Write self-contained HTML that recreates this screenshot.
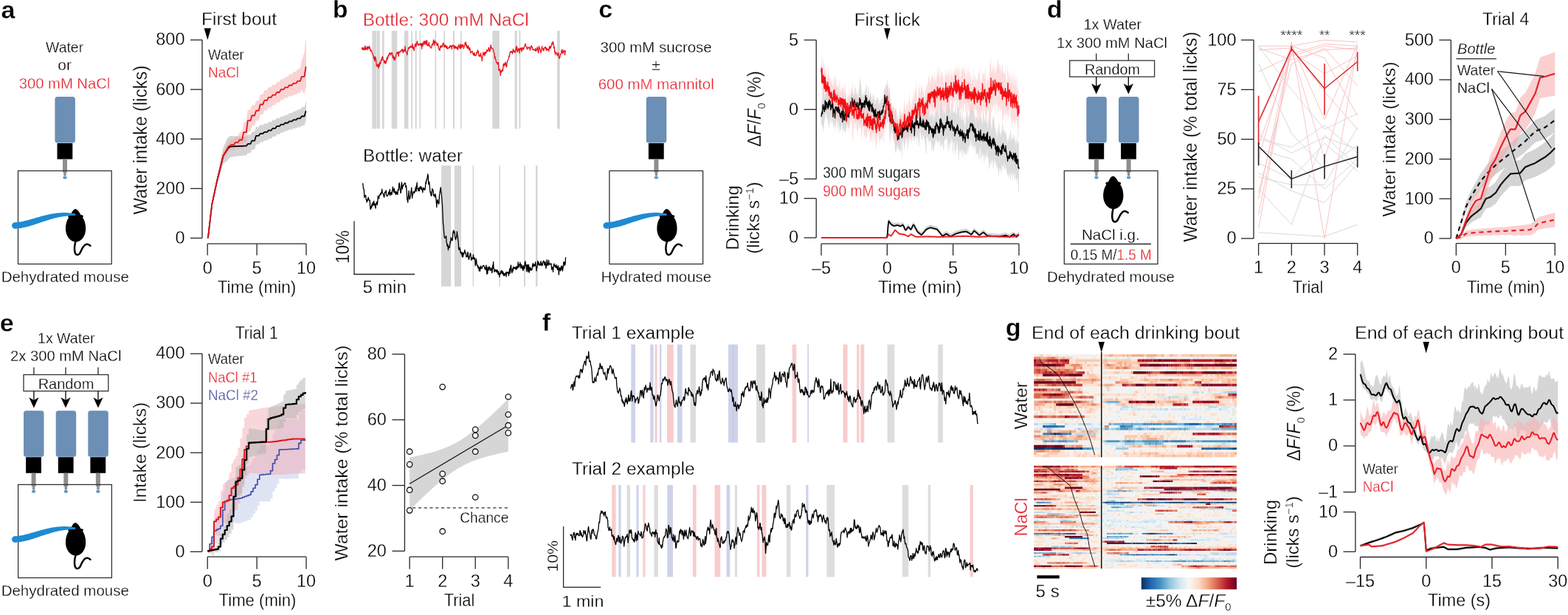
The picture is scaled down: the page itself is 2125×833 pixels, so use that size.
<!DOCTYPE html><html><head><meta charset="utf-8"><title>Figure</title><style>html,body{margin:0;padding:0;background:#fff;overflow:hidden}svg{display:block}text{stroke:#fff;stroke-width:.3px}</style></head><body><svg width="2125" height="833" viewBox="0 0 2125 833" font-family="'Liberation Sans', Arial, Helvetica, sans-serif" font-size="21" fill="#000"><rect width="2125" height="833" fill="#fff"/><text x="1.4" y="24.8" font-size="34" font-weight="bold">a</text>
<text x="87.6" y="71.3" text-anchor="middle" textLength="51" lengthAdjust="spacingAndGlyphs">Water</text>
<text x="87.6" y="95.2" text-anchor="middle">or</text>
<text x="87.5" y="119.7" text-anchor="middle" fill="#e4202a" textLength="123.7" lengthAdjust="spacingAndGlyphs">300 mM NaCl</text>
<rect x="74.4" y="131" width="27.5" height="62.6" rx="3.5" fill="#6c8fb6"/>
<rect x="77.5" y="194" width="20.8" height="21.6" fill="#000"/>
<path d="M85 215.6h6v18h-1.3v4.6h-3.4v-4.6h-1.3z" fill="#8e8e8e"/>
<ellipse cx="88" cy="240.6" rx="2.7" ry="2" fill="#5b97cf"/>
<rect x="24.5" y="231.4" width="126.7" height="126.2" fill="none" stroke="#333" stroke-width="1.3"/>
<g transform="translate(0 0)"><path d="M102.1 283C104.5 283.2 107.5 287 109.6 291.2C110.8 291 112.4 291.3 112.8 292.4C113 293.4 112.6 294.2 112 294.6C114.8 298.5 116.3 304 116.2 310.5C116 319.5 110.5 327.5 102.8 327.8C95 327.5 89.2 319.5 88.9 310.5C88.8 304 90.4 298.5 93.2 294.6C92.5 294.2 92 293.4 92.3 292.4C92.8 291.3 94.3 291 95.5 291.2C97.5 287 99.8 283.2 102.1 283Z" fill="#000"/><path d="M102.6 326.5C101.3 331 100.5 337 101.5 341.5C102.5 346 106.5 346.5 108.8 342C110.5 338.5 112 334 115.5 331.5C118 330 120.5 330.8 122.5 332.8" stroke="#000" stroke-width="2.5" fill="none" stroke-linecap="round"/></g>
<g transform="translate(0 0)"><path d="M20.4 309.7 22.4 309.6 24.4 309.4 26.4 309.2 28.5 308.9 30.4 308.5 32.4 308.1 34.4 307.7 36.3 307.2 38.3 306.7 40.3 306.2 42.2 305.6 44.1 305 46.1 304.4 48 303.7 50 303.1 51.9 302.5 53.9 301.8 55.8 301.1 57.8 300.5 59.8 299.8 61.8 299.2 63.8 298.5 65.8 297.9 67.8 297.3 69.9 296.7 72 296.1 74.1 295.5 76.2 295 78.4 294.5 80.5 294.1 82.8 293.7 85 293.3 87.3 293 89.7 292.7 92 292.4 94.5 292.3 96.9 292.1 99.5 292.1 102.1 292.1 102.3 289.5 99.7 289.1 97.1 288.7 94.5 288.4 92 288.2 89.5 288.1 87 288.1 84.6 288.1 82.1 288.2 79.8 288.4 77.4 288.6 75.1 288.9 72.8 289.2 70.5 289.6 68.3 290 66.1 290.4 63.9 290.9 61.8 291.4 59.7 292 57.6 292.5 55.5 293.1 53.5 293.7 51.5 294.2 49.5 294.8 47.5 295.4 45.6 296 43.7 296.6 41.8 297.1 39.9 297.6 38 298.2 36.2 298.6 34.3 299.1 32.5 299.5 30.7 299.9 28.9 300.3 27.1 300.6 25.3 300.8 23.6 301 21.8 301.2 20 301.3Z" fill="#1e8ad2"/><circle cx="20.3" cy="305.5" r="4.25" fill="#1e8ad2"/></g>
<text x="88.3" y="381.7" text-anchor="middle" font-size="20.3" textLength="173.3" lengthAdjust="spacingAndGlyphs">Dehydrated mouse</text>
<text x="273" y="34" font-size="23" textLength="102" lengthAdjust="spacingAndGlyphs">First bout</text>
<path d="M276.6 38.2L286 38.2L281.3 54Z" fill="#000"/>
<text x="282" y="81" font-size="20" textLength="48.6" lengthAdjust="spacingAndGlyphs">Water</text>
<text x="282" y="105" fill="#e4202a" font-size="20" textLength="42" lengthAdjust="spacingAndGlyphs">NaCl</text>
<path d="M281.2 322.5l.3-.2.4-.1.3-1.7.3-2.8.4-2.7.3-2.8.3-2.7.4-2.8.3-2.8.3-2.7.4-2.8.3-2.7.3-2.8.4-2.7.3-2.8.4-2.8.3-2.7.3-2.8.4-1.4.3-1.4.3-1.4.4-1.4.3-1.5.3-1.4.4-1.4.3-1.4.3-1.4.4-1.5.3-1.4.3-1.4.4-1.4.3-1.4.3-1.5.4-1.4.3-1.4.3-1.4.4-1.4.3-1.5.3-1.3.4-1.2.3-1.1.3-1.1.4-1.1.3-1.1.4-1.1.3-1.1.3-1.1.4-1.1.3-1.1.3-1.1.4-1.1.3-1.1.3-1.1.4-1.1.3-1.1.3-1.1.4-1.1.3-1.1.3-1.1.4-1.1.3-1.1.3-1.1.4-1.1.3-1.1.3-.2.4-.2.3-.3.3-.2.4-.3.3-.2.3-.3.4-.2.3-.3.4-.2.3-.2.3-.3.4-.2.3-.3.3-.2.4-.3.3-.5.3-.6.4-.5.3-.5.3-.6.4-.4.3-.2.3-.2.4-.2.3-.2.3-.2.4-.2.3-.2.3-.2.4-.2.3-.2.3-.1.4 0 .3 0 .3-.1.4 0 .3-.1.4 0 .3 0 .3-.1.4 0 .3-.1.3-.1.4 0 .3-.1.3-.1.4-.1.3 0 .3-.1.4 0 .3-.1.3 0 .4 0 .3-.1.3 0 .4-.1.3 0 .3 0 .4 0 .3-.1.3 0 .4-.1.3-.1.4 0 .3-.1.3 0 .4 0 .3 0 .3 0 .4-.1.3 0 .3 0 .4 0 .3 0 .3-.1.4 0 .3-.1.3 0 .4-.1.3 0 .3-.1.4 0 .3-.1.3 0 .4 0 .3 0 .3 0 .4-.1.3 0 .3 0 .4 0 .3 0 .4-.4.3-.5.3-.5.4-.5.3-.4.3-.5.4-.2.3 0 .3 0 .4 0 .3 0 .3-.1.4 0 .3 0 .3 0 .4 0 .3-.1.3-.6.4-.8.3-.8.3-.7.4-.8.3-.7.3-.1.4 0 .3 0 .3 0 .4 0 .3-.1.4 0 .3 0 .3 0 .4-.1.3-.1.3-1.1.4-1.2.3-1.2.3-1.1.4-1.2.3-.9.3 0 .4-.1.3 0 .3 0 .4 0 .3 0 .3 0 .4 0 .3 0 .3 0 .4-.2.3-.5.3-.5.4-.5.3-.5.3-.5.4-.3.3 0 .4 0 .3 0 .3-.1.4 0 .3 0 .3 0 .4 0 .3 0 .3 0 .4-.2.3-.3.3-.4.4-.3.3-.4.3-.4.4-.1.3 0 .3 0 .4 0 .3 0 .3 0 .4 0 .3-.1.3 0 .4 0 .3 0 .3-.3.4-.4.3-.4.4-.4.3-.4.3-.4.4 0 .3-.1.3 0 .4 0 .3 0 .3 0 .4 0 .3 0 .3 0 .4 0 .3 0 .3-.5.4-.5.3-.4.3-.5.4-.5.3-.5.3 0 .4 0 .3 0 .3-.1.4 0 .3 0 .3 0 .4 0 .3 0 .4 0 .3-.1.3-.4.4-.5.3-.5.3-.5.4-.5.3-.4.3 0 .4 0 .3 0 .3 0 .4-.1.3 0 .3 0 .4 0 .3 0 .3 0 .4-.1.3-.4.3-.4.4-.4.3-.4.3-.4.4-.2.3 0 .4 0 .3 0 .3-.1.4 0 .3 0 .3 0 .4 0 .3 0 .3 0 .4-.2.3-.4.3-.3.4-.4.3-.4.3-.4.4-.1.3 0 .3 0 .4-.1.3 0 .3 0 .4.1.3 0 .3 0 .4 0 .3.1.3-.3.4-.3.3-.3.4-.4.3-.3.3-.3.4-.1.3 0 .3.1.4 0 .3 0 .3 0 .4.1.3 0 .3 0 .4 0 .3.1.3-.3.4-.3.3-.3.3-.4.4-.3.3-.3.3 0 .4.1.3 0 .3 0 .4 0 .3.1.3 0 .4 0 .3 0 .4.1.3 0 .3-.4.4-.3.3-.3.3-.3.4-.3.3-.3.3.1.4 0 .3 0 .3 0 .4.1.3 0 .3 0 .4 0 .3.1.3 0 .4-.1.3-.5.3-.4.4-.5.3-.4.3-.5.4-.3.3.1.3 0 .4 0 .3 0 .4.1.3 0 .3 0 .4 0 .3.1.3 0 .4-.5.3-1.2.3-1.1.4-1.1.3-1.2.3-1.1.4-.5.3.1 0-25.5-.3 0-.4.5-.3 1.2-.3 1.2-.4 1.1-.3 1.2-.3 1.2-.4.6-.3 0-.3 0-.4.1-.3 0-.3 0-.4 0-.3.1-.4 0-.3 0-.3 0-.4.4-.3.5-.3.5-.4.5-.3.5-.3.5-.4.1-.3.1-.3 0-.4 0-.3 0-.3.1-.4 0-.3 0-.3 0-.4.1-.3 0-.3.3-.4.4-.3.3-.3.4-.4.4-.3.3-.3.1-.4 0-.3 0-.4.1-.3 0-.3 0-.4 0-.3.1-.3 0-.4 0-.3 0-.3.4-.4.4-.3.3-.3.4-.4.4-.3.3-.3 0-.4 0-.3.1-.3 0-.4 0-.3 0-.3.1-.4 0-.3 0-.3 0-.4.1-.3.4-.3.4-.4.4-.3.4-.4.4-.3.2-.3.1-.4 0-.3 0-.3 0-.4.1-.3-.1-.3 0-.4 0-.3 0-.3 0-.4.2-.3.3-.3.4-.4.3-.3.4-.3.4-.4.1-.3 0-.3 0-.4 0-.3 0-.3 0-.4 0-.3 0-.3 0-.4-.1-.3 0-.4.3-.3.3-.3.4-.4.4-.3.4-.3.3-.4.1-.3 0-.3 0-.4 0-.3 0-.3 0-.4 0-.3 0-.3 0-.4 0-.3 0-.3.3-.4.5-.3.5-.3.5-.4.4-.3.5-.3 0-.4 0-.3 0-.4 0-.3 0-.3 0-.4 0-.3 0-.3 0-.4 0-.3 0-.3.4-.4.5-.3.5-.3.5-.4.4-.3.5-.3 0-.4-.1-.3 0-.3 0-.4 0-.3 0-.3 0-.4 0-.3 0-.3 0-.4 0-.3.4-.3.4-.4.4-.3.4-.4.4-.3.2-.3 0-.4 0-.3 0-.3 0-.4 0-.3 0-.3 0-.4 0-.3-.1-.3 0-.4.2-.3.3-.3.3-.4.4-.3.3-.3.4-.4.1-.3 0-.3 0-.4 0-.3 0-.3 0-.4 0-.3 0-.3-.1-.4 0-.3 0-.4.3-.3.5-.3.5-.4.5-.3.5-.3.5-.4.1-.3 0-.3 0-.4 0-.3 0-.3 0-.4-.1-.3 0-.3 0-.4 0-.3 0-.3.9-.4 1.1-.3 1.1-.3 1.1-.4 1.2-.3 1.1-.3 0-.4 0-.3 0-.3 0-.4 0-.3-.1-.4 0-.3 0-.3 0-.4 0-.3-.1-.3.8-.4.7-.3.7-.3.7-.4.7-.3.7-.3-.1-.4 0-.3 0-.3 0-.4 0-.3-.1-.3 0-.4 0-.3 0-.3 0-.4 0-.3.5-.3.4-.4.5-.3.4-.3.5-.4.3-.3-.1-.4 0-.3 0-.3 0-.4 0-.3-.1-.3 0-.4 0-.3 0-.3 0-.4 0-.3 0-.3 0-.4 0-.3 0-.3 0-.4 0-.3 0-.3 0-.4 0-.3-.1-.3 0-.4 0-.3 0-.3 0-.4-.1-.3 0-.3 0-.4 0-.3.1-.4 0-.3 0-.3 0-.4 0-.3 0-.3-.1-.4 0-.3 0-.3-.1-.4 0-.3 0-.3-.1-.4 0-.3-.1-.3 0-.4 0-.3 0-.3 0-.4 0-.3 0-.3 0-.4-.1-.3 0-.3-.1-.4 0-.3-.1-.4 0-.3 0-.3-.1-.4 0-.3-.1-.3.2-.4.1-.3.1-.3.1-.4.1-.3.2-.3.1-.4.1-.3.1-.3.1-.4.4-.3.4-.3.5-.4.4-.3.5-.3.4-.4.8-.3.7-.3.8-.4.7-.3.8-.3.7-.4.8-.3.7-.4.8-.3.7-.3.8-.4.7-.3.8-.3.7-.4.8-.3.7-.3 1.6-.4 1.6-.3 1.6-.3 1.6-.4 1.6-.3 1.6-.3 1.6-.4 1.6-.3 1.6-.3 1.6-.4 1.6-.3 1.6-.3 1.6-.4 1.6-.3 1.6-.3 1.6-.4 1.6-.3 1.6-.3 1.6-.4 1.6-.3 1.6-.4 1.6-.3 1.6-.3 1.6-.4 1.5-.3 1.6-.3 1.6-.4 1.7-.3 1.7-.3 1.7-.4 1.6-.3 1.7-.3 1.7-.4 1.6-.3 1.7-.3 1.7-.4 1.7-.3 1.6-.3 1.7-.4 1.7-.3 1.6-.3 1.7-.4 1.7-.3 1.7-.3 1.6-.4 1.7-.3 3-.3 3-.4 3-.3 3-.4 3-.3 3.1-.3 3-.4 3-.3 3-.3 3-.4 3-.3 3-.3 3-.4 3-.3 3-.3 2-.4.4-.3.4Z" fill="#d4d4d4"/>
<path d="M281.2 322.5l.3-.2.4-.2.3-1.7.3-2.8.4-2.8.3-2.8.3-2.8.4-2.8.3-2.8.3-2.8.4-2.8.3-2.8.3-2.8.4-2.8.3-2.8.4-2.8.3-2.8.3-2.8.4-1.5.3-1.4.3-1.5.4-1.5.3-1.4.3-1.5.4-1.5.3-1.4.3-1.5.4-1.4.3-1.5.3-1.5.4-1.4.3-1.5.3-1.4.4-1.5.3-1.5.3-1.4.4-1.5.3-1.5.3-1.3.4-1.3.3-1.2.3-1.3.4-1.3.3-1.2.4-1.3.3-1.3.3-1.2.4-1.3.3-1.3.3-1.2.4-1.3.3-1.3.3-1.2.4-1.3.3-1.3.3-1.2.4-1.3.3-1.3.3-1.2.4-1.3.3-1.3.3-1.2.4-1.3.3-1.3.3-.4.4-.5.3-.5.3-.5.4-.5.3-.5.3-.5.4-.5.3-.5.4-.5.3-.5.3-.4.4-.5.3-.5.3-.5.4-.5.3-.5.3-.6.4-.5.3-.5.3-.6.4-.4.3-.1.3-.2.4-.1.3-.2.3-.2.4-.1.3-.2.3-.2.4-.1.3-.2.3 0 .4.1.3 0 .3.1.4 0 .3.1.4 0 .3 0 .3.1.4 0 .3 0 .3-.5.4-.6.3-.5.3-.6.4-.5.3-.4.3 0 .4 0 .3.1.3 0 .4.1.3 0 .3.1.4.1.3.2.3.2.4 0 .3-.4.3-.4.4-.4.3-.4.4-.4.3-.1.3.1.4.2.3.2.3.1.4.2.3.2.3.2.4.1.3.2.3.2.4-.7.3-1.6.3-1.6.4-1.7.3-1.6.3-1.6.4-.5.3.2.3.1.4.2.3.2.3.1.4.2.3.2.3.1.4.2.3.2.4-1.7.3-2.5.3-2.5.4-2.7.3-2.7.3-2.7.4-.6.3 0 .3-.1.4 0 .3-.1.3 0 .4 0 .3-.1.3 0 .4-.1.3 0 .3-1.1.4-1.2.3-1.2.3-1.2.4-1.3.3-1.2.3 0 .4-.1.3 0 .3-.1.4 0 .3 0 .4-.1.3 0 .3-.1.4 0 .3-.1.3-1.2.4-1.1.3-1.2.3-1.1.4-1.2.3-.9.3 0 .4-.1.3 0 .3 0 .4 0 .3 0 .3 0 .4 0 .3 0 .3 0 .4-.4.3-1.4.3-1.4.4-1.5.3-1.4.3-1.4.4-.9.3.1.4 0 .3 0 .3 0 .4 0 .3 0 .3 0 .4 0 .3 0 .3 0 .4-.4.3-1 .3-.9.4-1 .3-.9.3-1 .4-.4.3 0 .3.1.4 0 .3 0 .3 0 .4 0 .3 0 .3 0 .4 0 .3 0 .3-.5.4-.7.3-.6.4-.7.3-.7.3-.7.4-.2.3.1.3 0 .4 0 .3 0 .3 0 .4 0 .3 0 .3 0 .4 0 .3 0 .3-.5.4-.5.3-.6.3-.5.4-.6.3-.5.3 0 .4 0 .3 0 .3 0 .4 0 .3 0 .3 0 .4 0 .3 0 .4 0 .3 0 .3-.6.4-.6.3-.6.3-.7.4-.6.3-.5.3 0 .4.1.3 0 .3 0 .4 0 .3 0 .3 0 .4 0 .3 0 .3 0 .4-.2.3-.6.3-.7.4-.6.3-.6.3-.7.4-.3.3 0 .4 0 .3 0 .3 0 .4 0 .3 0 .3 0 .4 0 .3 0 .3 0 .4-.2.3-.5.3-.5.4-.5.3-.5.3-.5.4-.1.3 0 .3 0 .4 0 .3 0 .3 0 .4 0 .3.1.3 0 .4.1.3 0 .3-.3.4-.4.3-.4.4-.5.3-.4.3-.5.4 0 .3 0 .3.1.4 0 .3.1.3 0 .4.1.3 0 .3.1.4 0 .3 0 .3-.3.4-.4.3-.4.3-.5.4-.4.3-.4.3 0 .4.1.3 0 .3.1.4 0 .3.1.3 0 .4.1.3 0 .4.1.3 0 .3-.5.4-.4.3-.5.3-.4.4-.4.3-.4.3.1.4 0 .3 0 .3.1.4 0 .3.1.3 0 .4.1.3 0 .3.1.4-.3.3-1 .3-1 .4-1 .3-.9.3-.5.4 0 .3.6.3.6.4.5.3.6.4.6.3.6.3.6.4.6.3.6.3.6.4-.5.3-1.7.3-1.6.4-1.7.3-1.6.3-1.7.4-.3.3.6 0-67.1-.3.6-.4 1.5-.3 2.8-.3 2.8-.4 3.3-.3 3.2-.3 3.2-.4 2.1-.3 1-.3 1-.4 1-.3 1-.3 1.1-.4 1-.3 1-.4 1-.3 1-.3 1-.4 1.6-.3 2.1-.3 1.5-.4 1.5-.3 1.4-.3 1.5-.4.8-.3.5-.3.4-.4.5-.3 0-.3.1-.4 0-.3.1-.3 0-.4.1-.3 0-.3.4-.4.6-.3.5-.3.5-.4.6-.3.5-.3.1-.4 0-.3.1-.4 0-.3 0-.3.1-.4 0-.3.1-.3 0-.4.1-.3 0-.3.5-.4.5-.3.5-.3.5-.4.5-.3.5-.3 0-.4.1-.3 0-.3.1-.4 0-.3.1-.3 0-.4.1-.3 0-.3 0-.4.2-.3.5-.3.5-.4.6-.3.5-.4.5-.3.4-.3 0-.4.1-.3 0-.3.1-.4 0-.3 0-.3 0-.4 0-.3 0-.3 0-.4.2-.3.5-.3.5-.4.5-.3.5-.3.5-.4.3-.3 0-.3 0-.4 0-.3 0-.3 0-.4 0-.3 0-.3 0-.4 0-.3 0-.4.4-.3.7-.3.6-.4.7-.3.6-.3.7-.4.1-.3 0-.3.1-.4 0-.3 0-.3 0-.4 0-.3 0-.3 0-.4 0-.3 0-.3.5-.4.6-.3.6-.3.7-.4.6-.3.6-.3.1-.4 0-.3 0-.4 0-.3 0-.3 0-.4 0-.3 0-.3 0-.4 0-.3 0-.3.6-.4.5-.3.6-.3.6-.4.5-.3.5-.3 0-.4 0-.3 0-.3 0-.4 0-.3 0-.3.1-.4 0-.3 0-.3 0-.4.1-.3.7-.3.7-.4.7-.3.7-.4.7-.3.5-.3 0-.4 0-.3 0-.3 0-.4 0-.3 0-.3 0-.4 0-.3.1-.3 0-.4.3-.3 1-.3 1-.4.9-.3 1-.3.9-.4.5-.3 0-.3 0-.4 0-.3 0-.3 0-.4 0-.3 0-.3 0-.4 0-.3.1-.4.8-.3 1.4-.3 1.5-.4 1.4-.3 1.5-.3 1.4-.4.4-.3 0-.3 0-.4 0-.3 0-.3 0-.4 0-.3 0-.3 0-.4-.1-.3 0-.3.8-.4 1.1-.3 1.1-.3 1-.4 1.1-.3 1.1-.3 0-.4 0-.3-.1-.3 0-.4-.1-.3 0-.4 0-.3-.1-.3 0-.4-.1-.3 0-.3 1.1-.4 1.2-.3 1.1-.3 1.1-.4 1.2-.3 1-.3-.1-.4 0-.3-.1-.3 0-.4 0-.3-.1-.3 0-.4-.1-.3 0-.3-.1-.4.5-.3 2.7-.3 2.6-.4 2.6-.3 2.9-.3 2.8-.4 2-.3.1-.4.2-.3.2-.3.1-.4.2-.3.2-.3.1-.4.2-.3.2-.3.2-.4.8-.3 2-.3 1.9-.4 2-.3 1.9-.3 2-.4 1-.3.1-.3.2-.4.2-.3.1-.3.2-.4.2-.3.1-.3.2-.4.2-.3.1-.3.5-.4.8-.3.7-.4.7-.3.7-.3.8-.4.3-.3.1-.3.2-.4.2-.3 0-.3.1-.4 0-.3 0-.3.1-.4 0-.3.1-.3.5-.4.6-.3.6-.3.7-.4.6-.3.6-.3.1-.4.1-.3 0-.3 0-.4.1-.3 0-.4.1-.3 0-.3.1-.4 0-.3 0-.3.3-.4.2-.3.3-.3.2-.4.3-.3.2-.3.3-.4.2-.3.3-.3.2-.4.5-.3.6-.3.6-.4.6-.3.7-.3.6-.4.6-.3.7-.3.6-.4.7-.3.7-.3.6-.4.7-.3.6-.4.7-.3.7-.3.6-.4.7-.3.6-.3.7-.4.7-.3.6-.3 1.4-.4 1.5-.3 1.4-.3 1.4-.4 1.5-.3 1.4-.3 1.4-.4 1.5-.3 1.4-.3 1.4-.4 1.5-.3 1.4-.3 1.4-.4 1.5-.3 1.4-.3 1.5-.4 1.4-.3 1.4-.3 1.5-.4 1.4-.3 1.4-.4 1.5-.3 1.4-.3 1.4-.4 1.5-.3 1.5-.3 1.6-.4 1.6-.3 1.7-.3 1.6-.4 1.6-.3 1.6-.3 1.7-.4 1.6-.3 1.6-.3 1.7-.4 1.6-.3 1.6-.3 1.7-.4 1.6-.3 1.6-.3 1.6-.4 1.7-.3 1.6-.3 1.6-.4 1.7-.3 2.9-.3 3-.4 3-.3 2.9-.4 3-.3 3-.3 2.9-.4 3-.3 3-.3 2.9-.4 3-.3 3-.3 2.9-.4 3-.3 2.9-.3 2-.4.3-.3.4Z" fill="#f6a7aa" fill-opacity="0.5"/>
<path d="M281.2 322.5l.3-.3.4-.3.3-1.8.3-2.9.4-2.9.3-2.8.3-2.9.4-2.9.3-2.9.3-2.9.4-2.9.3-2.8.3-2.9.4-2.9.3-2.9.4-2.9.3-2.8.3-2.9.4-1.6.3-1.5.3-1.6.4-1.5.3-1.6.3-1.5.4-1.5.3-1.6.3-1.5.4-1.6.3-1.5.3-1.6.4-1.5.3-1.6.3-1.5.4-1.6.3-1.5.3-1.6.4-1.5.3-1.5.3-1.5.4-1.3.3-1.4.3-1.3.4-1.4.3-1.3.4-1.4.3-1.3.3-1.4.4-1.3.3-1.4.3-1.3.4-1.4.3-1.3.3-1.4.4-1.3.3-1.4.3-1.3.4-1.4.3-1.3.3-1.4.4-1.3.3-1.4.3-1.3.4-1.4.3-1.3.3-.5.4-.5.3-.5.3-.5.4-.5.3-.5.3-.5.4-.5.3-.5.4-.5.3-.5.3-.5.4-.5.3-.5.3-.5.4-.5.3-.5.3-.5.4-.5.3-.5.3-.5.4-.3.3-.2.3-.1.4-.2.3-.2.3-.1.4-.2.3-.2.3-.1.4-.2.3-.1.3 0 .4 0 .3 0 .3 0 .4 0 .3 0 .4 0 .3 0 .3 0 .4 0 .3 0 .3-.1.4 0 .3 0 .3-.1.4 0 .3-.1.3 0 .4 0 .3 0 .3 0 .4 0 .3 0 .3 0 .4 0 .3 0 .3 0 .4 0 .3 0 .3 0 .4-.1.3 0 .4 0 .3-.1.3 0 .4 0 .3 0 .3 0 .4 0 .3 0 .3 0 .4 0 .3 0 .3 0 .4 0 .3 0 .3-.1.4 0 .3 0 .3-.1.4 0 .3 0 .3 0 .4 0 .3 0 .3 0 .4 0 .3 0 .3 0 .4 0 .3 0 .4-.3.3-.5.3-.4.4-.5.3-.5.3-.5.4-.1.3 0 .3 0 .4 0 .3 0 .3 0 .4 0 .3 0 .3 0 .4 0 .3 0 .3-.6.4-.7.3-.8.3-.7.4-.8.3-.7.3 0 .4 0 .3 0 .3 0 .4 0 .3 0 .4 0 .3 0 .3 0 .4 0 .3-.1.3-1.1.4-1.2.3-1.1.3-1.2.4-1.1.3-.9.3 0 .4 0 .3 0 .3 0 .4 0 .3 0 .3 0 .4 0 .3 0 .3 0 .4-.2.3-.5.3-.5.4-.5.3-.5.3-.5.4-.2.3 0 .4 0 .3 0 .3 0 .4 0 .3 0 .3 0 .4 0 .3 0 .3 0 .4-.2.3-.4.3-.3.4-.4.3-.3.3-.3.4-.2.3 0 .3 0 .4 0 .3 0 .3 0 .4 0 .3 0 .3 0 .4 0 .3 0 .3-.2.4-.4.3-.4.4-.4.3-.4.3-.4.4-.1.3 0 .3 0 .4 0 .3 0 .3 0 .4 0 .3 0 .3 0 .4 0 .3 0 .3-.4.4-.5.3-.5.3-.5.4-.4.3-.5.3 0 .4 0 .3 0 .3 0 .4 0 .3 0 .3 0 .4 0 .3 0 .4 0 .3-.1.3-.5.4-.4.3-.5.3-.5.4-.5.3-.4.3 0 .4 0 .3 0 .3 0 .4 0 .3 0 .3 0 .4 0 .3 0 .3 0 .4-.1.3-.4.3-.4.4-.3.3-.4.3-.4.4-.2.3 0 .4 0 .3 0 .3 0 .4 0 .3 0 .3 0 .4 0 .3 0 .3 0 .4-.2.3-.4.3-.4.4-.3.3-.4.3-.4.4-.1.3 0 .3 0 .4 0 .3 0 .3 0 .4 0 .3 0 .3 0 .4 0 .3 0 .3-.3.4-.3.3-.4.4-.3.3-.4.3-.3.4-.1.3 0 .3 0 .4 0 .3 0 .3 0 .4 0 .3 0 .3 0 .4 0 .3 0 .3-.3.4-.4.3-.3.3-.3.4-.4.3-.3.3 0 .4 0 .3 0 .3 0 .4 0 .3 0 .3 0 .4 0 .3 0 .4 0 .3-.1.3-.3.4-.3.3-.4.3-.3.4-.4.3-.2.3 0 .4 0 .3 0 .3 0 .4 0 .3 0 .3 0 .4 0 .3 0 .3 0 .4-.2.3-.5.3-.4.4-.5.3-.5.3-.5.4-.3.3 0 .3 0 .4 0 .3 0 .4 0 .3 0 .3 0 .4 0 .3 0 .3 0 .4-.5.3-1.2.3-1.1.4-1.2.3-1.2.3-1.1.4-.5.3 0" stroke="#000" stroke-width="1.8" fill="none" stroke-linejoin="round"/>
<path d="M281.2 322.5l.3-.3.4-.3.3-1.8.3-2.9.4-2.9.3-2.8.3-2.9.4-2.9.3-2.9.3-2.9.4-2.9.3-2.8.3-2.9.4-2.9.3-2.9.4-2.9.3-2.8.3-2.9.4-1.6.3-1.5.3-1.6.4-1.5.3-1.6.3-1.5.4-1.5.3-1.6.3-1.5.4-1.6.3-1.5.3-1.6.4-1.5.3-1.6.3-1.5.4-1.6.3-1.5.3-1.6.4-1.5.3-1.5.3-1.5.4-1.3.3-1.4.3-1.3.4-1.4.3-1.3.4-1.4.3-1.3.3-1.4.4-1.3.3-1.4.3-1.3.4-1.4.3-1.3.3-1.4.4-1.3.3-1.4.3-1.3.4-1.4.3-1.3.3-1.4.4-1.3.3-1.4.3-1.3.4-1.4.3-1.3.3-.6.4-.6.3-.5.3-.6.4-.6.3-.6.3-.5.4-.6.3-.6.4-.6.3-.5.3-.6.4-.6.3-.6.3-.5.4-.6.3-.6.3-.6.4-.5.3-.6.3-.6.4-.4.3-.2.3-.2.4-.2.3-.2.3-.2.4-.3.3-.2.3-.2.4-.2.3-.2.3 0 .4 0 .3 0 .3 0 .4 0 .3 0 .4 0 .3 0 .3 0 .4 0 .3 0 .3-.6.4-.6.3-.6.3-.6.4-.6.3-.4.3 0 .4 0 .3 0 .3 0 .4 0 .3 0 .3 0 .4 0 .3 0 .3 0 .4-.2.3-.5.3-.6.4-.5.3-.6.4-.6.3-.3.3 0 .4 0 .3 0 .3 0 .4 0 .3 0 .3 0 .4 0 .3 0 .3 0 .4-.8.3-1.8.3-1.8.4-1.8.3-1.7.3-1.8.4-.7.3 0 .3 0 .4 0 .3 0 .3 0 .4 0 .3 0 .3 0 .4 0 .3 0 .4-1.8.3-2.7.3-2.7.4-2.7.3-2.6.3-2.7.4-.5.3 0 .3 0 .4 0 .3 0 .3 0 .4 0 .3 0 .3 0 .4 0 .3 0 .3-1.1.4-1.1.3-1.2.3-1.2.4-1.2.3-1.1.3 0 .4 0 .3 0 .3 0 .4 0 .3 0 .4 0 .3 0 .3 0 .4 0 .3-.1.3-1.1.4-1.1.3-1.2.3-1.1.4-1.1.3-.9.3 0 .4 0 .3 0 .3 0 .4 0 .3 0 .3 0 .4 0 .3 0 .3 0 .4-.4.3-1.4.3-1.4.4-1.4.3-1.5.3-1.4.4-.9.3 0 .4 0 .3 0 .3 0 .4 0 .3 0 .3 0 .4 0 .3 0 .3 0 .4-.4.3-1 .3-.9.4-1 .3-.9.3-1 .4-.4.3 0 .3 0 .4 0 .3 0 .3 0 .4 0 .3 0 .3 0 .4 0 .3 0 .3-.4.4-.7.3-.7.4-.7.3-.7.3-.7.4-.1.3 0 .3 0 .4 0 .3 0 .3 0 .4 0 .3 0 .3 0 .4 0 .3 0 .3-.5.4-.6.3-.5.3-.6.4-.5.3-.6.3 0 .4 0 .3 0 .3 0 .4 0 .3 0 .3 0 .4 0 .3 0 .4 0 .3 0 .3-.7.4-.6.3-.6.3-.6.4-.6.3-.5.3 0 .4 0 .3 0 .3 0 .4 0 .3 0 .3 0 .4 0 .3 0 .3 0 .4-.2.3-.7.3-.6.4-.6.3-.7.3-.6.4-.4.3 0 .4 0 .3 0 .3 0 .4 0 .3 0 .3 0 .4 0 .3 0 .3 0 .4-.3.3-.4.3-.5.4-.5.3-.5.3-.5.4-.2.3 0 .3 0 .4 0 .3 0 .3 0 .4 0 .3 0 .3 0 .4 0 .3 0 .3-.3.4-.5.3-.5.4-.5.3-.5.3-.4.4-.1.3 0 .3 0 .4 0 .3 0 .3 0 .4 0 .3 0 .3 0 .4 0 .3 0 .3-.4.4-.5.3-.5.3-.4.4-.5.3-.4.3 0 .4 0 .3 0 .3 0 .4 0 .3 0 .3 0 .4 0 .3 0 .4 0 .3-.1.3-.5.4-.4.3-.5.3-.5.4-.5.3-.4.3 0 .4 0 .3 0 .3 0 .4 0 .3 0 .3 0 .4 0 .3 0 .3 0 .4-.3.3-1 .3-1 .4-1.1.3-1 .3-1 .4-.7.3 0 .3 0 .4 0 .3 0 .4 0 .3 0 .3 0 .4 0 .3 0 .3 0 .4-1 .3-2.3.3-2.2.4-2.3.3-2.2.3-2.2.4-.9.3 0" stroke="#e3141c" stroke-width="1.8" fill="none" stroke-linejoin="round"/>
<path d="M274 54.1L274 322.5" stroke="#262626" stroke-width="1.3" fill="none"/>
<path d="M258 322.5L274 322.5" stroke="#262626" stroke-width="1.3" fill="none"/>
<text x="250.5" y="329.8" text-anchor="end" font-size="24.2" textLength="13.1" lengthAdjust="spacingAndGlyphs">0</text>
<path d="M258 255.4L274 255.4" stroke="#262626" stroke-width="1.3" fill="none"/>
<text x="250.5" y="262.7" text-anchor="end" font-size="24.2" textLength="39.2" lengthAdjust="spacingAndGlyphs">200</text>
<path d="M258 188.3L274 188.3" stroke="#262626" stroke-width="1.3" fill="none"/>
<text x="250.5" y="195.6" text-anchor="end" font-size="24.2" textLength="39.2" lengthAdjust="spacingAndGlyphs">400</text>
<path d="M258 121.2L274 121.2" stroke="#262626" stroke-width="1.3" fill="none"/>
<text x="250.5" y="128.5" text-anchor="end" font-size="24.2" textLength="39.2" lengthAdjust="spacingAndGlyphs">600</text>
<path d="M258 54.1L274 54.1" stroke="#262626" stroke-width="1.3" fill="none"/>
<text x="250.5" y="61.4" text-anchor="end" font-size="24.2" textLength="39.2" lengthAdjust="spacingAndGlyphs">800</text>
<path d="M281.2 330.2L415 330.2" stroke="#262626" stroke-width="1.3" fill="none"/>
<path d="M281.2 330.2L281.2 345.7" stroke="#262626" stroke-width="1.3" fill="none"/>
<text x="281.2" y="370.5" text-anchor="middle" font-size="24.2" textLength="13.1" lengthAdjust="spacingAndGlyphs">0</text>
<path d="M348.1 330.2L348.1 345.7" stroke="#262626" stroke-width="1.3" fill="none"/>
<text x="348.1" y="370.5" text-anchor="middle" font-size="24.2" textLength="13.1" lengthAdjust="spacingAndGlyphs">5</text>
<path d="M415 330.2L415 345.7" stroke="#262626" stroke-width="1.3" fill="none"/>
<text x="415" y="370.5" text-anchor="middle" font-size="24.2" textLength="26.1" lengthAdjust="spacingAndGlyphs">10</text>
<text x="348" y="397.3" text-anchor="middle" font-size="24.5" textLength="106.7" lengthAdjust="spacingAndGlyphs">Time (min)</text>
<text x="198.6" y="189.6" text-anchor="middle" font-size="25" textLength="202" lengthAdjust="spacingAndGlyphs" transform="rotate(-90 198.6 189.6)">Water intake (licks)</text>
<text x="450.8" y="24" font-size="34" font-weight="bold">b</text>
<text x="491.7" y="35" fill="#e4202a" font-size="23" textLength="225" lengthAdjust="spacingAndGlyphs">Bottle: 300 mM NaCl</text>
<rect x="504.3" y="41.6" width="6.2" height="132.8" fill="#d6d6d6"/>
<rect x="511" y="41.6" width="3.8" height="132.8" fill="#d6d6d6"/>
<rect x="518" y="41.6" width="2.6" height="132.8" fill="#d6d6d6"/>
<rect x="530.7" y="41.6" width="7.6" height="132.8" fill="#d6d6d6"/>
<rect x="547.9" y="41.6" width="5.5" height="132.8" fill="#d6d6d6"/>
<rect x="557.2" y="41.6" width="1.8" height="132.8" fill="#d6d6d6"/>
<rect x="562.7" y="41.6" width="2" height="132.8" fill="#d6d6d6"/>
<rect x="568.5" y="41.6" width="1.5" height="132.8" fill="#d6d6d6"/>
<rect x="589.4" y="41.6" width="1.8" height="132.8" fill="#d6d6d6"/>
<rect x="601.3" y="41.6" width="1.7" height="132.8" fill="#d6d6d6"/>
<rect x="613.9" y="41.6" width="2.1" height="132.8" fill="#d6d6d6"/>
<rect x="624" y="41.6" width="1.7" height="132.8" fill="#d6d6d6"/>
<rect x="667.3" y="41.6" width="9.6" height="132.8" fill="#d6d6d6"/>
<rect x="697.6" y="41.6" width="3.2" height="132.8" fill="#d6d6d6"/>
<rect x="703.4" y="41.6" width="2" height="132.8" fill="#d6d6d6"/>
<rect x="755" y="41.6" width="3.8" height="132.8" fill="#d6d6d6"/>
<path d="M490.4 66.9l.5-2.5.4.3.5 2.8.4-2.7.5 0 .5 2.7.4.2.5-1 .5-4.3.4-.2.5 5.2.4-2.6.5 1.7.5-1.9.4 1.2.5-2.7.4 4.3.5-3.9.5.9.4-.8.5 2.4.5-3.7.4 2.2.5.5.4 3.2.5 1.2.5-1.6.4 1.3.5.2.4 2.7.5.2.5.6.4 2.2.5.9.5 3.8.4-2.5.5 3.3.4 2.5.5-6.1.5.4.4 1.5.5 3.4.4 6.5.5-1.1.5 2.9.4-.7.5-2.6.5.2.4 4.8.5-2.4.4-3.6.5 3.2.5-5.5.4 2.6.5-.3.4-3.9.5-1.6.5 1.5.4-4.5.5 2.3.5-3.3.4 4.2.5.3.4.5.5.7.5 3.1.4-3.1.5 2.2.5.1.4 1.7.5-4.7.4 2.5.5-4.3.5-2.2.4 2.6.5-.6.4-3.5.5-1.6.5 1.3.4-2.2.5-1.7.5 1.4.4-1.8.5 1.3.4 1.7.5-1.8.5-1.2.4-.1.5.4.4 2.8.5 4 .5-3 .4.3.5 4.9.5-2.3.4-.8.5 3.7.4-2.6.5-1 .5-1.2.4-2.8.5-1.7.4-.1.5-1.6.5 2 .4-1.9.5 1.5.5 4 .4-6.2.5 1.1.4-.1.5-.2.5-1.5.4 1 .5-1.4.4-.1.5-1.9.5 1.7.4.9.5-2.7.5 4.9.4-1.8.5-1.6.4-.6.5 1.9.5-2.7.4-3.8.5 5.1.4 1.2.5 1.3.5.8.4-.6.5 3.5.5-4.2.4-1.3.5-2.5.4-1.6.5 1.5.5-1.2.4-1.6.5-.1.4.3.5.7.5-2.4.4 1 .5.7.5.8.4-.2.5-4.5.4 6.1.5-2 .5 1.7.4 3.2.5-3.2.4-2.5.5-2.2.5-1.5.4 2.8.5 1.1.5-4.3.4 2.1.5-5.2.4.7.5 2.7.5.1.4 2.2.5-1 .4.4.5-1.3.5.6.4-.4.5-1 .5 2.7.4-1.1.5-1.5.4 7.2.5-5.9.5-1.5.4 3.5.5-.9.5-4.5.4-.7.5.8.4 3.1.5-3.3.5-1.4.4 2 .5 3.1.4-4.6.5.5.5-1.6.4 6.7.5.6.5-.8.4-1.2.5 1.5.4-4.2.5 5.3.5-.9.4.8.5 1.2.4.6.5.9.5-.6.4-1.7.5-3 .5 1.4.4-2.3.5.7.4-4 .5-1.9.5 4.5.4 3.2.5-4.3.4-1.7.5 1.9.5.2.4.7.5-.5.5 2.7.4 1.2.5-1.5.4-1.4.5 2.3.5 3.2.4 2.1.5 1 .4-.6.5 1.7.5-5.9.4-.2.5 1.9.5-2.3.4.5.5 1 .4.2.5-3.9.5-.8.4.1.5-.9.4 5.3.5-.5.5-1.7.4 2 .5-2.5.5 1.7.4 1.8.5-1.9.4 3 .5-3.1.5 3.6.4-.4.5.4.4-.6.5-.6.5-.7.4-.7.5 1.6.5-3.4.4 1.5.5-1.1.4.9.5 0 .5 3.7.4-5.2.5 1 .4-1 .5-.2.5.7.4 1.9.5 2.2.5-3.9.4 2.4.5-1.8.4 2.7.5-1.8.5.3.4.9.5 1.4.4-2.2.5.1.5 3.1.4-3.7.5-2.8.5 2 .4-.1.5 2 .4 1 .5-5.9.5 6.1.4-1.2.5-2 .4-1.9.5 3.5.5-3.1.4-.7.5 1.9.5-.3.4 4 .5-2.6.4-1.2.5-.9.5-3.5.4 2.6.5-3.2.5 5.1.4-2.1.5 4.1.4-1.5.5 2.8.5-.1.4-3.6.5.7.4 2.8.5 2.6.5-2.2.4-.8.5 2.7.5 3.4.4 1.1.5-1.9.4-.4.5-.4.5 1.1.4-.9.5 3.4.4 1.1.5-1.7.5 2.8.4-2.4.5-1.2.5 3.7.4-.4.5-.1.4.3.5-.7.5-3.8.4.1.5 1 .4-3.7.5.6.5 1.2.4 4.2.5 1.9.5.3.4-1.2.5 1.4.4-2.3.5-2.2.5 4 .4 2 .5.7.4 3.9.5-4.6.5-2.2.4-4.9.5 3.4.5-.3.4-.1.5-2.8.4 4.6.5-5 .5.3.4 1.5.5-2 .4.6.5-3.7.5 1.9.4-1.1.5 1.3.5-1.3.4-3.4.5-.3.4 2.4.5 3.1.5-1 .4-1.3.5-5.3.4-1.5.5 3.9.5 1.1.4-.8.5.9.5 0 .4.5.5 1.7.4 1.9.5 1.2.5 1.9.4 5.7.5-2.1.4 3.2.5.5.5 2.2.4 1.9.5.5.5-.4.4 2.1.5.4.4-2.2.5-.5.5 11 .4-.6.5-.2.4-1 .5 3.1.5 5.7.4-6.8.5 2.4.5-.2.4-2.7.5.6.4-1.9.5 2.2.5-7.7.4-1.9.5 1.9.4 1.1.5-3.2.5 1.4.4-2.2.5-1.2.5 4.3.4 1.6.5.5.4-4.2.5-2.6.5-2 .4-.9.5-.6.5-1 .4-3.6.5 1 .4-3.1.5-2.4.5-1.3.4-.1.5 1.2.4-1.6.5.3.5.2.4 3 .5-1.3.5-5.1.4 2.9.5-1.4.4 2 .5-1 .5 1.5.4.8.5-1.7.4-2.4.5-3.8.5 4.5.4-5.2.5 4 .5 3.6.4-.6.5-1.8.4-2 .5.2.5.3.4 5.7.5-6.5.4 1.4.5-1.6.5-.6.4 2.4.5 2.7.5-4.1.4-1.1.5 1.2.4-1.1.5 2.6.5-1 .4-1.6.5-1.5.4-.6.5-1.9.5-1.7.4 3.1.5.4.5.5.4.3.5 3.5.4-1.7.5.4.5-1.6.4.2.5.8.4-.2.5-.8.5 1.7.4 2.4.5-1.9.5-3.3.4-.3.5-.7.4 2.3.5-.8.5 2.2.4 1.8.5-.1.4-.7.5.6.5.8.4 0 .5.3.5-1.3.4-1.6.5 4.1.4-1.9.5.2.5-.8.4-3 .5 1.6.4 2.8.5 3.1.5-1.7.4-7.1.5 2.2.5-.1.4 1.9.5.4.4 4.2.5-1.4.5-.6.4-1.7.5-5 .4 2.9.5.3.5-.2.4 3 .5 0 .5-2.5.4-1.1.5-1.1.4.7.5-1.1.5 2.9.4-1.8.5 3.8.5-2.6.4.8.5 1.1.4-.8.5-.3.5.5.4 2.2.5-5.6.4 2.2.5-3.7.5 2.3.4.9.5-2.6.5 0 .4-1 .5-3.7.4 1.9.5-.9.5-3 .4 3.4.5.5.4 5.1.5-1.5.5 6.8.4-1.3.5 5 .5-2 .4-.8.5-.2.4.3.5 2 .5 2.1.4-1.8.5-.1.4-2.2.5 3.7.5 3.5.4.7.5-1.1.5-2.3.4-2.1.5-.7.4.2.5-4.7.5 2 .4-3.6.5 4.4.4.9.5-.5.5-2.6.4-1.2.5 1.2.5-.6.4 5.9.5-5.1.4-.3.5.5" stroke="#e8141c" stroke-width="1.3" fill="none" stroke-linejoin="round"/>
<text x="492" y="219" font-size="23" textLength="135" lengthAdjust="spacingAndGlyphs">Bottle: water</text>
<rect x="598" y="224.3" width="13.2" height="163.7" fill="#d6d6d6"/>
<rect x="616" y="224.3" width="9" height="163.7" fill="#d6d6d6"/>
<rect x="640.6" y="224.3" width="1.6" height="163.7" fill="#d6d6d6"/>
<rect x="676.4" y="224.3" width="1.5" height="163.7" fill="#d6d6d6"/>
<rect x="710" y="224.3" width="2" height="163.7" fill="#d6d6d6"/>
<rect x="726" y="224.3" width="2.5" height="163.7" fill="#d6d6d6"/>
<path d="M491.5 248.2l.5 2.3.4 4.8.5.2.4 1.5.5 10.6.5-2.1.4-.8.5.4.4-.6.5 5.2.5 1.2.4 3.2.5-2.6.4-1.3.5 1.7.5-3.8.4-.7.5 3 .4.4.5 1.2.5-.7.4 7.9.5 4.5.4-4.1.5.2.5 2 .4-5.1.5 2.2.4-.8.5-3.9.5 3 .4.6.5-5.4.4 3.5.5 2 .5-2.1.4 3.8.5 2.6.4-4 .5-2.3.5-2 .4-.4.5 4 .4-3.5.5-8.3.5.6.4 2.3.5.4.4-4.7.5.1.5.3.4-2.7.5 1.3.4.2.5-2.8.5-.8.4-3.8.5 4.9.4 1.1.5 0 .5 1.4.4 1.5.5 2.1.4-1 .5-5.8.5-.1.4.9.5-1.9.4-1.4.5 7 .5.2.4.5.5.2.4-.9.5-1 .5-3.2.4 1.2.5-2.3.4 3.9.5-6.9.5 8.4.4-3.6.5.3.4-.9.5 2.8.5-.2.4-5.3.5-1.5.4-3.4.5 3.5.5 3.5.4-3.2.5-1.3.4 5.3.5-2 .5.9.4 2.8.5 1.1.4-3.6.5-.3.5 2.5.4-1.6.5 2.8.4-6.6.5 1.2.5-.6.4-7.5.5-2.4.4 3.7.5 4.4.5 1.9.4 4.1.5-1.9.4-7.8.5-5 .5 4.1.4 4.9.5-4.1.4.3.5-1.7.5.2.4-1.3.5-.9.4 0 .5-.9.5 1.5.4 4.6.5-2 .4 2.9.5 6.5.5 8.9.4 1.2.5 3 .4-5.3.5-4.1.5-6.5.4 7.3.5 4.3.4-.7.5-1.6.5-2.6.4-5.5.5-.1.4-5.2.5 8.2.5 5.9.4-4.3.5-.4.4-3.6.5.2.4-.8.5 1.9.5-1.2.4-.2.5-2.7.4-2.3.5-2 .5 6.2.4-7.4.5-4.5.4 8 .5 0 .5.9.4 2.6.5-.9.4-3.6.5 4.4.5-3.1.4-1.5.5-1.6.4 2.9.5.7.5-2.5.4.6.5 3.7.4-.9.5 3.7.5-6.2.4 2.5.5-.2.4-1.9.5 1.9.5.7.4-1.4.5-4.8.4-4.7.5 2 .5-5.3.4.7.5-2.5.4-2.4.5-3.1.5 2.6.4 11.2.5-2 .4-1.5.5 3.8.5 5.9.4 4.9.5-1.3.4 4.4.5 1.4.5-.4.4-3.8.5-5.5.4 1.8.5-.4.5 1.9.4 6 .5-1.4.4 2 .5.1.5 1.3.4-4.2.5 2.6.4 2.7.5 5.6.5 7 .4-8.4.5 2.8.4-4.7.5 2.9.5.9.4 2.2.5-1.2.4-9.5.5-2.4.5-4.6.4-2.5.5-2.1.4 5.3.5 2.9.5 5.3.4 5.7.5 7.1.4 8.8.5 13.6.5 2.8.4 5.3.5 7 .4 3.5.5 1.1.5-.7.4.7.5-2.1.4-.7.5 9.1.5.8.4 3.6.5.5.4-2.8.5 7.9.5-5.1.4 1.9.5-.5.4.4.5-3.8.5-4.7.4 1.8.5-7 .4.8.5 2.5.5-.8.4 1.6.5-2.2.4-7.8.5-2.3.5-1.7.4 3.8.5-1.1.4-.7.5 7.9.5-.5.4 3.4.5-2.6.4.1.5-3.4.5-5.1.4 4.8.5 1.1.4 5.7.5 3.6.5 9.3.4 0 .5-.9.4-1.7.5 2 .5 4.6.4-1.2.5 2.6.4.7.5-2 .5 5.3.4-5.5.5 6.2.4-1.3.5-4.3.5 2 .4-1.8.5-2.3.4-1.9.5 3 .5 1.5.4-.2.5 5.1.4-1.1.5.1.5.9.4-5.5.5-.8.4 4.6.5 3.7.5 1.7.4-2.2.5-2.6.4-1.1.5-2.9.5.9.4 3.8.5 4.9.4-3.2.5.2.5 1.6.4-1.5.5-.7.4-3.9.5 5.8.5-1.8.4 1.5.5 1.8.4-2.8.5 10.5.5-3.8.4-.5.5-4.6.4 6.3.5 2.4.5-.6.4.9.5 3 .4-2.1.5.5.5 5.5.4-3.2.5-1.2.4 4.7.5-5.9.5-1 .4 3 .5-.2.4.7.5-.7.5-2.6.4-.2.5.3.4-1.2.5.4.5.8.4 1.3.5 2.8.4-2.2.5 0 .5 3.2.4-6.6.5 4.3.4 7.6.5-6.9.5 6.7.4-9.2.5 2 .4 2.2.5-.5.5-4.2.4.8.5.9.4 3.7.5-.9.5-.2.4-2.4.5 2.4.4 4.2.5-2.2.5-8.2.4 4.1.5-8.7.4 9 .5.2.5 4.6.4-1.4.5-1.8.4.9.5 1.1.5-1.7.4 3.2.5-2.8.4 2.4.5-2.6.5 2.1.4 3.8.5-.5.4-3.3.5 3.1.5 4.2.4-4.6.5-.2.4 1.1.5-2.7.5-2.3.4 1.4.5 2.2.4-3.2.5 1 .5 3.8.4-3 .5 2.6.4 2.2.5-2.7.5 2.6.4-2.6.5.7.4.1.5-2.7.5 6 .4-6.5.5 1.6.4-.5.5-.5.5-.5.4 1.6.5 3.4.4-3.3.5-2.3.5-3.8.4 6.5.5-4.1.4-5.9.5-1.4.5 5.3.4 3.8.5 1.4.4-2.6.5-3.2.5 3.1.4-5.6.5 1.9.4.1.5-1.1.5 1.6.4-.3.5-1.4.4 2.1.5 1 .4-4.4.5 3.5.5-.9.4-2.4.5 1.9.4-7.9.5 3.8.5 2.6.4.6.5-3.8.4.1.5-2.7.5 3.9.4 3.7.5-4.9.4 0 .5 4.3.5-.3.4 2.7.5-4.9.4 6.3.5-4.1.5-2.5.4 2.9.5 1.2.4-8.5.5-1.5.5 2.8.4 3.4.5-1.1.4 8.5.5-5.1.5-4 .4 2.1.5 7.8.4-3 .5-6.8.5 5.4.4 5.1.5-5.7.4-1.3.5 3.4.5-2.2.4 3.2.5-1.2.4-1.1.5 1.2.5-4.8.4-2.9.5-.9.4 4.5.5-2.2.5-.9.4 2.1.5 0 .4-1.1.5-4.1.5 4.4.4 1.3.5 6.2.4-4 .5-.1.5-5.9.4-3.6.5 5.3.4-3.6.5 1.9.5.2.4 2.5.5-2.1.4 1 .5.4.5-5 .4 1.1.5 4.5.4-2.2.5 2.6.5-2 .4-3.1.5-.1.4-1.5.5 1.3.5 2.9.4 1.7.5-.5.4-4.3.5 3.4.5 5.8.4-2.4.5-2.7.4-6.6.5 3.8.5 3.7.4-2.2.5 1.9.4-6.5.5 2.9.5 2 .4.8.5-.3.4.1.5-.8.5-.3.4 1.7.5 6.6.4-3.4.5.4.5.4.4 5.5.5-5.2.4-3.6.5-2.2.5 3.5.4-.9.5-.5.4 2.2.5.9.5.1.4-3.8.5 4.4.4-1.6.5 4 .5-2.8.4-2.8.5 4.1.4 8.2.5-5.8.5-2.9.4-.9.5 3.5.4.9.5-3.3.5-3.1.4 4.6.5-2.5.4-1.9.5 6.3.5-3.2.4-2.6.5-6.4.4 2 .5-1.9.5 4.9.4-4.5.5 2.7.4-8.7.5-.8" stroke="#000" stroke-width="1.3" fill="none" stroke-linejoin="round"/>
<path d="M480 299.6L480 372" stroke="#262626" stroke-width="1.3" fill="none"/>
<path d="M479.4 371.5L562 371.5" stroke="#262626" stroke-width="1.3" fill="none"/>
<text x="473.2" y="334.5" text-anchor="middle" font-size="25.5" textLength="45" lengthAdjust="spacingAndGlyphs" transform="rotate(-90 473.2 334.5)">10%</text>
<text x="491.5" y="397" font-size="23.5" textLength="59.5" lengthAdjust="spacingAndGlyphs">5 min</text>
<text x="811.3" y="24" font-size="34" font-weight="bold">c</text>
<text x="889.1" y="71" text-anchor="middle" textLength="151.2" lengthAdjust="spacingAndGlyphs">300 mM sucrose</text>
<text x="889.1" y="95.2" text-anchor="middle">±</text>
<text x="889.2" y="120.5" text-anchor="middle" fill="#e4202a" textLength="157" lengthAdjust="spacingAndGlyphs">600 mM mannitol</text>
<rect x="875.8" y="131" width="27.5" height="62.6" rx="3.5" fill="#6c8fb6"/>
<rect x="878.9" y="194" width="20.8" height="21.6" fill="#000"/>
<path d="M886.4 215.6h6v18h-1.3v4.6h-3.4v-4.6h-1.3z" fill="#8e8e8e"/>
<ellipse cx="889.4" cy="240.6" rx="2.7" ry="2" fill="#5b97cf"/>
<rect x="825.9" y="231.4" width="126.7" height="126.2" fill="none" stroke="#333" stroke-width="1.3"/>
<g transform="translate(801.4 0)"><path d="M102.1 283C104.5 283.2 107.5 287 109.6 291.2C110.8 291 112.4 291.3 112.8 292.4C113 293.4 112.6 294.2 112 294.6C114.8 298.5 116.3 304 116.2 310.5C116 319.5 110.5 327.5 102.8 327.8C95 327.5 89.2 319.5 88.9 310.5C88.8 304 90.4 298.5 93.2 294.6C92.5 294.2 92 293.4 92.3 292.4C92.8 291.3 94.3 291 95.5 291.2C97.5 287 99.8 283.2 102.1 283Z" fill="#000"/><path d="M102.6 326.5C101.3 331 100.5 337 101.5 341.5C102.5 346 106.5 346.5 108.8 342C110.5 338.5 112 334 115.5 331.5C118 330 120.5 330.8 122.5 332.8" stroke="#000" stroke-width="2.5" fill="none" stroke-linecap="round"/></g>
<g transform="translate(801.4 0)"><path d="M20.4 309.7 22.4 309.6 24.4 309.4 26.4 309.2 28.5 308.9 30.4 308.5 32.4 308.1 34.4 307.7 36.3 307.2 38.3 306.7 40.3 306.2 42.2 305.6 44.1 305 46.1 304.4 48 303.7 50 303.1 51.9 302.5 53.9 301.8 55.8 301.1 57.8 300.5 59.8 299.8 61.8 299.2 63.8 298.5 65.8 297.9 67.8 297.3 69.9 296.7 72 296.1 74.1 295.5 76.2 295 78.4 294.5 80.5 294.1 82.8 293.7 85 293.3 87.3 293 89.7 292.7 92 292.4 94.5 292.3 96.9 292.1 99.5 292.1 102.1 292.1 102.3 289.5 99.7 289.1 97.1 288.7 94.5 288.4 92 288.2 89.5 288.1 87 288.1 84.6 288.1 82.1 288.2 79.8 288.4 77.4 288.6 75.1 288.9 72.8 289.2 70.5 289.6 68.3 290 66.1 290.4 63.9 290.9 61.8 291.4 59.7 292 57.6 292.5 55.5 293.1 53.5 293.7 51.5 294.2 49.5 294.8 47.5 295.4 45.6 296 43.7 296.6 41.8 297.1 39.9 297.6 38 298.2 36.2 298.6 34.3 299.1 32.5 299.5 30.7 299.9 28.9 300.3 27.1 300.6 25.3 300.8 23.6 301 21.8 301.2 20 301.3Z" fill="#1e8ad2"/><circle cx="20.3" cy="305.5" r="4.25" fill="#1e8ad2"/></g>
<text x="889.3" y="381.7" text-anchor="middle" font-size="20.3" textLength="149.5" lengthAdjust="spacingAndGlyphs">Hydrated mouse</text>
<text x="1157.7" y="35.3" font-size="23" textLength="89.3" lengthAdjust="spacingAndGlyphs">First lick</text>
<path d="M1198.1 38.2L1206.5 38.2L1202.3 54Z" fill="#000"/>
<path d="M1113 172.2l.3-1.3.4-2.3.3 1.1.3-.5.3 7.8.4-4.9.3-1.2.3 1.6.3 5.3.4 2.7.3-6.3.3-7 .4-3.1.3-3.1.3 4.6.3-12.9.4 4.4.3-7.7.3 13.5.3-4.6.4-7 .3 3.3.3 5.7.4-2.2.3-.4.3 4.1.3 1.4.4 4.6.3-9 .3 10 .3 4 .4.9.3-6 .3 3.2.3-6 .4-4.6.3-12 .3 10.8.4 12.3.3-1.5.3-9.9.3-5.8.4 9.7.3 2.3.3-1.3.3 5.2.4-11.7.3-3.2.3 19.1.4-3.1.3-1.9.3 2.7.3-1.9.4-3.7.3-.1.3 5.6.3 8.9.4-9.2.3-1.3.3.2.4-3 .3-6 .3-2.5.3 2.2.4 1.1.3 5.8.3 9.6.3-2 .4-5.2.3-5.8.3-2 .4 2.2.3 15.5.3-.5.3-10.8.4 4.1.3 3.5.3 5.2.3-5.3.4-2.2.3 1.5.3-.7.3-5.4.4 0 .3 3.4.3-5.6.4-.6.3 19.9.3-10.1.3-2.7.4 3.2.3 3.7.3-8 .3 2.9.4 3.5.3-7.2.3 6.9.4-4.4.3 4.4.3 1.7.3-1.8.4-.6.3-7.1.3 5.1.3-8.7.4 1.8.3-.3.3.8.4-4.2.3 7.9.3-.4.3 1.2.4-2 .3 3 .3-4.5.3-2.6.4-4.3.3-1.4.3-2.1.4-3.2.3-1.2.3-3.4.3 9.3.4-6.5.3.5.3 5.8.3 2.2.4-16.6.3 5.4.3 2.8.4-5.4.3 7 .3 0 .3-4.8.4 7.2.3-5.6.3-7.5.3 9.7.4.6.3 3.5.3 11.5.3-7.8.4-1 .3 5.7.3-7.1.4-8.2.3 2.9.3 7.7.3-6.6.4.2.3 1 .3 6.5.3-1.1.4-2.4.3 4.2.3-4.4.4 1 .3.5.3-4.6.3 14.9.4-2.1.3-5.7.3 2.3.3-2.2.4 1.2.3 9.2.3-15.6.4 1.4.3-2.2.3-4.4.3 4.6.4-4.2.3.7.3 5.6.3-7.8.4-1.5.3-.1.3 2.8.4-2.5.3 10.9.3-7.8.3-3.2.4-3.5.3-8 .3 11.1.3 2.6.4 10.7.3-12.6.3 3.4.4-4.7.3-.5.3 6.1.3-1.6.4 4.4.3-.2.3-.2.3 9.3.4-1.6.3-10 .3 10.5.3-5.9.4-11.8.3 6.9.3 1 .4.5.3-4.5.3 1.6.3-.4.4 9.2.3-6.8.3-5.7.3 10.1.4-.4.3 9.2.3 3.9.4-7.1.3 4.8.3 6.9.3 2.2.4-9.6.3-.5.3.3.3-8.4.4 3.3.3-3.9.3 14.7.4 8 .3 1.8.3-7.1.3-11.8.4 4.8.3 3.8.3 3.3.3-8.3.4-4.1.3 8 .3-7.4.4 2.6.3-1.6.3 6.4.3.6.4-12 .3 10.9.3-2.5.3 2 .4-2.5.3-1.9.3-1.9.3 2.2.4-2.6.3-.8.3.7.4 1 .3 1.2.3 1 .3-6.2.4-8.2.3 3 .3 3.4.3 1.7.4-5.9.3-4.7.3-12.8.4 8.2.3 3.9.3 2.6.3 8.1.4-4 .3-9.2.3-6.4.3 13.7.4 7.7.3-.9.3 2.7.4-.7.3-4.8.3-4.9.3 5.1.4-6.6.3 13.9.3 12.8.3-.1.4 7.7.3 2.3.3 5.2.4-18 .3-8.4.3 18.2.3.8.4-14.1.3-9.3.3 5.5.3 8.6.4-13.6.3 11.8.3 1.2.4 4 .3-4.2.3 2.1.3 7.3.4.3.3 4.9.3-7.2.3.4.4 12.8.3 7.7.3-6 .3 5.5.4-2.8.3-1 .3-1 .4-.4.3-5.6.3-1.3.3-1 .4 7.5.3-2.2.3 3.5.3-5.7.4-2.3.3 5.7.3.8.4-3.3.3 5.1.3 3.4.3-.9.4-3 .3.4.3 2.2.3-9.9.4-10 .3 9.8.3 7.3.4 12.9.3-6 .3-4.7.3-15.9.4-4.1.3 6.3.3-2.9.3 4.2.4 3.1.3 9.4.3-6.3.4 2.3.3-6.2.3-6.2.3-1.4.4-6.1.3 2.9.3.3.3 3.9.4 2.5.3-3.9.3-3.6.3 4 .4 7.3.3 6.8.3-.2.4-3 .3-5.1.3-2.4.3-4.8.4-.1.3-2.2.3-1.7.3 3.9.4-3.3.3 6.7.3 1 .4-9.5.3 8 .3-7 .3 15.9.4-8.3.3-.3.3-7.3.3 1.9.4 2.7.3-2.2.3 6.1.4.5.3-6.2.3 1.8.3-2.8.4 15.7.3-9.8.3-.7.3-3.7.4.5.3-3.5.3-3.7.4-8.8.3 13.6.3 12.3.3-.5.4-8.4.3 1.3.3-5.7.3 3.2.4-2.3.3 3.4.3 11.2.4.1.3-1 .3-2.2.3-4.4.4-5.5.3-12.4.3 11.7.3-9.5.4 3.4.3 5.4.3-1.4.3 5.5.4 1.3.3.3.3 0 .4-1.6.3-8.4.3 10.4.3-8.3.4 2.7.3 2.7.3-7.3.3 6.3.4 2.6.3-1.4.3 4.1.4 5.5.3-2.4.3 5.2.3 9.6.4-1.3.3 2.1.3-23.8.3-.3.4.2.3-4.1.3 1.8.4 5.5.3-.8.3 3.1.3 1.3.4-7.7.3 14.6.3-4.9.3-4.2.4-2.7.3 3 .3.5.4-.2.3-1.7.3 2.2.3.6.4 4.5.3 8.4.3-.4.3-2.4.4-4.6.3-4.6.3 8.1.4 6.9.3-10.2.3 8.5.3-8.8.4 7.8.3-2 .3-8.3.3 2 .4-6.6.3-2.6.3 10.4.3-7.6.4 5 .3-11.6.3 2.6.4 6.6.3-7.9.3 4.6.3 2.8.4.7.3-1.4.3-1.9.3 3.2.4 5.7.3-9.1.3 2.7.4-4.8.3 7.4.3-7.2.3-5.6.4 18.5.3-.2.3-5.3.3 4.5.4-4.7.3 1.3.3 1.4.4-3.9.3-7.1.3 6.6.3 2 .4 5.4.3 2.8.3 1.1.3-12.6.4 11.2.3-2.7.3-11.4.4.2.3-.5.3-.3.3-1 .4 1.2.3 1.4.3-5.7.3 4.9.4-1.9.3-2.3.3-2 .3 1.6.4 16.1.3 4.4.3-5.7.4-4.3.3-5.6.3 2.4.3 5.6.4-2.8.3 10.6.3-2.2.3-4.9.4-8.7.3 5.1.3-2.1.4-12.2.3 9 .3 5.8.3-1 .4-11 .3 8.8.3-1.7.3-.1.4 15.4.3 1.9.3-1.6.4-12.7.3-.5.3-1 .3.3.4 4.6.3 16.4.3-5.1.3-.3.4-8.2.3 3.2.3.7.4.9.3-3.8.3-7.1.3-3.8.4 6.2.3-4.5.3 5.3.3 1.6.4 10.4.3 5.2.3 3.6.4-3.2.3-7 .3-3.7.3-4.1.4 6.8.3-2.3.3-2.5.3 7.3.4-2.9.3 1.1.3-7.1.3 3.8.4-2.6.3 2.3.3-2.3.4 13.3.3-8.3.3 8.8.3-8.9.4-2.1.3 7 .3-5.2.3-5 .4 3.6.3.8.3 3.3.4 3 .3-1.8.3-.8.3-2.3.4.2.3.6.3.9.3 1.6.4-9 .3-5.1.3 15.1.4-6.3.3-5.3.3 7.2.3-9 .4 3.7.3-3.9.3 4.5.3-4.9.4-.4.3-1.9.3-6.5.4 2.5.3-1.2.3 5.9.3 1.4.4 2.3.3-.1.3-3.8.3-7.3.4 16.5.3-2.1.3-8.7.3-1.3.4 8 .3 4.7.3-8.4.4 3.6.3-1.3.3-2 .3 1.8.4 6.9.3-11.7.3 4.6.3-1.6.4 16.3.3-6.6.3 0 .4 3 .3-.4.3-1.7.3-.1.4 0 .3 6.1.3-4.3.3 2.8.4-10.2.3 10.5.3 4.2.4-3.6.3 2.2.3-11.1.3-3.6.4 1.9.3-6.1.3 14.4.3 8.4.4-3 .3-3.6.3-1.1.4-4.8.3 6.7.3-3.6.3-4.8.4 4.9.3-.5.3 3.3.3 7.6.4 1.6.3-16.3.3 5.2.4-.6.3 8.2.3-1.5.3-2 .4-8.6.3 6.7.3.3.3-1.5.4-6.5.3 5.9.3 3.2.3-1.5.4-11.8.3 13.4.3 1.1.4-3.3.3 5.2.3 3.2.3 11.2.4-4.1.3 1.2.3-8.2.3-.7.4 8.2.3-17.1.3 8.2.4 2.8.3-.2.3 1.7.3-8.3.4 2.5.3-4.4.3 3.9.3 0 .4 8.6.3 3.6.3-8.3.4 8.5.3-10 .3-.8.3-.6.4-5.3.3 4.3.3.4.3 10.2.4-9 .3 2.5.3 2.2.4 6.9.3-7.3.3-3.4.3 7 .4-.6.3-3.3.3 8.6.3.1.4.2.3-5 .3 13.1.4-1.3.3-3.9.3-3.6.3-4.4.4 1.3.3-.3.3 1.8.3.9.4 6.2.3-2.9.3-3 .3-7.8.4 4.3.3 7.9.3-10.7.4.6.3 5.4.3-8.4.3 3.3.4-3 .3-3.6.3 5.2.3 4.6.4 1.3.3.7.3-3.6.4.3.3 3.3.3-8.9.3 3.2.4 2.7.3 5 .3-.4.3.8.4 3.2.3-1.3.3 6.2.4-4.4.3-.8.3-1.6.3 7 .4 1.9.3-6 .3-.5.3 2.1.4-8.8.3 10.1.3 3.6.4.9.3-8 .3-3.1.3 1 .4.1.3 5.2.3-3.9.3 0 .4 3.8.3 4.2.3 1.1.3-11.3.4 5.1.3-4.6.3 2.5.4-.6.3-4.5.3 11.2.3 3.3.4-6.4.3 1.8.3-10.6.3 11.1.4.7.3 4.3.3-6.1.4 11.4.3-9.9.3-1.5.3 2.7.4-2.9.3 2.8.3 16.1.3.8.4.1.3 6.3 0-76.1-.3 1.6-.4 1.5-.3 1.1-.3-6.8-.3 5.7-.4-3.3-.3.7-.3.5-.3.4-.4-11.1-.3 14.6-.3 2.3-.4-.6-.3-13.6-.3 11.5-.3-4.1-.4-.4-.3-3.4-.3-2.5-.3.7-.4-2.6-.3-2.1-.3 7.6-.4-.6-.3.3-.3-7.2-.3 1.6-.4 9.3-.3-8.6-.3 6.2-.3 1-.4-.6-.3-5.5-.3-8.1-.3-.2-.4 1.6-.3 6.2-.3-3.8-.4 10.4-.3 2.5-.3-9.7-.3.9-.4 3.9-.3 2.5-.3-1.9-.3 1.7-.4 5.2-.3-7.3-.3 2.2-.4-2.7-.3-4.4-.3.6-.3-2.8-.4 0-.3-8.1-.3 7.8-.3-2.1-.4-1.3-.3 2.1-.3.5-.4.6-.3-3-.3-2.2-.3 1-.4-1.2-.3-7.8-.3 5.2-.3-4.7-.4 1.7-.3 11.5-.3-6.4-.4-.8-.3 9-.3-.1-.3-.2-.4-5.9-.3 1.7-.3 1.5-.3 4.8-.4-4.4-.3-5.2-.3-8.5-.3-2.5-.4 6.3-.3-.2-.3 20.1-.4-12.5-.3-4-.3-2.4-.3 12.6-.4-.4-.3-6.5-.3 2.3-.3 9.6-.4-9-.3-.2-.3-7.6-.4 3.9-.3-7.8-.3 6.2-.3-4.2-.4-3.5-.3-8.5-.3-3-.3 8.6-.4-10.9-.3 6.8-.3.5-.4-.5-.3 6.5-.3.5-.3 8.2-.4-1.7-.3 4.7-.3-7.7-.3-3.2-.4 2.9-.3-4.9-.3 2.6-.4-16.1-.3-3-.3 6.9-.3.3-.4 7.6-.3-5.2-.3 5.7-.3 3.7-.4 7.1-.3-2.4-.3-15.5-.4 11.7-.3 1.4-.3-4.9-.3-7.9-.4 5.9-.3 2.8-.3 3.4-.3-5.1-.4-1-.3-5.1-.3 3.2-.3.4-.4 5.7-.3-10.8-.3 3.9-.4-8.4-.3-2.5-.3 7.4-.3 8.2-.4-.2-.3 2.1-.3.7-.3-6.1-.4 3.2-.3-5.7-.3-3.1-.4 3.9-.3 1.9-.3-6.5-.3-.2-.4 1.8-.3 5.4-.3 3.8-.3-6.5-.4 2.2-.3-1.9-.3-7.1-.4 11.4-.3-2.6-.3 3.5-.3-7.6-.4.3-.3 1.7-.3 1.9-.3-1.4-.4-3.6-.3 2.2-.3 10.6-.4-11.3-.3.5-.3-4.4-.3 11.7-.4-11.3-.3-.9-.3 6.9-.3-2-.4-10.2-.3 2.7-.3-4.9-.4-.1-.3 6-.3-3.6-.3 1.2-.4-2.9-.3-2.2-.3-6.8-.3.9-.4 4-.3 3.6-.3-2.5-.3 6.4-.4-.8-.3 2.9-.3 4.2-.4 1.1-.3-1.6-.3-5.9-.3 6.5-.4.3-.3 11.9-.3-15.6-.3.2-.4 9.8-.3-3.7-.3-9.5-.4 1.7-.3 1.9-.3 5.6-.3.5-.4-2.6-.3 3.5-.3 7.5-.3 6.7-.4-5.6-.3-.7-.3.3-.4-9.2-.3-2-.3 5.1-.3-2-.4 2.5-.3 2.9-.3-14.8-.3 7.7-.4-7.3-.3 11.9-.3-.4-.4-.5-.3-4.8-.3 2.5-.3-7.5-.4.6-.3-5.1-.3 7.1-.3 7.4-.4-6.1-.3-2.7-.3-6.2-.3-.7-.4-2-.3-2.9-.3 3.3-.4-1.3-.3 3.1-.3-.6-.3 10.2-.4-3.5-.3 1.6-.3-1.4-.3-6.5-.4-2.1-.3 13.1-.3-3.2-.4-8.7-.3-3.8-.3 12.3-.3-4.9-.4 2.3-.3-.8-.3 1.9-.3 1.2-.4-6-.3-8.9-.3 5.6-.4 3.3-.3 3.6-.3 2-.3-12.2-.4-3.3-.3.2-.3 5.9-.3 3-.4 7.5-.3 2.4-.3-7.9-.4-1.8-.3-7.1-.3-1.4-.3-4.6-.4 12-.3-1.2-.3-6.2-.3-3.4-.4-6.3-.3.3-.3 2.1-.4-2.1-.3 9.3-.3 9.9-.3.8-.4-3.1-.3-.1-.3 10-.3-1.2-.4-4.6-.3-.2-.3 5.3-.3-2.6-.4-1.5-.3-1.8-.3.4-.4-4.4-.3 15.4-.3-6.1-.3-6.1-.4-.6-.3 4.5-.3-6.1-.3 1.9-.4-2.8-.3-8.5-.3-7.7-.4.7-.3-5.3-.3 9.9-.3 11.3-.4-5.6-.3 13.9-.3 8.9-.3-8.7-.4 3.2-.3 0-.3 2.9-.4-10.9-.3.4-.3 7.9-.3-10-.4-4.6-.3 4.5-.3 2.1-.3-2.5-.4-3.2-.3 6.7-.3 2.2-.4-3.4-.3 13.2-.3-10.6-.3-1.3-.4 9.4-.3-2.1-.3-2.2-.3-.1-.4-4.4-.3 10.6-.3-9.8-.3 11.4-.4-2.7-.3-7.5-.3 0-.4-.6-.3-.3-.3 1.1-.3-2.9-.4 4.6-.3 4-.3-5.5-.3 4.2-.4-.6-.3-4.3-.3-1.8-.4 4.2-.3 2.8-.3 3-.3-15.7-.4 5.9-.3-3.4-.3-4.4-.3 1.7-.4-1.7-.3 3.9-.3 8.2-.4-3.9-.3-14.4-.3 3.4-.3-15.9-.4 2.3-.3 3.9-.3 9.9-.3 11.9-.4.5-.3 2.5-.3-.8-.4-3-.3-4-.3 6.5-.3-7.5-.4-5.6-.3 12.2-.3-6.2-.3-1.2-.4-2.9-.3 2.5-.3 5.1-.4 3.2-.3-2-.3 2.2-.3-7.5-.4-4.4-.3 12-.3-14.9-.3 5.4-.4-2.8-.3-1.9-.3.5-.3 2.6-.4 4.8-.3-1-.3 6-.4-5.5-.3-3.5-.3 4.4-.3-9.2-.4 0-.3 1.7-.3-.4-.3-1.3-.4 10.2-.3 2.1-.3-1.6-.4-5-.3 3.7-.3 8.1-.3 10-.4-19.2-.3 7.5-.3-2.1-.3 1.1-.4-.3-.3-2.3-.3 3.2-.4-7.1-.3-6.2-.3 7.3-.3 2.4-.4 9.6-.3-14.3-.3 10.6-.3-3.4-.4 6.7-.3-.7-.3-6.7-.4 1.3-.3-4.9-.3.7-.3-1.4-.4-2.3-.3 3.7-.3-2.2-.3-1.1-.4 2.6-.3 5.1-.3-2.1-.4-1.5-.3 5-.3-.2-.3 4-.4.5-.3-1.9-.3-.5-.3-4.5-.4 5.2-.3 2.9-.3-6.6-.3-9-.4-9.6-.3 10.9-.3 2.8-.4 8.5-.3 2.6-.3 3.5-.3-6.5-.4 1.5-.3 3.5-.3-8.4-.3 1.2-.4-5.5-.3 8.6-.3-3.7-.4-2.7-.3 3.8-.3-1.5-.3 1.8-.4 1.9-.3-1.3-.3-1.1-.3 2.1-.4 11.6-.3 4.5-.3-14.6-.4-3.2-.3 6.5-.3 3.2-.3 9.9-.4-9.5-.3-2.4-.3-5.6-.3-4.3-.4-7.2-.3-1.7-.3.8-.4 2.5-.3-6.3-.3 8.2-.3.7-.4.9-.3 8-.3-2-.3-7.9-.4.7-.3-5.8-.3-2.5-.3 3.9-.4-.2-.3 6.5-.3-10.6-.4 9-.3-14-.3 1.5-.3.5-.4.2-.3.7-.3 1.5-.3-8-.4-3.7-.3-13.4-.3 1.5-.4 2.4-.3 11.5-.3-1.7-.3-3.1-.4 7.2-.3-13.3-.3-3-.3-2.5-.4-5-.3-5.6-.3 4.4-.4 4.2-.3 3.1-.3-1-.3-2.5-.4 2.3-.3-.7-.3 5.5-.3-.8-.4-4.8-.3 10.3-.3-6.7-.4 1.7-.3 3.7-.3 5.5-.3.3-.4 3.8-.3 0-.3-4.7-.3-.6-.4 6.1-.3 7.2-.3-10-.4 1.3-.3 2.6-.3 3.6-.3-3-.4-2-.3 1.9-.3 13-.3-14.3-.4 6.9-.3-1.5-.3-6.8-.3 1.2-.4.4-.3 11-.3-11.2-.4-4.5-.3 3-.3-2.1-.3 5.1-.4 5-.3-8.3-.3-3.1-.3 1.9-.4 4.1-.3-3.3-.3 9.4-.4-2.2-.3 3.2-.3-9.8-.3-7.1-.4 8-.3.8-.3-3.6-.3-5.8-.4 4.1-.3-1.5-.3.1-.4 9.4-.3-8.7-.3 2.4-.3 6.1-.4-5.5-.3-3-.3 1.7-.3-2.3-.4-4.9-.3 1.8-.3.8-.4 6.7-.3-.2-.3-18.1-.3 5.6-.4 9-.3 5.8-.3-17.1-.3-2.8-.4 5.7-.3 11.4-.3-4.5-.3 1-.4-2.8-.3-14.1-.3 6.4-.4-6.9-.3 8.6-.3-2.3-.3 5.2-.4 5.9-.3-4.6-.3 3.4-.3-7.9-.4 9-.3.9-.3-1.3-.4-4.2-.3 4.3-.3-2.1-.3 6.4-.4-2.1-.3-7.3-.3 8.3-.3 1.7-.4-14.5-.3 7-.3-11.6-.4-1.8-.3-.8-.3-8.1-.3 1.8-.4 5.5-.3-4.1-.3 14.5-.3.6-.4-4.2-.3 6.6-.3 2-.4 5-.3 1.1-.3-1.5-.3-1.9-.4-9.5-.3 5.1-.3-1.1-.3 5.2-.4-3.1-.3 3.2-.3-7.3-.4-4.4-.3 4.1-.3-6.3-.3 8.6-.4 9.4-.3-9.7-.3 4.4-.3 3.3-.4-3.2-.3 3.4-.3.4-.3-7.1-.4 1.3-.3 1.1-.3-8.8-.4 7.1-.3-1.9-.3 6.1-.3-4.4-.4 3.8-.3-5.9-.3 6.7-.3 2.7-.4 1.9-.3-2.4-.3-4.1-.4 1.8-.3 4.5-.3 8.2-.3-1.6-.4.7-.3-2.9-.3 1.2-.3-2.8-.4 9.3-.3-6.1-.3.8-.4 1.8-.3 9.3-.3-11.9-.3-3.8-.4-8.2-.3-2-.3-.4-.3 2.7-.4 18.1-.3-1.9-.3.9-.4 4.1-.3-12-.3-8.5-.3-11-.4-.4-.3 9.1-.3 17.1-.3-9-.4 5.6-.3-4.4-.3-3.9-.4 4.9-.3 7.8-.3-1.6-.3-7.4-.4-4.9-.3 2.7-.3-.5-.3 1.6-.4-8.1-.3.3-.3-1.8-.3-.8-.4 12.3-.3-12-.3-.3-.4.7-.3 1.3-.3-1.8-.3 6.7-.4 7.3-.3-6.7-.3-4-.3-2.4-.4-3-.3-3-.3 3.4-.4 16.1-.3-3.1-.3-4-.3.3-.4 2.8-.3-2.5-.3-6.9-.3 5.4-.4 11.7-.3-17.2-.3-5.1-.4 1.4-.3-9.2-.3 6-.3 8.9-.4 3.4-.3-5.2-.3.4-.3 0-.4-3.7-.3 3-.3-1.1-.4-8.6-.3-5-.3-8.4-.3 7.5-.4 6.9-.3 5-.3-5.3-.3 10.5-.4-2-.3 5.2-.3 3.5-.3-11.1-.4-1.6-.3 2.1-.3 2.9-.4 1.4-.3 7.1-.3-7.7-.3 1.9-.4-9.3-.3 10.3-.3-3.2-.3 12.2-.4-7.8-.3-11.4-.3-4.6-.4-3.3-.3-.3-.3 2.8-.3 5.2-.4 12.1-.3 1-.3 5.7-.3-1-.4 1.8-.3 5.4Z" fill="#d6d6d6" fill-opacity="0.85"/>
<path d="M1113 114.8l.3-2.4.4 22.8.3-19.6.3 5.4.3 7.1.4 3.7.3.2.3-9 .3.7.4 4.2.3-3.4.3 9.3.4 4.4.3-17.1.3 3.5.3-3.5.4 9.9.3 14.1.3-15.6.3.4.4 1 .3 6.4.3-3.4.4 1.2.3-4.4.3 6.4.3-5.5.4 17.4.3-4.1.3-.2.3 6.2.4-1 .3-16.2.3 4.5.3 4.4.4 4.1.3 11.8.3-4.8.4.5.3-9.2.3-4.7.3 11.6.4-1.1.3 15.4.3-2.9.3 3.2.4-12.9.3-7.2.3 4.9.4 1.2.3-8.9.3-1.5.3 10.5.4-12.4.3 21.8.3-3 .3-3.9.4-3.1.3 8 .3 3.1.4-.4.3 3.8.3-4.6.3-12.8.4-5.4.3 6.3.3-1.4.3-.9.4 3.3.3 7.2.3 10.9.4-6.8.3-1.3.3 0 .3 6.8.4.1.3-10.4.3.9.3-1.1.4-2.1.3 5.4.3-12.3.3 2.3.4 1.7.3 4.1.3-6.1.4-.5.3 2.9.3 2.2.3 11 .4-13.6.3 4.1.3 8.3.3-7.6.4-1.5.3 8.9.3-.8.4 3.9.3-9.9.3 9.9.3 0 .4 1 .3-12 .3 11.9.3 12.1.4-9.9.3-8.9.3-1.1.4-5.7.3 7.9.3 6.5.3-7.7.4 8 .3 6.2.3 2.5.3-9.6.4 5.5.3-5.5.3-7 .4-1.1.3 8.4.3 5.3.3-5.7.4-8.4.3-1 .3-2.7.3 2.3.4 26.9.3 5.4.3-1.3.4.4.3-7.1.3-12.9.3 2 .4-5.3.3 13.2.3-2 .3-13.2.4 4.5.3-8.8.3 4.2.3 10.6.4-7.3.3-5 .3 2.1.4 9.3.3 1.9.3-1.7.3 2.9.4-1.2.3 5 .3-1.8.3-5.8.4-6.5.3 9.8.3-12.8.4 13.2.3-6.7.3-10 .3 3.6.4 11.1.3-4.2.3 1.4.3.9.4 9 .3 10.3.3-6.8.4.1.3-8.2.3-7.2.3 6.8.4-5.2.3-3 .3 3.2.3-4.8.4 13.8.3 9.6.3-6.8.4-4.6.3 3.8.3 1 .3.5.4 3.2.3-6.2.3 7.8.3-7.7.4 5.2.3-1 .3.3.4-.7.3-9.3.3 3.4.3 9.9.4-11.5.3.1.3-3 .3-.7.4 5 .3-4.4.3 7 .3 7.9.4-5.3.3 10.2.3-3.8.4-4 .3 2.3.3-9.5.3 5.8.4 8.2.3-.5.3-16.5.3 2.9.4 7.3.3 12.2.3-18.4.4-3.5.3 11.2.3 3.4.3 3.9.4-15.5.3-3.2.3 7.8.3-.1.4 6.2.3 11.6.3-7.1.4.9.3 6.6.3-6.6.3-7 .4 5.2.3-13.2.3-6.6.3 9.2.4-1.7.3-7.9.3 12.1.4 2.9.3-2.3.3 5 .3 0 .4-2.9.3 7.2.3-5.4.3-5.8.4 4.5.3-3.2.3.9.3 1.7.4.2.3-5.7.3 4.8.4-2.2.3-6.7.3-3.2.3 13.5.4 3.8.3-.7.3-5.7.3-10.9.4 6.6.3-4.5.3-4.3.4-2.7.3 2.6.3 12.2.3-11.4.4-4 .3-14.3.3-2.2.3 3.2.4-1.4.3-7.8.3.9.4 14.2.3.2.3-3.1.3-1.5.4-2.1.3 9.4.3.2.3 10.3.4-12.1.3-7.2.3 17.3.4-3.1.3-1.8.3 8.2.3 8.4.4-18.4.3 14.4.3-17.6.3 14.3.4 3.3.3-5.2.3 3.7.4 3.7.3 3.9.3.6.3-6.7.4 9.5.3 2.8.3-1.6.3-.7.4-1 .3-4.8.3.9.3 3.1.4-4.4.3 9.2.3-1.2.4-1.1.3 8.4.3-8.3.3-7.8.4 14.8.3-14.5.3 12.9.3-6.8.4 8.4.3-.6.3 2 .4 1.8.3-11.7.3-3.5.3-5.2.4 2.5.3-4.4.3 4.1.3 1.6.4 7.3.3-7 .3 1.7.4 2.8.3-7.1.3-.6.3 5.3.4-8.4.3.5.3 3.4.3 3.9.4-3.4.3 0 .3-4.2.4-4 .3 15.6.3 4.7.3-4.1.4-1.5.3-6.8.3 2 .3 9.6.4-9 .3-2.4.3-7.6.3-2 .4 11.6.3-4.8.3 12.8.4-10.7.3-3.8.3 1.8.3-.3.4 10.1.3-10.8.3-.5.3-1.7.4-8.2.3 13.8.3 11.3.4-14.1.3-4.9.3-1.7.3 5.5.4-4.8.3-9.2.3 7.7.3.5.4 2.1.3-7.4.3 3.4.4 5.2.3.9.3-14.5.3 10.6.4 1.3.3-2.6.3 5.9.3-8.1.4-14.6.3 19.2.3.6.4 7.7.3 2.8.3-11.7.3-3.9.4 4.9.3-6.7.3-5.6.3-10.6.4 9.1.3-1.9.3-2.1.4 1.3.3 3.1.3-8.9.3 6.6.4 23.4.3-22.6.3-4.3.3-2.3.4 5.8.3 1.6.3-5.2.3-3 .4-3.2.3 7.9.3 7 .4 1.7.3 7.5.3-25.2.3 6.9.4 1.8.3 2.2.3-1.3.3 15.3.4-13.9.3 5.4.3 4.4.4 7.3.3-3 .3-15.7.3 5.5.4-.9.3 2.2.3 5.5.3-4.6.4.6.3-7.3.3 8.7.4-12.2.3-10.7.3-2.1.3 6.5.4 5.6.3 7 .3-11.4.3 2.5.4.9.3 6.4.3-10.9.4-6.9.3 1.6.3 4.4.3 1.2.4 4.6.3-6.1.3-9.5.3 8.3.4 2.8.3-1.8.3 8.2.4 2.2.3-10.3.3 2 .3-10.5.4 12 .3-15.9.3 13.5.3-2.1.4 28.3.3-5.2.3-21.8.3 2.8.4-4.6.3-4.2.3 3.5.4.6.3 10.2.3-3.8.3-6.9.4 7.2.3 2.5.3-8.2.3-7.4.4 9.9.3 5.5.3.4.4-1.9.3-8.7.3-.4.3-5.2.4-4.3.3 16.1.3-5.2.3 3.1.4 5.7.3 5 .3-8.7.4-5.1.3 6.4.3 2.4.3-2.3.4-14.1.3-3.7.3 11.8.3 8.1.4-2 .3-8.2.3-.9.4-3.9.3 11.3.3-4.6.3-3.9.4 13.1.3-22.4.3 5.2.3 6.7.4 17.3.3-1.7.3-16 .3-3.2.4 16.6.3-21.8.3 1.6.4 1.6.3 13.2.3-2.4.3 10 .4-6.2.3-14.2.3-2.4.3-1.3.4 5 .3 1.9.3-5.7.4-4.4.3-3.4.3 6.1.3-2.8.4 5.1.3 10.3.3-7.1.3.5.4 3.9.3-4.1.3 5.7.4-12.5.3-8.4.3 6.8.3-2.1.4 3 .3 7.7.3-5.3.3 5.3.4-23.5.3 16.9.3 9.9.4.8.3-19.3.3 6.6.3 5.3.4 12.9.3-4.6.3-.3.3-18.4.4 8.2.3-7.9.3 15.3.4 6.6.3-13.1.3 15.7.3-6.5.4 1.9.3-5.1.3-3.4.3-1.9.4 16.6.3-5.8.3 5.7.3-11 .4 7.4.3-12.2.3-9.8.4 16.4.3-1.8.3 7.8.3-.7.4-.8.3-5.3.3-8.6.3 5.1.4-9.3.3 14.2.3-8.2.4 0 .3 15.8.3-16.8.3 2.1.4 11.1.3 1.5.3 7.5.3-11.7.4-10 .3-.9.3 13.6.4 4.6.3-9 .3-4.1.3 8.1.4-9.6.3 9.5.3-1 .3 1.7.4 7.4.3-1.3.3-7.7.4 5.2.3 2.2.3-8.2.3 3.3.4 4.4.3-11.6.3 5.7.3-7.8.4 6.9.3 2 .3 0 .3 3.8.4 7.3.3-12 .3 3.5.4 3 .3-20.8.3 25.1.3-20.8.4 10.2.3-10.5.3 7.5.3-.5.4 1.3.3-.6.3-1.8.4 6.5.3 0 .3 15.7.3-1.4.4-9.2.3-5.2.3-2.7.3 14.2.4 2.7.3 3.4.3-3.4.4-7.3.3 2.2.3-9 .3.4.4.7.3 12.3.3-19.1.3-1.3.4 11.1.3-5.3.3 5.9.4-7.1.3 3.6.3-17.1.3 13.3.4 11.4.3 1.9.3 3.1.3-13.5.4-4.9.3-4.7.3 1.2.4 6.4.3-2.6.3 8.3.3 0 .4 11.4.3-3.7.3-6.2.3-3.6.4 14 .3-19.2.3 5.9.3-7.2.4.2.3-4.5.3 5.3.4 1.4.3 5 .3-8.3.3-5.8.4 25.4.3-.6.3-2.1.3-6.2.4 15.5.3-5.5.3-7.3.4-20.3.3 19.5.3-9.2.3-14 .4 13.7.3-9 .3 2 .3 9.4.4-6.3.3-13 .3 5.8.4 3.9.3 4.8.3-3.7.3-5.2.4 3 .3-2.2.3-10.8.3 23.9.4 4.2.3-10.1.3-2.5.4-8.2.3-4.2.3 6.2.3 3.7.4-3.2.3 3.7.3 8.1.3 4.7.4-8.6.3 2.7.3 3.5.4-12.6.3 3.9.3-4.7.3-2.4.4 13.7.3-2.8.3 2 .3.4.4-11 .3-5.1.3 17.4.3-7.5.4 4.5.3 1.9.3 19.6.4 1.7.3-13.2.3 4.5.3-6.2.4-6.2.3 2.2.3 6.9.3-5.6.4-10.8.3 6.3.3 12.1.4-8.7.3-1 .3.4.3.3.4-6.3.3 19.3.3-13.9.3 3.1.4-2.1.3-2.9.3 9.2.4-12.8.3 17.2.3-7.9.3 4.4.4-16.7.3 9.4.3-3.1.3-5.6.4 0 .3 5.4.3-1.1.4 10.1.3 1.7.3 5.8.3-6.6.4-1.8.3 15.5.3-4.3.3-2.3.4-6.7.3 12.9.3-15.3.3-2.8.4 7.4.3-2.5.3 6 .4-1 .3-1.7.3 11.1.3-4.2.4-11.2.3 2.4.3-1 .3 8.7.4-9.7.3-6.2.3 13.7.4-5 .3.6.3 2.4.3 3.7.4 18.5.3.6.3 2.7.3-11.4.4-14.6.3 10.4 0-44.1-.3-11.1-.4 1.3-.3-2.4-.3-5.6-.3 12.1-.4.4-.3-14.6-.3.1-.3 6.5-.4 6-.3-20.5-.3-2-.4 6.8-.3-6.3-.3 4.9-.3 5-.4 7.5-.3-11-.3-17.7-.3 6.9-.4 13.7-.3 6.5-.3-6.5-.4-11.8-.3 1.3-.3 16.8-.3-11.1-.4 3.2-.3-6-.3-1.3-.3-11.1-.4 13.3-.3 16.1-.3-1.8-.3-5.4-.4-12-.3 4.4-.3-5.5-.4-3.5-.3 5.7-.3 6.2-.3-7.9-.4 11.2-.3-14.8-.3-1-.3-19.7-.4 18.2-.3 2.5-.3 14.5-.4-3.2-.3-4.7-.3 14.4-.3-18.4-.4 9.6-.3-3.5-.3-14.3-.3-7.4-.4 13.2-.3.9-.3 2.8-.4-.3-.3-1.1-.3-5.5-.3 1.9-.4 3.1-.3-4.5-.3-14.1-.3 12.1-.4 4.5-.3-12.1-.3 3.7-.4.1-.3 12.2-.3-13.2-.3 6-.4 6.9-.3-7.5-.3-7.9-.3 3.7-.4-2.8-.3 10.4-.3-5.7-.3-9.9-.4 8.2-.3-6.6-.3-6.3-.4 5.8-.3-.7-.3 1.5-.3 3.3-.4 5.5-.3-1-.3-1.5-.3 6.1-.4 3.4-.3-5.7-.3 6.6-.4 1-.3-15.4-.3 13.8-.3-2.4-.4-9.3-.3 2-.3 6.1-.3.8-.4-1.9-.3-11.1-.3 4-.4 3.5-.3 2.2-.3 3.2-.3 3.5-.4-2.7-.3-3.7-.3-.4-.3-23.8-.4 15.2-.3 2.1-.3 4.4-.4-12.8-.3 10.7-.3 9.7-.3 11.3-.4-14.6-.3 13.2-.3 3.4-.3-4.8-.4 2-.3-3.5-.3 3.5-.4-2.1-.3 2.9-.3-11.1-.3 19.2-.4-5.6-.3-.2-.3-4.3-.3-1.5-.4-13.3-.3.6-.3-1.8-.3 15.1-.4-3.7-.3-4.8-.3 2.5-.4-3.4-.3 3.5-.3-5.1-.3 7.3-.4 5.2-.3-20.1-.3 10-.3.2-.4 14.3-.3-4-.3 3-.4-8.6-.3 2.9-.3 10.5-.3-11.7-.4 7.4-.3-4-.3-4.9-.3-13.3-.4 2.9-.3 4.5-.3.9-.4 3.7-.3-7.2-.3 14.1-.3 1.3-.4-5.5-.3 2.7-.3-3-.3 10.8-.4-8.8-.3 3.7-.3-3.3-.4-4.9-.3 7.5-.3-10.4-.3 15-.4-17.7-.3 21.9-.3-19.6-.3 19.6-.4-10.1-.3-17.7-.3 9.2-.4 2.4-.3 12-.3-7.9-.3-2.2-.4.4-.3 7.6-.3-3.5-.3 5.6-.4-9.8-.3-4-.3 9.4-.3-3.5-.4-10.2-.3 2.8-.3 1-.4-2.7-.3 6.4-.3 11.3-.3-20.1-.4.4-.3-10.7-.3 9.2-.3 16.7-.4-.1-.3-14.9-.3-4.7-.4 4.3-.3 9.8-.3-3-.3 7.9-.4-8.2-.3-8-.3 17.6-.3-8.4-.4-7.9-.3.8-.3-14.6-.4 16.6-.3 1.4-.3-5.9-.3-3.1-.4 1.1-.3 5.3-.3-4.4-.3 6-.4-6.6-.3 3.9-.3-.2-.4-10.3-.3 17.3-.3.8-.3 8.9-.4-7.8-.3-10.9-.3-4-.3 10.9-.4 6.5-.3 7.2-.3-24.5-.3 3.5-.4-5.1-.3-2.5-.3 18.3-.4-11-.3 7.1-.3-7.9-.3 4.3-.4-6.9-.3 3.2-.3-2.8-.3 15.3-.4-3.6-.3-4.3-.3-13.4-.4 18.3-.3-6.8-.3 5-.3-6.3-.4 1.5-.3 5.8-.3-7.2-.3 8.9-.4 10.6-.3-11.3-.3-1.1-.4-5.7-.3 1.5-.3 11.1-.3-6-.4-2.8-.3 1.5-.3-9.5-.3 3.6-.4 9.1-.3 7.8-.3-4-.4-7.9-.3 5.1-.3-14.4-.3.6-.4 6.2-.3-1.1-.3 11.6-.3-7.6-.4-.3-.3-3.4-.3 19.1-.4-20-.3-3.6-.3 8.3-.3 2.4-.4-3.2-.3 5-.3-16.4-.3 19.7-.4-13.8-.3 3.1-.3 8.2-.3-1.3-.4 6.2-.3 2-.3 3.8-.4-3.8-.3-5.4-.3-2.3-.3-7.4-.4 6.3-.3 1.8-.3-1.1-.3-8-.4 1.9-.3 5.9-.3-5.8-.4-2.7-.3 4.8-.3 16.8-.3-16.9-.4 4.6-.3 2.2-.3-15.9-.3.3-.4 2.9-.3 7.3-.3 4-.4-6.4-.3 1-.3-1.8-.3-7-.4-4.8-.3 11-.3 7.7-.3-5-.4 7-.3 5.7-.3-4.6-.4-1.8-.3-10.3-.3 13-.3 3.2-.4-19.6-.3 15.8-.3-3.1-.3 16.6-.4-16-.3 1.9-.3-10.4-.3 6.1-.4.2-.3-4.6-.3 2.8-.4 1.2-.3 4.1-.3-.7-.3-2.7-.4.1-.3 11.5-.3-4.9-.3-5.1-.4 4.6-.3 6.4-.3-10.9-.4-2.6-.3-1.9-.3 10.3-.3-9.1-.4-.6-.3 6.8-.3 2.1-.3 4.5-.4 8.6-.3-12.1-.3 4.6-.4-3.3-.3 3.5-.3-2.2-.3 4.2-.4 5.6-.3-5.2-.3 11.2-.3-.4-.4-1.8-.3 8.1-.3-11.4-.4 11.9-.3-14.5-.3 1.8-.3-.2-.4 3.8-.3-13.7-.3 15.4-.3-13.8-.4 2.2-.3 4.5-.3-2.2-.4-3.7-.3-6-.3 7.2-.3 10.3-.4-3.7-.3 2.8-.3-9.2-.3 14.4-.4-21-.3-.1-.3 12-.3-4.2-.4-.7-.3 8.6-.3 8-.4-10.9-.3 12.4-.3 3.9-.3 2.5-.4-13.7-.3-8.3-.3.7-.3-7.2-.4-4.4-.3 11.5-.3 2.1-.4 5.2-.3-4-.3-6.3-.3 7.9-.4 8.6-.3-.6-.3-3.7-.3-8.7-.4 2.9-.3 12.4-.3 6.2-.4-7.5-.3-.7-.3-3.9-.3 15.7-.4 3-.3-9-.3-2.4-.3-.4-.4 12.6-.3-5.8-.3-1.9-.4-5.8-.3-10.7-.3-3.8-.3 14-.4-3-.3 8.9-.3 7.9-.3-1.9-.4.6-.3-16.8-.3 9.6-.4.8-.3-.9-.3-1.7-.3-1.8-.4 7.9-.3-4.5-.3 12-.3-1.4-.4-6.7-.3 4-.3-3-.3-14.5-.4 6.3-.3 10.8-.3 6.1-.4-5.5-.3-3.7-.3 3.8-.3.2-.4 4.7-.3-3-.3 3.5-.3 1.8-.4-3.1-.3.3-.3 10.6-.4-10.4-.3-8.2-.3-4.1-.3 11.8-.4-4-.3-2.5-.3-2.6-.3 8.7-.4 2.2-.3 6.3-.3 5.2-.4-8.4-.3 9.1-.3-12.9-.3 8.7-.4-14.8-.3 14.9-.3 2.3-.3-13.9-.4 2.2-.3 3.9-.3-9-.4 3-.3-4.6-.3-2.5-.3 3.7-.4.3-.3-1.7-.3-1.9-.3-1.2-.4 2.1-.3 7.1-.3-10.7-.3-2-.4 5.9-.3-1.2-.3-.1-.4 0-.3-8.8-.3 13.6-.3-15.9-.4 14.2-.3-14.8-.3-7.8-.3 10.7-.4 8.6-.3-21.8-.3-.2-.4 8.6-.3-9.6-.3 2.6-.3-7.3-.4.1-.3-3.9-.3.5-.3 3.7-.4-7.2-.3 6.8-.3 8-.4 1.1-.3-.5-.3-1-.3 10.5-.4-4.7-.3 3.4-.3-10-.3 8-.4 11.5-.3 6.4-.3 2.1-.4-13.3-.3.6-.3.9-.3 8-.4 8.2-.3-9.7-.3-2.8-.3.5-.4 2.5-.3-1.3-.3 6.4-.4-2.4-.3-2.9-.3.8-.3 4.9-.4-8.3-.3-2-.3 3.2-.3.9-.4 14.6-.3-.6-.3-7.4-.3 1-.4-5.5-.3-15.2-.3 8.4-.4 9.5-.3-10.8-.3-.6-.3 12.2-.4-5.4-.3 4.9-.3 4-.3-10.2-.4-5.1-.3 6.4-.3-6.8-.4 1.1-.3 7.7-.3-.5-.3-11.2-.4 2.1-.3-6-.3 9.1-.3 7.2-.4-9.8-.3 12.2-.3-10.7-.4.7-.3 7.4-.3 7.2-.3-6.6-.4-8.9-.3 4.5-.3 3.5-.3-22-.4-3.5-.3 14-.3 9.4-.4 10.5-.3-12.6-.3-4.8-.3 7.5-.4-5-.3-2.2-.3 2.6-.3 5.5-.4 6.5-.3-17.9-.3-5.3-.3 13.5-.4 8-.3.7-.3-9.7-.4-8.9-.3 15.8-.3-.9-.3-4.7-.4-6.4-.3 2.8-.3 5.6-.3-.9-.4.2-.3 1.8-.3-6.1-.4-3.6-.3 1.2-.3 1.2-.3-3.8-.4 5.1-.3-1-.3-6.2-.3-5.2-.4-8.7-.3 5.3-.3-4.8-.4 3.5-.3 15.9-.3-8.1-.3 2.3-.4-4.9-.3.6-.3 8.3-.3 2.9-.4-15.2-.3 13.5-.3-6.5-.4 10.4-.3-1.6-.3-3.7-.3-4.9-.4 7.8-.3 4-.3-1.2-.3-10.8-.4-8.5-.3 5.3-.3-11-.4 3.4-.3-3.6-.3 8.5-.3 1.5-.4-15.8-.3 14.2-.3 11.1-.3-4.2-.4 4-.3-14.2-.3-2.5-.3-6.6-.4-6.5-.3 6.9-.3 10.6-.4-9.3-.3 9.3-.3-2-.3-7.4-.4 2.6-.3 8.1-.3 4.1-.3 0-.4-.2-.3 5.6-.3-4.5-.4-17-.3 6-.3 5.6-.3 4.2-.4-2.1-.3 11.2-.3-7.8-.3-8.5-.4 3-.3 3.5-.3 8.8-.4 7.3-.3-9-.3-16.9-.3 3.8-.4.8-.3 12.8-.3-27.1-.3 1.3-.4 1-.3 14.9-.3-9.6-.4-6.5-.3 12.3-.3 2.4-.3-11.4-.4 15.6-.3-5.1-.3-6.3-.3-2.7-.4 3.9-.3 4.3-.3-4.7-.4-1.3-.3-2.5-.3 10.3-.3-7.3-.4 4.7-.3-1.6-.3-16.6-.3 1.3-.4 4.8-.3 10.4-.3-2.5-.3-12.8-.4 8-.3.8-.3 3.4-.4-3.1-.3-.9-.3 1.3-.3-2.8-.4-1.1-.3 1.7-.3-6-.3-8-.4 5.2-.3 3.7-.3-7.3-.4-1.2-.3 2.1-.3 8.9-.3-9.2-.4 16.9-.3-16.8-.3 1.4-.3 10.3-.4.8-.3 2-.3-5.2-.4 1.2-.3-9.4-.3 4.5-.3-6.9-.4 11.3-.3-4.3-.3 3.3-.3-1.2-.4-10.2-.3 4-.3-1.8-.4 8.7-.3-5.4-.3-3.9-.3 5.5-.4-7.6-.3-11.2-.3-.6-.3 10.3-.4-8.4-.3 11.6-.3-2.4-.3 6.3-.4-2-.3 4.5-.3-6.2-.4-3.8-.3-6.6-.3 10.7-.3-12-.4-3.1-.3 6.9-.3-6.9-.3 14.3-.4 2.2-.3-20-.3-4.7-.4.6-.3 12.8-.3.8-.3-3.4-.4 2-.3-4-.3-17.1-.3 16.9-.4-16.5-.3 8.9Z" fill="#fbc4c6" fill-opacity="0.6"/>
<path d="M1113 158.1l.3-3.3.4-2.1.3 1.1.3-3.1.3 3.4.4-8.5.3-3.2.3-.6.3 2.8.4 3 .3-.8.3 2.2.4 2.3.3-7.7.3 3.9.3-11.5.4 6.8.3-4.8.3 10.6.3-5.8.4-4.3.3.2.3 1.8.4-.2.3 5.3.3.3.3-1.9.4 3.3.3-9.7.3 7.6.3-.5.4-3 .3-6.8.3 5.8.3-.4.4 1.9.3-5.4.3 3.9.4 8 .3-.8.3-5.1.3-.3.4 3.1.3-3.3.3-3.6.3 7.2.4-6.6.3 1 .3 18.1.4-7.3.3-3.7.3 4.8.3.3.4-3.3.3-.2.3 4.8.3 6.1.4-12.7.3-2.4.3 1.6.4 0 .3-1.8.3.8.3 4.4.4-3 .3-.5.3 5.7.3-1.7.4-2.9.3-2.7.3 5 .4-5.1.3 8.2.3.6.3-5.5.4 6 .3 1 .3 2.9.3-4.1.4 1.4.3 4.4.3.5.3-6.6.4-2.5.3 3.7.3-.6.4-3.1.3 14.5.3-13.7.3-5.9.4 1.9.3 7.3.3.3.3 7.4.4-.3.3-4 .3 4.3.4-11.2.3.8.3 1.1.3.1.4 3.8.3-1.6.3 8.4.3-9 .4.1.3-.6.3 3.4.4-6.7.3 5.3.3-.8.3 2.1.4-1.4.3 2.4.3-6.4.3-3.5.4-3.1.3 1.4.3.1.4-2.6.3-1.9.3-5 .3 7.5.4-5.1.3 2.5.3-.2.3 2.1.4-11.9.3 7.1.3.9.4-3.4.3 7.1.3-.2.3-4.1.4 5.1.3-4.4.3-5.9.3 9.7.4-4.4.3-2.6.3 8.9.3-5.9.4 1.6.3 6.5.3-5.1.4-2.6.3-1.1.3 4.4.3-5.9.4 4.9.3 1.5.3 3.9.3-1 .4-3.8.3 1.1.3-5.4.4 2.5.3 0 .3-9.6.3 9.5.4-3.8.3-3.7.3 5.2.3-.7.4 1.5.3 10.4.3-11.3.4 7.9.3-1.9.3-6.3.3 5.9.4-1.1.3-2.8.3 3.8.3-6 .4 1.4.3.6.3.9.4-5.7.3 9.4.3-5.7.3.8.4-4.7.3-6.7.3 6.7.3-2.9.4 8.8.3-9.5.3 8.7.4-1 .3-.7.3 5.3.3-6.5.4-.6.3 1.3.3 8.4.3 1.7.4-5.3.3-7.8.3 14.3.3-2.8.4-9.3.3 3.1.3-.4.4 2.7.3-1.1.3 0 .3 1.3.4 7.3.3-6.4.3-4.1.3 9.4.4-4.9.3 4.6.3 2.7.4-5.7.3 5.3.3 5.3.3.7.4-8.8.3 3.3.3 5 .3-5.7.4 2.7.3-6.6.3 9 .4 1.9.3 0 .3-2.1.3-1.7.4-.1.3-.7.3 2.7.3-5.6.4.2.3 9.6.3-9.2.4 1.1.3-1.4.3 6.6.3 1 .4-9.4.3 12.6.3-7.7.3 0 .4-.2.3.5.3-2.7.3-.2.4-2 .3 4.6.3-3.2.4-2.6.3.9.3 2.8.3-3.1.4-6 .3 1.4.3-1 .3-1 .4-3.8.3.9.3-11.5.4 6.5.3 2.3.3-1.4.3 4.4.4-3.1.3-3.4.3-2.7.3 5.3.4 1.8.3-2.7.3 4.2.4 2.1.3-1.1.3-1 .3 9.2.4-6.9.3 8.5.3 7.2.3-5.8.4 2.7.3.4.3 9.3.4-7.1.3-.2.3 8.3.3.1.4-7.2.3-4.9.3 2 .3 11.3.4-11.3.3 11.2.3-2.7.4 2.2.3-4.1.3 2.3.3 6.6.4-.3.3 6.5.3-2.7.3-3.7.4 5.9.3 3.5.3-7.1.3 5.9.4-2.6.3-.9.3.3.4 3.4.3-.7.3 2.2.3.7.4 8.5.3-6 .3.1.3-6.1.4.5.3 10.1.3-1.9.4-7.4.3 1.5.3 2.2.3.3.4-2.5.3-.7.3 1.8.3-6.8.4-3.6.3 6.7.3-.6.4 9.2.3-3.7.3 1.9.3-9.7.4-2.8.3 6.4.3-3.2.3.8.4-2.7.3 3.3.3-8.6.4 6 .3 1.4.3.2.3-2.2.4-5.6.3 3.6.3.5.3 2.8.4 1 .3-3.9.3-1.7.3-.5.4 4.4.3 4.4.3-2.6.4-2.8.3-2 .3-.1.3-4.2.4 1.1.3-.5.3-1.2.3 4.5.4-2.4.3 6.7.3.9.4-8.1.3 5.7.3-8.8.3 15.1.4-9 .3-1.3.3-7.3.3 4 .4 5 .3-2.7.3 4.2.4.3.3-3.6.3 1.9.3-5.1.4 17.4.3-9.9.3-4.4.3-3.6.4 2.7.3-.9.3-2.9.4-9.6.3 7.5.3 6.4.3-1.1.4-4.2.3 5.2.3-5 .3 3.3.4 1.6.3-1.3.3 6.1.4-2.4.3-1.7.3-1.4.3-1.2.4-1.4.3-8.9.3 13.3.3-10.8.4 4 .3 6.4.3-1.8.3 3.7.4-.9.3-2.4.3-1.2.4.6.3-3.6.3 8.3.3-10.3.4 4.2.3 5.1.3-6.9.3 5.1.4 2.8.3-.3.3.8.4 2.6.3-7.2.3-2.3.3 2.8.4-1.8.3 9 .3-13.6.3 7 .4 2.1.3-6.2.3-1 .4 3.6.3-1.3.3 3.8.3 2.4.4-6.8.3 15.1.3-3.9.3-3.5.4-3.5.3 2.4.3 2.4.4.2.3-3 .3 3.9.3-1.7.4-.1.3 5.7.3-.7.3-1.1.4-2 .3-2.3.3 7.8.4 4.8.3-10.8.3 9.1.3-9.7.4 6.2.3-1 .3-3 .3 2 .4-8 .3-.7.3 10.6.3-10.4.4 4.1.3-6.9.3-2 .4 4.9.3-2.7.3 1.3.3-.9.4 2.7.3 4.2.3-4.9.3 1.5.4 8.2.3-6 .3 1.4.4-4 .3 8 .3-8 .3-9.8.4 12.1.3-5.8.3-7.5.3 4.8.4-2.6.3 4.4.3 5 .4-.6.3-4.5.3 6.4.3-1.3.4 3 .3 4.5.3 3.6.3-14 .4 7.8.3-1.5.3-4.8.4.8.3 1 .3-2.7.3-.4.4 2.9.3 1.3.3-7.9.3 2.5.4.6.3-1.6.3-5.9.3-3.8.4 9 .3 1.2.3-3 .4 1 .3-1.1.3 4.3.3 3.4.4-7.4.3 7.6.3-.4.3 1.1.4-3.4.3 6.5.3-2.3.4-9.8.3 3 .3-.1.3-.6.4-3.8.3 10.4.3-1.8.3-1.8.4 6 .3-1.8.3 3.6.4-3.3.3-.9.3-1.4.3.5.4 1.2.3 10.6.3-8.7.3 1.8.4.2.3 3.2.3-6.2.4 1.5.3 1.3.3-2.8.3-2.7.4 4.9.3-7.4.3 3 .3-.8.4 5.8.3 1 .3 3.2.4-.6.3-3.1.3 1.3.3-.7.4 6.4.3-4.9.3-4.7.3 6.2.4-1.8.3 4.3.3-4.8.3 4.3.4-1 .3 1.3.3-7.1.4 10.3.3-8 .3 11.8.3-5.9.4-2.3.3 4.5.3-5.1.3-1.6.4 6.5.3.2.3 2 .4 4.3.3-4.3.3-4.1.3-2.9.4 1.4.3.1.3-2.4.3-.1.4-5.4.3 2.2.3 9.4.4-8 .3-2.8.3 11.4.3-10.5.4 1.8.3-5.2.3 5.2.3-1.7.4-.8.3-3 .3-4.7.4 1.7.3-3.9.3 4.2.3-1.1.4-.8.3-.5.3 1.5.3-2.6.4 9.7.3-1.6.3-2.6.3-3.6.4 4.1.3 4.8.3-5.6.4 6.9.3.4.3-4.5.3 1.4.4 9 .3-11.6.3 4.4.3-1 .4 13.8.3-8.6.3-1.1.4 3.3.3.5.3-1.8.3-.9.4-.2.3 6.9.3-3.9.3 2.7.4-10.8.3 8.8.3 3 .4-2.9.3 4.4.3-7.4.3-4.5.4 0 .3-3 .3 10.5.3 3.2.4-3.4.3-.2.3 2.3.4-4 .3 6.4.3-2.2.3-3.4.4 2.5.3-4.4.3-2 .3 5.1.4 4.9.3-10 .3 8 .4-3.2.3 3.9.3-2.3.3 1.5.4-3.8.3 5.9.3-1.6.3-2.1.4-6.2.3 6.9.3 4.1.3-1.5.4-11.8.3 14.5.3 1.8.4-5.2.3.7.3-1.2.3 8.1.4-5.8.3.5.3-7.6.3 1.1.4 12.2.3-9.9.3 6.6.4-.1.3 1.5.3 4.8.3-6.6.4 2.2.3-6.4.3 1.8.3-3.3.4 4.6.3 1.5.3-7.5.4 9.7.3-9.3.3 1 .3 4 .4-.9.3 4.3.3-2.9.3 8.9.4-6.4.3 5.1.3 1.1.4 8 .3-8.5.3-2.8.3 6.7.4 0 .3-8 .3 5.5.3 2.1.4 6.3.3-12.6.3 6.7.4-3.8.3-.7.3 2.4.3.5.4 2.8.3-2.6.3.2.3-.4.4 6 .3-1.3.3-1.4.3-8.4.4 2.5.3 7.2.3-11.1.4-.6.3 5 .3-6.8.3 5.6.4-.9.3-2.3.3 3.7.3 3.8.4.3.3.1.3-2.8.4.8.3 2.7.3-8.3.3 5.6.4 1.4.3 3.8.3-.4.3 2.6.4 2.9.3-1.8.3 6.8.4-4.8.3-1.2.3.1.3 2.3.4-1.1.3-3.4.3 4.6.3-.2.4-9.6.3 7 .3-1.3.4-.4.3-3.9.3 2.5.3 3.2.4.4.3 2.1.3-5.1.3 4.3.4-2.7.3 1.3.3 4.2.3-5.8.4 2.8.3-6.1.3 2.3.4 1 .3-2.6.3 6.8.3 3.4.4-3 .3 2.9.3-11 .3 12.3.4.7.3 1 .3-10.3.4 11.2.3-5.1.3-1 .3.9.4.2.3-1.4.3 11.4.3-.1.4-.7.3 2.4" stroke="#000" stroke-width="1.3" fill="none" stroke-linejoin="round"/>
<path d="M1113 97.7l.3-5.7.4 19.7.3-18.2.3 11.2.3 5.6.4.8.3 1.8.3-4.9.3-6 .4 1.7.3.7.3 14.6.4 1.2.3-15.7.3 5.2.3-5.3.4 6.6.3 13 .3-13.1.3 3.5.4 2.3.3 6.3.3-3.9.4 1.6.3-5.4.3 4.4.3-8.5.4 12.9.3-7.2.3.2.3 8.7.4 3.3.3-10.8.3 4.1.3 5 .4-2.4.3 6.8.3-4.4.4 5.4.3-4 .3-4 .3 7.9.4-6.2.3 11.2.3-3.7.3 6.3.4-7 .3-1.1.3 1.5.4.2.3-9.6.3-1.4.3 13.6.4-14.7.3 15.5.3-5.9.3-3 .4-1 .3 7.7.3-.3.4-2.8.3 5.9.3.7.3-7.3.4-2.1.3 4.5.3-1.3.3 0 .4 3.2.3 1.9.3 5 .4-7.4.3 5.8.3 1.2.3-1.7.4-2.4.3-5.8.3 8.7.3.2.4-3.3.3 6.3.3-11.3.3 2.4.4 1.5.3 4.4.3-5.2.4-2.2.3 2.8.3 4.3.3 8 .4-14.6.3 7.7.3 3 .3-10 .4 2.6.3 9.2.3-7.9.4 1.5.3-5.6.3 18.5.3-6.4.4.1.3-7.9.3 14.4.3 10.6.4-8.6.3-8.9.3-2.3.4-4.4.3 8.2.3 7.2.3-9.4.4 5 .3 1 .3-1.6.3-7.7.4 11.2.3-.5.3-6.3.4-.5.3 4.2.3.7.3-7 .4-5.5.3 3.2.3-.3.3-3.5.4 18.1.3-2.6.3-4.1.4 3.5.3-.3.3-5.2.3 8.1.4-4.7.3 8.7.3-6.5.3-13.7.4 10.2.3-5.2.3-2.2.3 7.2.4-5.4.3 3 .3-1.6.4 8.9.3 6.4.3-.3.3-.5.4-4.6.3 5 .3 1 .3-2.2.4-8.4.3 8.1.3-13.1.4 14.2.3-4.8.3-9.1.3 1.5.4 8 .3-3.3.3 4.7.3-7.4.4 2.7.3 7.6.3-6.1.4 4.4.3-1.5.3-.5.3 3.9.4-5.1.3.4.3.9.3-2.9.4 8.6.3 7.9.3-4.3.4-2.4.3 2.4.3-2.3.3-1.2.4 4.8.3-.8.3 4.4.3-11.8.4 7.1.3 4.4.3-.2.4-4.4.3-11.4.3 4.3.3 14 .4-9.1.3-2.6.3-2.9.3.8.4 5 .3-6 .3 6 .3 10.2.4-7.9.3.4.3-8.9.4-.3.3 12.2.3-6.5.3.7.4 8.5.3 3.1.3-11.9.3-2.2.4 3.3.3 11.4.3-15.3.4 3.2.3 1.9.3-2.8.3 5 .4-8.8.3 3.9.3 4.2.3-3.9.4 2.5.3 9.3.3-6.8.4 3 .3 8.4.3-5.3.3-6 .4 5.3.3-12.6.3-3.1.3 10.1.4-5.6.3-8.2.3 13.7.4 4.1.3-1.6.3 6.2.3.3.4-8.8.3 3.2.3-4.3.3-1.9.4 6.4.3-4 .3 0 .3 2.3.4 1.3.3-6 .3 3 .4-2.3.3-3.7.3-.2.3 11.6.4-2.1.3-4.4.3-3.3.3-5.8.4 10 .3-3.3.3-5.3.4-7.1.3-2.7.3 11.1.3-7.4.4.3.3-12.4.3-.6.3 1.9.4-1.3.3-7.9.3-3 .4 10.8.3-1.8.3-1.8.3 1.2.4-1.1.3 8.3.3-1.2.3 10 .4-10.4.3-3.5.3 19.6.4-5.8.3-6.3.3 8 .3 11.6.4-16.3.3 15.1.3-15.5.3 11.5.4 1.7.3-2.6.3 2.4.4-1.1.3 3 .3 5.6.3-6.9.4 3.7.3 2.1.3.1.3.5.4-.7.3-4.2.3 1.7.3 3.9.4-3.7.3 9 .3-2.5.4-1.7.3 11.2.3-5.3.3-11.4.4 14.8.3-11.5.3 12.8.3-7.9.4 8.4.3-2.9.3-2.1.4-.2.3-10.3.3-.4.3-1.4.4 3.3.3-8.1.3 4.1.3 4.9.4 8.9.3-8.8.3.7.4 2.9.3-4.5.3-2 .3 4.1.4-6.5.3.2.3-.3.3 3.9.4 1 .3-3.1.3-7.4.4-5.2.3 15.1.3 3.8.3-4.1.4 2.7.3-2.7.3-5.1.3 7.1.4-8.5.3-.3.3-2.9.3-.5.4 5.3.3-7.2.3 14.9.4-5.7.3-.9.3-3.1.3-4.6.4 6.6.3-12.4.3 1.6.3 4.5.4-1.2.3 7.9.3 8.5.4-13.4.3-2.2.3.4.3 7.2.4-3.9.3-12.5.3 5.9.3.6.4 4.8.3-6.8.3-4.6.4 1.2.3 4.8.3-5.4.3 5.6.4-3.7.3-5.2.3 6.1.3-2 .4-9.9.3 8.5.3-5.4.4 6 .3 5 .3-6.2.3 2.2.4 9.3.3-4.6.3-4.7.3-11.5.4 10 .3-5 .3-5.4.4 1 .3 3.7.3-10.4.3 3.3.4 22.2.3-18.5.3 2.4.3-2.5.4 4.7.3-4.3.3-6.2.3 1.5.4.3.3 5 .3 1.3.4-.3.3 10.7.3-20.3.3 10.3.4-1.1.3 1.3.3-1.6.3 14.9.4-12.9.3 8.4.3-1.8.4 4.5.3-1.3.3-13.4.3 5.3.4-3.2.3-1.1.3 3.9.3-4 .4 1.9.3-5.9.3 10.4.4-10.5.3-7.6.3-2 .3-.2.4 3.1.3 8.1.3-10.9.3 2.2.4 1.7.3 8.7.3-8.7.4-5.7.3 3.3.3 4.7.3-5.2.4 2.3.3-1.7.3-4.4.3 2.1.4.8.3-2.3.3 6.4.4 1 .3-8.2.3 6.2.3-6.2.4 14 .3-16.2.3 8.3.3-9 .4 23.9.3-4.1.3-17.5.3 6.6.4-1.4.3.2.3-1.1.4-3.2.3 7.6.3-5.7.3-9 .4 6 .3 4.8.3-3.3.3-4.2.4 8.2.3.8.3-3.5.4-2.4.3-4.5.3 7.8.3-3.7.4-4.5.3 16.5.3-11 .3-.9.4 4.3.3 5.3.3-7.3.4-3.5.3 7.3.3 1.7.3-2 .4-10.2.3 1.8.3 7.1.3 6.7.4.9.3-6 .3-1.4.4-5.1.3 6.3.3-6.4.3-3.5.4 13.5.3-21.1.3 10.8.3.9.4 10.2.3-2.1.3-12.1.3.2.4 18.3.3-20.4.3 2.4.4 1 .3 10.4.3-7 .3 5.6.4-6.3.3-7.4.3 6 .3-3.1.4 6.4.3 3 .3-6.8.4-6.8.3-3.4.3 7.8.3-2.2.4 3.9.3 8.2.3-9.1.3-.5.4 4.8.3-1.5.3 8.5.4-11.6.3-8.6.3 7 .3-4 .4.8.3 7 .3-5.1.3 6 .4-20.9.3 15.2.3 7 .4 2.3.3-17.4.3 4.7.3 1.1.4 9.9.3-4.4.3 3.8.3-12.8.4 9.6.3-13.1.3 8.9.4 5.9.3-8.4.3 20.1.3-6.8.4-2.3.3-8 .3.3.3 4.5.4 12.2.3-7.3.3 2.4.3-14.2.4 8.9.3-6 .3-6.8.4 11.4.3-3.9.3 6.1.3-2.9.4-1 .3-1.1.3-1.3.3 1.8.4-13 .3 14.4.3-4.4.4 3.9.3 12.1.3-17.2.3 5 .4 9.7.3-3.2.3 5.2.3-10.7.4-7.2.3 2 .3 14.2.4 2.3.3-12.8.3-6.6.3 9.4.4-5 .3 14.7.3-6.1.3-2.4.4 5.1.3-1.2.3-5.2.4 7.7.3 2.9.3-8.9.3 3.7.4 7.1.3-8.6.3 4.6.3-7.7.4 3.2.3 2.1.3 4 .3-4.1.4 2.4.3-10.5.3 10.5.4 6.6.3-20.2.3 22.3.3-21.3.4 13.9.3-12.7.3 9 .3-4.1.4 3.2.3 1.3.3-2.7.4 7.6.3-5.4.3 9.3.3-2 .4-1.8.3-3.3.3-8.4.3 10.7.4-.5.3 1.3.3-4 .4-5.1.3 7.7.3-2 .3 2.2.4-3.3.3 12 .3-14.9.3-2.1.4 9.9.3-4.2.3 5 .4-10.7.3 1.7.3-13.5.3 16.6.4 3.1.3-2.7.3 4.1.3-8.4.4-.8.3-3.6.3 3 .4 5 .3-8.8.3 5 .3-.2.4 12.3.3-1.1.3-.9.3-1.7.4 9.7.3-19.2.3 8.5.3-5 .4 1.2.3-4 .3 4.4.4-.4.3 4.9.3-5.8.3-9.5.4 20 .3-6 .3-5.9.3-8.4.4 14.2.3-5 .3-4.7.4-17.7.3 21.6.3-4.4.3-5.2.4 8.3.3-6.3.3-.6.3 3.6.4-4.9.3-8.5.3 8.4.4 2.9.3 2.1.3-5 .3-3.6.4 6.2.3.1.3-12.3.3 19.6.4 1.7.3-8.4.3 1.6.4-5.8.3-5.1.3 3.8.3 2.4.4-4.4.3.2.3 3.3.3 2.7.4-7.2.3 4.5.3 5.1.4-10.4.3 6.8.3.6.3-6.5.4 8.3.3-3.3.3 5 .3 4 .4-9 .3-5.6.3 15.4.3-9.9.4 2.2.3-.9.3 15.9.4-1.5.3-12.6.3 9.3.3-.8.4-4.7.3.1.3 6.2.3-2.2.4-5.2.3 1.7.3 5.6.4-10.9.3 3.1.3 7.4.3 1.9.4-7.9.3 18.8.3-14.2.3 4 .4.5.3-8.7.3 3.3.4-15.4.3 18.4.3-3.5.3 9.7.4-14 .3 8.7.3-4.7.3-5.6.4 1.7.3 5.5.3-2.8.4 11.1.3 3.5.3 3.8.3-11.4.4-7.5.3 13.3.3-1.5.3 1.9.4-5 .3 12 .3-16 .3-2.1.4 9.6.3 2 .3-.3.4-7.3.3-4.3.3 14.4.3 3.4.4-9.3.3-1.3.3-3 .3 7.5.4-8.3.3-2.1.3 17.2.4-5.5.3-3 .3 1.1.3 9.2.4 9.1.3-5.8.3 4.2.3-4.6.4-7.9.3 10.7" stroke="#f50f14" stroke-width="1.4" fill="none" stroke-linejoin="round"/>
<path d="M1106.2 54.2L1106.2 242.4" stroke="#262626" stroke-width="1.3" fill="none"/>
<path d="M1089.7 54.2L1106.2 54.2" stroke="#262626" stroke-width="1.3" fill="none"/>
<text x="1082.2" y="61.5" text-anchor="end" font-size="24.2" textLength="13.1" lengthAdjust="spacingAndGlyphs">5</text>
<path d="M1089.7 148.3L1106.2 148.3" stroke="#262626" stroke-width="1.3" fill="none"/>
<text x="1082.2" y="155.6" text-anchor="end" font-size="24.2" textLength="13.1" lengthAdjust="spacingAndGlyphs">0</text>
<path d="M1089.7 242.4L1106.2 242.4" stroke="#262626" stroke-width="1.3" fill="none"/>
<text x="1082.2" y="249.7" text-anchor="end" font-size="24.2" textLength="26.1" lengthAdjust="spacingAndGlyphs">–5</text>
<text x="1031.2" y="147.5" font-size="25" text-anchor="middle" transform="rotate(-90 1031.2 147.5)" textLength="102.5" lengthAdjust="spacingAndGlyphs">Δ<tspan font-style="italic">F</tspan>/<tspan font-style="italic">F</tspan><tspan font-size="15.5" dy="6">0</tspan><tspan dy="-6"> (%)</tspan></text>
<text x="1115.2" y="241" font-size="21.5" textLength="132" lengthAdjust="spacingAndGlyphs">300 mM sugars</text>
<text x="1115.2" y="265.6" fill="#e4202a" font-size="21.5" textLength="132" lengthAdjust="spacingAndGlyphs">900 mM sugars</text>
<path d="M1203.5 308.5l.9-7.1.9 1.2.9 1.2.9 1.2.9.9.9.6.9.5.9.5.9.3.9-.2.9-.1.8-.2.9-.2.9-.2.9.1.9.4.9.4.9.4.9 0 .9-.5.9-.6.9-.5.9.5.9 2 .9 2 .9 2 .9.6.9-1.3.9-1.4.9-1.3.9-.3.9 1.1.9 1.1.9 1 .9-.2.9-1.9.8-1.9.9-1.9.9-.2.9 1.7.9 1.7.9 1.7.9 1.7.9 1.7.9 1.2.9.7.9.7.9.8.9.7.9.7.9-.2.9-1 .9-1 .9-1 .9-1 .9-1 .9-1 .9-1 .9-.7.9-.3.8-.4.9-.3.9-.4.9-.3.9 0 .9.2.9.3.9.3.9.2.9.3.9.3.9.2.9.3.9.3.9.7.9 1.2.9 1.1.9 1.1.9 1.2.9 1.1.9 1.2.9 1.1.9.1.9-.5.9-.6.8-.5.9-.5.9-.6.9.2.9.7.9.6.9.6.9.6.9.7.9-.1.9-.5.9-.5.9-.4.9-.5.9-.5.9-.4.9-.5.9-.3.9-.3.9-.3.9-.2.9-.3.9-.3.9-.3.9-.2.8-.2.9-.1.9-.2.9-.1.9-.1.9-.2.9-.1.9-.1.9.3.9.6.9.5.9.5.9.6.9.5.9.5.9.6.9-.9.9-1.4.9-1.3.9-1.3.9.3.9.8.9.8.9.8.9.8.8.8.9.8.9.8.9-.4.9-.7.9-.7.9-.7.9-.8.9-.7.9.6.9.8.9.8.9.8.9.8.9.8.9.2.9 0 .9.1.9.1.9 0 .9.1.9.1.9 0 .9.1.9 0 .8.1.9 0 .9.1.9 0 .9.1.9.1.9 0 .9.1.9-.2.9-.1.9-.2.9-.2.9-.1.9-.2.9-.1.9-.2.9-.2.9-.1.9.3.9.4.9.3.9.4.9.3.9.4.9-.6.8-.6.9-.6.9-.7.9-.6.9-.6.9.9.9.9.9 1 .9.9.9-.8.9-.8.9-.8.9-.8 0-5.6-.9.8-.9.8-.9.8-.9.8-.9-.9-.9-1-.9-.9-.9-.9-.9.6-.9.6-.9.7-.9.6-.8.6-.9.6-.9-.4-.9-.3-.9-.4-.9-.3-.9-.4-.9-.3-.9.1-.9.2-.9.2-.9.1-.9.2-.9.1-.9.2-.9.2-.9.1-.9.2-.9-.1-.9 0-.9-.1-.9 0-.9-.1-.9-.1-.9 0-.8-.1-.9 0-.9-.1-.9 0-.9-.1-.9-.1-.9 0-.9-.1-.9-.1-.9 0-.9-.2-.9-.8-.9-.8-.9-.8-.9-.8-.9-.8-.9-.6-.9.7-.9.8-.9.7-.9.7-.9.7-.9.4-.9-.8-.9-.8-.8-.8-.9-.8-.9-.8-.9-.8-.9-.8-.9-.3-.9 1.3-.9 1.4-.9 1.3-.9.9-.9-.6-.9-.5-.9-.5-.9-.6-.9-.5-.9-.5-.9-.6-.9-.3-.9.1-.9.1-.9.2-.9.1-.9.1-.9.2-.9.1-.8.2-.9.3-.9.2-.9.3-.9.3-.9.2-.9.3-.9.3-.9.3-.9.5-.9.4-.9.5-.9.5-.9.4-.9.5-.9.5-.9.1-.9-.7-.9-.6-.9-.6-.9-.6-.9-.7-.9-.2-.9.6-.9.5-.8.5-.9.6-.9.5-.9-.1-.9-1.1-.9-1.2-.9-1.1-.9-1.1-.9-1.2-.9-1.1-.9-1.2-.9-.7-.9-.3-.9-.3-.9-.2-.9-.3-.9-.3-.9-.2-.9-.3-.9-.3-.9-.2-.9 0-.9.3-.9.4-.9.3-.8.4-.9.4-.9.6-.9 1-.9 1-.9 1-.9 1-.9 1-.9 1-.9 1-.9.2-.9-.7-.9-.7-.9-.8-.9-.7-.9-.7-.9-1.2-.9-1.7-.9-1.7-.9-1.7-.9-1.7-.9-1.7-.9.2-.9 1.9-.8 1.9-.9 1.9-.9.2-.9-1-.9-1.1-.9-1.1-.9.3-.9 1.3-.9 1.4-.9 1.3-.9-.6-.9-2-.9-2-.9-2-.9-.5-.9.5-.9.6-.9.5-.9 0-.9-.4-.9-.4-.9-.4-.9-.1-.9.2-.9.2-.8.2-.9.1-.9.2-.9-.3-.9-.5-.9-.5-.9-.6-.9-.9-.9-1.2-.9-1.2-.9-1.2-.9 7.1Z" fill="#d2d2d2"/>
<path d="M1203.5 319.9l.9-1.4.9.7.9.6.9.7.9-.1.9-1.4.9-1.4.9-1.4.9-1.5.9-1.4.9-.6.8.9.9.9.9.9.9.9.9.9.9.6.9.1.9.2.9.1.9.1.9.2.9.1.9.1.9.3.9.4.9.5.9.4.9.5.9.4.9-.1.9-.8.9-.8.9-.8.9-.2.9.4.8.5.9.5.9.5.9.4.9.5.9.5.9.2.9 0 .9-.1.9 0 .9 0 .9-.1.9 0 .9-.1.9 0 .9 0 .9-.1.9 0 .9 0 .9-.1.9 0 .9 0 .9 0 .9 0 .8 0 .9.1.9 0 .9 0 .9 0 .9.1.9 0 .9 0 .9 0 .9.1.9 0 .9 0 .9.1.9 0 .9 0 .9 0 .9.1.9 0 .9 0 .9 0 .9-.1.9 0 .9 0 .9 0 .9-.1.8 0 .9 0 .9-.1.9 0 .9 0 .9 0 .9-.1.9 0 .9 0 .9 0 .9-.1.9 0 .9 0 .9-.1.9 0 .9 0 .9 0 .9-.1.9 0 .9 0 .9 0 .9-.1.9 0 .9 0 .9 0 .8-.1.9 0 .9 0 .9-.1.9 0 .9 0 .9 0 .9-.1.9.1.9 0 .9.1.9 0 .9.1.9 0 .9.1.9 0 .9.1.9.1.9 0 .9.1.9 0 .9.1.9 0 .9.1.9 0 .8.1.9 0 .9.1.9 0 .9-.1.9 0 .9-.1.9-.1.9 0 .9-.1.9 0 .9-.1.9 0 .9-.1.9 0 .9-.1.9 0 .9-.1.9 0 .9-.1.9-.1.9 0 .9-.1.9.1.9 0 .8.1.9 0 .9.1.9 0 .9.1.9.1.9 0 .9.1.9 0 .9.1.9 0 .9.1.9 0 .9.1.9 0 .9.1.9 0 .9.1.9 0 .9-.1.9 0 .9-.1.9 0 .9 0 .9-.1.8 0 .9 0 .9-.1.9 0 .9-.1.9 0 .9 0 .9-.6.9-.5.9-.5.9-.6.9-.5.9-.5 0-2.7-.9.5-.9.6-.9.5-.9.5-.9.6-.9.5-.9 0-.9.1-.9 0-.9.1-.9 0-.9 0-.8.1-.9 0-.9 0-.9.1-.9 0-.9.1-.9 0-.9 0-.9 0-.9-.1-.9 0-.9-.1-.9 0-.9-.1-.9 0-.9-.1-.9 0-.9-.1-.9-.1-.9 0-.9-.1-.9 0-.9-.1-.9 0-.9-.1-.8 0-.9-.1-.9 0-.9 0-.9.1-.9 0-.9.1-.9 0-.9.1-.9.1-.9 0-.9.1-.9 0-.9.1-.9 0-.9.1-.9 0-.9.1-.9 0-.9.1-.9 0-.9.1-.9 0-.9 0-.9-.1-.8 0-.9-.1-.9 0-.9-.1-.9-.1-.9 0-.9-.1-.9 0-.9-.1-.9 0-.9-.1-.9 0-.9-.1-.9 0-.9-.1-.9 0-.9-.1-.9 0-.9 0-.9 0-.9.1-.9 0-.9 0-.9 0-.9.1-.8 0-.9 0-.9 0-.9.1-.9 0-.9 0-.9.1-.9 0-.9 0-.9 0-.9.1-.9 0-.9 0-.9 0-.9.1-.9 0-.9 0-.9 0-.9.1-.9 0-.9 0-.9.1-.9 0-.9 0-.9 0-.8.1-.9 0-.9 0-.9 0-.9.1-.9 0-.9 0-.9 0-.9 0-.9 0-.9-.1-.9 0-.9 0-.9 0-.9-.1-.9 0-.9 0-.9 0-.9-.1-.9 0-.9 0-.9-.1-.9 0-.9 0-.9 0-.8-.1-.9 0-.9 0-.9.1-.9 0-.9 0-.9.1-.9 0-.9 0-.9.1-.9 0-.9 0-.9.1-.9 0-.9 0-.9.1-.9 0-.9 0-.9-.2-.9-.5-.9-.4-.9-.5-.9-.5-.9-.4-.8-.5-.9-.5-.9.2-.9.8-.9.8-.9.8-.9.2-.9-.5-.9-.4-.9-.5-.9-.4-.9-.5-.9-.2-.9-.2-.9-.1-.9-.1-.9-.2-.9-.1-.9-.1-.9-.2-.9-.6-.9-.9-.9-.9-.9-.8-.9-.9-.8-.9-.9.5-.9 1.5-.9 1.4-.9 1.4-.9 1.4-.9 1.5-.9 0-.9-.6-.9-.7-.9-.7-.9 1.4Z" fill="#f6b3b5" fill-opacity="0.6"/>
<path d="M1113 322l.9 0 .9 0 .9 0 .9 0 .9 0 .9 0 .9 0 .9 0 .9 0 .9 0 .9 0 .9 0 .8 0 .9 0 .9 0 .9 0 .9 0 .9 0 .9 0 .9 0 .9 0 .9 0 .9 0 .9 0 .9 0 .9 0 .9 0 .9 0 .9 0 .9 0 .9 0 .9 0 .9 0 .9 0 .9 0 .9 0 .9 0 .8 0 .9 0 .9 0 .9 0 .9 0 .9 0 .9 0 .9 0 .9 0 .9 0 .9 0 .9 0 .9 0 .9 0 .9 0 .9 0 .9 0 .9 0 .9 0 .9 0 .9 0 .9 0 .9 0 .9 0 .9 0 .8 0 .9 0 .9 0 .9 0 .9 0 .9 0 .9 0 .9 0 .9 0 .9 0 .9 0 .9 0 .9 0 .9 0 .9 0 .9 0 .9 0 .9 0 .9 0 .9 0 .9 0 .9 0 .9 0 .9 0 .9 0 .8 0 .9 0 .9 0 .9 0 .9 0 .9 0 .9 0 .9 0 .9 0 .9 0 .9 0 .9 0 .9-3.8.9-11.5.9-7.2.9 1.2.9 1.2.9 1.2.9 1 .9.5.9.5.9.6.9.2.9-.1.9-.2.8-.2.9-.2.9-.1.9 0 .9.4.9.4.9.4.9 0 .9-.5.9-.5.9-.6.9.5.9 2 .9 2.1.9 2 .9.5.9-1.3.9-1.3.9-1.4.9-.3.9 1.1.9 1.1.9 1.1.9-.3.9-1.9.8-1.9.9-1.8.9-.2.9 1.7.9 1.7.9 1.6.9 1.7.9 1.7.9 1.3.9.7.9.7.9.7.9.7.9.7.9-.1.9-1 .9-1 .9-1 .9-1 .9-1.1.9-1 .9-1 .9-.6.9-.4.8-.3.9-.4.9-.3.9-.4.9 0 .9.3.9.2.9.3.9.3.9.2.9.3.9.3.9.2.9.3.9.8.9 1.1.9 1.1.9 1.2.9 1.1.9 1.2.9 1.1.9 1.1.9.1.9-.5.9-.5.8-.6.9-.5.9-.5.9.2.9.6.9.6.9.6.9.7.9.6.9-.1.9-.5.9-.4.9-.5.9-.5.9-.4.9-.5.9-.5.9-.3.9-.3.9-.2.9-.3.9-.3.9-.2.9-.3.9-.3.8-.2.9-.1.9-.1.9-.2.9-.1.9-.1.9-.2.9-.1.9.4.9.5.9.5.9.6.9.5.9.5.9.6.9.5.9-.9.9-1.3.9-1.4.9-1.3.9.3.9.8.9.8.9.8.9.8.8.8.9.8.9.8.9-.4.9-.7.9-.7.9-.7.9-.7.9-.7.9.5.9.8.9.8.9.8.9.8.9.8.9.2.9.1.9 0 .9.1.9.1.9 0 .9.1.9.1.9 0 .9.1.8 0 .9.1.9 0 .9.1.9 0 .9.1.9 0 .9.1.9-.1.9-.2.9-.2.9-.1.9-.2.9-.1.9-.2.9-.2.9-.1.9-.2.9.3.9.4.9.3.9.4.9.4.9.3.9-.6.8-.6.9-.6.9-.6.9-.7.9-.6.9.9.9.9.9 1 .9.9.9-.8.9-.8.9-.8.9-.8" stroke="#000" stroke-width="1.8" fill="none" stroke-linejoin="round"/>
<path d="M1113 322l.9 0 .9 0 .9 0 .9 0 .9 0 .9 0 .9 0 .9 0 .9 0 .9 0 .9 0 .9 0 .8 0 .9 0 .9 0 .9 0 .9 0 .9 0 .9 0 .9 0 .9 0 .9 0 .9 0 .9 0 .9 0 .9 0 .9 0 .9 0 .9 0 .9 0 .9 0 .9 0 .9 0 .9 0 .9 0 .9 0 .9 0 .8 0 .9 0 .9 0 .9 0 .9 0 .9 0 .9 0 .9 0 .9 0 .9 0 .9 0 .9 0 .9 0 .9 0 .9 0 .9 0 .9 0 .9 0 .9 0 .9 0 .9 0 .9 0 .9 0 .9 0 .9 0 .8 0 .9 0 .9 0 .9 0 .9 0 .9 0 .9 0 .9 0 .9 0 .9 0 .9 0 .9 0 .9 0 .9 0 .9 0 .9 0 .9 0 .9 0 .9 0 .9 0 .9 0 .9 0 .9 0 .9 0 .9 0 .8 0 .9 0 .9 0 .9 0 .9 0 .9 0 .9 0 .9 0 .9 0 .9 0 .9 0 .9 0 .9-.8.9-2.4.9-1.4.9.7.9.7.9.6.9 0 .9-1.5.9-1.4.9-1.4.9-1.4.9-1.5.9-.5.8.9.9.9.9.8.9.9.9.9.9.6.9.2.9.1.9.1.9.2.9.1.9.1.9.2.9.2.9.5.9.4.9.5.9.4.9.5.9-.2.9-.8.9-.8.9-.8.9-.2.9.5.8.5.9.4.9.5.9.5.9.4.9.5.9.2.9 0 .9 0 .9-.1.9 0 .9 0 .9-.1.9 0 .9 0 .9-.1.9 0 .9 0 .9-.1.9 0 .9 0 .9-.1.9 0 .9 0 .8.1.9 0 .9 0 .9 0 .9.1.9 0 .9 0 .9.1.9 0 .9 0 .9 0 .9.1.9 0 .9 0 .9 0 .9.1.9 0 .9 0 .9 0 .9 0 .9 0 .9-.1.9 0 .9 0 .9 0 .8-.1.9 0 .9 0 .9 0 .9-.1.9 0 .9 0 .9-.1.9 0 .9 0 .9 0 .9-.1.9 0 .9 0 .9 0 .9-.1.9 0 .9 0 .9-.1.9 0 .9 0 .9 0 .9-.1.9 0 .9 0 .8 0 .9-.1.9 0 .9 0 .9 0 .9-.1.9 0 .9 0 .9 0 .9.1.9 0 .9.1.9 0 .9.1.9 0 .9.1.9 0 .9.1.9 0 .9.1.9 0 .9.1.9.1.9 0 .9.1.8 0 .9.1.9 0 .9 0 .9-.1.9 0 .9-.1.9 0 .9-.1.9 0 .9-.1.9 0 .9-.1.9 0 .9-.1.9-.1.9 0 .9-.1.9 0 .9-.1.9 0 .9-.1.9 0 .9 0 .9.1.8 0 .9.1.9 0 .9.1.9 0 .9.1.9 0 .9.1.9 0 .9.1.9.1.9 0 .9.1.9 0 .9.1.9 0 .9.1.9 0 .9 0 .9 0 .9-.1.9 0 .9-.1.9 0 .9 0 .8-.1.9 0 .9 0 .9-.1.9 0 .9-.1.9 0 .9-.5.9-.6.9-.5.9-.5.9-.6.9-.5" stroke="#ee1c24" stroke-width="1.8" fill="none" stroke-linejoin="round"/>
<path d="M1106.2 268.7L1106.2 322" stroke="#262626" stroke-width="1.3" fill="none"/>
<path d="M1089.7 268.7L1106.2 268.7" stroke="#262626" stroke-width="1.3" fill="none"/>
<text x="1082.2" y="276" text-anchor="end" font-size="24.2" textLength="26.1" lengthAdjust="spacingAndGlyphs">10</text>
<path d="M1089.7 322L1106.2 322" stroke="#262626" stroke-width="1.3" fill="none"/>
<text x="1082.2" y="329.3" text-anchor="end" font-size="24.2" textLength="13.1" lengthAdjust="spacingAndGlyphs">0</text>
<path d="M1113 330.2L1380.9 330.2" stroke="#262626" stroke-width="1.3" fill="none"/>
<path d="M1113 330.2L1113 346" stroke="#262626" stroke-width="1.3" fill="none"/>
<text x="1113" y="371" text-anchor="middle" font-size="24.2" textLength="26.1" lengthAdjust="spacingAndGlyphs">–5</text>
<path d="M1202.3 330.2L1202.3 346" stroke="#262626" stroke-width="1.3" fill="none"/>
<text x="1202.3" y="371" text-anchor="middle" font-size="24.2" textLength="13.1" lengthAdjust="spacingAndGlyphs">0</text>
<path d="M1291.6 330.2L1291.6 346" stroke="#262626" stroke-width="1.3" fill="none"/>
<text x="1291.6" y="371" text-anchor="middle" font-size="24.2" textLength="13.1" lengthAdjust="spacingAndGlyphs">5</text>
<path d="M1380.9 330.2L1380.9 346" stroke="#262626" stroke-width="1.3" fill="none"/>
<text x="1380.9" y="371" text-anchor="middle" font-size="24.2" textLength="26.1" lengthAdjust="spacingAndGlyphs">10</text>
<text x="1246.6" y="396.9" text-anchor="middle" font-size="24.5" textLength="113.4" lengthAdjust="spacingAndGlyphs">Time (min)</text>
<text x="1000.8" y="295" text-anchor="middle" font-size="24.5" textLength="87.4" lengthAdjust="spacingAndGlyphs" transform="rotate(-90 1000.8 295)">Drinking</text>
<text x="1029.2" y="295" font-size="24.5" text-anchor="middle" transform="rotate(-90 1029.2 295)" textLength="97.5" lengthAdjust="spacingAndGlyphs">(licks s<tspan font-size="15.2" dy="-8">−1</tspan><tspan dy="8">)</tspan></text>
<text x="1418.8" y="24" font-size="34" font-weight="bold">d</text>
<text x="1507.8" y="40" text-anchor="middle" textLength="78.4" lengthAdjust="spacingAndGlyphs">1x Water</text>
<text x="1507" y="65" text-anchor="middle" textLength="150" lengthAdjust="spacingAndGlyphs">1x 300 mM NaCl</text>
<path d="M1485.7 72.6L1485.7 82" stroke="#262626" stroke-width="1.3" fill="none"/>
<path d="M1529.3 72.6L1529.3 82" stroke="#262626" stroke-width="1.3" fill="none"/>
<rect x="1449.7" y="82" width="114.9" height="22" fill="none" stroke="#333" stroke-width="1.3"/>
<text x="1507.5" y="101" text-anchor="middle" textLength="75" lengthAdjust="spacingAndGlyphs">Random</text>
<path d="M1485.7 104L1485.7 118" stroke="#000" stroke-width="1.3" fill="none"/>
<path d="M1479.1 113.2L1485.7 127.5L1492.3 113.2L1485.7 116.8Z" fill="#000"/>
<path d="M1529.3 104L1529.3 118" stroke="#000" stroke-width="1.3" fill="none"/>
<path d="M1522.7 113.2L1529.3 127.5L1535.9 113.2L1529.3 116.8Z" fill="#000"/>
<rect x="1472.3" y="131" width="27.5" height="62.6" rx="3.5" fill="#6c8fb6"/>
<rect x="1475.4" y="194" width="20.8" height="21.6" fill="#000"/>
<path d="M1482.9 215.6h6v18h-1.3v4.6h-3.4v-4.6h-1.3z" fill="#8e8e8e"/>
<ellipse cx="1485.9" cy="240.6" rx="2.7" ry="2" fill="#5b97cf"/>
<rect x="1516" y="131" width="27.5" height="62.6" rx="3.5" fill="#6c8fb6"/>
<rect x="1519.1" y="194" width="20.8" height="21.6" fill="#000"/>
<path d="M1526.6 215.6h6v18h-1.3v4.6h-3.4v-4.6h-1.3z" fill="#8e8e8e"/>
<ellipse cx="1529.6" cy="240.6" rx="2.7" ry="2" fill="#5b97cf"/>
<rect x="1442.3" y="231.4" width="126.7" height="126.2" fill="none" stroke="#333" stroke-width="1.3"/>
<g transform="translate(1406.2 -44.6)"><path d="M102.1 283C104.5 283.2 107.5 287 109.6 291.2C110.8 291 112.4 291.3 112.8 292.4C113 293.4 112.6 294.2 112 294.6C114.8 298.5 116.3 304 116.2 310.5C116 319.5 110.5 327.5 102.8 327.8C95 327.5 89.2 319.5 88.9 310.5C88.8 304 90.4 298.5 93.2 294.6C92.5 294.2 92 293.4 92.3 292.4C92.8 291.3 94.3 291 95.5 291.2C97.5 287 99.8 283.2 102.1 283Z" fill="#000"/><path d="M102.6 326.5C101.3 331 100.5 337 101.5 341.5C102.5 346 106.5 346.5 108.8 342C110.5 338.5 112 334 115.5 331.5C118 330 120.5 330.8 122.5 332.8" stroke="#000" stroke-width="2.5" fill="none" stroke-linecap="round"/></g>
<text x="1505.4" y="324.7" text-anchor="middle" textLength="78.7" lengthAdjust="spacingAndGlyphs">NaCl i.g.</text>
<path d="M1450.7 330.5L1560 330.5" stroke="#262626" stroke-width="1.3" fill="none"/>
<text x="1450.7" y="351.7" textLength="109.9" lengthAdjust="spacingAndGlyphs">0.15 M/<tspan fill="#e4202a">1.5 M</tspan></text>
<text x="1505.5" y="381.7" text-anchor="middle" font-size="20.3" textLength="173" lengthAdjust="spacingAndGlyphs">Dehydrated mouse</text>
<path d="M1705.6 86.5l44.7 94 44.7 48.4 44.7-32.2" stroke="#d9d9d9" stroke-width="1" fill="none" stroke-linejoin="round"/>
<path d="M1705.6 188.6l44.7 10.8 44.7-29.6 44.7 37.6" stroke="#d9d9d9" stroke-width="1" fill="none" stroke-linejoin="round"/>
<path d="M1705.6 220.9l44.7 21.5 44.7-48.4 44.7 37.6" stroke="#d9d9d9" stroke-width="1" fill="none" stroke-linejoin="round"/>
<path d="M1705.6 239.7l44.7 10.7 44.7 0 44.7-77.9" stroke="#d9d9d9" stroke-width="1" fill="none" stroke-linejoin="round"/>
<path d="M1705.6 314.9l44.7 2.7 44.7 2.7 44.7-16.1" stroke="#d9d9d9" stroke-width="1" fill="none" stroke-linejoin="round"/>
<path d="M1705.6 255.8l44.7 48.4 44.7-121 44.7 43" stroke="#d9d9d9" stroke-width="1" fill="none" stroke-linejoin="round"/>
<path d="M1705.6 202l44.7 13.5 44.7 40.3 44.7-40.3" stroke="#d9d9d9" stroke-width="1" fill="none" stroke-linejoin="round"/>
<path d="M1705.6 62.3l44.7 59.1 44.7 53.8 44.7-21.5" stroke="#d9d9d9" stroke-width="1" fill="none" stroke-linejoin="round"/>
<path d="M1705.6 234.3l44.7 24.2 44.7 16.1 44.7-53.7" stroke="#d9d9d9" stroke-width="1" fill="none" stroke-linejoin="round"/>
<path d="M1705.6 183.2l44.7 24.2 44.7-21.5 44.7 16.1" stroke="#d9d9d9" stroke-width="1" fill="none" stroke-linejoin="round"/>
<path d="M1705.6 62.3l44.7 0 44.7-8.1 44.7 2.7" stroke="#fac3c5" stroke-width="1" fill="none" stroke-linejoin="round"/>
<path d="M1705.6 65l44.7 16.1 44.7-13.5 44.7-2.6" stroke="#fac3c5" stroke-width="1" fill="none" stroke-linejoin="round"/>
<path d="M1705.6 97.2l44.7-21.5 44.7-13.4 44.7 5.3" stroke="#fac3c5" stroke-width="1" fill="none" stroke-linejoin="round"/>
<path d="M1705.6 309.6l44.7-250 44.7 102.1 44.7-102.1" stroke="#fac3c5" stroke-width="1" fill="none" stroke-linejoin="round"/>
<path d="M1705.6 269.2l44.7-206.9 44.7 16.1 44.7 77.9" stroke="#fac3c5" stroke-width="1" fill="none" stroke-linejoin="round"/>
<path d="M1705.6 261.2l44.7-174.7 44.7-21.5 44.7 51" stroke="#fac3c5" stroke-width="1" fill="none" stroke-linejoin="round"/>
<path d="M1705.6 215.5l44.7-158.6 44.7 266.1 44.7-260.7" stroke="#fac3c5" stroke-width="1" fill="none" stroke-linejoin="round"/>
<path d="M1705.6 161.7l44.7-91.4 44.7 29.6 44.7-24.2" stroke="#fac3c5" stroke-width="1" fill="none" stroke-linejoin="round"/>
<path d="M1705.6 67.6l44.7-2.6 44.7 59.1 44.7 51.1" stroke="#fac3c5" stroke-width="1" fill="none" stroke-linejoin="round"/>
<path d="M1705.6 196.7l44.7-123.7 44.7-13.4 44.7 2.7" stroke="#fac3c5" stroke-width="1" fill="none" stroke-linejoin="round"/>
<path d="M1705.6 290.7l44.7-223.1 44.7 147.9 44.7-145.2" stroke="#fac3c5" stroke-width="1" fill="none" stroke-linejoin="round"/>
<path d="M1705.6 165.2l44.7-99.1 44.7 53.9 44.7-36.5" stroke="#e0262c" stroke-width="1.5" fill="none" stroke-linejoin="round"/>
<path d="M1705.6 129.7L1705.6 196.5" stroke="#e0262c" stroke-width="1.6" fill="none"/>
<path d="M1750.3 62.6L1750.3 69.6" stroke="#e0262c" stroke-width="1.6" fill="none"/>
<path d="M1795 86.3L1795 155.8" stroke="#e0262c" stroke-width="1.6" fill="none"/>
<path d="M1839.7 70.6L1839.7 96.3" stroke="#e0262c" stroke-width="1.6" fill="none"/>
<path d="M1705.6 198.3l44.7 44.1 44.7-17 44.7-13.2" stroke="#222" stroke-width="1.5" fill="none" stroke-linejoin="round"/>
<path d="M1705.6 193L1705.6 224.3" stroke="#222" stroke-width="1.6" fill="none"/>
<path d="M1750.3 230.6L1750.3 255" stroke="#222" stroke-width="1.6" fill="none"/>
<path d="M1795 208.7L1795 242.4" stroke="#222" stroke-width="1.6" fill="none"/>
<path d="M1839.7 198.3L1839.7 226.8" stroke="#222" stroke-width="1.6" fill="none"/>
<text x="1750.3" y="53.5" text-anchor="middle" font-size="19" textLength="30.3" lengthAdjust="spacingAndGlyphs">****</text>
<text x="1795" y="53.5" text-anchor="middle" font-size="19" textLength="14.2" lengthAdjust="spacingAndGlyphs">**</text>
<text x="1839.6" y="53.5" text-anchor="middle" font-size="19" textLength="22.4" lengthAdjust="spacingAndGlyphs">***</text>
<path d="M1699 54.2L1699 323" stroke="#262626" stroke-width="1.3" fill="none"/>
<path d="M1682 323L1699 323" stroke="#262626" stroke-width="1.3" fill="none"/>
<text x="1675.5" y="330.3" text-anchor="end" font-size="24.2" textLength="13.1" lengthAdjust="spacingAndGlyphs">0</text>
<path d="M1682 255.8L1699 255.8" stroke="#262626" stroke-width="1.3" fill="none"/>
<text x="1675.5" y="263.1" text-anchor="end" font-size="24.2" textLength="26.1" lengthAdjust="spacingAndGlyphs">25</text>
<path d="M1682 188.6L1699 188.6" stroke="#262626" stroke-width="1.3" fill="none"/>
<text x="1675.5" y="195.9" text-anchor="end" font-size="24.2" textLength="26.1" lengthAdjust="spacingAndGlyphs">50</text>
<path d="M1682 121.4L1699 121.4" stroke="#262626" stroke-width="1.3" fill="none"/>
<text x="1675.5" y="128.7" text-anchor="end" font-size="24.2" textLength="26.1" lengthAdjust="spacingAndGlyphs">75</text>
<path d="M1682 54.2L1699 54.2" stroke="#262626" stroke-width="1.3" fill="none"/>
<text x="1675.5" y="61.5" text-anchor="end" font-size="24.2" textLength="39.2" lengthAdjust="spacingAndGlyphs">100</text>
<path d="M1705.6 329.6L1839.7 329.6" stroke="#262626" stroke-width="1.3" fill="none"/>
<path d="M1705.6 329.6L1705.6 346" stroke="#262626" stroke-width="1.3" fill="none"/>
<text x="1705.6" y="370" text-anchor="middle" font-size="24.2" textLength="13.1" lengthAdjust="spacingAndGlyphs">1</text>
<path d="M1750.3 329.6L1750.3 346" stroke="#262626" stroke-width="1.3" fill="none"/>
<text x="1750.3" y="370" text-anchor="middle" font-size="24.2" textLength="13.1" lengthAdjust="spacingAndGlyphs">2</text>
<path d="M1795 329.6L1795 346" stroke="#262626" stroke-width="1.3" fill="none"/>
<text x="1795" y="370" text-anchor="middle" font-size="24.2" textLength="13.1" lengthAdjust="spacingAndGlyphs">3</text>
<path d="M1839.7 329.6L1839.7 346" stroke="#262626" stroke-width="1.3" fill="none"/>
<text x="1839.7" y="370" text-anchor="middle" font-size="24.2" textLength="13.1" lengthAdjust="spacingAndGlyphs">4</text>
<text x="1772.5" y="397" text-anchor="middle" font-size="24.5" textLength="41.7" lengthAdjust="spacingAndGlyphs">Trial</text>
<text x="1622.5" y="185.4" text-anchor="middle" font-size="25" textLength="284.7" lengthAdjust="spacingAndGlyphs" transform="rotate(-90 1622.5 185.4)">Water intake (% total licks)</text>
<text x="2040.6" y="34" text-anchor="middle" font-size="23" textLength="63.3" lengthAdjust="spacingAndGlyphs">Trial 4</text>
<path d="M1973.4 323l3.3-9.1 3.4-9.2 3.3-9.1 3.4-9.2 3.3-6 3.4-6.1 3.3-4.7 3.4-4.7 3.3-4.7 3.4-4.7 3.3-3.3 3.4-3.4 3.3-3.1 3.4-3.2 3.3-3.2 3.4-3.1 3.3-2.5 3.4-2.5 3.3-2.5 3.4-2.5 3.3-2.5 3.3-2.6 3.4-2.5 3.3-2.6 3.4-2.5 3.3-2.6 3.4-2.5 3.3-2.6 3.4-3.2 3.3-3.2 3.4-3.3 3.3-3.2 3.4-1.2 3.3-1.2 3.4-1.2 3.3-1.2 3.4-2.3 3.3-2.3 3.4-2.3 3.3-2.3 0-32.2-3.3 2.5-3.4 2.6-3.3 2.5-3.4 2.6-3.3 1.5-3.4 1.4-3.3 1.5-3.4 1.5-3.3 3.5-3.4 3.5-3.3 3.5-3.4 3.5-3.3 2.8-3.4 2.8-3.3 2.8-3.4 2.9-3.3 2.8-3.4 2.8-3.3 2.8-3.3 2.9-3.4 2.8-3.3 2.9-3.4 2.9-3.3 2.9-3.4 3.6-3.3 3.5-3.4 3.6-3.3 3.6-3.4 4.7-3.3 4.7-3.4 6-3.3 6.1-3.4 6-3.3 6.1-3.4 7.3-3.3 7.4-3.4 12.4-3.3 12.4-3.4 12.3-3.3 12.4Z" fill="#d4d4d4"/>
<path d="M1973.4 323l3.3-1.1 3.4-1.1 3.3-6.4 3.4-6.5 3.3-3.1 3.4-3.2 3.3-1.8 3.4-1.8 3.3-1.8 3.4-1.8 3.3-5.9 3.4-5.8 3.3-1 3.4-1 3.3-2.4 3.4-2.3 3.3-5.1 3.4-5 3.3-3.7 3.4-3.7 3.3-3.3 3.3-3.3 3.4 0 3.3 0 3.4-.1 3.3 0 3.4-3.8 3.3-3.8 3.4-1.2 3.3-1.1 3.4-1.1 3.3-1.1 3.4-1.7 3.3-1.7 3.4-1.7 3.3-1.6 3.4-2.4 3.3-2.4 3.4-3.1 3.3-3.2 0-43-3.3 3.9-3.4 3.8-3.3 3-3.4 3-3.3 2.4-3.4 2.3-3.3 2.4-3.4 2.3-3.3 1.6-3.4 1.6-3.3 1.5-3.4 1.6-3.3 4.3-3.4 4.2-3.3.5-3.4.5-3.3.5-3.4.5-3.3 3.7-3.3 3.7-3.4 4.4-3.3 4.4-3.4 5.7-3.3 5.7-3.4 3-3.3 3-3.4 1.7-3.3 1.7-3.4 7.6-3.3 7.6-3.4 3.5-3.3 3.6-3.4 3.6-3.3 3.5-3.4 4.9-3.3 4.9-3.4 9.7-3.3 9.7-3.4 4.3-3.3 4.3Z" fill="#d4d4d4"/>
<path d="M1973.4 323l3.3-1.1 3.4-1.1 3.3-7.7 3.4-7.8 3.3-6.9 3.4-6.8 3.3-4.2 3.4-4.2 3.3-.1 3.4-.2 3.3-9.5 3.4-9.5 3.3-10.1 3.4-10.1 3.3-4.7 3.4-4.7 3.3-7.4 3.4-7.4 3.3-6 3.4-6.1 3.3-4.9 3.3-4.9 3.4.4 3.3.5 3.4-9 3.3-9 3.4-2.2 3.3-2.2 3.4-5.6 3.3-5.6 3.4-5.6 3.3-5.6 3.4-10.5 3.3-10.4 3.4-.4 3.3-.5 3.4-.6 3.3-.6 3.4-.6 3.3-.6 0-59.2-3.3 1.3-3.4 1.3-3.3 1.3-3.4 1.2-3.3 1.2-3.4 1.1-3.3 11.1-3.4 11.1-3.3 6.5-3.4 6.5-3.3 6.5-3.4 6.5-3.3 3.1-3.4 3.2-3.3 9.8-3.4 9.9-3.3.4-3.4.5-3.3 5.8-3.3 5.8-3.4 7.4-3.3 7.4-3.4 8.7-3.3 8.8-3.4 6-3.3 6.1-3.4 11.4-3.3 11.4-3.4 12-3.3 11.9-3.4 2.6-3.3 2.5-3.4 6.6-3.3 6.6-3.4 9.3-3.3 9.3-3.4 11-3.3 11-3.4 4.3-3.3 4.3Z" fill="#f6a7aa" fill-opacity="0.55"/>
<path d="M1973.4 323l3.3.3 3.4.2 3.3-1.3 3.4-1.4 3.3-.3 3.4-.3 3.3-.4 3.4-.3 3.3-.1 3.4-.2 3.3-.1 3.4-.1 3.3-.2 3.4-.1 3.3-.1 3.4-.2 3.3 0 3.4-.1 3.3-.1 3.4 0 3.3.1 3.3 0 3.4.1 3.3.1 3.4.1 3.3 0 3.4.1 3.3 0 3.4 0 3.3.1 3.4-1.9 3.3-2 3.4-3.3 3.3-1.2 3.4-.5 3.3-.6 3.4-.5 3.3-.4 3.4-.5 3.3-.5 0-19.3-3.3.8-3.4.9-3.3.9-3.4.9-3.3.9-3.4 1-3.3 1.5-3.4 3.8-3.3 2.4-3.4 2.4-3.3.4-3.4.4-3.3.4-3.4.4-3.3.4-3.4.4-3.3.3-3.4.4-3.3.4-3.3.3-3.4.2-3.3.2-3.4.2-3.3.2-3.4.3-3.3.3-3.4.2-3.3.3-3.4.3-3.3.2-3.4.3-3.3.3-3.4.4-3.3.5-3.4.5-3.3.4-3.4 3.5-3.3 3.5-3.4 1.9-3.3 1.9Z" fill="#f6a7aa" fill-opacity="0.55"/>
<path d="M1973.4 323l3.3-10.8 3.4-10.7 3.3-10.8 3.4-10.7 3.3-6.7 3.4-6.7 3.3-5.4 3.4-5.4 3.3-5.4 3.4-5.4 3.3-4 3.4-4 3.3-3.4 3.4-3.3 3.3-3.4 3.4-3.4 3.3-2.6 3.4-2.7 3.3-2.7 3.4-2.7 3.3-2.7 3.3-2.7 3.4-2.7 3.3-2.7 3.4-2.6 3.3-2.7 3.4-2.7 3.3-2.7 3.4-3.4 3.3-3.3 3.4-3.4 3.3-3.4 3.4-1.3 3.3-1.3 3.4-1.4 3.3-1.3 3.4-2.4 3.3-2.5 3.4-2.4 3.3-2.4" stroke="#111" stroke-width="2.2" fill="none" stroke-linejoin="round" stroke-dasharray="6 5"/>
<path d="M1973.4 323l3.3-2.7 3.4-2.7 3.3-8 3.4-8.1 3.3-4 3.4-4.1 3.3-2.7 3.4-2.6 3.3-2.7 3.4-2.7 3.3-6.7 3.4-6.8 3.3-1.3 3.4-1.3 3.3-2.7 3.4-2.7 3.3-5.4 3.4-5.4 3.3-4 3.4-4 3.3-3.5 3.3-3.5 3.4-.3 3.3-.3 3.4-.2 3.3-.3 3.4-4 3.3-4.1 3.4-1.3 3.3-1.4 3.4-1.3 3.3-1.3 3.4-2.1 3.3-2 3.4-2 3.3-2 3.4-2.7 3.3-2.7 3.4-3.5 3.3-3.5" stroke="#111" stroke-width="2.2" fill="none" stroke-linejoin="round"/>
<path d="M1973.4 323l3.3-2.7 3.4-2.7 3.3-9.4 3.4-9.4 3.3-8.1 3.4-8 3.3-5.4 3.4-5.4 3.3-1.3 3.4-1.4 3.3-10.7 3.4-10.8 3.3-10.7 3.4-10.8 3.3-5.3 3.4-5.4 3.3-8.1 3.4-8 3.3-6.8 3.4-6.7 3.3-5.4 3.3-5.3 3.4 0 3.3 0 3.4-9.4 3.3-9.5 3.4-2.6 3.3-2.7 3.4-6.1 3.3-6 3.4-6.1 3.3-6 3.4-10.8 3.3-10.7 3.4-.8 3.3-.8 3.4-1 3.3-.9 3.4-1 3.3-.9" stroke="#e3222a" stroke-width="2.2" fill="none" stroke-linejoin="round"/>
<path d="M1973.4 323l3.3-.8 3.4-.8 3.3-2.4 3.4-2.5 3.3-.4 3.4-.4 3.3-.4 3.4-.4 3.3-.2 3.4-.2 3.3-.2 3.4-.2 3.3-.2 3.4-.2 3.3-.2 3.4-.2 3.3-.1 3.4-.1 3.3-.2 3.4-.1 3.3-.1 3.3-.2 3.4-.1 3.3-.2 3.4-.1 3.3-.2 3.4-.2 3.3-.2 3.4-.1 3.3-.2 3.4-2.2 3.3-2.1 3.4-3.6 3.3-1.3 3.4-.8 3.3-.8 3.4-.7 3.3-.6 3.4-.7 3.3-.7" stroke="#e3222a" stroke-width="2.2" fill="none" stroke-linejoin="round" stroke-dasharray="6 5"/>
<text x="1975" y="73" textLength="51.4" lengthAdjust="spacingAndGlyphs" font-style="italic">Bottle</text>
<path d="M1973.5 79.7L2028 79.7" stroke="#262626" stroke-width="1.2" fill="none"/>
<text x="1974.7" y="102" textLength="51.7" lengthAdjust="spacingAndGlyphs">Water</text>
<text x="1974.7" y="126" textLength="44.3" lengthAdjust="spacingAndGlyphs">NaCl</text>
<path d="M2029.5 96.5L2092.5 103.4" stroke="#111" stroke-width="1.2" fill="none"/>
<path d="M2029.5 96.5L2102.5 200.5" stroke="#111" stroke-width="1.2" fill="none"/>
<path d="M2021.6 120.5L2073 188" stroke="#111" stroke-width="1.2" fill="none"/>
<path d="M2021.6 120.5L2080 299.6" stroke="#111" stroke-width="1.2" fill="none"/>
<path d="M1966.4 54.2L1966.4 323" stroke="#262626" stroke-width="1.3" fill="none"/>
<path d="M1950.4 323L1966.4 323" stroke="#262626" stroke-width="1.3" fill="none"/>
<text x="1942.9" y="330.3" text-anchor="end" font-size="24.2" textLength="13.1" lengthAdjust="spacingAndGlyphs">0</text>
<path d="M1950.4 269.2L1966.4 269.2" stroke="#262626" stroke-width="1.3" fill="none"/>
<text x="1942.9" y="276.5" text-anchor="end" font-size="24.2" textLength="39.2" lengthAdjust="spacingAndGlyphs">100</text>
<path d="M1950.4 215.5L1966.4 215.5" stroke="#262626" stroke-width="1.3" fill="none"/>
<text x="1942.9" y="222.8" text-anchor="end" font-size="24.2" textLength="39.2" lengthAdjust="spacingAndGlyphs">200</text>
<path d="M1950.4 161.7L1966.4 161.7" stroke="#262626" stroke-width="1.3" fill="none"/>
<text x="1942.9" y="169" text-anchor="end" font-size="24.2" textLength="39.2" lengthAdjust="spacingAndGlyphs">300</text>
<path d="M1950.4 108L1966.4 108" stroke="#262626" stroke-width="1.3" fill="none"/>
<text x="1942.9" y="115.3" text-anchor="end" font-size="24.2" textLength="39.2" lengthAdjust="spacingAndGlyphs">400</text>
<path d="M1950.4 54.2L1966.4 54.2" stroke="#262626" stroke-width="1.3" fill="none"/>
<text x="1942.9" y="61.5" text-anchor="end" font-size="24.2" textLength="39.2" lengthAdjust="spacingAndGlyphs">500</text>
<path d="M1973.4 329.6L2107.3 329.6" stroke="#262626" stroke-width="1.3" fill="none"/>
<path d="M1973.4 329.6L1973.4 346" stroke="#262626" stroke-width="1.3" fill="none"/>
<text x="1973.4" y="370" text-anchor="middle" font-size="24.2" textLength="13.1" lengthAdjust="spacingAndGlyphs">0</text>
<path d="M2040.4 329.6L2040.4 346" stroke="#262626" stroke-width="1.3" fill="none"/>
<text x="2040.4" y="370" text-anchor="middle" font-size="24.2" textLength="13.1" lengthAdjust="spacingAndGlyphs">5</text>
<path d="M2107.3 329.6L2107.3 346" stroke="#262626" stroke-width="1.3" fill="none"/>
<text x="2107.3" y="370" text-anchor="middle" font-size="24.2" textLength="26.1" lengthAdjust="spacingAndGlyphs">10</text>
<text x="2041" y="397" text-anchor="middle" font-size="24.5" textLength="106" lengthAdjust="spacingAndGlyphs">Time (min)</text>
<text x="1890.5" y="188.5" text-anchor="middle" font-size="24.5" textLength="210" lengthAdjust="spacingAndGlyphs" transform="rotate(-90 1890.5 188.5)">Water intake (licks)</text>
<text x="-.2" y="449" font-size="34" font-weight="bold">e</text>
<text x="89.8" y="464.6" text-anchor="middle" textLength="77.6" lengthAdjust="spacingAndGlyphs">1x Water</text>
<text x="89.2" y="489.4" text-anchor="middle" textLength="150.5" lengthAdjust="spacingAndGlyphs">2x 300 mM NaCl</text>
<path d="M45.9 497.4L45.9 507.5" stroke="#262626" stroke-width="1.3" fill="none"/>
<path d="M89 497.4L89 507.5" stroke="#262626" stroke-width="1.3" fill="none"/>
<path d="M133 497.4L133 507.5" stroke="#262626" stroke-width="1.3" fill="none"/>
<rect x="32" y="507.5" width="114.8" height="22.2" fill="none" stroke="#333" stroke-width="1.3"/>
<text x="89.5" y="526.5" text-anchor="middle" textLength="75.7" lengthAdjust="spacingAndGlyphs">Random</text>
<path d="M45.9 529.7L45.9 543.6" stroke="#000" stroke-width="1.3" fill="none"/>
<path d="M39.3 538.3L45.9 552.6L52.5 538.3L45.9 541.9Z" fill="#000"/>
<path d="M89 529.7L89 543.6" stroke="#000" stroke-width="1.3" fill="none"/>
<path d="M82.4 538.3L89 552.6L95.6 538.3L89 541.9Z" fill="#000"/>
<path d="M133 529.7L133 543.6" stroke="#000" stroke-width="1.3" fill="none"/>
<path d="M126.4 538.3L133 552.6L139.6 538.3L133 541.9Z" fill="#000"/>
<rect x="32" y="556.2" width="27.5" height="62.6" rx="3.5" fill="#6c8fb6"/>
<rect x="35.1" y="619.2" width="20.8" height="21.6" fill="#000"/>
<path d="M42.6 640.8h6v18h-1.3v4.6h-3.4v-4.6h-1.3z" fill="#8e8e8e"/>
<ellipse cx="45.6" cy="665.8" rx="2.7" ry="2" fill="#5b97cf"/>
<rect x="75.7" y="556.2" width="27.5" height="62.6" rx="3.5" fill="#6c8fb6"/>
<rect x="78.8" y="619.2" width="20.8" height="21.6" fill="#000"/>
<path d="M86.3 640.8h6v18h-1.3v4.6h-3.4v-4.6h-1.3z" fill="#8e8e8e"/>
<ellipse cx="89.3" cy="665.8" rx="2.7" ry="2" fill="#5b97cf"/>
<rect x="119.3" y="556.2" width="27.5" height="62.6" rx="3.5" fill="#6c8fb6"/>
<rect x="122.4" y="619.2" width="20.8" height="21.6" fill="#000"/>
<path d="M129.9 640.8h6v18h-1.3v4.6h-3.4v-4.6h-1.3z" fill="#8e8e8e"/>
<ellipse cx="132.9" cy="665.8" rx="2.7" ry="2" fill="#5b97cf"/>
<rect x="24.6" y="656.4" width="126.8" height="126.2" fill="none" stroke="#333" stroke-width="1.3"/>
<g transform="translate(0 425)"><path d="M102.1 283C104.5 283.2 107.5 287 109.6 291.2C110.8 291 112.4 291.3 112.8 292.4C113 293.4 112.6 294.2 112 294.6C114.8 298.5 116.3 304 116.2 310.5C116 319.5 110.5 327.5 102.8 327.8C95 327.5 89.2 319.5 88.9 310.5C88.8 304 90.4 298.5 93.2 294.6C92.5 294.2 92 293.4 92.3 292.4C92.8 291.3 94.3 291 95.5 291.2C97.5 287 99.8 283.2 102.1 283Z" fill="#000"/><path d="M102.6 326.5C101.3 331 100.5 337 101.5 341.5C102.5 346 106.5 346.5 108.8 342C110.5 338.5 112 334 115.5 331.5C118 330 120.5 330.8 122.5 332.8" stroke="#000" stroke-width="2.5" fill="none" stroke-linecap="round"/></g>
<g transform="translate(0 425)"><path d="M20.4 309.7 22.4 309.6 24.4 309.4 26.4 309.2 28.5 308.9 30.4 308.5 32.4 308.1 34.4 307.7 36.3 307.2 38.3 306.7 40.3 306.2 42.2 305.6 44.1 305 46.1 304.4 48 303.7 50 303.1 51.9 302.5 53.9 301.8 55.8 301.1 57.8 300.5 59.8 299.8 61.8 299.2 63.8 298.5 65.8 297.9 67.8 297.3 69.9 296.7 72 296.1 74.1 295.5 76.2 295 78.4 294.5 80.5 294.1 82.8 293.7 85 293.3 87.3 293 89.7 292.7 92 292.4 94.5 292.3 96.9 292.1 99.5 292.1 102.1 292.1 102.3 289.5 99.7 289.1 97.1 288.7 94.5 288.4 92 288.2 89.5 288.1 87 288.1 84.6 288.1 82.1 288.2 79.8 288.4 77.4 288.6 75.1 288.9 72.8 289.2 70.5 289.6 68.3 290 66.1 290.4 63.9 290.9 61.8 291.4 59.7 292 57.6 292.5 55.5 293.1 53.5 293.7 51.5 294.2 49.5 294.8 47.5 295.4 45.6 296 43.7 296.6 41.8 297.1 39.9 297.6 38 298.2 36.2 298.6 34.3 299.1 32.5 299.5 30.7 299.9 28.9 300.3 27.1 300.6 25.3 300.8 23.6 301 21.8 301.2 20 301.3Z" fill="#1e8ad2"/><circle cx="20.3" cy="305.5" r="4.25" fill="#1e8ad2"/></g>
<text x="88.3" y="806.7" text-anchor="middle" font-size="20.3" textLength="173.3" lengthAdjust="spacingAndGlyphs">Dehydrated mouse</text>
<text x="347.7" y="459" text-anchor="middle" font-size="23" textLength="58" lengthAdjust="spacingAndGlyphs">Trial 1</text>
<path d="M281.2 746.3l2.9 4.4 0-9.4 3 4.4 0-9.5 2.9 4.4 0-8.1 3 4.5 0-1.9 2.9 3.1 0-1.2 3 1.5 0-4.1 2.9 1.5 0-21.5 2.9 1.5 0-11.5 3 1.5 0-1.9 2.9 1.5 0-.4 3 1.5 0-.4 2.9 1.4 0-.4 3 1.5 0-.4 2.9.9 0-.4 3 0 0-.5 2.9 0 0-1.2 2.9 0 0-1.1 3 0 0-1.1 2.9.3 0-1.1 3 .4 0-4.4 2.9.4 0-4.7 3 .4 0-4.7 2.9.4 0-7.3 2.9.4 0-6.1 3 .3 0-.2 2.9.4 0-.3 3 .4 0-.3 2.9.4 0-.3 3 .4 0-4.6 2.9.4 0-10 3 .4 0-5.1 2.9.3 0-6 2.9.4 0-7.4 3 .4 0-.2 2.9.4 0-.1 3 .3 0-.1 2.9.1 0-.2 3 0 0-.1 2.9 0 0-.2 2.9 0 0-.1 3 0 0-.2 2.9 0 0-7.5 3 0 0-4.1 2.9 0 0-.2 3 0 0-.2 0-80.5 0 .3-3 0 0 .2-2.9 0 0 4.1-3 0 0 7.5-2.9 0 0 .1-3 0 0 .2-2.9 0 0 .1-2.9 0 0 .2-3 0 0 .1-2.9 0 0 .2-3 0 0 .2-2.9 0 0 .1-3 0 0 7.4-2.9 0 0 6-2.9 0 0 5.1-3 0 0 10-2.9 0 0 4.6-3 0 0 .2-2.9 0 0 .3-3 0 0 .2-2.9 0 0 .3-3 0 0 6.1-2.9 0 0 7.3-2.9 0 0 4.6-3 0 0 4.7-2.9 0 0 4.4-3 0 0 1.1-2.9.4 0 1.1-3 2.2 0 1.1-2.9 2.2 0 1.1-2.9 2.2 0 .6-3 2.2 0 .4-2.9 1.3 0 .4-3 .7 0 .4-2.9.8 0 .4-3 .7 0 .5-2.9.8 0 1.8-3 1.5 0 11.5-2.9 1.5 0 21.4-2.9 1.5 0 4-3 1.5 0 1.3-2.9 3.8 0 1.9-3 5.9 0 8.1-2.9 5.1 0 9.4-3 3 0 9.4-2.9 3Z" fill="#b9c3e6" fill-opacity="0.45"/>
<path d="M281.2 746.3l2.9 4.4 0-3 3 4.5 0-3 2.9 5.5 0-34.1 3 5.9 0-2.8 2.9 3.9 0-2.9 3 1.5 0-13.1 2.9 1.4 0-7.2 2.9 1.5 0-1 3 1.4 0-1 2.9.8 0-7.3 3 .7 0-9.6 2.9.7 0-2.3 3 .8 0-2.3 2.9 1 0-9.4 3 1.5 0-11.8 2.9 1.5 0-13.5 2.9 1.5 0-13 3 1.4 0-4.4 2.9.6 0-4.4 3 .4 0-.5 2.9.3 0-.1 3 .4 0-.1 2.9.3 0-.1 2.9.4 0-.2 3 .4 0-.1 2.9.4 0-.2 3 .4 0-.1 2.9.3 0-.1 3 .4 0-.1 2.9.3 0-.2 3 .4 0-.5 2.9.4 0-.4 2.9.4 0-.5 3 .4 0-.4 2.9.4 0-.5 3 .4 0-.4 2.9.1 0-.4 3 0 0-.4 2.9 0 0-.5 2.9 0 0 0 3 0 0 0 2.9 0 0 0 3 0 0 0 2.9 0 0 0 3 0 0 0 0-93.9 0 0-3 0 0 0-2.9 0 0 0-3 0 0 0-2.9 0 0 0-3 0 0 .1-2.9 0 0 .4-2.9 0 0 .4-3 0 0 .4-2.9 0 0 .5-3 0 0 .4-2.9 0 0 .4-3 0 0 .4-2.9 0 0 .5-2.9 0 0 .4-3 0 0 .2-2.9 0 0 .1-3 0 0 .2-2.9.1 0 .1-3 .3 0 .2-2.9.3 0 .2-3 .3 0 .2-2.9.3 0 .2-2.9.3 0 .2-3 .3 0 .2-2.9.3 0 .5-3 .4 0 4.4-2.9.4 0 4.4-3 .8 0 13-2.9.8 0 13.4-2.9.8 0 11.7-3 .7 0 9.4-2.9 2.2 0 2.3-3 2.9 0 2.3-2.9 3 0 9.6-3 3 0 7.2-2.9 2.9 0 1-3 1.5 0 1-2.9 1.5 0 7.2-2.9 1.5 0 13.1-3 1.5 0 2.8-2.9 3.1 0 2.9-3 4.4 0 34.1-2.9 4.4 0 3-3 4.4 0 3-2.9 4.4Z" fill="#efa3ab" fill-opacity="0.45"/>
<path d="M281.2 746.3l2.9 1 0-.7 3 1 0-.6 2.9 1 0-.7 3 1 0-.6 2.9 1 0-3.2 3 1.9 0-10.9 2.9 2.6 0-5.9 2.9 2.6 0-5.8 3 2.6 0-5.9 2.9 1.4 0-5.8 3 1.2 0-7.1 2.9 1.2 0-26.8 3 1.2 0-20.3 2.9.7 0-1.5 3 0 0-2.9 2.9 0 0-11.4 2.9 0 0-13.4 3 0 0-15.1 2.9-.5 0-8.3 3-.5 0-.2 2.9-.6 0-.2 3-.6 0-.1 2.9-.6 0-.2 2.9-.6 0-.1 3-.6 0-.2 2.9-.6 0-.2 3-.6 0-17.4 2.9.2 0-13.7 3 .5 0-1.3 2.9.5 0-.8 3 .4 0-.8 2.9.4 0-.8 2.9.5 0-.8 3 .4 0-1.5 2.9.4 0-8.8 3 .4 0-4.6 2.9.4 0-.3 3 .3 0-.3 2.9.3 0-.3 2.9.3 0-.3 3 .3 0-5.6 2.9.3 0-4.1 3 .3 0-2.3 2.9.3 0-2.3 3 .3 0-1.5 0-42.7 0 1.5-3 .3 0 2.3-2.9.3 0 2.4-3 .3 0 4-2.9.3 0 5.7-3 .3 0 .2-2.9.3 0 .3-2.9.3 0 .3-3 .3 0 .3-2.9.3 0 4.6-3 .4 0 8.9-2.9.4 0 1.5-3 .5 0 .8-2.9.4 0 .8-2.9.5 0 .8-3 .4 0 .8-2.9.5 0 1.2-3 .5 0 13.6-2.9.2 0 17.4-3-.6 0 .2-2.9-.6 0 .2-3-.6 0 .2-2.9-.6 0 .1-2.9-.6 0 .2-3-.6 0 .2-2.9-.6 0 .2-3-.6 0 8.3-2.9-.5 0 15.1-3 0 0 13.4-2.9 0 0 11.3-2.9 0 0 2.9-3 0 0 1.6-2.9.8 0 20.2-3 1.2 0 26.8-2.9 1.2 0 7.1-3 1.1 0 5.8-2.9 1.3 0 5.8-3 2.6 0 5.9-2.9 2.5 0 5.9-2.9 2.6 0 10.9-3 1.8 0 3.1-2.9 1 0 .7-3 .9 0 .7-2.9 1 0 .6-3 1 0 .6-2.9 1Z" fill="#b0b0b0" fill-opacity="0.5"/>
<path d="M281.2 746.3l2.9 0 0-9.5 3 0 0-9.4 2.9 0 0-8.1 3 0 0-1.9 2.9 0 0-1.2 3 0 0-4 2.9 0 0-21.5 2.9 0 0-11.5 3 0 0-1.8 2.9 0 0-.5 3 0 0-.4 2.9 0 0-.4 3 0 0-.4 2.9 0 0-.5 3 0 0-.5 2.9 0 0-1.1 2.9 0 0-1.1 3 0 0-1.1 2.9 0 0-1.1 3 0 0-4.4 2.9 0 0-4.6 3 0 0-4.7 2.9 0 0-7.3 2.9 0 0-6.1 3 0 0-.3 2.9 0 0-.2 3 0 0-.3 2.9 0 0-.2 3 0 0-4.6 2.9 0 0-9.9 3 0 0-5.2 2.9 0 0-6 2.9 0 0-7.4 3 0 0-.1 2.9 0 0-.2 3 0 0-.1 2.9 0 0-.2 3 0 0-.1 2.9 0 0-.2 2.9 0 0-.2 3 0 0-.1 2.9 0 0-7.5 3 0 0-4.1 2.9 0 0-.2 3 0 0-.2" stroke="#3b4aa4" stroke-width="1.6" fill="none" stroke-linejoin="round"/>
<path d="M281.2 746.3l2.9 0 0-3 3 0 0-3 2.9 0 0-34 3 0 0-2.9 2.9 0 0-2.8 3 0 0-13.1 2.9 0 0-7.3 2.9 0 0-1 3 0 0-1.1 2.9 0 0-7.2 3 0 0-9.7 2.9 0 0-2.3 3 0 0-2.3 2.9 0 0-9.4 3 0 0-11.7 2.9 0 0-13.5 2.9 0 0-13 3 0 0-4.4 2.9 0 0-4.4 3 0 0-.5 2.9 0 0-.2 3 0 0-.1 2.9 0 0-.1 2.9 0 0-.1 3 0 0-.2 2.9 0 0-.1 3 0 0-.1 2.9 0 0-.1 3 0 0-.2 2.9 0 0-.2 3 0 0-.4 2.9 0 0-.4 2.9 0 0-.5 3 0 0-.4 2.9 0 0-.4 3 0 0-.4 2.9 0 0-.5 3 0 0-.4 2.9 0 0-.4 2.9 0 0-.1 3 0 0 0 2.9 0 0 0 3 0 0 0 2.9 0 0 0 3 0 0 0" stroke="#e3141c" stroke-width="2" fill="none" stroke-linejoin="round"/>
<path d="M281.2 746.3l2.9 0 0-.6 3 0 0-.7 2.9 0 0-.6 3 0 0-.6 2.9 0 0-3.2 3 0 0-10.9 2.9 0 0-5.8 2.9 0 0-5.9 3 0 0-5.8 2.9 0 0-5.7 3 0 0-7.1 2.9 0 0-26.8 3 0 0-20.3 2.9 0 0-1.5 3 0 0-2.9 2.9 0 0-11.4 2.9 0 0-13.4 3 0 0-15.1 2.9 0 0-8.3 3 0 0-.2 2.9 0 0-.1 3 0 0-.2 2.9 0 0-.2 2.9 0 0-.1 3 0 0-.2 2.9 0 0-.2 3 0 0-17.4 2.9 0 0-13.6 3 0 0-1.3 2.9 0 0-.8 3 0 0-.8 2.9 0 0-.8 2.9 0 0-.8 3 0 0-1.6 2.9 0 0-8.8 3 0 0-4.6 2.9 0 0-.3 3 0 0-.2 2.9 0 0-.3 2.9 0 0-.3 3 0 0-5.7 2.9 0 0-4 3 0 0-2.3 2.9 0 0-2.3 3 0 0-1.6" stroke="#000" stroke-width="2.2" fill="none" stroke-linejoin="round"/>
<text x="282" y="493" font-size="20" textLength="48.6" lengthAdjust="spacingAndGlyphs">Water</text>
<text x="282" y="517.7" fill="#e4202a" font-size="20" textLength="66.5" lengthAdjust="spacingAndGlyphs">NaCl #1</text>
<text x="282" y="542" fill="#4a4fa0" font-size="20" textLength="68" lengthAdjust="spacingAndGlyphs">NaCl #2</text>
<path d="M274 479.1L274 747.3" stroke="#262626" stroke-width="1.3" fill="none"/>
<path d="M258 747.3L274 747.3" stroke="#262626" stroke-width="1.3" fill="none"/>
<text x="250.5" y="754.6" text-anchor="end" font-size="24.2" textLength="13.1" lengthAdjust="spacingAndGlyphs">0</text>
<path d="M258 680.2L274 680.2" stroke="#262626" stroke-width="1.3" fill="none"/>
<text x="250.5" y="687.5" text-anchor="end" font-size="24.2" textLength="39.2" lengthAdjust="spacingAndGlyphs">100</text>
<path d="M258 613.2L274 613.2" stroke="#262626" stroke-width="1.3" fill="none"/>
<text x="250.5" y="620.5" text-anchor="end" font-size="24.2" textLength="39.2" lengthAdjust="spacingAndGlyphs">200</text>
<path d="M258 546.1L274 546.1" stroke="#262626" stroke-width="1.3" fill="none"/>
<text x="250.5" y="553.4" text-anchor="end" font-size="24.2" textLength="39.2" lengthAdjust="spacingAndGlyphs">300</text>
<path d="M258 479.1L274 479.1" stroke="#262626" stroke-width="1.3" fill="none"/>
<text x="250.5" y="486.4" text-anchor="end" font-size="24.2" textLength="39.2" lengthAdjust="spacingAndGlyphs">400</text>
<path d="M281.2 754.2L415 754.2" stroke="#262626" stroke-width="1.3" fill="none"/>
<path d="M281.2 754.2L281.2 770.7" stroke="#262626" stroke-width="1.3" fill="none"/>
<text x="281.2" y="795" text-anchor="middle" font-size="24.2" textLength="13.1" lengthAdjust="spacingAndGlyphs">0</text>
<path d="M348.1 754.2L348.1 770.7" stroke="#262626" stroke-width="1.3" fill="none"/>
<text x="348.1" y="795" text-anchor="middle" font-size="24.2" textLength="13.1" lengthAdjust="spacingAndGlyphs">5</text>
<path d="M415 754.2L415 770.7" stroke="#262626" stroke-width="1.3" fill="none"/>
<text x="415" y="795" text-anchor="middle" font-size="24.2" textLength="26.1" lengthAdjust="spacingAndGlyphs">10</text>
<text x="349" y="821" text-anchor="middle" font-size="24.5" textLength="104.8" lengthAdjust="spacingAndGlyphs">Time (min)</text>
<text x="197.8" y="612.9" text-anchor="middle" font-size="23.5" textLength="136" lengthAdjust="spacingAndGlyphs" transform="rotate(-90 197.8 612.9)">Intake (licks)</text>
<path d="M555.1 619.6l3.4-.7 3.5-.7 3.4-.7 3.4-.8 3.4-.8 3.5-.8 3.4-.8 3.4-.9 3.5-1 3.4-1 3.4-1 3.4-1.2 3.5-1.2 3.4-1.3 3.4-1.4 3.5-1.5 3.4-1.7 3.4-1.7 3.4-1.9 3.5-2 3.4-2.2 3.4-2.3 3.5-2.5 3.4-2.5 3.4-2.7 3.4-2.7 3.5-2.9 3.4-2.9 3.4-3 3.5-3.1 3.4-3.1 3.4-3.2 3.4-3.2 3.5-3.2 3.4-3.3 3.4-3.3 3.5-3.4 3.4-3.3 3.4-3.4 0 71.4-3.4.7-3.4.7-3.5.7-3.4.8-3.4.8-3.5.8-3.4.8-3.4.9-3.4 1-3.5 1-3.4 1-3.4 1.2-3.5 1.2-3.4 1.3-3.4 1.4-3.4 1.5-3.5 1.7-3.4 1.7-3.4 1.9-3.5 2-3.4 2.2-3.4 2.3-3.4 2.5-3.5 2.5-3.4 2.7-3.4 2.7-3.5 2.9-3.4 2.9-3.4 3-3.4 3.1-3.5 3.1-3.4 3.2-3.4 3.2-3.5 3.2-3.4 3.3-3.4 3.3-3.4 3.4-3.5 3.3-3.4 3.4Z" fill="#d6d6d6"/>
<path d="M555.1 655.3L688.8 576" stroke="#111" stroke-width="1.3" fill="none"/>
<path d="M559 687.8L689.5 687.8" stroke="#333" stroke-width="1.3" fill="none" stroke-dasharray="4.2 3.6"/>
<text x="623.3" y="708.2" font-size="19.5" textLength="66" lengthAdjust="spacingAndGlyphs">Chance</text>
<circle cx="555.1" cy="611.7" r="3.7" fill="#fff" stroke="#111" stroke-width="1.3"/>
<circle cx="555.1" cy="629.1" r="3.7" fill="#fff" stroke="#111" stroke-width="1.3"/>
<circle cx="555.1" cy="663.7" r="3.7" fill="#fff" stroke="#111" stroke-width="1.3"/>
<circle cx="555.1" cy="691.3" r="3.7" fill="#fff" stroke="#111" stroke-width="1.3"/>
<circle cx="599.7" cy="524.1" r="3.7" fill="#fff" stroke="#111" stroke-width="1.3"/>
<circle cx="599.7" cy="641.9" r="3.7" fill="#fff" stroke="#111" stroke-width="1.3"/>
<circle cx="599.7" cy="651.7" r="3.7" fill="#fff" stroke="#111" stroke-width="1.3"/>
<circle cx="599.7" cy="719.7" r="3.7" fill="#fff" stroke="#111" stroke-width="1.3"/>
<circle cx="644.2" cy="581.9" r="3.7" fill="#fff" stroke="#111" stroke-width="1.3"/>
<circle cx="644.2" cy="589.9" r="3.7" fill="#fff" stroke="#111" stroke-width="1.3"/>
<circle cx="644.2" cy="611.7" r="3.7" fill="#fff" stroke="#111" stroke-width="1.3"/>
<circle cx="644.2" cy="673.5" r="3.7" fill="#fff" stroke="#111" stroke-width="1.3"/>
<circle cx="688.8" cy="537.5" r="3.7" fill="#fff" stroke="#111" stroke-width="1.3"/>
<circle cx="688.8" cy="561.5" r="3.7" fill="#fff" stroke="#111" stroke-width="1.3"/>
<circle cx="688.8" cy="576.2" r="3.7" fill="#fff" stroke="#111" stroke-width="1.3"/>
<circle cx="688.8" cy="586.4" r="3.7" fill="#fff" stroke="#111" stroke-width="1.3"/>
<path d="M548.4 479.7L548.4 746.4" stroke="#262626" stroke-width="1.3" fill="none"/>
<path d="M531.4 746.4L548.4 746.4" stroke="#262626" stroke-width="1.3" fill="none"/>
<text x="523.9" y="753.7" text-anchor="end" font-size="24.2" textLength="26.1" lengthAdjust="spacingAndGlyphs">20</text>
<path d="M531.4 657.5L548.4 657.5" stroke="#262626" stroke-width="1.3" fill="none"/>
<text x="523.9" y="664.8" text-anchor="end" font-size="24.2" textLength="26.1" lengthAdjust="spacingAndGlyphs">40</text>
<path d="M531.4 568.6L548.4 568.6" stroke="#262626" stroke-width="1.3" fill="none"/>
<text x="523.9" y="575.9" text-anchor="end" font-size="24.2" textLength="26.1" lengthAdjust="spacingAndGlyphs">60</text>
<path d="M531.4 479.7L548.4 479.7" stroke="#262626" stroke-width="1.3" fill="none"/>
<text x="523.9" y="487" text-anchor="end" font-size="24.2" textLength="26.1" lengthAdjust="spacingAndGlyphs">80</text>
<path d="M555.1 754.2L688.8 754.2" stroke="#262626" stroke-width="1.3" fill="none"/>
<path d="M555.1 754.2L555.1 770.7" stroke="#262626" stroke-width="1.3" fill="none"/>
<text x="555.1" y="795" text-anchor="middle" font-size="24.2" textLength="13.1" lengthAdjust="spacingAndGlyphs">1</text>
<path d="M599.7 754.2L599.7 770.7" stroke="#262626" stroke-width="1.3" fill="none"/>
<text x="599.7" y="795" text-anchor="middle" font-size="24.2" textLength="13.1" lengthAdjust="spacingAndGlyphs">2</text>
<path d="M644.2 754.2L644.2 770.7" stroke="#262626" stroke-width="1.3" fill="none"/>
<text x="644.2" y="795" text-anchor="middle" font-size="24.2" textLength="13.1" lengthAdjust="spacingAndGlyphs">3</text>
<path d="M688.8 754.2L688.8 770.7" stroke="#262626" stroke-width="1.3" fill="none"/>
<text x="688.8" y="795" text-anchor="middle" font-size="24.2" textLength="13.1" lengthAdjust="spacingAndGlyphs">4</text>
<text x="622.5" y="821" text-anchor="middle" font-size="24.5" textLength="41.7" lengthAdjust="spacingAndGlyphs">Trial</text>
<text x="471" y="613.6" text-anchor="middle" font-size="24.5" textLength="291.6" lengthAdjust="spacingAndGlyphs" transform="rotate(-90 471 613.6)">Water intake (% total licks)</text>
<text x="734.8" y="448" font-size="34" font-weight="bold">f</text>
<text x="774.7" y="458.5" font-size="23" textLength="166.6" lengthAdjust="spacingAndGlyphs">Trial 1 example</text>
<rect x="855.3" y="466.6" width="5.8" height="132.8" fill="#c5cbe6" fill-opacity="0.85"/>
<rect x="881.3" y="466.6" width="4.3" height="132.8" fill="#c5cbe6" fill-opacity="0.85"/>
<rect x="887.6" y="466.6" width="3" height="132.8" fill="#f7c3c4" fill-opacity="0.85"/>
<rect x="893.9" y="466.6" width="2.5" height="132.8" fill="#c5cbe6" fill-opacity="0.85"/>
<rect x="904" y="466.6" width="8.8" height="132.8" fill="#f7c3c4" fill-opacity="0.85"/>
<rect x="917.8" y="466.6" width="6.8" height="132.8" fill="#c5cbe6" fill-opacity="0.85"/>
<rect x="935.5" y="466.6" width="7.5" height="132.8" fill="#d7d7d7" fill-opacity="0.85"/>
<rect x="987" y="466.6" width="8" height="132.8" fill="#c5cbe6" fill-opacity="0.85"/>
<rect x="993" y="466.6" width="7" height="132.8" fill="#c5cbe6" fill-opacity="0.85"/>
<rect x="1025" y="466.6" width="11.9" height="132.8" fill="#d7d7d7" fill-opacity="0.85"/>
<rect x="1073.7" y="466.6" width="5.5" height="132.8" fill="#f7c3c4" fill-opacity="0.85"/>
<rect x="1094.3" y="466.6" width="1.8" height="132.8" fill="#c5cbe6" fill-opacity="0.85"/>
<rect x="1142.7" y="466.6" width="5.8" height="132.8" fill="#f7c3c4" fill-opacity="0.85"/>
<rect x="1161.1" y="466.6" width="3.3" height="132.8" fill="#f7c3c4" fill-opacity="0.85"/>
<rect x="1166.2" y="466.6" width="5" height="132.8" fill="#f7c3c4" fill-opacity="0.85"/>
<rect x="1202.5" y="466.6" width="9.8" height="132.8" fill="#d7d7d7" fill-opacity="0.85"/>
<rect x="1271.3" y="466.6" width="6.5" height="132.8" fill="#d7d7d7" fill-opacity="0.85"/>
<path d="M773.4 526.4l.6-2.7.5-2.3.6.5.5-1.6.6 8.3.5-1.6.6-5.6.5-3.6.6-.8.5 6.4.6-9.2.5-2.7.6-1.2.5-1.2.6.9.5 0 .6-1 .5.2.6 2.6.6-2.8.5 3.2.6-.8.5-7.1.6-4.1.5 1.4.6 1.8.5-2.7.6 4.3.5-2.4.6-2.6.5-5 .6-1.2.5-.3.6-4.3.5.8.6-.1.5 5 .6-8.5.5-4.1.6 2.1.6 1.4.5-2.8.6 1.4.5-8.3.6 9.2.5 4.4.6-.4.5-.5.6 4.4.5 2.4.6 2.4.5 5 .6 9.2.5 6.1.6-1.1.5 1.4.6-2 .5 1.1.6-6.3.6 3.9.5-.9.6 2.4.5-7.5.6-.7.5-1.6.6-2.2.5 3.4.6-6.9.5-2.6.6 0 .5 1 .6-7.6.5 1.6.6 3.1.5 2.7.6-.4.5-3.3.6 2.6.6 1.6.5 4.5.6 2.2.5-1 .6 1.1.5-2.7.6 4.9.5 3 .6 2.2.5.3.6-3.8.5-8.4.6-3.2.5 6.7.6-6 .5 1.2.6-1.7.5-2.8.6-1.6.6 1.6.5.1.6 2.5.5 5 .6 2.1.5-2.4.6-4.1.5 3.7.6 2.8.5 2.2.6 1.7.5 2.5.6-1.1.5.7.6-1 .5 10.7.6 3.9.5 4.9.6.5.5 1.5.6-3.3.6.2.5-4 .6 2 .5 2.3.6 6.7.5-.8.6 2.2.5 5.7.6-2.3.5 4.5.6-2.1.5 1.4.6 3 .5 2.5.6-5 .5-4.1.6 2.9.5-5.8.6 2.1.6 3.9.5 2.3.6-3 .5-4.6.6-4.5.5 8.3.6-1.7.5-2.2.6 4 .5-6.1.6-6.1.5-1.9.6 9.3.5 4.8.6-7.2.5 1.2.6-1.7.5.7.6.9.6 1.9.5 6.2.6-4.2.5 1.7.6-2.2.5-.7.6-.1.5-2.1.6 2.8.5 6 .6-1.5.5-3.7.6-2.5.5-2.8.6-7.1.5-.1.6 1.4.5 6.3.6-6.3.5-1.8.6 4.3.6 5.9.5.4.6-9.1.5-4.9.6 3.1.5-1.6.6-4.8.5 3.3.6 1.4.5 4.9.6-2.8.5-2.7.6.1.5.3.6 2.2.5-.9.6-4 .5-5.3.6 9.5.6.8.5-3.9.6.5.5 8.9.6 1.6.5-.7.6 5 .5 1.1.6-4.8.5 2.3.6 5.9.5 2.1.6 3.5.5-1 .6-4.9.5-1.4.6-7.3.5-.5.6 3.3.6 2.9.5 2.1.6-6 .5-1.5.6 0 .5-4.9.6-4.6.5-7 .6.7.5-1.2.6-5.2.5-.5.6 2.6.5-1.2.6-1.2.5-2.7.6.5.5 2.6.6 2.4.5-2.2.6.5.6 0 .5 7.6.6-3.1.5-1.2.6-3.9.5.3.6 4.3.5 2.8.6-.2.5-4.4.6 4.6.5 3.9.6 4.1.5 1.4.6 2.7.5 5.1.6 6 .5 5 .6.9.6 1.6.5-3.4.6-3.1.5-3.3.6 5.5.5-.3.6 3.3.5-5.4.6-3.9.5-3.8.6 7.1.5 1.2.6.3.5-1.7.6 5.6.5-2.2.6-1.3.5-3.9.6-.4.6.1.5-1.3.6-3.5.5 2.2.6 2.8.5-3.7.6-9.2.5-3.1.6 3.7.5 3.1.6-1.2.5.5.6 0 .5 3 .6-10.5.5.6.6 3.8.5-.9.6 1.1.6.7.5 1.7.6 3.8.5-3.9.6 3.6.5 1.8.6-2.8.5 3.5.6 4.1.5 6.1.6-2.9.5 3.7.6.5.5-4.3.6-11.9.5-.2.6-3.3.5-1.1.6 4.8.5-2.3.6-.4.6-6.9.5 3.8.6 6.7.5 1.9.6-5.6.5 3.3.6-6 .5 1.2.6-10.8.5-2.4.6-2.9.5-.5.6 1.3.5-2.1.6-.4.5 4.5.6 1.1.5-8 .6 10.9.6 5.4.5-5.1.6 4.7.5 3.3.6-5.6.5-4.1.6-6.3.5-.5.6-.9.5-5.4.6-1.5.5-.2.6-.8.5 1.8.6 3.7.5-8.4.6 2 .5-.3.6 1.3.6 3 .5 1.1.6 7.2.5-.9.6 1.3.5 1.8.6-3.5.5-5.6.6 6.6.5 1.1.6-7.5.5-4.5.6-.9.5 10.4.6 3.1.5 2.4.6 1.9.5-1.7.6-1.4.5-4.8.6 1 .6 4.8.5-.7.6 5 .5-3.1.6-4.3.5-.1.6-2.4.5-.4.6 5.8.5 4.9.6 2.3.5 1.6.6 4 .5.1.6-2.2.5-1.3.6-.9.5 3.4.6-.3.6 1.2.5-2.6.6 4.3.5 4.4.6 7.2.5-4.8.6-.7.5 10.6.6 1.7.5-1.8.6 1.5.5-5.8.6 3.9.5 3.6.6 4.5.5-4.9.6-3.5.5-.5.6 1.9.6 4.4.5-1.4.6-3.1.5-1.1.6 1.1.5-3.6.6-.5.5-12.2.6.3.5 1.9.6-5 .5 3.2.6 4 .5-.7.6-6.7.5-2.5.6-2.4.5 2 .6-3.2.6-.5.5.9.6-2 .5-3.7.6 5.9.5 1.2.6 3.8.5-2.1.6.9.5 1 .6-5.2.5-7.2.6-.9.5 2.2.6 5.3.5 2.1.6-9.5.5-.3.6 3 .5-.9.6 2 .6-4.6.5 3.9.6 6.9.5 2.5.6-3.6.5-2.4.6 7 .5-.7.6 3.5.5-.7.6 5.6.5-.6.6 5 .5-4.7.6 5.4.5-4.6.6-7.3.5 4.1.6 14.9.6-2.6.5 5.5.6-6.7.5-6.3.6 6.8.5-2 .6.3.5-3.3.6.9.5 3.2.6-4.2.5-2.3.6 6 .5-4.5.6-.1.5-11.9.6-2.6.5 5.1.6.1.6 8.4.5-8.1.6-5.1.5-.9.6-3.6.5-.8.6-6.9.5-1.5.6-.5.5-1 .6-6.9.5 4.8.6 1.5.5 5.2.6-6.8.5 4.5.6-1 .5.6.6-1.2.5 3.2.6 5.4.6-5.4.5-9.2.6-2.1.5 5.1.6 8.5.5.1.6-1.4.5-7.1.6-2.6.5-.1.6 1.3.5.9.6 2.2.5-7 .6 1 .5 1.1.6 11.1.5.8.6 1.1.6 5.9.5-6.7.6-13.1.5 2.4.6 5.6.5-2.3.6-11.1.5-1.1.6-.4.5-1.7.6-.7.5-3 .6 0 .5-.3.6 3.1.5 4.3.6 2.4.5-2 .6-6.8.6 1.3.5 11.1.6 6.9.5-3.5.6.8.5-1 .6 1.4.5-6 .6 9.9.5 3.8.6-.5.5-4.2.6 6.1.5 7.6.6 4 .5 1.3.6-3.2.5-1.7.6.5.5 3.6.6-3.2.6 3.3.5 2.5.6 1.4.5-4.6.6 3.8.5-10.3.6 1.8.5-1 .6 6.9.5-4.6.6 7.3.5-4.2.6 4.3.5.9.6 1.7.5.7.6-1.2.5-.7.6-2.4.6-3.7.5-1.5.6 4.7.5-1.6.6-3.2.5.3.6 2.6.5.1.6-1.6.5-6.8.6-3.6.5-3.8.6-.2.5-4.1.6 2.6.5 4.4.6-2 .5 6.8.6 1.3.6-10.9.5 2 .6 6.8.5 1.6.6 7.7.5-.2.6-6.9.5-1.8.6.2.5 1.7.6-1.2.5 4.2.6 3.1.5 10 .6-.1.5-1.6.6-1.3.5-2.1.6-2.9.6-.3.5-1.3.6 2.6.5-2.8.6-2.2.5 4.5.6 2.8.5-8.7.6 4.6.5 1.9.6-6.6.5-13.6.6 13.6.5 4.8.6.7.5-3.5.6.5.5 1.1.6-13.7.5 0 .6.6.6.1.5 4.7.6 1.8.5 3.1.6-6.6.5 7.5.6-.2.5-4.5.6-4.7.5 9 .6 6.2.5-4.7.6.6.5-7.2.6-2.3.5 3.7.6 9.1.5-1.5.6-1.9.6.5.5-.9.6 1.3.5 1.3.6-.4.5 2.7.6 3.7.5-5.4.6 1.7.5.2.6-4.5.5 4.2.6 2.6.5 4.3.6-3.9.5 6 .6.7.5-5.9.6-2.1.6 2.7.5 4.4.6 3.6.5.2.6 2.4.5 1.1.6.8.5-8 .6-3 .5-2.4.6 2.1.5 4.5.6-3 .5 3.6.6-1.9.5-2.7.6-.4.5.5.6-6.6.5-5.8.6 8.7.6-3.9.5 2.7.6 4.5.5-2.8.6 2.4.5 7.1.6 3.1.5-5.6.6-1.9.5 2.7.6 4.2.5 3.7.6 7.4.5-4.4.6-4.4.5-1.6.6 8.6.5-4 .6 3.1.6-3.1.5-4.7.6 2.2.5 5.6.6-7.2.5-6.6.6-.3.5-2 .6 4.5.5 8.1.6-5.9.5-3 .6-10.1.5.2.6-2.5.5-1.8.6.6.5.8.6-7 .6 3.2.5-3.9.6-.7.5-1.3.6 1.8.5 3.7.6-3 .5-2.7.6-5.1.5 3.5.6 2.5.5 3.5.6-1.8.5-4.1.6 2 .5 7.6.6 1.7.5-1.8.6-1.9.6-5.3.5 3.3.6 8.7.5-1 .6.3.5-2.4.6-.6.5-2.6.6-13.7.5-1.2.6 2.2.5 1.5.6 4.5.5-2.5.6 5.8.5 6.3.6-1.7.5 3.4.6 1.5.5.8.6-6 .6 2.8.5 0 .6 3.8.5 6.5.6 1.2.5 7 .6-1.8.5-2.1.6 0 .5-.4.6-3.4.5-1.1.6 3.5.5 2.4.6 6.2.5-3.1.6-2.5.5-4.8.6 3.4.6-5.9.5-1.6.6-2.4.5-.5.6-5.7.5-3.2.6 8.1.5 2.1.6.2.5-3 .6-1.2.5-7.8.6.1.5 1.3.6-4.6.5-2.2.6-6.6.5 1.9.6 6 .6.7.5-3 .6-1.7.5-6.5.6 8 .5-.6.6 3.5.5.1.6-2.9.5-2.8.6-7.2.5.4.6 4.2.5-.7.6 5.4.5-2.3.6-1 .5 3 .6 1.9.5 5 .6-12.1.6 2.8.5 6.8.6-1.7.5-.2.6 2.3.5-.1.6-3.7.5-3.6.6 0 .5-1.8.6-.3.5-.9.6-2.4.5 11.9.6 3.9.5-9.5.6-.3.5-8.2.6-1.4.6-.2.5 1.4.6 5.4.5 3.5.6 5 .5 5.1.6-4.5.5-.2.6-7.2.5-3.9.6-1.2.5 5.1.6 1.9.5-2.8.6-5.4.5-.5.6 5.7.5 7 .6 2.7.6 2.3.5-1.1.6-.2.5 3.5.6-.3.5-2.2.6-4.6.5 2.2.6-6.5.5 1.8.6 4.8.5 5.8.6-1.6.5-4.7.6-2.1.5-1.1.6 5.1.5 3.3.6.8.5-5 .6-2.1.6-2.9.5-1.2.6 3 .5-1.9.6 6.3.5 3.7.6-.6.5-10.7.6 5.5.5 10.5.6-6 .5 1.8.6-1.1.5 5 .6 8.4.5-3.7.6 3.3.5 5.2.6-7.8.6-7.9.5-.2.6 1.6.5-.8.6 2.7.5-5.6.6 7 .5 1.9.6-4.6.5-1.7.6-7.3.5 1.6.6-3.7.5 6.2.6.2.5-3.9.6 1 .5 5.6.6 1.5.6 0 .5-3.9.6-6.1.5 5.6.6-2.2.5-.1.6-1.5.5 3.6.6 7.5.5.3.6 2.6.5 1.2.6-4.1.5-7.3.6 2.4.5 2.5.6-4.2.5 4.9.6-.2.6 5.5.5 2.3.6 5 .5 2.9.6-13 .5 1.6.6 6.1.5-6.6.6 2.8.5 3.1.6 3 .5-3.5.6 3.4.5-1.7.6 2.9.5-6.4.6-.3.5.9.6-9.7.5 7 .6 10.4.6 1.2.5-.4.6-1.4.5 2.9.6.5.5 9.2.6-2.7.5-1.5.6 3.3.5-2.5.6-.8.5 3.2.6-4.3.5 5.1.6.7.5-1.5.6 6.6.5 6.4.6-.8" stroke="#000" stroke-width="1.3" fill="none" stroke-linejoin="round"/>
<text x="774.9" y="643" font-size="23" textLength="166.8" lengthAdjust="spacingAndGlyphs">Trial 2 example</text>
<rect x="829.2" y="656.9" width="5.4" height="124.5" fill="#f7c3c4" fill-opacity="0.85"/>
<rect x="838.3" y="656.9" width="3.3" height="124.5" fill="#c5cbe6" fill-opacity="0.85"/>
<rect x="849.6" y="656.9" width="4.3" height="124.5" fill="#d7d7d7" fill-opacity="0.85"/>
<rect x="862.4" y="656.9" width="3.2" height="124.5" fill="#c5cbe6" fill-opacity="0.85"/>
<rect x="871.5" y="656.9" width="3" height="124.5" fill="#f7c3c4" fill-opacity="0.85"/>
<rect x="886.5" y="656.9" width="5.4" height="124.5" fill="#d7d7d7" fill-opacity="0.85"/>
<rect x="904.2" y="656.9" width="7.8" height="124.5" fill="#c5cbe6" fill-opacity="0.85"/>
<rect x="939" y="656.9" width="4.6" height="124.5" fill="#f7c3c4" fill-opacity="0.85"/>
<rect x="968.5" y="656.9" width="7.7" height="124.5" fill="#f7c3c4" fill-opacity="0.85"/>
<rect x="984.5" y="656.9" width="4.8" height="124.5" fill="#c5cbe6" fill-opacity="0.85"/>
<rect x="995.8" y="656.9" width="3.2" height="124.5" fill="#d7d7d7" fill-opacity="0.85"/>
<rect x="1026" y="656.9" width="3.4" height="124.5" fill="#f7c3c4" fill-opacity="0.85"/>
<rect x="1032.6" y="656.9" width="5.8" height="124.5" fill="#f7c3c4" fill-opacity="0.85"/>
<rect x="1066" y="656.9" width="5.4" height="124.5" fill="#d7d7d7" fill-opacity="0.85"/>
<rect x="1092.3" y="656.9" width="3.2" height="124.5" fill="#c5cbe6" fill-opacity="0.85"/>
<rect x="1120.4" y="656.9" width="10.7" height="124.5" fill="#d7d7d7" fill-opacity="0.85"/>
<rect x="1222.7" y="656.9" width="8.5" height="124.5" fill="#d7d7d7" fill-opacity="0.85"/>
<rect x="1257.7" y="656.9" width="3.3" height="124.5" fill="#d7d7d7" fill-opacity="0.85"/>
<rect x="1314.5" y="656.9" width="4.3" height="124.5" fill="#f7c3c4" fill-opacity="0.85"/>
<path d="M772.7 724.8l.6-.6.5 1.5.6-1.7.5 4 .6 1.5.5 2.2.6-6.6.5-1.5.6-2.5.5.4.6 6.9.5-1.5.6 4.8.5-8.7.6 2.2.5-2.9.6 1.9.6-2.1.5 0 .6 2.8.5.5.6.3.5-1.4.6-5.7.5.4.6 6.3.5-3.8.6 2.8.5 1.3.6 1.9.5-.8.6-1.8.6-6.4.5 1.4.6.5.5 2.8.6-4.4.5 3.9.6 1.8.5 6 .6 2.3.5-5.7.6-3.9.5-7 .6-2.9.5 5.5.6 2 .5.7.6 4.7.6 3.4.5.7.6-6 .5-5.8.6 3.9.5-5 .6-.6.5.7.6 2.7.5 3.4.6 1.5.5 0 .6 0 .5 4.6.6.1.5-.2.6-5.5.6-2.6.5-2.1.6-2.3.5-6.4.6-3.8.5 1.1.6-6.8.5-5.3.6-.6.5-3.5.6 3.2.5-2.1.6-.3.5.9.6 2.8.6-1.8.5 4.5.6-3.3.5-2 .6-.4.5 4.7.6 3.3.5.5.6-1.6.5 1.8.6 3 .5 9.6.6 1.1.5 2.9.6-2.8.5-1.9.6 4.2.6 0 .5.2.6-1.6.5 9.3.6.4.5-1.3.6-.5.5 4.2.6 2 .5-4.2.6 6.5.5.8.6 2.9.5.7.6-3.5.5-4.9.6 1 .6 3.5.5-6.6.6-1.7.5.2.6 8.7.5-1.1.6-5.5.5 6.2.6 1.8.5.2.6-4.9.5 1.7.6-6.5.5.5.6 1.3.5 3.2.6 8.9.6-5.3.5-2.3.6-4.4.5.7.6-2.3.5.9.6-1.7.5-2.1.6 6.6.5 5.1.6-7.2.5-2 .6-7.8.5.1.6 3.1.6.7.5-4.8.6 2.2.5 6.9.6 3.5.5-.2.6.8.5 1.9.6-1.7.5 3.5.6-1.8.5-6 .6-5 .5 4.7.6 6.6.5-8.5.6.4.6 6.8.5-9.4.6-2.5.5 2.9.6.6.5.6.6 1 .5 1.6.6-2.1.5-4 .6 2.6.5 6.2.6-1.2.5.6.6-1.5.5-6.2.6.1.6-3.2.5-4.8.6-3.6.5 1.5.6 1.5.5 4.2.6 2 .5.9.6-7.2.5 1.5.6-5.1.5 2.7.6 3.1.5 1.1.6 6.9.6-.5.5 1.5.6 2.5.5.6.6-5.3.5-.3.6 1.4.5-1.1.6 2.6.5-1.8.6-1.3.5 7 .6-4.3.5-5.7.6 5.1.5-1 .6.4.6 11.6.5 1.1.6.6.5 1.7.6-8.3.5 7.7.6 1.7.5-.1.6 1.6.5 1.4.6 1.4.5-4.5.6 3 .5-6.6.6-3.2.5-2.6.6-1.2.6.5.5-2.2.6.2.5-4.9.6-4.8.5 1.6.6 1.1.5 9.6.6-.2.5-1.8.6-15.1.5.8.6 4 .5 7.6.6-2.4.6-6.9.5.9.6 7.3.5 5.9.6-.4.5 3.8.6-1.2.5-6.8.6 8.7.5 1.4.6-4.6.5-3.9.6 9 .5 7.9.6-1.2.5-6.5.6-2.1.6-.3.5 2.2.6-.9.5 0 .6-8 .5-5.4.6-1.8.5 4.1.6-5.7.5 1.8.6.2.5 5.7.6-5.8.5 1.2.6 4.9.5 5.7.6-7.1.6-5.2.5 7.2.6.6.5-4.8.6-3.2.5 5 .6 3.3.5 1.9.6.8.5.8.6-3.7.5-4.1.6-4.1.5-3.4.6 7.3.6 4 .5-1.6.6-4.7.5-.9.6 1.6.5.5.6-1.5.5 5.8.6 1.5.5-5.8.6 2 .5 4.1.6-.7.5 0 .6 3.2.5 1.3.6-2 .6-2.1.5.7.6 4.7.5-1.4.6-1.2.5.4.6-.2.5 3.2.6 6.8.5-3 .6 2.9.5 1.4.6-1.9.5-8.4.6 1.4.5 3.3.6 3.1.6-.2.5-6.7.6-4.7.5 9.4.6-4.9.5-4.3.6-7.1.5-2 .6-2.5.5-1.4.6 4.2.5-2.5.6 3.1.5 4.6.6-12.4.6-6.7.5 2.6.6 6.4.5 2.5.6-1.7.5-3.5.6 2.5.5 1 .6 3.9.5-.6.6 2.6.5 3.8.6.9.5-7.2.6-1.8.5 11.7.6.8.6 5.6.5-4.6.6 2.4.5 1.1.6 4.9.5.8.6 3.2.5-.2.6-12.3.5.5.6-2.8.5 4.3.6 4.1.5.7.6.3.5-2 .6-2 .6 3 .5-2.7.6-.3.5.1.6-4.8.5.3.6-6 .5-1.9.6 2.6.5-2.8.6.4.5 3 .6 3.7.5 9.2.6 2.5.5 6 .6-4.3.6-.1.5-6.8.6-2.4.5 3.2.6-2.6.5 2.2.6.9.5 8.1.6-4.7.5.3.6-8.1.5-2.4.6-.2.5 9.7.6-14.3.6-2.6.5-6.1.6 2.4.5.7.6 7.9.5-1.3.6-2.1.5 2.1.6 6 .5 1.5.6 2.2.5-1.7.6-2.4.5-3 .6-7.2.5 0 .6-.4.6 2.6.5-5.1.6-1.2.5-1.6.6-1.9.5 2.8.6-3.1.5-1.1.6 2.6.5-6.2.6-8 .5 6.2.6-1.2.5-1.3.6-2.9.5-5 .6-1.8.6-5.6.5 4.3.6 2.7.5-2.2.6-3.6.5 6.4.6-2 .5-.9.6 1.8.5 3.3.6 8.8.5-2.9.6-3.7.5-4.7.6 2.5.6 8.3.5 9.8.6-1.3.5 3.5.6-1.6.5-.6.6-6.7.5.6.6 8.9.5-1.1.6-2.3.5 7.8.6 2.8.5 4.7.6 5 .5-4.8.6 1.2.6-3.9.5 1.8.6 7.7.5 12.8.6-7.9.5-7 .6 1.7.5 2.1.6.2.5-2.5.6-8 .5-3.4.6 8.3.5 1.3.6-10.5.5-1.5.6-5.8.6 3.9.5-5.1.6 1.3.5.1.6-7.3.5-1.2.6-5.3.5-6.6.6-1.5.5 6.3.6-3.9.5-1.8.6-9.9.5 3.8.6-1.4.6-4.7.5-2 .6-3.9.5 4.1.6 9.7.5 9.3.6.2.5 2.1.6-2.4.5-4.5.6 3.9.5-2.5.6.4.5 2.7.6 5.3.5-3.8.6 3.7.6 4 .5-7.6.6 1.9.5 7.5.6 3 .5.3.6-2.8.5-1.8.6 4.1.5-3.7.6 1.7.5-2.2.6-2.5.5 3.6.6 4.9.5-3.5.6 2.2.6 3.6.5-1.7.6-7.4.5-2.6.6-1.1.5-1.8.6 5.3.5-1 .6-8.7.5-2.8.6 2.2.5 1.6.6-1.6.5-6 .6-.4.6-.8.5-.8.6 2.6.5 5.3.6.6.5 1.6.6 1.9.5-3.4.6 1 .5-1.9.6-3.9.5-3.6.6-9.4.5 4.5.6.7.5-.1.6-3.9.6 1 .5 3.3.6 4.7.5 2.8.6-3.2.5 1.4.6-.4.5 6.4.6 5.3.5 4.6.6-3.7.5.6.6 4.9.5-5.1.6 5.3.5-4 .6-.4.6 2.7.5-8 .6-3 .5-1.6.6 3.8.5 1.7.6-5.5.5-4.3.6.6.5.1.6 0 .5-2.6.6 1.3.5 2.1.6 6.2.6-1.8.5 8.8.6-3.1.5-4.5.6-1.1.5 1.9.6-1.1.5-2.1.6 2.2.5-.8.6 2.9.5 2.3.6 3.9.5-3.9.6-4.1.5-1.3.6 4.1.6.5.5 4.5.6-1.9.5 2.5.6 1.8.5-2.9.6-5.2.5 3.2.6-3.4.5 1.5.6 10.2.5 6.2.6-1.9.5 1.4.6 8.3.5-3.6.6 2 .6-3.2.5-1.2.6 6.8.5 4.2.6 2 .5.1.6 4.4.5-6.5.6 5.2.5-1.2.6 2.3.5-2.8.6-5.8.5 3.1.6 4.5.5 4.2.6-1.7.6-3.1.5-.2.6 3.2.5-3.4.6 1.4.5-2.3.6-9.1.5-3.7.6-1.9.5 0 .6.1.5-.3.6-.7.5-1.6.6 3.7.6-1.6.5-2.6.6-2.6.5.9.6 3 .5.6.6 1.4.5 7.3.6-5.7.5 1.4.6-3.9.5 1.4.6-1.3.5 3 .6-5.4.5-2 .6 5.7.6-5.8.5 4.7.6-2.8.5 1.5.6-.2.5 0 .6-6.7.5-8 .6.6.5 7.4.6 3.4.5-2.3.6 3.1.5-1.9.6 1.6.5-4.8.6 3.5.6-1.8.5-.9.6 5.5.5 4.4.6-2.2.5-5.6.6 3.6.5 4.7.6 1.9.5 4.3.6-.2.5-1.2.6 2.2.5-.6.6-1.7.6 1.5.5.3.6 1.5.5-4 .6 6.5.5.1.6-3.1.5-4.5.6 2.3.5 4.6.6 7.9.5-3.2.6-1.4.5-1.5.6-3 .5-.8.6-5.3.6 1.1.5 3.7.6 1.2.5-7 .6-3.1.5 3.2.6 1.3.5 6 .6-3.3.5-1.3.6-5.4.5-1.2.6-4.5.5 3.3.6 2.2.5-2.6.6-1.6.6-2.6.5-.7.6-2 .5 1.5.6.5.5 2.5.6 5.1.5 3.4.6-2.7.5 2 .6-1.6.5 2.7.6-6.8.5 8 .6-4.4.6.4.5-3.3.6 2.6.5 1.8.6-4.1.5 3.3.6 9.9.5-.7.6 3.1.5 5.8.6-1.4.5-6.4.6 2 .5-4.8.6-2.1.5 0 .6-.5.6 1.8.5-3.6.6-1.5.5 6.1.6 9 .5.5.6-1.8.5-4.8.6 7.1.5 1.1.6-1.2.5-4.3.6.5.5 2.9.6-1.8.5 2.1.6 4.5.6-6.6.5-4.7.6-1.8.5-6.2.6 2.9.5 2.9.6 3.4.5-3.4.6-6 .5-1.3.6-3.6.5.6.6-2.9.5 5.8.6 6.3.6-2.4.5 6.5.6 3.5.5-1.3.6.9.5 3.6.6 1.3.5 1.6.6.9.5 3.3.6 7.3.5.5.6.9.5 3.3.6-1.8.5-5.1.6.5.6.1.5 6.1.6-2.3.5-.9.6-6.3.5 5.8.6 1.2.5-3.8.6-2.5.5 3.5.6-4.9.5-.7.6-5.5.5 4.2.6-.3.5 2.5.6-2 .6 2.1.5-7.5.6-2.9.5 6.2.6-6.2.5-5.2.6 3.7.5-2.9.6 1.3.5 2.6.6-3 .5 7.5.6 3 .5-2.4.6-4.5.6 1.6.5 6.1.6 2.9.5-1.7.6 2.8.5-4.4.6-6.4.5-.4.6.4.5.8.6-.4.5 4.4.6 2.2.5-1.9.6-5.9.5 4.5.6-2.1.6 10.1.5-.9.6 3.1.5-5.7.6 3 .5-3.9.6 3.3.5 5.8.6 3.7.5-.3.6-3.1.5-1.4.6 3.3.5-4.7.6 2.4.5 2.2.6-3.8.6-.1.5-3.6.6 2.1.5 1.8.6.8.5-5.4.6-.3.5 2.3.6 2 .5.8.6-2.6.5-4.1.6-2 .5-.5.6 1.4.5 4.6.6 4 .6-1.9.5-11.1.6 1 .5 3.6.6 6.6.5-5.9.6 3.5.5-3.9.6 1.1.5.4.6 5.6.5-3.6.6-3.8.5.6.6-4.2.6 3.6.5-3.8.6.5.5 1.3.6-2 .5-6.5.6-.7.5 1.2.6 3.4.5 4.1.6.5.5-2 .6-.4.5-1.2.6 5.6.5 4.1.6.3.6-6 .5 6.3.6-.4.5 5.1.6 5.5.5-4.5.6 2.8.5-1.7.6 5.3.5 1.6.6 2.8.5-.7.6 3.8.5-3.2.6-7.4.5-2 .6-.7.6 2.4.5 8.4.6-1.9.5-2 .6-3 .5 3.1.6 1.7.5-2.3.6.2.5-.3.6-1.2.5-.7.6.5.5 9.1.6-6.6.6.4.5 1.2.6-1.2.5 2.1.6-3 .5 3.9.6 3.2.5 2.4.6-1.2.5-.6.6 2.1.5-2.2.6.2.5-2.4.6-.5.5 1.3.6 2.2" stroke="#000" stroke-width="1.3" fill="none" stroke-linejoin="round"/>
<path d="M763.6 713L763.6 795.9" stroke="#262626" stroke-width="1.3" fill="none"/>
<path d="M763 795.3L814.2 795.3" stroke="#262626" stroke-width="1.3" fill="none"/>
<text x="755.6" y="753.3" text-anchor="middle" textLength="43" lengthAdjust="spacingAndGlyphs" transform="rotate(-90 755.6 753.3)">10%</text>
<text x="761.5" y="821.5" font-size="22" textLength="57" lengthAdjust="spacingAndGlyphs">1 min</text>
<text x="1362.8" y="455" font-size="34" font-weight="bold">g</text>
<text x="1398" y="458.7" font-size="23" textLength="282.3" lengthAdjust="spacingAndGlyphs">End of each drinking bout</text>
<path d="M1488.5 463L1496.9 463L1492.7 477.5Z" fill="#000"/>
<g stroke-width="3.5">
<path stroke="#053061" d="M1428.1 587.8h3M1401.2 607.7h14.9M1425.1 607.7h29.9M1463.9 607.7h3"/>
<path stroke="#144c88" d="M1413.1 577.8h3M1431.1 587.8h6M1416.1 607.7h9M1455 607.7h9M1628.2 607.7h3M1646.1 607.7h3M1670 607.7h6"/>
<path stroke="#2368ad" d="M1610.3 574.5h14.9M1416.1 577.8h17.9M1422.1 587.8h6M1437 587.8h3M1631.2 607.7h14.9M1649.1 607.7h6M1664.1 607.7h6"/>
<path stroke="#3580b9" d="M1550.5 574.5h3M1562.5 574.5h3M1604.3 574.5h6M1625.2 574.5h3M1658.1 574.5h3M1667 574.5h3M1673 574.5h3M1434.1 577.8h9M1517.7 577.8h9M1562.5 581.1h3M1413.1 587.8h9M1440 587.8h6M1449 587.8h3M1526.7 597.7h6M1577.4 597.7h6M1586.4 597.7h20.9M1664.1 597.7h3M1670 597.7h6M1466.9 607.7h3M1472.9 607.7h3M1655.1 607.7h9"/>
<path stroke="#4b98c6" d="M1502.8 574.5h3M1520.7 574.5h3M1532.6 574.5h3M1547.6 574.5h3M1553.5 574.5h9M1565.5 574.5h9M1577.4 574.5h17.9M1631.2 574.5h14.9M1649.1 574.5h3M1655.1 574.5h3M1661.1 574.5h6M1526.7 577.8h9M1517.7 581.1h11.9M1541.6 581.1h6M1559.5 581.1h3M1598.3 581.1h3M1604.3 581.1h3M1673 581.1h3M1446 587.8h3M1416.1 597.7h3M1425.1 597.7h3M1434.1 597.7h11.9M1499.8 597.7h17.9M1523.7 597.7h3M1532.6 597.7h6M1547.6 597.7h23.9M1574.4 597.7h3M1583.4 597.7h3M1622.2 597.7h3M1628.2 597.7h35.8M1667 597.7h3M1556.5 601h3M1565.5 601h3M1469.9 607.7h3M1475.9 607.7h3"/>
<path stroke="#75b3d4" d="M1499.8 544.6h17.9M1428.1 574.5h3M1508.7 574.5h11.9M1523.7 574.5h9M1535.6 574.5h11.9M1574.4 574.5h3M1595.4 574.5h9M1628.2 574.5h3M1646.1 574.5h3M1652.1 574.5h3M1670 574.5h3M1496.8 581.1h6M1511.7 581.1h6M1529.6 581.1h6M1538.6 581.1h3M1547.6 581.1h3M1556.5 581.1h3M1565.5 581.1h9M1580.4 581.1h17.9M1601.3 581.1h3M1607.3 581.1h3M1643.1 581.1h9M1655.1 581.1h17.9M1413.1 597.7h3M1419.1 597.7h6M1428.1 597.7h6M1446 597.7h9M1458 597.7h3M1496.8 597.7h3M1520.7 597.7h3M1538.6 597.7h9M1571.5 597.7h3M1607.3 597.7h6M1619.2 597.7h3M1625.2 597.7h3M1550.5 601h6M1559.5 601h6M1568.5 601h6M1478.9 607.7h3"/>
<path stroke="#9ccae1" d="M1664.1 531.3h11.9M1583.4 538h3M1496.8 544.6h3M1422.1 574.5h6M1466.9 574.5h3M1505.7 574.5h3M1419.1 581.1h6M1460.9 581.1h3M1505.7 581.1h6M1535.6 581.1h3M1550.5 581.1h6M1574.4 581.1h6M1610.3 581.1h3M1640.2 581.1h3M1652.1 581.1h3M1475.9 587.8h3M1481.8 587.8h3M1455 597.7h3M1517.7 597.7h3M1613.3 597.7h6M1523.7 601h14.9M1574.4 601h3M1511.7 607.7h17.9"/>
<path stroke="#bddbea" d="M1559.5 484.9h3M1499.8 524.7h3M1616.3 531.3h9M1628.2 531.3h3M1658.1 531.3h6M1586.4 538h11.9M1604.3 538h6M1520.7 551.3h9M1532.6 551.3h3M1637.2 551.3h11.9M1517.7 554.6h3M1541.6 554.6h3M1571.5 554.6h3M1577.4 554.6h6M1598.3 554.6h3M1604.3 554.6h3M1652.1 554.6h3M1401.2 574.5h6M1413.1 574.5h9M1443 574.5h3M1460.9 574.5h6M1469.9 574.5h9M1514.7 577.8h3M1535.6 577.8h3M1541.6 577.8h6M1553.5 577.8h3M1604.3 577.8h14.9M1634.2 577.8h9M1410.2 581.1h3M1416.1 581.1h3M1425.1 581.1h3M1463.9 581.1h3M1475.9 581.1h3M1481.8 581.1h9M1493.8 581.1h3M1502.8 581.1h3M1613.3 581.1h26.9M1458 587.8h17.9M1478.9 587.8h3M1493.8 597.7h3M1538.6 601h11.9M1655.1 601h6M1520.7 604.4h3"/>
<path stroke="#d9e9f1" d="M1496.8 484.9h3M1526.7 484.9h6M1553.5 484.9h6M1562.5 484.9h3M1616.3 484.9h3M1622.2 484.9h3M1538.6 501.5h9M1559.5 501.5h3M1580.4 501.5h3M1586.4 501.5h11.9M1613.3 501.5h3M1496.8 524.7h3M1502.8 524.7h3M1523.7 524.7h3M1547.6 524.7h6M1622.2 524.7h6M1631.2 524.7h3M1667 524.7h9M1637.2 531.3h6M1646.1 531.3h3M1652.1 531.3h6M1490.8 538h3M1568.5 538h14.9M1598.3 538h6M1478.9 541.3h6M1499.8 547.9h6M1517.7 551.3h3M1529.6 551.3h3M1535.6 551.3h6M1649.1 551.3h3M1655.1 551.3h11.9M1673 551.3h3M1520.7 554.6h9M1532.6 554.6h9M1544.6 554.6h26.9M1574.4 554.6h3M1586.4 554.6h11.9M1601.3 554.6h3M1607.3 554.6h6M1619.2 554.6h3M1625.2 554.6h3M1634.2 554.6h6M1655.1 554.6h9M1670 554.6h3M1511.7 557.9h6M1664.1 557.9h3M1670 561.2h3M1514.7 564.5h3M1559.5 564.5h9M1601.3 564.5h6M1619.2 564.5h3M1625.2 564.5h3M1452 567.9h3M1460.9 567.9h3M1568.5 567.9h3M1601.3 567.9h6M1610.3 567.9h17.9M1631.2 567.9h3M1667 567.9h3M1538.6 571.2h3M1550.5 571.2h3M1407.2 574.5h6M1446 574.5h3M1452 574.5h6M1478.9 574.5h3M1487.8 574.5h6M1499.8 574.5h3M1478.9 577.8h3M1538.6 577.8h3M1547.6 577.8h6M1595.4 577.8h9M1619.2 577.8h3M1625.2 577.8h3M1631.2 577.8h3M1643.1 577.8h9M1401.2 581.1h9M1413.1 581.1h3M1428.1 581.1h9M1455 581.1h6M1466.9 581.1h3M1472.9 581.1h3M1478.9 581.1h3M1401.2 587.8h3M1407.2 587.8h3M1452 587.8h6M1484.8 587.8h6M1434.1 601h3M1443 601h3M1496.8 601h17.9M1517.7 601h6M1592.4 601h3M1598.3 601h6M1613.3 601h3M1646.1 601h9M1661.1 601h6M1673 601h3M1505.7 604.4h3M1511.7 604.4h9M1523.7 604.4h6M1481.8 607.7h9M1508.7 611h3"/>
<path stroke="#edf2f5" d="M1437 481.6h17.9M1469.9 481.6h6M1478.9 481.6h3M1484.8 481.6h3M1490.8 481.6h3M1472.9 484.9h3M1478.9 484.9h3M1493.8 484.9h3M1499.8 484.9h9M1520.7 484.9h6M1535.6 484.9h3M1547.6 484.9h3M1565.5 484.9h20.9M1592.4 484.9h3M1601.3 484.9h6M1610.3 484.9h6M1619.2 484.9h3M1625.2 484.9h3M1637.2 484.9h11.9M1652.1 484.9h11.9M1667 484.9h3M1673 484.9h3M1487.8 501.5h14.9M1511.7 501.5h3M1517.7 501.5h3M1523.7 501.5h3M1529.6 501.5h9M1547.6 501.5h9M1562.5 501.5h9M1574.4 501.5h3M1583.4 501.5h3M1598.3 501.5h6M1607.3 501.5h6M1643.1 501.5h6M1652.1 501.5h9M1670 501.5h6M1490.8 504.8h3M1517.7 508.1h3M1571.5 511.4h3M1580.4 511.4h6M1496.8 518.1h9M1508.7 518.1h3M1401.2 524.7h3M1431.1 524.7h6M1481.8 524.7h3M1490.8 524.7h6M1505.7 524.7h3M1511.7 524.7h6M1520.7 524.7h3M1529.6 524.7h9M1541.6 524.7h6M1559.5 524.7h11.9M1574.4 524.7h11.9M1592.4 524.7h3M1601.3 524.7h3M1616.3 524.7h3M1628.2 524.7h3M1634.2 524.7h3M1649.1 524.7h17.9M1490.8 528h3M1514.7 528h9M1526.7 528h9M1559.5 528h6M1583.4 528h3M1589.4 528h9M1604.3 528h3M1493.8 531.3h3M1499.8 531.3h3M1505.7 531.3h6M1514.7 531.3h3M1523.7 531.3h6M1532.6 531.3h3M1580.4 531.3h11.9M1595.4 531.3h6M1604.3 531.3h3M1610.3 531.3h6M1625.2 531.3h3M1631.2 531.3h6M1643.1 531.3h3M1649.1 531.3h3M1493.8 538h6M1502.8 538h9M1514.7 538h3M1520.7 538h6M1565.5 538h3M1610.3 538h6M1619.2 538h3M1404.2 541.3h6M1443 541.3h11.9M1466.9 541.3h11.9M1484.8 541.3h9M1484.8 544.6h3M1496.8 547.9h3M1505.7 547.9h6M1499.8 551.3h6M1508.7 551.3h3M1541.6 551.3h6M1586.4 551.3h9M1625.2 551.3h11.9M1652.1 551.3h3M1667 551.3h6M1416.1 554.6h3M1511.7 554.6h6M1583.4 554.6h3M1613.3 554.6h6M1622.2 554.6h3M1628.2 554.6h6M1640.2 554.6h11.9M1664.1 554.6h6M1673 554.6h3M1401.2 557.9h3M1496.8 557.9h3M1505.7 557.9h6M1517.7 557.9h11.9M1541.6 557.9h3M1565.5 557.9h17.9M1586.4 557.9h3M1595.4 557.9h3M1601.3 557.9h6M1610.3 557.9h17.9M1634.2 557.9h3M1640.2 557.9h3M1646.1 557.9h9M1658.1 557.9h6M1458 561.2h9M1469.9 561.2h3M1475.9 561.2h3M1487.8 561.2h6M1523.7 561.2h6M1553.5 561.2h6M1568.5 561.2h11.9M1586.4 561.2h3M1595.4 561.2h6M1610.3 561.2h3M1649.1 561.2h3M1658.1 561.2h6M1667 561.2h3M1673 561.2h3M1496.8 564.5h17.9M1517.7 564.5h3M1538.6 564.5h3M1553.5 564.5h6M1595.4 564.5h3M1607.3 564.5h6M1616.3 564.5h3M1622.2 564.5h3M1628.2 564.5h17.9M1655.1 564.5h3M1670 564.5h6M1404.2 567.9h6M1413.1 567.9h3M1422.1 567.9h9M1449 567.9h3M1455 567.9h6M1466.9 567.9h17.9M1487.8 567.9h3M1493.8 567.9h9M1526.7 567.9h3M1532.6 567.9h3M1541.6 567.9h11.9M1571.5 567.9h6M1580.4 567.9h3M1592.4 567.9h3M1607.3 567.9h3M1628.2 567.9h3M1637.2 567.9h9M1658.1 567.9h9M1670 567.9h6M1416.1 571.2h11.9M1446 571.2h3M1460.9 571.2h3M1472.9 571.2h3M1478.9 571.2h3M1487.8 571.2h3M1517.7 571.2h6M1529.6 571.2h9M1541.6 571.2h9M1595.4 571.2h14.9M1613.3 571.2h3M1619.2 571.2h3M1655.1 571.2h6M1431.1 574.5h11.9M1449 574.5h3M1458 574.5h3M1481.8 574.5h6M1493.8 574.5h6M1404.2 577.8h9M1443 577.8h11.9M1460.9 577.8h3M1466.9 577.8h3M1475.9 577.8h3M1481.8 577.8h14.9M1505.7 577.8h9M1556.5 577.8h9M1568.5 577.8h6M1577.4 577.8h11.9M1592.4 577.8h3M1622.2 577.8h3M1628.2 577.8h3M1440 581.1h3M1449 581.1h6M1469.9 581.1h3M1490.8 581.1h3M1493.8 584.4h3M1499.8 584.4h11.9M1532.6 584.4h3M1541.6 584.4h9M1613.3 584.4h3M1619.2 584.4h11.9M1664.1 584.4h6M1673 584.4h3M1404.2 587.8h3M1410.2 587.8h3M1490.8 587.8h3M1508.7 587.8h3M1514.7 587.8h11.9M1589.4 587.8h3M1604.3 587.8h3M1493.8 591.1h3M1502.8 591.1h11.9M1520.7 591.1h3M1601.3 591.1h3M1628.2 591.1h3M1634.2 591.1h9M1646.1 591.1h3M1661.1 591.1h3M1499.8 594.4h3M1517.7 594.4h3M1658.1 594.4h9M1401.2 597.7h9M1469.9 597.7h3M1475.9 597.7h3M1484.8 597.7h3M1407.2 601h3M1428.1 601h3M1440 601h3M1446 601h3M1458 601h20.9M1490.8 601h6M1514.7 601h3M1577.4 601h14.9M1595.4 601h3M1604.3 601h6M1616.3 601h20.9M1640.2 601h6M1667 601h6M1493.8 604.4h11.9M1508.7 604.4h3M1490.8 607.7h6M1499.8 607.7h3M1508.7 607.7h3M1529.6 607.7h3M1544.6 607.7h3M1550.5 607.7h3M1562.5 607.7h3M1568.5 607.7h3M1586.4 607.7h3M1592.4 607.7h3M1598.3 607.7h6M1607.3 607.7h6M1616.3 607.7h3M1622.2 607.7h6M1449 611h3M1460.9 611h3M1466.9 611h3M1472.9 611h6M1481.8 611h3M1490.8 611h3M1496.8 611h3M1505.7 611h3M1541.6 611h3M1550.5 611h3M1556.5 611h3M1592.4 611h3M1610.3 611h3M1640.2 611h3M1652.1 611h3M1484.8 614.3h3M1493.8 614.3h3M1505.7 614.3h3M1511.7 614.3h6M1452 617.6h3M1511.7 617.6h3M1520.7 617.6h3"/>
<path stroke="#f9f0ea" d="M1401.2 481.6h6M1413.1 481.6h6M1425.1 481.6h6M1434.1 481.6h3M1455 481.6h14.9M1475.9 481.6h3M1481.8 481.6h3M1487.8 481.6h3M1455 484.9h3M1460.9 484.9h11.9M1475.9 484.9h3M1484.8 484.9h9M1508.7 484.9h3M1514.7 484.9h6M1532.6 484.9h3M1538.6 484.9h9M1550.5 484.9h3M1586.4 484.9h6M1595.4 484.9h6M1607.3 484.9h3M1628.2 484.9h9M1649.1 484.9h3M1664.1 484.9h3M1670 484.9h3M1490.8 488.2h3M1472.9 491.5h6M1481.8 491.5h9M1502.8 491.5h3M1481.8 498.2h11.9M1577.4 498.2h3M1460.9 501.5h3M1466.9 501.5h9M1481.8 501.5h6M1502.8 501.5h9M1514.7 501.5h3M1526.7 501.5h3M1556.5 501.5h3M1571.5 501.5h3M1577.4 501.5h3M1604.3 501.5h3M1616.3 501.5h14.9M1637.2 501.5h6M1649.1 501.5h3M1661.1 501.5h9M1475.9 504.8h3M1481.8 504.8h9M1490.8 508.1h26.9M1520.7 508.1h9M1532.6 508.1h6M1401.2 511.4h3M1407.2 511.4h3M1466.9 511.4h3M1514.7 511.4h3M1520.7 511.4h9M1541.6 511.4h3M1553.5 511.4h3M1559.5 511.4h11.9M1574.4 511.4h6M1586.4 511.4h23.9M1493.8 514.8h9M1505.7 514.8h3M1511.7 514.8h6M1619.2 514.8h3M1487.8 518.1h9M1505.7 518.1h3M1547.6 518.1h6M1610.3 518.1h6M1652.1 518.1h3M1407.2 524.7h23.9M1437 524.7h17.9M1458 524.7h3M1466.9 524.7h14.9M1484.8 524.7h6M1508.7 524.7h3M1517.7 524.7h3M1526.7 524.7h3M1538.6 524.7h3M1553.5 524.7h6M1571.5 524.7h3M1586.4 524.7h6M1595.4 524.7h3M1604.3 524.7h11.9M1619.2 524.7h3M1640.2 524.7h9M1443 528h6M1452 528h6M1466.9 528h23.9M1493.8 528h6M1505.7 528h9M1523.7 528h3M1535.6 528h9M1547.6 528h3M1553.5 528h6M1565.5 528h3M1571.5 528h3M1577.4 528h6M1586.4 528h3M1598.3 528h6M1607.3 528h9M1622.2 528h3M1628.2 528h3M1634.2 528h3M1649.1 528h6M1670 528h3M1469.9 531.3h3M1475.9 531.3h17.9M1496.8 531.3h3M1502.8 531.3h3M1511.7 531.3h3M1517.7 531.3h6M1529.6 531.3h3M1544.6 531.3h6M1553.5 531.3h26.9M1592.4 531.3h3M1601.3 531.3h3M1607.3 531.3h3M1460.9 534.7h3M1469.9 534.7h11.9M1541.6 534.7h6M1550.5 534.7h3M1559.5 534.7h3M1580.4 534.7h9M1610.3 534.7h3M1625.2 534.7h9M1661.1 534.7h3M1484.8 538h6M1499.8 538h3M1517.7 538h3M1526.7 538h23.9M1553.5 538h11.9M1616.3 538h3M1625.2 538h3M1631.2 538h9M1401.2 541.3h3M1410.2 541.3h3M1416.1 541.3h3M1422.1 541.3h20.9M1455 541.3h11.9M1541.6 541.3h11.9M1559.5 541.3h3M1613.3 541.3h6M1631.2 541.3h3M1667 541.3h3M1481.8 544.6h3M1487.8 544.6h6M1607.3 544.6h3M1667 544.6h3M1493.8 547.9h3M1496.8 551.3h3M1505.7 551.3h3M1511.7 551.3h6M1547.6 551.3h17.9M1568.5 551.3h3M1574.4 551.3h11.9M1595.4 551.3h6M1604.3 551.3h20.9M1413.1 554.6h3M1419.1 554.6h9M1452 554.6h17.9M1487.8 554.6h14.9M1505.7 554.6h6M1529.6 554.6h3M1407.2 557.9h3M1419.1 557.9h3M1425.1 557.9h3M1431.1 557.9h3M1466.9 557.9h3M1484.8 557.9h11.9M1499.8 557.9h6M1529.6 557.9h3M1538.6 557.9h3M1544.6 557.9h11.9M1559.5 557.9h6M1583.4 557.9h3M1589.4 557.9h6M1598.3 557.9h3M1607.3 557.9h3M1628.2 557.9h3M1637.2 557.9h3M1643.1 557.9h3M1655.1 557.9h3M1667 557.9h3M1407.2 561.2h3M1413.1 561.2h6M1431.1 561.2h6M1440 561.2h17.9M1466.9 561.2h3M1472.9 561.2h3M1478.9 561.2h9M1493.8 561.2h29.9M1532.6 561.2h3M1541.6 561.2h11.9M1559.5 561.2h3M1565.5 561.2h3M1580.4 561.2h3M1589.4 561.2h6M1601.3 561.2h6M1616.3 561.2h3M1622.2 561.2h17.9M1652.1 561.2h6M1664.1 561.2h3M1478.9 564.5h3M1484.8 564.5h11.9M1520.7 564.5h17.9M1541.6 564.5h6M1550.5 564.5h3M1568.5 564.5h14.9M1586.4 564.5h3M1592.4 564.5h3M1598.3 564.5h3M1613.3 564.5h3M1646.1 564.5h9M1658.1 564.5h11.9M1401.2 567.9h3M1410.2 567.9h3M1416.1 567.9h6M1431.1 567.9h17.9M1463.9 567.9h3M1484.8 567.9h3M1490.8 567.9h3M1502.8 567.9h14.9M1520.7 567.9h3M1529.6 567.9h3M1535.6 567.9h6M1553.5 567.9h14.9M1577.4 567.9h3M1583.4 567.9h9M1595.4 567.9h6M1634.2 567.9h3M1646.1 567.9h3M1652.1 567.9h6M1401.2 571.2h14.9M1428.1 571.2h9M1443 571.2h3M1449 571.2h9M1463.9 571.2h9M1475.9 571.2h3M1481.8 571.2h6M1490.8 571.2h11.9M1508.7 571.2h9M1523.7 571.2h6M1610.3 571.2h3M1616.3 571.2h3M1622.2 571.2h11.9M1640.2 571.2h14.9M1661.1 571.2h9M1401.2 577.8h3M1455 577.8h6M1463.9 577.8h3M1469.9 577.8h6M1502.8 577.8h3M1565.5 577.8h3M1574.4 577.8h3M1589.4 577.8h3M1437 581.1h3M1443 581.1h6M1490.8 584.4h3M1496.8 584.4h3M1511.7 584.4h3M1517.7 584.4h11.9M1535.6 584.4h6M1550.5 584.4h26.9M1580.4 584.4h6M1592.4 584.4h3M1598.3 584.4h6M1607.3 584.4h6M1616.3 584.4h3M1631.2 584.4h23.9M1661.1 584.4h3M1670 584.4h3M1493.8 587.8h6M1502.8 587.8h6M1511.7 587.8h3M1526.7 587.8h14.9M1544.6 587.8h3M1562.5 587.8h6M1571.5 587.8h3M1577.4 587.8h3M1592.4 587.8h9M1610.3 587.8h3M1487.8 591.1h6M1496.8 591.1h6M1514.7 591.1h6M1541.6 591.1h3M1577.4 591.1h3M1586.4 591.1h6M1595.4 591.1h6M1604.3 591.1h23.9M1631.2 591.1h3M1643.1 591.1h3M1649.1 591.1h3M1655.1 591.1h3M1664.1 591.1h6M1493.8 594.4h6M1502.8 594.4h14.9M1520.7 594.4h3M1538.6 594.4h3M1577.4 594.4h3M1583.4 594.4h3M1595.4 594.4h3M1601.3 594.4h11.9M1619.2 594.4h38.8M1667 594.4h6M1410.2 597.7h3M1460.9 597.7h9M1472.9 597.7h3M1478.9 597.7h6M1487.8 597.7h6M1401.2 601h6M1410.2 601h3M1419.1 601h9M1431.1 601h3M1437 601h3M1449 601h9M1478.9 601h11.9M1610.3 601h3M1637.2 601h3M1472.9 604.4h3M1481.8 604.4h11.9M1496.8 607.7h3M1502.8 607.7h6M1532.6 607.7h11.9M1547.6 607.7h3M1553.5 607.7h9M1571.5 607.7h6M1580.4 607.7h6M1589.4 607.7h3M1595.4 607.7h3M1604.3 607.7h3M1613.3 607.7h3M1619.2 607.7h3M1443 611h6M1452 611h3M1458 611h3M1463.9 611h3M1469.9 611h3M1478.9 611h3M1484.8 611h6M1493.8 611h3M1499.8 611h6M1511.7 611h9M1523.7 611h11.9M1538.6 611h3M1547.6 611h3M1553.5 611h3M1559.5 611h20.9M1583.4 611h3M1589.4 611h3M1595.4 611h14.9M1616.3 611h6M1628.2 611h6M1637.2 611h3M1643.1 611h9M1655.1 611h20.9M1407.2 614.3h9M1443 614.3h3M1449 614.3h6M1466.9 614.3h3M1478.9 614.3h6M1490.8 614.3h3M1496.8 614.3h3M1502.8 614.3h3M1508.7 614.3h3M1517.7 614.3h3M1580.4 614.3h3M1592.4 614.3h3M1604.3 614.3h3M1449 617.6h3M1490.8 617.6h11.9M1505.7 617.6h3M1514.7 617.6h3"/>
<path stroke="#fce1d1" d="M1407.2 481.6h3M1419.1 481.6h6M1431.1 481.6h3M1493.8 481.6h3M1577.4 481.6h6M1595.4 481.6h6M1452 484.9h3M1458 484.9h3M1481.8 484.9h3M1511.7 484.9h3M1449 488.2h9M1532.6 488.2h9M1449 491.5h9M1460.9 491.5h9M1478.9 491.5h3M1490.8 491.5h3M1505.7 491.5h6M1571.5 491.5h3M1577.4 491.5h11.9M1616.3 491.5h3M1640.2 491.5h3M1466.9 494.8h6M1478.9 494.8h3M1487.8 494.8h9M1520.7 494.8h3M1535.6 494.8h6M1466.9 498.2h14.9M1493.8 498.2h3M1547.6 498.2h14.9M1571.5 498.2h6M1580.4 498.2h6M1619.2 498.2h3M1458 501.5h3M1463.9 501.5h3M1475.9 501.5h6M1520.7 501.5h3M1631.2 501.5h6M1469.9 504.8h3M1478.9 504.8h3M1493.8 504.8h14.9M1517.7 504.8h14.9M1469.9 508.1h3M1484.8 508.1h6M1529.6 508.1h3M1538.6 508.1h14.9M1568.5 508.1h9M1631.2 508.1h3M1637.2 508.1h3M1643.1 508.1h3M1404.2 511.4h3M1410.2 511.4h29.9M1443 511.4h6M1458 511.4h9M1469.9 511.4h6M1487.8 511.4h14.9M1505.7 511.4h9M1517.7 511.4h3M1529.6 511.4h3M1535.6 511.4h6M1544.6 511.4h6M1556.5 511.4h3M1610.3 511.4h38.8M1658.1 511.4h3M1664.1 511.4h11.9M1490.8 514.8h3M1502.8 514.8h3M1508.7 514.8h3M1529.6 514.8h14.9M1616.3 514.8h3M1622.2 514.8h6M1652.1 514.8h3M1463.9 518.1h3M1481.8 518.1h6M1535.6 518.1h11.9M1553.5 518.1h3M1568.5 518.1h23.9M1604.3 518.1h6M1616.3 518.1h3M1628.2 518.1h3M1640.2 518.1h11.9M1466.9 521.4h20.9M1511.7 521.4h9M1404.2 524.7h3M1455 524.7h3M1460.9 524.7h6M1598.3 524.7h3M1637.2 524.7h3M1437 528h6M1449 528h3M1458 528h3M1463.9 528h3M1502.8 528h3M1544.6 528h3M1550.5 528h3M1568.5 528h3M1574.4 528h3M1616.3 528h6M1625.2 528h3M1631.2 528h3M1640.2 528h9M1655.1 528h14.9M1673 528h3M1466.9 531.3h3M1472.9 531.3h3M1535.6 531.3h3M1541.6 531.3h3M1550.5 531.3h3M1449 534.7h11.9M1463.9 534.7h6M1481.8 534.7h11.9M1496.8 534.7h17.9M1517.7 534.7h17.9M1538.6 534.7h3M1547.6 534.7h3M1553.5 534.7h6M1562.5 534.7h6M1571.5 534.7h3M1577.4 534.7h3M1589.4 534.7h20.9M1613.3 534.7h11.9M1634.2 534.7h9M1655.1 534.7h6M1481.8 538h3M1511.7 538h3M1550.5 538h3M1622.2 538h3M1628.2 538h3M1640.2 538h6M1413.1 541.3h3M1419.1 541.3h3M1493.8 541.3h3M1508.7 541.3h3M1514.7 541.3h9M1535.6 541.3h6M1553.5 541.3h6M1562.5 541.3h14.9M1580.4 541.3h3M1586.4 541.3h11.9M1601.3 541.3h3M1610.3 541.3h3M1625.2 541.3h6M1634.2 541.3h11.9M1649.1 541.3h17.9M1673 541.3h3M1520.7 544.6h6M1604.3 544.6h3M1610.3 544.6h6M1655.1 544.6h11.9M1670 544.6h3M1416.1 547.9h11.9M1460.9 547.9h3M1490.8 547.9h3M1526.7 547.9h6M1535.6 547.9h3M1547.6 547.9h6M1562.5 547.9h3M1568.5 547.9h3M1577.4 547.9h11.9M1610.3 547.9h14.9M1628.2 547.9h3M1640.2 547.9h9M1661.1 547.9h11.9M1404.2 551.3h3M1410.2 551.3h11.9M1425.1 551.3h3M1431.1 551.3h3M1437 551.3h9M1458 551.3h3M1466.9 551.3h3M1472.9 551.3h23.9M1565.5 551.3h3M1571.5 551.3h3M1601.3 551.3h3M1404.2 554.6h3M1410.2 554.6h3M1431.1 554.6h20.9M1469.9 554.6h6M1481.8 554.6h6M1502.8 554.6h3M1404.2 557.9h3M1413.1 557.9h6M1422.1 557.9h3M1428.1 557.9h3M1440 557.9h9M1452 557.9h3M1458 557.9h9M1469.9 557.9h3M1478.9 557.9h6M1532.6 557.9h6M1556.5 557.9h3M1631.2 557.9h3M1670 557.9h6M1401.2 561.2h6M1410.2 561.2h3M1419.1 561.2h11.9M1437 561.2h3M1529.6 561.2h3M1538.6 561.2h3M1562.5 561.2h3M1583.4 561.2h3M1607.3 561.2h3M1613.3 561.2h3M1619.2 561.2h3M1640.2 561.2h9M1469.9 564.5h9M1481.8 564.5h3M1547.6 564.5h3M1583.4 564.5h3M1589.4 564.5h3M1517.7 567.9h3M1523.7 567.9h3M1649.1 567.9h3M1437 571.2h6M1458 571.2h3M1502.8 571.2h6M1553.5 571.2h6M1562.5 571.2h6M1589.4 571.2h6M1634.2 571.2h6M1670 571.2h6M1410.2 584.4h9M1458 584.4h6M1487.8 584.4h3M1514.7 584.4h3M1529.6 584.4h3M1577.4 584.4h3M1586.4 584.4h6M1595.4 584.4h3M1604.3 584.4h3M1655.1 584.4h6M1499.8 587.8h3M1541.6 587.8h3M1547.6 587.8h3M1553.5 587.8h9M1568.5 587.8h3M1574.4 587.8h3M1580.4 587.8h9M1601.3 587.8h3M1607.3 587.8h3M1613.3 587.8h3M1446 591.1h3M1484.8 591.1h3M1559.5 591.1h6M1568.5 591.1h3M1580.4 591.1h6M1592.4 591.1h3M1652.1 591.1h3M1658.1 591.1h3M1670 591.1h6M1431.1 594.4h3M1475.9 594.4h6M1484.8 594.4h9M1526.7 594.4h3M1532.6 594.4h3M1541.6 594.4h6M1580.4 594.4h3M1586.4 594.4h9M1598.3 594.4h3M1613.3 594.4h6M1673 594.4h3M1413.1 601h6M1466.9 604.4h6M1475.9 604.4h6M1547.6 604.4h9M1580.4 604.4h6M1619.2 604.4h3M1631.2 604.4h6M1640.2 604.4h3M1667 604.4h9M1565.5 607.7h3M1577.4 607.7h3M1437 611h6M1455 611h3M1520.7 611h3M1535.6 611h3M1544.6 611h3M1580.4 611h3M1586.4 611h3M1613.3 611h3M1622.2 611h6M1634.2 611h3M1404.2 614.3h3M1416.1 614.3h3M1434.1 614.3h9M1446 614.3h3M1455 614.3h11.9M1472.9 614.3h6M1487.8 614.3h3M1499.8 614.3h3M1520.7 614.3h3M1529.6 614.3h6M1538.6 614.3h6M1571.5 614.3h9M1583.4 614.3h9M1595.4 614.3h9M1616.3 614.3h6M1643.1 614.3h3M1658.1 614.3h3M1664.1 614.3h3M1401.2 617.6h11.9M1422.1 617.6h26.9M1455 617.6h6M1463.9 617.6h3M1469.9 617.6h11.9M1484.8 617.6h3M1502.8 617.6h3M1508.7 617.6h3M1517.7 617.6h3M1523.7 617.6h3M1529.6 617.6h14.9M1547.6 617.6h6M1559.5 617.6h3M1643.1 617.6h3M1664.1 617.6h3M1673 617.6h3"/>
<path stroke="#facab1" d="M1410.2 481.6h3M1496.8 481.6h6M1508.7 481.6h11.9M1523.7 481.6h3M1529.6 481.6h3M1550.5 481.6h3M1568.5 481.6h6M1583.4 481.6h3M1589.4 481.6h6M1601.3 481.6h11.9M1616.3 481.6h11.9M1631.2 481.6h20.9M1670 481.6h3M1434.1 484.9h6M1443 484.9h9M1458 488.2h32.9M1493.8 488.2h3M1499.8 488.2h32.9M1458 491.5h3M1469.9 491.5h3M1493.8 491.5h9M1511.7 491.5h3M1520.7 491.5h3M1526.7 491.5h14.9M1556.5 491.5h14.9M1574.4 491.5h3M1589.4 491.5h14.9M1613.3 491.5h3M1619.2 491.5h20.9M1643.1 491.5h3M1661.1 491.5h6M1670 491.5h6M1443 494.8h6M1472.9 494.8h6M1481.8 494.8h6M1511.7 494.8h6M1526.7 494.8h3M1532.6 494.8h3M1541.6 494.8h3M1443 498.2h11.9M1496.8 498.2h6M1508.7 498.2h3M1532.6 498.2h14.9M1562.5 498.2h9M1586.4 498.2h6M1595.4 498.2h11.9M1616.3 498.2h3M1622.2 498.2h6M1637.2 498.2h6M1646.1 498.2h9M1670 498.2h6M1472.9 504.8h3M1508.7 504.8h9M1401.2 508.1h3M1407.2 508.1h6M1466.9 508.1h3M1472.9 508.1h11.9M1553.5 508.1h3M1559.5 508.1h9M1577.4 508.1h17.9M1598.3 508.1h3M1628.2 508.1h3M1634.2 508.1h3M1640.2 508.1h3M1646.1 508.1h3M1652.1 508.1h3M1673 508.1h3M1440 511.4h3M1449 511.4h6M1475.9 511.4h11.9M1502.8 511.4h3M1532.6 511.4h3M1550.5 511.4h3M1649.1 511.4h9M1661.1 511.4h3M1428.1 514.8h3M1517.7 514.8h11.9M1544.6 514.8h6M1556.5 514.8h9M1568.5 514.8h3M1598.3 514.8h3M1610.3 514.8h3M1631.2 514.8h9M1643.1 514.8h9M1655.1 514.8h9M1667 514.8h3M1458 518.1h6M1466.9 518.1h11.9M1529.6 518.1h6M1556.5 518.1h3M1562.5 518.1h6M1592.4 518.1h6M1601.3 518.1h3M1631.2 518.1h9M1655.1 518.1h9M1667 518.1h9M1487.8 521.4h9M1508.7 521.4h3M1607.3 521.4h3M1460.9 528h3M1499.8 528h3M1637.2 528h3M1425.1 531.3h3M1538.6 531.3h3M1493.8 534.7h3M1514.7 534.7h3M1535.6 534.7h3M1568.5 534.7h3M1574.4 534.7h3M1643.1 534.7h11.9M1496.8 541.3h11.9M1523.7 541.3h11.9M1577.4 541.3h3M1583.4 541.3h3M1598.3 541.3h3M1607.3 541.3h3M1619.2 541.3h6M1646.1 541.3h3M1670 541.3h3M1475.9 544.6h3M1493.8 544.6h3M1517.7 544.6h3M1526.7 544.6h3M1565.5 544.6h3M1571.5 544.6h9M1595.4 544.6h3M1601.3 544.6h3M1652.1 544.6h3M1673 544.6h3M1428.1 547.9h3M1458 547.9h3M1463.9 547.9h3M1469.9 547.9h3M1487.8 547.9h3M1511.7 547.9h9M1523.7 547.9h3M1532.6 547.9h3M1538.6 547.9h9M1553.5 547.9h9M1565.5 547.9h3M1571.5 547.9h6M1625.2 547.9h3M1631.2 547.9h9M1649.1 547.9h11.9M1673 547.9h3M1401.2 551.3h3M1407.2 551.3h3M1422.1 551.3h3M1428.1 551.3h3M1434.1 551.3h3M1446 551.3h11.9M1460.9 551.3h6M1469.9 551.3h3M1401.2 554.6h3M1407.2 554.6h3M1428.1 554.6h3M1475.9 554.6h6M1410.2 557.9h3M1434.1 557.9h6M1449 557.9h3M1455 557.9h3M1472.9 557.9h6M1535.6 561.2h3M1559.5 571.2h3M1568.5 571.2h14.9M1586.4 571.2h3M1425.1 584.4h9M1463.9 584.4h3M1469.9 584.4h3M1481.8 584.4h6M1550.5 587.8h3M1422.1 591.1h3M1431.1 591.1h3M1443 591.1h3M1449 591.1h9M1469.9 591.1h9M1523.7 591.1h17.9M1544.6 591.1h9M1556.5 591.1h3M1565.5 591.1h3M1571.5 591.1h6M1401.2 594.4h9M1416.1 594.4h6M1428.1 594.4h3M1434.1 594.4h6M1446 594.4h9M1466.9 594.4h3M1472.9 594.4h3M1481.8 594.4h3M1523.7 594.4h3M1529.6 594.4h3M1535.6 594.4h3M1547.6 594.4h6M1568.5 594.4h9M1529.6 604.4h6M1538.6 604.4h3M1556.5 604.4h9M1568.5 604.4h6M1586.4 604.4h9M1616.3 604.4h3M1622.2 604.4h9M1637.2 604.4h3M1643.1 604.4h6M1655.1 604.4h11.9M1422.1 611h3M1419.1 614.3h14.9M1469.9 614.3h3M1526.7 614.3h3M1535.6 614.3h3M1544.6 614.3h11.9M1559.5 614.3h6M1568.5 614.3h3M1607.3 614.3h9M1622.2 614.3h20.9M1646.1 614.3h11.9M1661.1 614.3h3M1667 614.3h6M1413.1 617.6h9M1460.9 617.6h3M1466.9 617.6h3M1481.8 617.6h3M1487.8 617.6h3M1526.7 617.6h3M1544.6 617.6h3M1553.5 617.6h6M1562.5 617.6h11.9M1577.4 617.6h11.9M1592.4 617.6h17.9M1613.3 617.6h9M1625.2 617.6h3M1631.2 617.6h11.9M1646.1 617.6h17.9M1667 617.6h6"/>
<path stroke="#f5ae8d" d="M1502.8 481.6h6M1520.7 481.6h3M1526.7 481.6h3M1532.6 481.6h17.9M1553.5 481.6h14.9M1574.4 481.6h3M1586.4 481.6h3M1613.3 481.6h3M1628.2 481.6h3M1652.1 481.6h17.9M1673 481.6h3M1410.2 484.9h9M1431.1 484.9h3M1440 484.9h3M1496.8 488.2h3M1514.7 491.5h6M1523.7 491.5h3M1541.6 491.5h14.9M1604.3 491.5h9M1649.1 491.5h3M1667 491.5h3M1449 494.8h3M1463.9 494.8h3M1496.8 494.8h3M1505.7 494.8h6M1517.7 494.8h3M1523.7 494.8h3M1529.6 494.8h3M1410.2 498.2h3M1416.1 498.2h3M1422.1 498.2h6M1431.1 498.2h11.9M1458 498.2h6M1502.8 498.2h6M1517.7 498.2h3M1529.6 498.2h3M1592.4 498.2h3M1607.3 498.2h6M1628.2 498.2h9M1643.1 498.2h3M1655.1 498.2h14.9M1422.1 501.5h3M1532.6 504.8h3M1404.2 508.1h3M1556.5 508.1h3M1595.4 508.1h3M1601.3 508.1h26.9M1649.1 508.1h3M1655.1 508.1h17.9M1455 511.4h3M1425.1 514.8h3M1437 514.8h14.9M1458 514.8h3M1463.9 514.8h14.9M1484.8 514.8h6M1550.5 514.8h6M1565.5 514.8h3M1571.5 514.8h11.9M1589.4 514.8h9M1601.3 514.8h9M1613.3 514.8h3M1628.2 514.8h3M1640.2 514.8h3M1664.1 514.8h3M1670 514.8h6M1478.9 518.1h3M1517.7 518.1h11.9M1559.5 518.1h3M1598.3 518.1h3M1664.1 518.1h3M1407.2 521.4h9M1496.8 521.4h11.9M1601.3 521.4h6M1610.3 521.4h6M1619.2 521.4h3M1401.2 531.3h23.9M1428.1 531.3h9M1458 531.3h3M1449 538h9M1646.1 538h3M1658.1 538h11.9M1511.7 541.3h3M1604.3 541.3h3M1401.2 544.6h6M1425.1 544.6h3M1472.9 544.6h3M1478.9 544.6h3M1568.5 544.6h3M1580.4 544.6h9M1592.4 544.6h3M1598.3 544.6h3M1401.2 547.9h3M1407.2 547.9h9M1455 547.9h3M1466.9 547.9h3M1472.9 547.9h6M1484.8 547.9h3M1520.7 547.9h3M1583.4 571.2h3M1401.2 584.4h9M1434.1 584.4h14.9M1452 584.4h6M1466.9 584.4h3M1472.9 584.4h9M1410.2 591.1h11.9M1425.1 591.1h6M1434.1 591.1h3M1440 591.1h3M1458 591.1h3M1466.9 591.1h3M1478.9 591.1h6M1553.5 591.1h3M1410.2 594.4h6M1422.1 594.4h6M1440 594.4h6M1455 594.4h11.9M1469.9 594.4h3M1553.5 594.4h14.9M1443 604.4h9M1455 604.4h3M1535.6 604.4h3M1541.6 604.4h6M1565.5 604.4h3M1574.4 604.4h6M1649.1 604.4h6M1401.2 611h3M1416.1 611h6M1425.1 611h11.9M1401.2 614.3h3M1523.7 614.3h3M1556.5 614.3h3M1565.5 614.3h3M1673 614.3h3M1574.4 617.6h3M1589.4 617.6h3M1610.3 617.6h3M1622.2 617.6h3M1628.2 617.6h3"/>
<path stroke="#e98c6e" d="M1401.2 484.9h9M1419.1 484.9h6M1428.1 484.9h3M1416.1 491.5h3M1422.1 491.5h3M1646.1 491.5h3M1652.1 491.5h9M1452 494.8h11.9M1499.8 494.8h6M1401.2 498.2h9M1413.1 498.2h3M1419.1 498.2h3M1428.1 498.2h3M1455 498.2h3M1463.9 498.2h3M1511.7 498.2h6M1520.7 498.2h3M1526.7 498.2h3M1613.3 498.2h3M1419.1 501.5h3M1425.1 501.5h9M1437 501.5h6M1449 501.5h9M1455 504.8h3M1401.2 514.8h3M1416.1 514.8h9M1431.1 514.8h6M1452 514.8h6M1460.9 514.8h3M1478.9 514.8h6M1583.4 514.8h6M1511.7 518.1h6M1416.1 521.4h3M1595.4 521.4h6M1616.3 521.4h3M1622.2 521.4h6M1419.1 528h6M1428.1 528h3M1437 531.3h6M1446 531.3h3M1455 531.3h3M1460.9 531.3h6M1410.2 538h9M1443 538h6M1458 538h3M1472.9 538h3M1649.1 538h3M1655.1 538h3M1670 538h6M1407.2 544.6h9M1419.1 544.6h6M1431.1 544.6h3M1440 544.6h3M1446 544.6h9M1466.9 544.6h6M1589.4 544.6h3M1404.2 547.9h3M1478.9 547.9h6M1419.1 564.5h6M1431.1 564.5h3M1460.9 564.5h3M1496.8 577.8h6M1419.1 584.4h6M1449 584.4h3M1658.1 587.8h6M1667 587.8h3M1401.2 591.1h9M1437 591.1h3M1460.9 591.1h6M1452 604.4h3M1458 604.4h9M1404.2 611h11.9"/>
<path stroke="#d96753" d="M1425.1 484.9h3M1410.2 488.2h6M1434.1 488.2h3M1413.1 491.5h3M1419.1 491.5h3M1425.1 491.5h6M1434.1 491.5h6M1601.3 494.8h3M1523.7 498.2h3M1401.2 501.5h3M1410.2 501.5h6M1434.1 501.5h3M1443 501.5h6M1401.2 504.8h6M1410.2 504.8h3M1425.1 504.8h3M1434.1 504.8h3M1443 504.8h11.9M1458 504.8h3M1562.5 504.8h9M1670 504.8h3M1404.2 514.8h11.9M1401.2 521.4h6M1419.1 521.4h6M1431.1 521.4h9M1443 521.4h3M1452 521.4h3M1529.6 521.4h3M1425.1 528h3M1431.1 528h3M1443 531.3h3M1449 531.3h6M1401.2 534.7h11.9M1443 534.7h6M1401.2 538h9M1419.1 538h3M1425.1 538h17.9M1460.9 538h3M1466.9 538h6M1475.9 538h6M1652.1 538h3M1416.1 544.6h3M1428.1 544.6h3M1434.1 544.6h6M1443 544.6h3M1455 544.6h3M1463.9 544.6h3M1401.2 564.5h6M1413.1 564.5h6M1425.1 564.5h6M1434.1 564.5h9M1463.9 564.5h6M1667 577.8h6M1655.1 587.8h3M1664.1 587.8h3M1670 587.8h6"/>
<path stroke="#c7423f" d="M1404.2 488.2h6M1416.1 488.2h3M1613.3 488.2h3M1643.1 488.2h3M1667 488.2h3M1404.2 491.5h9M1431.1 491.5h3M1440 491.5h9M1598.3 494.8h3M1604.3 494.8h3M1404.2 501.5h6M1416.1 501.5h3M1407.2 504.8h3M1413.1 504.8h3M1419.1 504.8h3M1431.1 504.8h3M1440 504.8h3M1460.9 504.8h6M1559.5 504.8h3M1622.2 504.8h6M1661.1 504.8h3M1673 504.8h3M1619.2 518.1h6M1425.1 521.4h6M1440 521.4h3M1446 521.4h6M1455 521.4h11.9M1526.7 521.4h3M1532.6 521.4h6M1553.5 521.4h11.9M1667 521.4h3M1404.2 528h3M1410.2 528h3M1416.1 528h3M1434.1 528h3M1440 534.7h3M1664.1 534.7h6M1422.1 538h3M1463.9 538h3M1458 544.6h6M1601.3 547.9h3M1607.3 547.9h3M1407.2 564.5h6M1449 564.5h11.9M1658.1 577.8h9M1673 577.8h3M1619.2 587.8h3M1634.2 587.8h3M1652.1 587.8h3"/>
<path stroke="#b41c2d" d="M1419.1 488.2h14.9M1437 488.2h6M1446 488.2h3M1541.6 488.2h6M1550.5 488.2h11.9M1595.4 488.2h3M1616.3 488.2h26.9M1658.1 488.2h9M1401.2 491.5h3M1401.2 494.8h3M1437 494.8h6M1583.4 494.8h3M1589.4 494.8h9M1607.3 494.8h3M1613.3 494.8h3M1416.1 504.8h3M1422.1 504.8h3M1428.1 504.8h3M1437 504.8h3M1466.9 504.8h3M1556.5 504.8h3M1571.5 504.8h3M1595.4 504.8h3M1604.3 504.8h6M1619.2 504.8h3M1664.1 504.8h6M1434.1 508.1h9M1625.2 518.1h3M1520.7 521.4h6M1583.4 521.4h6M1664.1 521.4h3M1670 521.4h6M1401.2 528h3M1407.2 528h3M1413.1 528h3M1413.1 534.7h9M1437 534.7h3M1670 534.7h6M1535.6 544.6h3M1544.6 544.6h9M1619.2 544.6h3M1625.2 544.6h3M1646.1 544.6h6M1589.4 547.9h11.9M1604.3 547.9h3M1446 564.5h3M1652.1 577.8h6M1616.3 587.8h3M1622.2 587.8h11.9M1637.2 587.8h6M1646.1 587.8h6M1440 604.4h3M1598.3 604.4h11.9M1613.3 604.4h3"/>
<path stroke="#8e0d25" d="M1401.2 488.2h3M1443 488.2h3M1547.6 488.2h3M1562.5 488.2h6M1574.4 488.2h20.9M1598.3 488.2h14.9M1646.1 488.2h11.9M1670 488.2h6M1404.2 494.8h9M1431.1 494.8h6M1544.6 494.8h11.9M1574.4 494.8h6M1586.4 494.8h3M1610.3 494.8h3M1616.3 494.8h3M1631.2 494.8h14.9M1553.5 504.8h3M1574.4 504.8h3M1598.3 504.8h6M1610.3 504.8h9M1628.2 504.8h3M1649.1 504.8h3M1658.1 504.8h3M1428.1 508.1h6M1443 508.1h6M1428.1 518.1h3M1437 518.1h3M1550.5 521.4h3M1580.4 521.4h3M1589.4 521.4h6M1628.2 521.4h6M1637.2 521.4h3M1643.1 521.4h20.9M1422.1 534.7h6M1431.1 534.7h6M1529.6 544.6h6M1538.6 544.6h6M1616.3 544.6h3M1622.2 544.6h3M1628.2 544.6h17.9M1431.1 547.9h3M1443 564.5h3M1643.1 587.8h3M1419.1 604.4h9M1595.4 604.4h3M1610.3 604.4h3"/>
<path stroke="#67001f" d="M1568.5 488.2h6M1413.1 494.8h17.9M1556.5 494.8h17.9M1580.4 494.8h3M1619.2 494.8h11.9M1646.1 494.8h29.9M1535.6 504.8h17.9M1577.4 504.8h17.9M1631.2 504.8h17.9M1652.1 504.8h6M1413.1 508.1h14.9M1449 508.1h17.9M1401.2 518.1h26.9M1431.1 518.1h6M1440 518.1h17.9M1538.6 521.4h11.9M1565.5 521.4h14.9M1634.2 521.4h3M1640.2 521.4h3M1428.1 534.7h3M1553.5 544.6h11.9M1434.1 547.9h20.9M1401.2 604.4h17.9M1428.1 604.4h11.9"/>
</g>
<path d="M1409.5 486.5l.9 3.4 0 0 3.1 3.3 0 0 6.1 3.3 0 0 4.5 3.3 0 0 4.2 3.3 0 0 4.1 3.4 0 0 2.9 3.3 0 0 2.1 3.3 0 0 2.1 3.3 0 0 2.2 3.3 0 0 1.8 3.3 0 0 1.9 3.4 0 0 1.9 3.3 0 0 1.8 3.3 0 0 1.9 3.3 0 0 2 3.3 0 0 1.9 3.4 0 0 1.8 3.3 0 0 1.7 3.3 0 0 1.7 3.3 0 0 1.6 3.3 0 0 1.7 3.4 0 0 1.6 3.3 0 0 1.3 3.3 0 0 1.3 3.3 0 0 1.3 3.3 0 0 1.4 3.4 0 0 1.3 3.3 0 0 1.2 3.3 0 0 1.3 3.3 0 0 1.2 3.3 0 0 1.3 3.3 0 0 1 3.4 0 0 1 3.3 0 0 1 3.3 0 0 .9 3.3 0 0 1 3.3 0 0 1 3.4 0 0 .9 3.3 0 0" stroke="#111" stroke-width="1" fill="none" stroke-linejoin="round"/>
<g stroke-width="2.4">
<path stroke="#053061" d="M1496.8 680.6h6M1517.7 680.6h14.9M1544.6 680.6h17.9M1583.4 680.6h20.9M1625.2 680.6h9M1637.2 680.6h3M1649.1 680.6h3M1661.1 680.6h14.9M1556.5 722.7h9M1499.8 735.9h26.9M1535.6 735.9h3M1556.5 735.9h11.9M1583.4 735.9h6M1613.3 735.9h9M1583.4 751.4h9"/>
<path stroke="#144c88" d="M1502.8 680.6h14.9M1532.6 680.6h3M1562.5 680.6h3M1577.4 680.6h6M1622.2 680.6h3M1634.2 680.6h3M1640.2 680.6h3M1646.1 680.6h3M1652.1 680.6h9M1419.1 722.7h3M1446 722.7h11.9M1553.5 722.7h3M1565.5 722.7h3M1526.7 735.9h6M1538.6 735.9h11.9M1553.5 735.9h3M1568.5 735.9h6M1577.4 735.9h6M1589.4 735.9h6M1607.3 735.9h6M1538.6 751.4h6M1550.5 751.4h3M1580.4 751.4h3M1592.4 751.4h3"/>
<path stroke="#2368ad" d="M1535.6 680.6h9M1565.5 680.6h11.9M1604.3 680.6h3M1613.3 680.6h9M1643.1 680.6h3M1413.1 722.7h6M1422.1 722.7h3M1434.1 722.7h3M1443 722.7h3M1550.5 722.7h3M1568.5 722.7h3M1586.4 722.7h3M1463.9 729.3h11.9M1532.6 735.9h3M1550.5 735.9h3M1574.4 735.9h3M1595.4 735.9h3M1601.3 735.9h6M1532.6 751.4h6M1544.6 751.4h6M1553.5 751.4h3M1559.5 751.4h6M1571.5 751.4h3M1577.4 751.4h3"/>
<path stroke="#3580b9" d="M1404.2 680.6h11.9M1493.8 680.6h3M1607.3 680.6h6M1401.2 722.7h11.9M1425.1 722.7h3M1431.1 722.7h3M1440 722.7h3M1547.6 722.7h3M1571.5 722.7h3M1580.4 722.7h6M1449 729.3h14.9M1598.3 735.9h3M1526.7 751.4h6M1556.5 751.4h3M1565.5 751.4h6M1574.4 751.4h3M1601.3 760.2h6M1622.2 760.2h3M1658.1 760.2h3"/>
<path stroke="#4b98c6" d="M1511.7 636.4h3M1514.7 665.2h3M1520.7 665.2h6M1664.1 665.2h3M1673 665.2h3M1416.1 680.6h6M1505.7 687.3h11.9M1428.1 722.7h3M1437 722.7h3M1499.8 722.7h3M1508.7 722.7h3M1514.7 722.7h6M1529.6 722.7h6M1574.4 722.7h6M1499.8 727.1h3M1517.7 727.1h3M1523.7 727.1h3M1401.2 749.2h3M1422.1 749.2h9M1517.7 751.4h3M1523.7 751.4h3M1589.4 760.2h11.9M1610.3 760.2h3M1616.3 760.2h6M1625.2 760.2h6M1661.1 760.2h6"/>
<path stroke="#75b3d4" d="M1529.6 634.2h6M1517.7 636.4h3M1538.6 636.4h3M1508.7 665.2h6M1517.7 665.2h3M1529.6 665.2h3M1658.1 665.2h3M1667 665.2h6M1505.7 678.4h6M1422.1 680.6h3M1508.7 682.9h3M1517.7 682.9h6M1562.5 685.1h3M1517.7 687.3h3M1502.8 722.7h6M1511.7 722.7h3M1520.7 722.7h9M1502.8 727.1h14.9M1520.7 727.1h3M1526.7 727.1h3M1404.2 749.2h17.9M1520.7 751.4h3M1401.2 753.6h3M1407.2 753.6h3M1553.5 760.2h3M1559.5 760.2h3M1565.5 760.2h9M1586.4 760.2h3M1607.3 760.2h3M1613.3 760.2h3M1631.2 760.2h20.9M1655.1 760.2h3M1667 760.2h6"/>
<path stroke="#9ccae1" d="M1511.7 634.2h17.9M1514.7 636.4h3M1520.7 636.4h9M1532.6 636.4h6M1499.8 665.2h9M1526.7 665.2h3M1532.6 665.2h3M1559.5 665.2h3M1592.4 665.2h3M1613.3 665.2h6M1622.2 665.2h3M1655.1 665.2h3M1499.8 669.6h6M1499.8 678.4h6M1499.8 682.9h9M1511.7 682.9h6M1526.7 685.1h3M1544.6 685.1h3M1553.5 685.1h9M1565.5 685.1h3M1520.7 687.3h14.9M1661.1 689.5h6M1532.6 693.9h3M1419.1 696.1h17.9M1440 705h6M1463.9 722.7h3M1469.9 722.7h3M1499.8 729.3h3M1511.7 729.3h3M1425.1 740.4h9M1437 740.4h6M1449 740.4h3M1434.1 749.2h6M1458 749.2h9M1475.9 749.2h9M1598.3 751.4h3M1661.1 751.4h3M1404.2 753.6h3M1410.2 753.6h6M1419.1 753.6h3M1517.7 760.2h6M1526.7 760.2h6M1556.5 760.2h3M1562.5 760.2h3M1577.4 760.2h9M1652.1 760.2h3"/>
<path stroke="#bddbea" d="M1484.8 636.4h3M1529.6 636.4h3M1505.7 640.9h3M1541.6 665.2h3M1547.6 665.2h6M1556.5 665.2h3M1562.5 665.2h14.9M1580.4 665.2h11.9M1595.4 665.2h17.9M1619.2 665.2h3M1625.2 665.2h6M1646.1 665.2h9M1661.1 665.2h3M1499.8 667.4h6M1496.8 669.6h3M1505.7 669.6h11.9M1502.8 674h3M1508.7 674h14.9M1523.7 685.1h3M1529.6 685.1h9M1541.6 685.1h3M1574.4 685.1h3M1628.2 689.5h6M1637.2 689.5h14.9M1655.1 689.5h3M1667 689.5h9M1499.8 691.7h9M1511.7 691.7h6M1520.7 691.7h3M1401.2 693.9h14.9M1455 693.9h3M1529.6 693.9h3M1544.6 693.9h3M1437 696.1h6M1404.2 705h3M1437 705h3M1446 705h6M1499.8 705h3M1526.7 705h3M1592.4 705h3M1601.3 705h3M1607.3 705h9M1652.1 705h3M1544.6 707.2h3M1550.5 707.2h6M1562.5 707.2h3M1502.8 711.6h3M1401.2 713.8h6M1416.1 713.8h3M1431.1 713.8h3M1452 713.8h3M1458 713.8h3M1463.9 713.8h6M1472.9 713.8h3M1532.6 713.8h6M1458 722.7h6M1466.9 722.7h3M1472.9 722.7h3M1538.6 722.7h3M1589.4 722.7h3M1616.3 722.7h3M1625.2 722.7h3M1655.1 722.7h9M1493.8 729.3h6M1502.8 729.3h9M1514.7 729.3h9M1613.3 731.5h20.9M1637.2 731.5h3M1649.1 731.5h3M1434.1 740.4h3M1443 740.4h6M1452 740.4h3M1431.1 749.2h3M1440 749.2h3M1452 749.2h6M1466.9 749.2h6M1640.2 749.2h11.9M1664.1 749.2h11.9M1505.7 751.4h3M1514.7 751.4h3M1595.4 751.4h3M1601.3 751.4h11.9M1619.2 751.4h9M1631.2 751.4h3M1643.1 751.4h9M1655.1 751.4h3M1664.1 751.4h11.9M1416.1 753.6h3M1422.1 753.6h3M1598.3 758h3M1616.3 758h3M1628.2 758h6M1640.2 758h6M1670 758h3M1511.7 760.2h6M1523.7 760.2h3M1532.6 760.2h6M1544.6 760.2h3M1550.5 760.2h3M1574.4 760.2h3M1673 760.2h3"/>
<path stroke="#d9e9f1" d="M1487.8 636.4h3M1550.5 636.4h3M1574.4 636.4h3M1583.4 636.4h3M1499.8 643.1h3M1511.7 645.3h3M1520.7 645.3h3M1496.8 647.5h17.9M1517.7 647.5h6M1637.2 647.5h3M1499.8 649.7h3M1538.6 651.9h3M1505.7 656.3h3M1511.7 656.3h3M1577.4 656.3h3M1520.7 658.5h3M1649.1 658.5h3M1667 658.5h3M1496.8 665.2h3M1535.6 665.2h6M1544.6 665.2h3M1553.5 665.2h3M1577.4 665.2h3M1631.2 665.2h6M1640.2 665.2h6M1505.7 667.4h11.9M1493.8 669.6h3M1550.5 671.8h3M1556.5 671.8h3M1634.2 671.8h3M1658.1 671.8h3M1664.1 671.8h3M1499.8 674h3M1505.7 674h3M1523.7 674h9M1553.5 674h3M1559.5 674h3M1583.4 674h11.9M1601.3 674h3M1556.5 678.4h3M1604.3 678.4h11.9M1619.2 678.4h3M1463.9 682.9h3M1469.9 682.9h3M1505.7 685.1h17.9M1538.6 685.1h3M1550.5 685.1h3M1568.5 685.1h6M1484.8 687.3h11.9M1625.2 689.5h3M1634.2 689.5h3M1652.1 689.5h3M1658.1 689.5h3M1508.7 691.7h3M1517.7 691.7h3M1613.3 691.7h3M1643.1 691.7h3M1664.1 691.7h6M1416.1 693.9h9M1446 693.9h9M1458 693.9h6M1487.8 693.9h3M1523.7 693.9h6M1535.6 693.9h6M1550.5 693.9h3M1598.3 693.9h3M1493.8 696.1h6M1664.1 696.1h3M1505.7 698.3h3M1514.7 698.3h3M1499.8 700.5h3M1484.8 702.8h3M1508.7 702.8h3M1559.5 702.8h3M1568.5 702.8h3M1401.2 705h3M1407.2 705h3M1413.1 705h3M1434.1 705h3M1452 705h9M1481.8 705h9M1493.8 705h3M1502.8 705h9M1514.7 705h6M1547.6 705h20.9M1571.5 705h3M1577.4 705h14.9M1595.4 705h6M1604.3 705h3M1616.3 705h9M1631.2 705h3M1640.2 705h3M1649.1 705h3M1655.1 705h6M1664.1 705h3M1673 705h3M1487.8 707.2h3M1505.7 707.2h14.9M1523.7 707.2h3M1529.6 707.2h14.9M1547.6 707.2h3M1556.5 707.2h6M1496.8 709.4h3M1505.7 709.4h3M1595.4 709.4h3M1496.8 711.6h6M1505.7 711.6h9M1517.7 711.6h3M1523.7 711.6h3M1568.5 711.6h6M1619.2 711.6h3M1407.2 713.8h9M1419.1 713.8h11.9M1434.1 713.8h6M1443 713.8h3M1449 713.8h3M1460.9 713.8h3M1469.9 713.8h3M1475.9 713.8h3M1487.8 713.8h6M1499.8 713.8h6M1517.7 713.8h3M1523.7 713.8h6M1538.6 713.8h11.9M1553.5 713.8h3M1565.5 713.8h9M1547.6 716h6M1490.8 718.2h3M1652.1 720.5h3M1535.6 722.7h3M1541.6 722.7h3M1592.4 722.7h3M1601.3 722.7h14.9M1619.2 722.7h6M1631.2 722.7h14.9M1652.1 722.7h3M1664.1 722.7h6M1673 722.7h3M1649.1 724.9h3M1658.1 727.1h17.9M1550.5 729.3h6M1568.5 729.3h3M1595.4 729.3h6M1604.3 729.3h6M1634.2 729.3h9M1646.1 729.3h3M1610.3 731.5h3M1634.2 731.5h3M1643.1 731.5h6M1628.2 735.9h3M1499.8 738.1h3M1619.2 747h3M1443 749.2h9M1472.9 749.2h3M1484.8 749.2h3M1559.5 749.2h3M1589.4 749.2h3M1652.1 749.2h11.9M1496.8 751.4h3M1502.8 751.4h3M1508.7 751.4h3M1613.3 751.4h6M1628.2 751.4h3M1634.2 751.4h9M1652.1 751.4h3M1658.1 751.4h3M1523.7 753.6h3M1535.6 753.6h3M1625.2 753.6h11.9M1493.8 755.8h3M1499.8 755.8h3M1514.7 755.8h3M1550.5 755.8h3M1631.2 755.8h9M1643.1 755.8h3M1652.1 755.8h3M1452 758h3M1502.8 758h17.9M1538.6 758h9M1550.5 758h3M1565.5 758h3M1595.4 758h3M1601.3 758h14.9M1619.2 758h3M1634.2 758h6M1646.1 758h11.9M1661.1 758h9M1673 758h3M1496.8 760.2h14.9M1538.6 760.2h6M1547.6 760.2h3M1562.5 762.5h6M1496.8 764.7h6M1505.7 764.7h3M1574.4 764.7h3M1628.2 764.7h3M1673 764.7h3"/>
<path stroke="#edf2f5" d="M1490.8 636.4h3M1502.8 636.4h6M1541.6 636.4h9M1553.5 636.4h9M1568.5 636.4h3M1577.4 636.4h6M1586.4 636.4h6M1595.4 636.4h3M1604.3 636.4h6M1613.3 636.4h3M1631.2 636.4h3M1655.1 636.4h9M1670 636.4h6M1493.8 638.6h3M1511.7 638.6h3M1532.6 638.6h20.9M1577.4 638.6h3M1583.4 638.6h14.9M1604.3 638.6h3M1502.8 640.9h3M1508.7 640.9h9M1613.3 640.9h14.9M1631.2 640.9h3M1655.1 640.9h9M1493.8 643.1h6M1511.7 643.1h6M1523.7 643.1h3M1538.6 643.1h14.9M1571.5 643.1h3M1493.8 645.3h3M1502.8 645.3h3M1508.7 645.3h3M1517.7 645.3h3M1493.8 647.5h3M1514.7 647.5h3M1529.6 647.5h9M1541.6 647.5h3M1553.5 647.5h17.9M1577.4 647.5h3M1598.3 647.5h3M1616.3 647.5h20.9M1640.2 647.5h6M1490.8 649.7h6M1502.8 649.7h3M1553.5 649.7h3M1565.5 649.7h3M1508.7 651.9h3M1520.7 651.9h3M1529.6 651.9h9M1541.6 651.9h3M1592.4 651.9h6M1622.2 651.9h3M1493.8 654.1h3M1562.5 654.1h3M1574.4 654.1h17.9M1634.2 654.1h6M1463.9 656.3h3M1499.8 656.3h6M1508.7 656.3h3M1514.7 656.3h6M1535.6 656.3h3M1541.6 656.3h3M1547.6 656.3h6M1556.5 656.3h3M1562.5 656.3h11.9M1580.4 656.3h6M1589.4 656.3h6M1598.3 656.3h6M1625.2 656.3h11.9M1652.1 656.3h3M1658.1 656.3h9M1673 656.3h3M1487.8 658.5h3M1517.7 658.5h3M1523.7 658.5h3M1541.6 658.5h6M1559.5 658.5h3M1589.4 658.5h3M1616.3 658.5h3M1625.2 658.5h3M1646.1 658.5h3M1652.1 658.5h3M1661.1 658.5h3M1670 658.5h6M1502.8 660.8h3M1547.6 660.8h3M1493.8 665.2h3M1637.2 665.2h3M1443 667.4h6M1490.8 667.4h3M1532.6 667.4h3M1556.5 667.4h6M1565.5 667.4h6M1604.3 667.4h3M1643.1 667.4h6M1449 669.6h6M1526.7 669.6h14.9M1544.6 669.6h3M1640.2 669.6h6M1649.1 669.6h9M1661.1 669.6h11.9M1401.2 671.8h3M1460.9 671.8h3M1475.9 671.8h3M1481.8 671.8h3M1487.8 671.8h3M1496.8 671.8h3M1517.7 671.8h3M1523.7 671.8h3M1553.5 671.8h3M1559.5 671.8h23.9M1592.4 671.8h6M1601.3 671.8h3M1607.3 671.8h3M1619.2 671.8h6M1628.2 671.8h6M1637.2 671.8h9M1649.1 671.8h9M1661.1 671.8h3M1667 671.8h9M1496.8 674h3M1532.6 674h3M1544.6 674h9M1562.5 674h9M1574.4 674h9M1595.4 674h6M1604.3 674h3M1610.3 674h3M1622.2 674h9M1637.2 674h6M1658.1 674h6M1667 674h9M1443 676.2h9M1410.2 678.4h3M1434.1 678.4h3M1458 678.4h3M1511.7 678.4h9M1553.5 678.4h3M1559.5 678.4h3M1568.5 678.4h14.9M1586.4 678.4h3M1592.4 678.4h11.9M1616.3 678.4h3M1622.2 678.4h3M1628.2 678.4h3M1640.2 678.4h3M1649.1 678.4h3M1655.1 678.4h3M1661.1 678.4h3M1484.8 680.6h9M1466.9 682.9h3M1472.9 682.9h9M1484.8 682.9h3M1490.8 682.9h3M1574.4 682.9h9M1493.8 685.1h9M1547.6 685.1h3M1580.4 685.1h3M1592.4 685.1h3M1601.3 685.1h3M1625.2 685.1h3M1655.1 685.1h3M1661.1 685.1h3M1670 685.1h3M1401.2 687.3h3M1410.2 687.3h3M1455 687.3h3M1460.9 687.3h9M1496.8 687.3h9M1538.6 687.3h11.9M1559.5 687.3h6M1568.5 687.3h3M1574.4 687.3h6M1496.8 689.5h9M1514.7 689.5h3M1520.7 689.5h3M1526.7 689.5h3M1532.6 689.5h9M1544.6 689.5h6M1571.5 689.5h3M1580.4 689.5h9M1601.3 689.5h3M1607.3 689.5h17.9M1446 691.7h3M1490.8 691.7h9M1523.7 691.7h3M1529.6 691.7h3M1538.6 691.7h6M1547.6 691.7h6M1556.5 691.7h6M1601.3 691.7h11.9M1616.3 691.7h3M1640.2 691.7h3M1649.1 691.7h14.9M1425.1 693.9h3M1431.1 693.9h3M1437 693.9h3M1443 693.9h3M1484.8 693.9h3M1490.8 693.9h11.9M1511.7 693.9h3M1517.7 693.9h6M1541.6 693.9h3M1547.6 693.9h3M1568.5 693.9h6M1577.4 693.9h6M1586.4 693.9h11.9M1604.3 693.9h3M1613.3 693.9h3M1619.2 693.9h3M1625.2 693.9h3M1643.1 693.9h3M1661.1 693.9h9M1466.9 696.1h11.9M1490.8 696.1h3M1499.8 696.1h3M1505.7 696.1h6M1550.5 696.1h3M1556.5 696.1h3M1562.5 696.1h3M1577.4 696.1h3M1625.2 696.1h6M1637.2 696.1h9M1670 696.1h6M1496.8 698.3h9M1508.7 698.3h3M1520.7 698.3h3M1538.6 698.3h3M1547.6 698.3h3M1556.5 698.3h3M1562.5 698.3h3M1571.5 698.3h3M1577.4 698.3h6M1613.3 698.3h6M1658.1 698.3h11.9M1460.9 700.5h3M1472.9 700.5h3M1493.8 700.5h6M1502.8 700.5h3M1523.7 700.5h3M1544.6 700.5h6M1553.5 700.5h3M1568.5 700.5h3M1586.4 700.5h3M1622.2 700.5h6M1631.2 700.5h3M1637.2 700.5h3M1643.1 700.5h3M1658.1 700.5h6M1401.2 702.8h3M1410.2 702.8h20.9M1455 702.8h3M1463.9 702.8h3M1487.8 702.8h3M1493.8 702.8h14.9M1511.7 702.8h9M1553.5 702.8h6M1562.5 702.8h6M1574.4 702.8h3M1610.3 702.8h3M1631.2 702.8h6M1640.2 702.8h9M1652.1 702.8h3M1658.1 702.8h14.9M1410.2 705h3M1419.1 705h3M1425.1 705h9M1460.9 705h20.9M1490.8 705h3M1496.8 705h3M1511.7 705h3M1520.7 705h6M1529.6 705h9M1544.6 705h3M1568.5 705h3M1574.4 705h3M1625.2 705h6M1634.2 705h6M1643.1 705h6M1661.1 705h3M1667 705h6M1493.8 707.2h3M1499.8 707.2h3M1520.7 707.2h3M1526.7 707.2h3M1565.5 707.2h17.9M1490.8 709.4h3M1499.8 709.4h3M1508.7 709.4h17.9M1538.6 709.4h9M1550.5 709.4h14.9M1586.4 709.4h9M1598.3 709.4h3M1640.2 709.4h3M1646.1 709.4h9M1658.1 709.4h3M1670 709.4h3M1425.1 711.6h3M1431.1 711.6h3M1487.8 711.6h9M1514.7 711.6h3M1520.7 711.6h3M1526.7 711.6h17.9M1550.5 711.6h6M1559.5 711.6h9M1574.4 711.6h14.9M1604.3 711.6h14.9M1622.2 711.6h9M1634.2 711.6h3M1640.2 711.6h11.9M1658.1 711.6h3M1667 711.6h9M1440 713.8h3M1446 713.8h3M1455 713.8h3M1478.9 713.8h9M1493.8 713.8h6M1505.7 713.8h11.9M1520.7 713.8h3M1529.6 713.8h3M1550.5 713.8h3M1556.5 713.8h3M1562.5 713.8h3M1574.4 713.8h3M1580.4 713.8h3M1586.4 713.8h3M1607.3 713.8h14.9M1658.1 713.8h17.9M1428.1 716h3M1434.1 716h3M1472.9 716h3M1487.8 716h3M1496.8 716h6M1529.6 716h3M1535.6 716h6M1544.6 716h3M1553.5 716h9M1568.5 716h3M1577.4 716h6M1625.2 716h17.9M1658.1 716h3M1475.9 718.2h3M1481.8 718.2h3M1487.8 718.2h3M1493.8 718.2h11.9M1538.6 718.2h3M1544.6 718.2h6M1583.4 718.2h3M1661.1 718.2h3M1670 718.2h6M1455 720.5h3M1487.8 720.5h3M1493.8 720.5h9M1505.7 720.5h3M1511.7 720.5h6M1526.7 720.5h6M1535.6 720.5h3M1541.6 720.5h3M1547.6 720.5h9M1559.5 720.5h17.9M1580.4 720.5h9M1592.4 720.5h11.9M1628.2 720.5h3M1478.9 722.7h3M1484.8 722.7h6M1493.8 722.7h6M1544.6 722.7h3M1595.4 722.7h6M1628.2 722.7h3M1646.1 722.7h6M1670 722.7h3M1490.8 724.9h3M1505.7 724.9h14.9M1532.6 724.9h11.9M1550.5 724.9h3M1568.5 724.9h6M1577.4 724.9h6M1586.4 724.9h11.9M1601.3 724.9h3M1622.2 724.9h3M1646.1 724.9h3M1652.1 724.9h17.9M1425.1 727.1h3M1431.1 727.1h3M1475.9 727.1h3M1541.6 727.1h3M1616.3 727.1h6M1637.2 727.1h3M1646.1 727.1h6M1437 729.3h3M1443 729.3h3M1475.9 729.3h3M1490.8 729.3h3M1538.6 729.3h3M1544.6 729.3h6M1556.5 729.3h11.9M1571.5 729.3h11.9M1592.4 729.3h3M1601.3 729.3h3M1610.3 729.3h23.9M1643.1 729.3h3M1649.1 729.3h3M1655.1 729.3h20.9M1401.2 731.5h3M1413.1 731.5h3M1419.1 731.5h9M1487.8 731.5h3M1493.8 731.5h20.9M1517.7 731.5h3M1529.6 731.5h11.9M1595.4 731.5h3M1604.3 731.5h3M1640.2 731.5h3M1670 731.5h6M1419.1 733.7h6M1428.1 733.7h6M1541.6 733.7h3M1556.5 733.7h3M1592.4 733.7h6M1619.2 733.7h20.9M1646.1 733.7h3M1652.1 733.7h3M1658.1 733.7h3M1664.1 733.7h9M1422.1 735.9h3M1475.9 735.9h3M1481.8 735.9h3M1490.8 735.9h6M1622.2 735.9h6M1634.2 735.9h3M1640.2 735.9h3M1670 735.9h6M1440 738.1h3M1463.9 738.1h3M1484.8 738.1h3M1490.8 738.1h9M1502.8 738.1h6M1520.7 738.1h3M1532.6 738.1h6M1541.6 738.1h6M1550.5 738.1h6M1601.3 738.1h11.9M1616.3 738.1h3M1634.2 738.1h3M1643.1 738.1h6M1472.9 740.4h3M1478.9 740.4h6M1490.8 744.8h3M1416.1 747h11.9M1463.9 747h14.9M1508.7 747h9M1520.7 747h3M1526.7 747h3M1532.6 747h3M1550.5 747h6M1559.5 747h3M1571.5 747h3M1580.4 747h9M1604.3 747h3M1622.2 747h11.9M1640.2 747h3M1487.8 749.2h9M1538.6 749.2h3M1547.6 749.2h11.9M1562.5 749.2h3M1595.4 749.2h11.9M1619.2 749.2h9M1634.2 749.2h3M1401.2 751.4h3M1407.2 751.4h6M1481.8 751.4h3M1493.8 751.4h3M1499.8 751.4h3M1511.7 751.4h3M1431.1 753.6h9M1443 753.6h3M1469.9 753.6h3M1475.9 753.6h3M1484.8 753.6h3M1499.8 753.6h3M1517.7 753.6h6M1526.7 753.6h9M1538.6 753.6h6M1547.6 753.6h20.9M1574.4 753.6h11.9M1589.4 753.6h3M1595.4 753.6h14.9M1619.2 753.6h3M1667 753.6h9M1455 755.8h3M1496.8 755.8h3M1502.8 755.8h6M1511.7 755.8h3M1517.7 755.8h11.9M1532.6 755.8h3M1544.6 755.8h6M1553.5 755.8h6M1562.5 755.8h11.9M1577.4 755.8h3M1586.4 755.8h11.9M1604.3 755.8h6M1613.3 755.8h3M1622.2 755.8h9M1640.2 755.8h3M1646.1 755.8h6M1655.1 755.8h3M1667 755.8h9M1410.2 758h3M1416.1 758h6M1428.1 758h14.9M1446 758h6M1455 758h6M1463.9 758h3M1493.8 758h9M1520.7 758h3M1526.7 758h11.9M1547.6 758h3M1553.5 758h3M1559.5 758h6M1568.5 758h3M1574.4 758h9M1586.4 758h9M1622.2 758h6M1658.1 758h3M1422.1 760.2h3M1431.1 760.2h3M1446 760.2h3M1452 760.2h3M1514.7 762.5h3M1532.6 762.5h3M1544.6 762.5h9M1556.5 762.5h6M1568.5 762.5h6M1577.4 762.5h3M1586.4 762.5h3M1598.3 762.5h3M1604.3 762.5h11.9M1622.2 762.5h3M1425.1 764.7h3M1431.1 764.7h6M1458 764.7h3M1490.8 764.7h6M1502.8 764.7h3M1547.6 764.7h3M1565.5 764.7h9M1577.4 764.7h11.9M1601.3 764.7h14.9M1619.2 764.7h3M1631.2 764.7h6M1649.1 764.7h6M1664.1 764.7h9M1496.8 766.9h6M1514.7 766.9h3M1544.6 766.9h9M1556.5 766.9h3M1568.5 766.9h3M1580.4 766.9h6M1592.4 766.9h3M1598.3 766.9h3M1493.8 769.1h3M1511.7 769.1h11.9M1529.6 769.1h3M1538.6 769.1h3M1589.4 769.1h11.9"/>
<path stroke="#f9f0ea" d="M1493.8 632h3M1481.8 634.2h3M1541.6 634.2h3M1553.5 634.2h3M1562.5 634.2h3M1613.3 634.2h6M1460.9 636.4h3M1493.8 636.4h6M1508.7 636.4h3M1562.5 636.4h6M1571.5 636.4h3M1592.4 636.4h3M1598.3 636.4h6M1610.3 636.4h3M1616.3 636.4h14.9M1634.2 636.4h20.9M1664.1 636.4h6M1487.8 638.6h6M1496.8 638.6h3M1505.7 638.6h6M1517.7 638.6h9M1529.6 638.6h3M1553.5 638.6h6M1580.4 638.6h3M1601.3 638.6h3M1607.3 638.6h3M1490.8 640.9h11.9M1520.7 640.9h11.9M1538.6 640.9h6M1547.6 640.9h29.9M1589.4 640.9h3M1598.3 640.9h3M1607.3 640.9h6M1628.2 640.9h3M1634.2 640.9h20.9M1664.1 640.9h11.9M1487.8 643.1h6M1502.8 643.1h9M1517.7 643.1h6M1526.7 643.1h11.9M1553.5 643.1h17.9M1574.4 643.1h20.9M1478.9 645.3h3M1487.8 645.3h6M1496.8 645.3h6M1505.7 645.3h3M1514.7 645.3h3M1523.7 645.3h3M1535.6 645.3h9M1490.8 647.5h3M1523.7 647.5h6M1538.6 647.5h3M1547.6 647.5h6M1571.5 647.5h6M1580.4 647.5h9M1592.4 647.5h6M1601.3 647.5h3M1607.3 647.5h9M1646.1 647.5h23.9M1496.8 649.7h3M1505.7 649.7h11.9M1520.7 649.7h3M1532.6 649.7h11.9M1547.6 649.7h6M1556.5 649.7h9M1568.5 649.7h3M1643.1 649.7h3M1493.8 651.9h6M1502.8 651.9h6M1511.7 651.9h9M1523.7 651.9h6M1544.6 651.9h14.9M1589.4 651.9h3M1604.3 651.9h6M1613.3 651.9h9M1625.2 651.9h3M1401.2 654.1h6M1431.1 654.1h3M1440 654.1h3M1460.9 654.1h3M1466.9 654.1h3M1487.8 654.1h6M1496.8 654.1h9M1508.7 654.1h3M1556.5 654.1h6M1565.5 654.1h9M1592.4 654.1h41.8M1460.9 656.3h3M1466.9 656.3h6M1490.8 656.3h9M1520.7 656.3h3M1526.7 656.3h9M1538.6 656.3h3M1544.6 656.3h3M1553.5 656.3h3M1559.5 656.3h3M1574.4 656.3h3M1586.4 656.3h3M1595.4 656.3h3M1604.3 656.3h11.9M1637.2 656.3h14.9M1655.1 656.3h3M1667 656.3h6M1469.9 658.5h3M1475.9 658.5h3M1481.8 658.5h6M1493.8 658.5h17.9M1514.7 658.5h3M1526.7 658.5h14.9M1547.6 658.5h6M1556.5 658.5h3M1565.5 658.5h6M1577.4 658.5h11.9M1592.4 658.5h6M1604.3 658.5h11.9M1619.2 658.5h6M1628.2 658.5h11.9M1643.1 658.5h3M1655.1 658.5h3M1664.1 658.5h3M1404.2 660.8h3M1410.2 660.8h3M1440 660.8h3M1490.8 660.8h11.9M1484.8 663h3M1490.8 663h3M1508.7 663h3M1523.7 663h3M1544.6 663h3M1574.4 663h3M1425.1 667.4h17.9M1449 667.4h9M1463.9 667.4h3M1472.9 667.4h3M1478.9 667.4h3M1484.8 667.4h6M1493.8 667.4h6M1517.7 667.4h14.9M1535.6 667.4h3M1541.6 667.4h3M1547.6 667.4h3M1553.5 667.4h3M1562.5 667.4h3M1601.3 667.4h3M1610.3 667.4h6M1640.2 667.4h3M1649.1 667.4h6M1413.1 669.6h9M1425.1 669.6h9M1446 669.6h3M1455 669.6h6M1463.9 669.6h20.9M1487.8 669.6h6M1517.7 669.6h9M1541.6 669.6h3M1574.4 669.6h9M1586.4 669.6h35.8M1634.2 669.6h6M1646.1 669.6h3M1658.1 669.6h3M1673 669.6h3M1404.2 671.8h6M1446 671.8h14.9M1463.9 671.8h11.9M1478.9 671.8h3M1484.8 671.8h3M1490.8 671.8h6M1499.8 671.8h6M1511.7 671.8h6M1520.7 671.8h3M1526.7 671.8h11.9M1544.6 671.8h6M1583.4 671.8h9M1598.3 671.8h3M1604.3 671.8h3M1610.3 671.8h9M1625.2 671.8h3M1646.1 671.8h3M1401.2 674h3M1431.1 674h6M1466.9 674h3M1484.8 674h3M1490.8 674h6M1538.6 674h6M1556.5 674h3M1607.3 674h3M1613.3 674h9M1631.2 674h6M1643.1 674h14.9M1664.1 674h3M1437 676.2h6M1455 676.2h6M1487.8 676.2h29.9M1523.7 676.2h9M1535.6 676.2h6M1404.2 678.4h6M1416.1 678.4h3M1425.1 678.4h9M1437 678.4h6M1446 678.4h3M1452 678.4h3M1463.9 678.4h9M1478.9 678.4h20.9M1520.7 678.4h9M1532.6 678.4h9M1544.6 678.4h9M1562.5 678.4h6M1583.4 678.4h3M1589.4 678.4h3M1625.2 678.4h3M1631.2 678.4h3M1637.2 678.4h3M1646.1 678.4h3M1652.1 678.4h3M1658.1 678.4h3M1664.1 678.4h11.9M1434.1 680.6h3M1478.9 680.6h6M1401.2 682.9h6M1410.2 682.9h6M1434.1 682.9h3M1440 682.9h11.9M1455 682.9h9M1481.8 682.9h3M1487.8 682.9h3M1493.8 682.9h3M1523.7 682.9h3M1571.5 682.9h3M1586.4 682.9h6M1487.8 685.1h6M1502.8 685.1h3M1577.4 685.1h3M1583.4 685.1h9M1598.3 685.1h3M1604.3 685.1h3M1613.3 685.1h11.9M1628.2 685.1h23.9M1658.1 685.1h3M1664.1 685.1h6M1673 685.1h3M1404.2 687.3h6M1413.1 687.3h3M1431.1 687.3h23.9M1458 687.3h3M1469.9 687.3h6M1478.9 687.3h6M1535.6 687.3h3M1550.5 687.3h9M1565.5 687.3h3M1571.5 687.3h3M1580.4 687.3h3M1589.4 687.3h3M1664.1 687.3h11.9M1490.8 689.5h6M1505.7 689.5h6M1517.7 689.5h3M1523.7 689.5h3M1529.6 689.5h3M1541.6 689.5h3M1550.5 689.5h6M1559.5 689.5h11.9M1574.4 689.5h6M1589.4 689.5h11.9M1604.3 689.5h3M1401.2 691.7h9M1413.1 691.7h3M1425.1 691.7h9M1437 691.7h6M1449 691.7h3M1472.9 691.7h17.9M1526.7 691.7h3M1532.6 691.7h6M1544.6 691.7h3M1553.5 691.7h3M1562.5 691.7h3M1595.4 691.7h6M1619.2 691.7h6M1628.2 691.7h11.9M1646.1 691.7h3M1428.1 693.9h3M1434.1 693.9h3M1440 693.9h3M1502.8 693.9h6M1514.7 693.9h3M1553.5 693.9h6M1562.5 693.9h6M1574.4 693.9h3M1583.4 693.9h3M1601.3 693.9h3M1607.3 693.9h6M1616.3 693.9h3M1622.2 693.9h3M1628.2 693.9h14.9M1649.1 693.9h11.9M1670 693.9h6M1401.2 696.1h17.9M1446 696.1h3M1455 696.1h11.9M1478.9 696.1h6M1487.8 696.1h3M1502.8 696.1h3M1511.7 696.1h3M1517.7 696.1h9M1532.6 696.1h17.9M1553.5 696.1h3M1559.5 696.1h3M1580.4 696.1h3M1586.4 696.1h20.9M1613.3 696.1h11.9M1631.2 696.1h6M1646.1 696.1h6M1655.1 696.1h9M1667 696.1h3M1490.8 698.3h6M1511.7 698.3h3M1517.7 698.3h3M1523.7 698.3h6M1532.6 698.3h6M1541.6 698.3h3M1550.5 698.3h6M1559.5 698.3h3M1565.5 698.3h6M1574.4 698.3h3M1583.4 698.3h14.9M1601.3 698.3h6M1619.2 698.3h11.9M1634.2 698.3h3M1640.2 698.3h3M1652.1 698.3h6M1463.9 700.5h9M1475.9 700.5h6M1484.8 700.5h6M1505.7 700.5h17.9M1526.7 700.5h9M1541.6 700.5h3M1550.5 700.5h3M1556.5 700.5h11.9M1571.5 700.5h6M1580.4 700.5h6M1589.4 700.5h6M1604.3 700.5h6M1613.3 700.5h3M1619.2 700.5h3M1628.2 700.5h3M1634.2 700.5h3M1640.2 700.5h3M1646.1 700.5h11.9M1664.1 700.5h11.9M1404.2 702.8h6M1431.1 702.8h3M1446 702.8h9M1458 702.8h6M1466.9 702.8h6M1478.9 702.8h6M1490.8 702.8h3M1520.7 702.8h20.9M1544.6 702.8h9M1571.5 702.8h3M1577.4 702.8h26.9M1607.3 702.8h3M1613.3 702.8h6M1622.2 702.8h3M1628.2 702.8h3M1637.2 702.8h3M1649.1 702.8h3M1655.1 702.8h3M1673 702.8h3M1416.1 705h3M1422.1 705h3M1538.6 705h6M1422.1 707.2h14.9M1481.8 707.2h3M1490.8 707.2h3M1496.8 707.2h3M1502.8 707.2h3M1493.8 709.4h3M1502.8 709.4h3M1529.6 709.4h9M1547.6 709.4h3M1565.5 709.4h6M1574.4 709.4h11.9M1643.1 709.4h3M1655.1 709.4h3M1661.1 709.4h9M1673 709.4h3M1407.2 711.6h3M1428.1 711.6h3M1434.1 711.6h9M1466.9 711.6h9M1484.8 711.6h3M1544.6 711.6h6M1556.5 711.6h3M1589.4 711.6h14.9M1631.2 711.6h3M1637.2 711.6h3M1652.1 711.6h6M1661.1 711.6h6M1559.5 713.8h3M1577.4 713.8h3M1583.4 713.8h3M1589.4 713.8h6M1598.3 713.8h3M1604.3 713.8h3M1634.2 713.8h3M1643.1 713.8h3M1649.1 713.8h3M1655.1 713.8h3M1413.1 716h3M1422.1 716h3M1431.1 716h3M1437 716h6M1446 716h3M1455 716h17.9M1475.9 716h11.9M1493.8 716h3M1511.7 716h17.9M1532.6 716h3M1541.6 716h3M1562.5 716h6M1571.5 716h6M1583.4 716h14.9M1601.3 716h11.9M1616.3 716h9M1643.1 716h6M1655.1 716h3M1661.1 716h9M1673 716h3M1478.9 718.2h3M1484.8 718.2h3M1505.7 718.2h3M1511.7 718.2h3M1517.7 718.2h20.9M1541.6 718.2h3M1550.5 718.2h3M1589.4 718.2h6M1598.3 718.2h6M1607.3 718.2h6M1652.1 718.2h3M1658.1 718.2h3M1664.1 718.2h3M1401.2 720.5h3M1407.2 720.5h3M1437 720.5h17.9M1460.9 720.5h3M1469.9 720.5h3M1484.8 720.5h3M1490.8 720.5h3M1502.8 720.5h3M1508.7 720.5h3M1520.7 720.5h6M1532.6 720.5h3M1544.6 720.5h3M1556.5 720.5h3M1577.4 720.5h3M1589.4 720.5h3M1604.3 720.5h11.9M1619.2 720.5h9M1634.2 720.5h3M1640.2 720.5h11.9M1655.1 720.5h11.9M1670 720.5h3M1475.9 722.7h3M1481.8 722.7h3M1490.8 722.7h3M1487.8 724.9h3M1493.8 724.9h11.9M1520.7 724.9h11.9M1544.6 724.9h6M1559.5 724.9h9M1574.4 724.9h3M1583.4 724.9h3M1598.3 724.9h3M1604.3 724.9h3M1610.3 724.9h6M1619.2 724.9h3M1625.2 724.9h20.9M1670 724.9h6M1401.2 727.1h3M1413.1 727.1h11.9M1428.1 727.1h3M1434.1 727.1h6M1469.9 727.1h6M1478.9 727.1h3M1487.8 727.1h11.9M1529.6 727.1h6M1538.6 727.1h3M1547.6 727.1h14.9M1565.5 727.1h3M1622.2 727.1h14.9M1640.2 727.1h6M1652.1 727.1h6M1401.2 729.3h6M1416.1 729.3h6M1440 729.3h3M1446 729.3h3M1478.9 729.3h11.9M1523.7 729.3h14.9M1541.6 729.3h3M1586.4 729.3h6M1652.1 729.3h3M1404.2 731.5h9M1416.1 731.5h3M1428.1 731.5h9M1446 731.5h14.9M1466.9 731.5h3M1472.9 731.5h3M1478.9 731.5h9M1490.8 731.5h3M1514.7 731.5h3M1520.7 731.5h9M1541.6 731.5h6M1550.5 731.5h3M1598.3 731.5h6M1607.3 731.5h3M1652.1 731.5h17.9M1416.1 733.7h3M1425.1 733.7h3M1434.1 733.7h9M1463.9 733.7h14.9M1487.8 733.7h6M1526.7 733.7h6M1544.6 733.7h11.9M1559.5 733.7h17.9M1580.4 733.7h3M1586.4 733.7h6M1598.3 733.7h20.9M1640.2 733.7h6M1649.1 733.7h3M1655.1 733.7h3M1661.1 733.7h3M1673 733.7h3M1401.2 735.9h6M1410.2 735.9h11.9M1428.1 735.9h6M1460.9 735.9h9M1472.9 735.9h3M1478.9 735.9h3M1484.8 735.9h6M1496.8 735.9h3M1631.2 735.9h3M1637.2 735.9h3M1643.1 735.9h26.9M1413.1 738.1h6M1422.1 738.1h17.9M1443 738.1h3M1449 738.1h3M1458 738.1h6M1466.9 738.1h17.9M1487.8 738.1h3M1508.7 738.1h11.9M1523.7 738.1h9M1538.6 738.1h3M1547.6 738.1h3M1556.5 738.1h6M1568.5 738.1h17.9M1589.4 738.1h11.9M1613.3 738.1h3M1622.2 738.1h3M1628.2 738.1h3M1637.2 738.1h6M1652.1 738.1h11.9M1670 738.1h3M1401.2 740.4h14.9M1419.1 740.4h6M1460.9 740.4h3M1466.9 740.4h6M1475.9 740.4h3M1484.8 740.4h11.9M1502.8 740.4h3M1517.7 740.4h3M1523.7 740.4h3M1532.6 740.4h6M1541.6 740.4h9M1583.4 740.4h14.9M1601.3 740.4h3M1610.3 740.4h3M1616.3 740.4h3M1631.2 740.4h6M1487.8 744.8h3M1401.2 747h6M1410.2 747h6M1428.1 747h17.9M1452 747h3M1460.9 747h3M1478.9 747h3M1499.8 747h9M1517.7 747h3M1523.7 747h3M1529.6 747h3M1541.6 747h9M1556.5 747h3M1562.5 747h9M1574.4 747h6M1589.4 747h9M1601.3 747h3M1607.3 747h3M1613.3 747h6M1634.2 747h6M1643.1 747h11.9M1658.1 747h3M1664.1 747h11.9M1496.8 749.2h3M1529.6 749.2h9M1541.6 749.2h6M1565.5 749.2h23.9M1592.4 749.2h3M1607.3 749.2h11.9M1628.2 749.2h6M1637.2 749.2h3M1404.2 751.4h3M1449 751.4h11.9M1466.9 751.4h3M1475.9 751.4h6M1484.8 751.4h9M1425.1 753.6h6M1440 753.6h3M1446 753.6h6M1455 753.6h3M1460.9 753.6h9M1472.9 753.6h3M1478.9 753.6h6M1490.8 753.6h9M1502.8 753.6h6M1514.7 753.6h3M1544.6 753.6h3M1568.5 753.6h6M1586.4 753.6h3M1592.4 753.6h3M1610.3 753.6h9M1622.2 753.6h3M1637.2 753.6h29.9M1401.2 755.8h17.9M1422.1 755.8h26.9M1452 755.8h3M1458 755.8h11.9M1472.9 755.8h9M1487.8 755.8h6M1508.7 755.8h3M1529.6 755.8h3M1535.6 755.8h9M1559.5 755.8h3M1574.4 755.8h3M1580.4 755.8h6M1598.3 755.8h6M1610.3 755.8h3M1616.3 755.8h6M1658.1 755.8h9M1404.2 758h6M1413.1 758h3M1422.1 758h6M1443 758h3M1460.9 758h3M1469.9 758h11.9M1484.8 758h3M1490.8 758h3M1523.7 758h3M1556.5 758h3M1571.5 758h3M1583.4 758h3M1407.2 760.2h3M1416.1 760.2h6M1425.1 760.2h6M1434.1 760.2h3M1440 760.2h6M1449 760.2h3M1455 760.2h9M1466.9 760.2h20.9M1490.8 760.2h6M1410.2 762.5h9M1475.9 762.5h29.9M1508.7 762.5h6M1517.7 762.5h14.9M1535.6 762.5h9M1553.5 762.5h3M1574.4 762.5h3M1580.4 762.5h6M1589.4 762.5h9M1601.3 762.5h3M1616.3 762.5h6M1625.2 762.5h17.9M1646.1 762.5h17.9M1667 762.5h9M1410.2 764.7h14.9M1428.1 764.7h3M1440 764.7h17.9M1460.9 764.7h11.9M1484.8 764.7h6M1508.7 764.7h6M1526.7 764.7h11.9M1541.6 764.7h6M1550.5 764.7h3M1559.5 764.7h6M1616.3 764.7h3M1622.2 764.7h6M1637.2 764.7h11.9M1655.1 764.7h9M1493.8 766.9h3M1502.8 766.9h3M1508.7 766.9h6M1517.7 766.9h6M1526.7 766.9h3M1541.6 766.9h3M1553.5 766.9h3M1559.5 766.9h9M1571.5 766.9h9M1586.4 766.9h6M1595.4 766.9h3M1487.8 769.1h6M1496.8 769.1h3M1508.7 769.1h3M1523.7 769.1h6M1532.6 769.1h6M1541.6 769.1h11.9M1562.5 769.1h14.9M1583.4 769.1h6"/>
<path stroke="#fce1d1" d="M1490.8 632h3M1458 634.2h9M1469.9 634.2h11.9M1484.8 634.2h6M1496.8 634.2h14.9M1535.6 634.2h6M1544.6 634.2h9M1556.5 634.2h6M1568.5 634.2h3M1595.4 634.2h3M1601.3 634.2h9M1619.2 634.2h6M1637.2 634.2h20.9M1463.9 636.4h17.9M1499.8 636.4h3M1481.8 638.6h6M1499.8 638.6h6M1514.7 638.6h3M1526.7 638.6h3M1598.3 638.6h3M1469.9 640.9h3M1475.9 640.9h3M1487.8 640.9h3M1517.7 640.9h3M1532.6 640.9h6M1544.6 640.9h3M1577.4 640.9h11.9M1592.4 640.9h6M1601.3 640.9h6M1466.9 643.1h3M1475.9 643.1h3M1481.8 643.1h6M1475.9 645.3h3M1481.8 645.3h6M1526.7 645.3h9M1610.3 645.3h3M1628.2 645.3h3M1637.2 645.3h3M1652.1 645.3h3M1661.1 645.3h3M1667 645.3h3M1478.9 647.5h3M1484.8 647.5h3M1544.6 647.5h3M1589.4 647.5h3M1604.3 647.5h3M1670 647.5h6M1410.2 649.7h9M1425.1 649.7h3M1458 649.7h3M1463.9 649.7h3M1487.8 649.7h3M1517.7 649.7h3M1523.7 649.7h9M1544.6 649.7h3M1634.2 649.7h9M1490.8 651.9h3M1499.8 651.9h3M1559.5 651.9h3M1598.3 651.9h6M1610.3 651.9h3M1634.2 651.9h9M1407.2 654.1h3M1413.1 654.1h9M1434.1 654.1h6M1452 654.1h9M1463.9 654.1h3M1469.9 654.1h6M1484.8 654.1h3M1505.7 654.1h3M1547.6 654.1h9M1416.1 656.3h9M1472.9 656.3h6M1481.8 656.3h9M1523.7 656.3h3M1616.3 656.3h9M1401.2 658.5h3M1407.2 658.5h14.9M1428.1 658.5h6M1437 658.5h6M1455 658.5h3M1460.9 658.5h3M1466.9 658.5h3M1472.9 658.5h3M1478.9 658.5h3M1490.8 658.5h3M1511.7 658.5h3M1553.5 658.5h3M1562.5 658.5h3M1571.5 658.5h6M1598.3 658.5h6M1640.2 658.5h3M1658.1 658.5h3M1401.2 660.8h3M1407.2 660.8h3M1413.1 660.8h3M1419.1 660.8h3M1431.1 660.8h9M1472.9 660.8h3M1478.9 660.8h11.9M1505.7 660.8h3M1514.7 660.8h3M1541.6 660.8h6M1475.9 663h3M1481.8 663h3M1487.8 663h3M1493.8 663h14.9M1511.7 663h3M1520.7 663h3M1526.7 663h3M1532.6 663h11.9M1547.6 663h3M1556.5 663h17.9M1428.1 665.2h3M1422.1 667.4h3M1458 667.4h6M1466.9 667.4h6M1475.9 667.4h3M1481.8 667.4h3M1538.6 667.4h3M1544.6 667.4h3M1550.5 667.4h3M1607.3 667.4h3M1655.1 667.4h20.9M1401.2 669.6h11.9M1422.1 669.6h3M1434.1 669.6h11.9M1460.9 669.6h3M1484.8 669.6h3M1571.5 669.6h3M1583.4 669.6h3M1410.2 671.8h14.9M1434.1 671.8h9M1505.7 671.8h6M1538.6 671.8h6M1404.2 674h11.9M1419.1 674h11.9M1437 674h11.9M1455 674h3M1460.9 674h6M1469.9 674h3M1475.9 674h3M1481.8 674h3M1487.8 674h3M1535.6 674h3M1571.5 674h3M1452 676.2h3M1460.9 676.2h26.9M1517.7 676.2h6M1532.6 676.2h3M1401.2 678.4h3M1413.1 678.4h3M1419.1 678.4h6M1443 678.4h3M1449 678.4h3M1455 678.4h3M1460.9 678.4h3M1472.9 678.4h6M1529.6 678.4h3M1541.6 678.4h3M1634.2 678.4h3M1643.1 678.4h3M1401.2 680.6h3M1425.1 680.6h9M1440 680.6h3M1466.9 680.6h11.9M1407.2 682.9h3M1416.1 682.9h6M1425.1 682.9h9M1437 682.9h3M1452 682.9h3M1496.8 682.9h3M1526.7 682.9h6M1538.6 682.9h11.9M1565.5 682.9h6M1583.4 682.9h3M1592.4 682.9h20.9M1619.2 682.9h14.9M1649.1 682.9h20.9M1673 682.9h3M1434.1 685.1h3M1466.9 685.1h6M1484.8 685.1h3M1595.4 685.1h3M1607.3 685.1h6M1652.1 685.1h3M1419.1 687.3h11.9M1475.9 687.3h3M1586.4 687.3h3M1592.4 687.3h6M1607.3 687.3h3M1613.3 687.3h3M1658.1 687.3h6M1484.8 689.5h6M1511.7 689.5h3M1556.5 689.5h3M1410.2 691.7h3M1416.1 691.7h9M1434.1 691.7h3M1443 691.7h3M1452 691.7h17.9M1625.2 691.7h3M1508.7 693.9h3M1559.5 693.9h3M1646.1 693.9h3M1443 696.1h3M1449 696.1h6M1484.8 696.1h3M1514.7 696.1h3M1526.7 696.1h6M1583.4 696.1h3M1607.3 696.1h6M1652.1 696.1h3M1529.6 698.3h3M1544.6 698.3h3M1598.3 698.3h3M1607.3 698.3h6M1631.2 698.3h3M1637.2 698.3h3M1643.1 698.3h9M1670 698.3h6M1481.8 700.5h3M1490.8 700.5h3M1535.6 700.5h6M1577.4 700.5h3M1595.4 700.5h9M1610.3 700.5h3M1616.3 700.5h3M1434.1 702.8h11.9M1472.9 702.8h6M1541.6 702.8h3M1604.3 702.8h3M1619.2 702.8h3M1625.2 702.8h3M1419.1 707.2h3M1458 707.2h23.9M1484.8 707.2h3M1487.8 709.4h3M1526.7 709.4h3M1571.5 709.4h3M1601.3 709.4h6M1401.2 711.6h6M1410.2 711.6h14.9M1443 711.6h9M1463.9 711.6h3M1475.9 711.6h9M1595.4 713.8h3M1601.3 713.8h3M1625.2 713.8h6M1637.2 713.8h6M1646.1 713.8h3M1652.1 713.8h3M1401.2 716h11.9M1419.1 716h3M1425.1 716h3M1443 716h3M1449 716h6M1490.8 716h3M1502.8 716h9M1598.3 716h3M1613.3 716h3M1649.1 716h6M1670 716h3M1508.7 718.2h3M1514.7 718.2h3M1553.5 718.2h17.9M1586.4 718.2h3M1595.4 718.2h3M1604.3 718.2h3M1613.3 718.2h3M1655.1 718.2h3M1667 718.2h3M1404.2 720.5h3M1410.2 720.5h14.9M1428.1 720.5h6M1458 720.5h3M1463.9 720.5h6M1472.9 720.5h3M1481.8 720.5h3M1517.7 720.5h3M1538.6 720.5h3M1616.3 720.5h3M1631.2 720.5h3M1637.2 720.5h3M1667 720.5h3M1673 720.5h3M1413.1 724.9h3M1458 724.9h6M1481.8 724.9h3M1553.5 724.9h6M1607.3 724.9h3M1616.3 724.9h3M1404.2 727.1h9M1440 727.1h3M1466.9 727.1h3M1481.8 727.1h6M1535.6 727.1h3M1544.6 727.1h3M1562.5 727.1h3M1568.5 727.1h3M1580.4 727.1h3M1607.3 727.1h3M1613.3 727.1h3M1407.2 729.3h9M1422.1 729.3h3M1434.1 729.3h3M1583.4 729.3h3M1437 731.5h9M1460.9 731.5h6M1469.9 731.5h3M1475.9 731.5h3M1547.6 731.5h3M1401.2 733.7h14.9M1443 733.7h20.9M1478.9 733.7h9M1523.7 733.7h3M1532.6 733.7h9M1577.4 733.7h3M1583.4 733.7h3M1407.2 735.9h3M1425.1 735.9h3M1434.1 735.9h9M1469.9 735.9h3M1401.2 738.1h11.9M1419.1 738.1h3M1446 738.1h3M1452 738.1h6M1562.5 738.1h6M1586.4 738.1h3M1619.2 738.1h3M1625.2 738.1h3M1631.2 738.1h3M1649.1 738.1h3M1664.1 738.1h6M1673 738.1h3M1416.1 740.4h3M1455 740.4h6M1463.9 740.4h3M1496.8 740.4h6M1505.7 740.4h11.9M1520.7 740.4h3M1526.7 740.4h6M1538.6 740.4h3M1550.5 740.4h3M1556.5 740.4h3M1598.3 740.4h3M1604.3 740.4h6M1613.3 740.4h3M1619.2 740.4h11.9M1637.2 740.4h38.8M1490.8 742.6h3M1502.8 742.6h3M1508.7 742.6h6M1628.2 742.6h3M1431.1 744.8h6M1440 744.8h3M1446 744.8h6M1484.8 744.8h3M1493.8 744.8h3M1407.2 747h3M1446 747h6M1455 747h6M1481.8 747h17.9M1535.6 747h3M1598.3 747h3M1610.3 747h3M1655.1 747h3M1661.1 747h3M1463.9 751.4h3M1469.9 751.4h6M1452 753.6h3M1458 753.6h3M1487.8 753.6h3M1508.7 753.6h6M1419.1 755.8h3M1469.9 755.8h3M1481.8 755.8h6M1401.2 758h3M1466.9 758h3M1481.8 758h3M1487.8 758h3M1401.2 760.2h6M1410.2 760.2h6M1437 760.2h3M1463.9 760.2h3M1487.8 760.2h3M1401.2 762.5h9M1472.9 762.5h3M1505.7 762.5h3M1643.1 762.5h3M1664.1 762.5h3M1407.2 764.7h3M1437 764.7h3M1472.9 764.7h11.9M1514.7 764.7h11.9M1538.6 764.7h3M1553.5 764.7h6M1490.8 766.9h3M1505.7 766.9h3M1523.7 766.9h3M1529.6 766.9h11.9M1428.1 769.1h3M1434.1 769.1h11.9M1466.9 769.1h3M1475.9 769.1h3M1484.8 769.1h3M1499.8 769.1h9M1553.5 769.1h9M1577.4 769.1h6M1604.3 769.1h3"/>
<path stroke="#facab1" d="M1460.9 632h3M1496.8 632h14.9M1401.2 634.2h6M1440 634.2h6M1449 634.2h9M1466.9 634.2h3M1490.8 634.2h6M1565.5 634.2h3M1598.3 634.2h3M1610.3 634.2h3M1625.2 634.2h11.9M1664.1 634.2h6M1481.8 636.4h3M1475.9 638.6h6M1559.5 638.6h9M1401.2 640.9h3M1407.2 640.9h9M1419.1 640.9h6M1437 640.9h6M1446 640.9h14.9M1463.9 640.9h6M1472.9 640.9h3M1484.8 640.9h3M1469.9 643.1h6M1478.9 643.1h3M1571.5 645.3h6M1580.4 645.3h3M1604.3 645.3h6M1616.3 645.3h11.9M1634.2 645.3h3M1640.2 645.3h11.9M1655.1 645.3h6M1664.1 645.3h3M1670 645.3h6M1401.2 647.5h3M1475.9 647.5h3M1481.8 647.5h3M1487.8 647.5h3M1401.2 649.7h9M1419.1 649.7h6M1428.1 649.7h6M1446 649.7h3M1452 649.7h6M1460.9 649.7h3M1466.9 649.7h3M1484.8 649.7h3M1571.5 649.7h6M1598.3 649.7h14.9M1616.3 649.7h3M1622.2 649.7h6M1631.2 649.7h3M1646.1 649.7h20.9M1487.8 651.9h3M1628.2 651.9h3M1664.1 651.9h3M1410.2 654.1h3M1422.1 654.1h9M1443 654.1h9M1475.9 654.1h6M1529.6 654.1h3M1535.6 654.1h6M1413.1 656.3h3M1425.1 656.3h3M1443 656.3h3M1458 656.3h3M1478.9 656.3h3M1404.2 658.5h3M1422.1 658.5h6M1443 658.5h11.9M1458 658.5h3M1463.9 658.5h3M1416.1 660.8h3M1422.1 660.8h3M1428.1 660.8h3M1466.9 660.8h6M1475.9 660.8h3M1508.7 660.8h6M1517.7 660.8h3M1523.7 660.8h17.9M1437 663h3M1472.9 663h3M1478.9 663h3M1529.6 663h3M1550.5 663h6M1407.2 665.2h20.9M1452 665.2h6M1478.9 665.2h3M1487.8 665.2h6M1419.1 667.4h3M1616.3 667.4h9M1628.2 667.4h11.9M1547.6 669.6h23.9M1425.1 671.8h9M1443 671.8h3M1416.1 674h3M1449 674h6M1458 674h3M1472.9 674h3M1478.9 674h3M1437 680.6h3M1460.9 680.6h6M1422.1 682.9h3M1532.6 682.9h6M1553.5 682.9h11.9M1613.3 682.9h6M1640.2 682.9h9M1670 682.9h3M1431.1 685.1h3M1437 685.1h9M1460.9 685.1h6M1472.9 685.1h6M1481.8 685.1h3M1416.1 687.3h3M1583.4 687.3h3M1598.3 687.3h9M1610.3 687.3h3M1440 689.5h6M1452 689.5h3M1478.9 689.5h3M1469.9 691.7h3M1565.5 696.1h11.9M1443 698.3h6M1452 698.3h3M1487.8 698.3h3M1407.2 709.4h3M1416.1 709.4h3M1422.1 709.4h14.9M1455 709.4h11.9M1484.8 709.4h3M1607.3 709.4h11.9M1631.2 709.4h3M1637.2 709.4h3M1452 711.6h11.9M1622.2 713.8h3M1631.2 713.8h3M1416.1 716h3M1466.9 718.2h3M1571.5 718.2h11.9M1622.2 718.2h3M1628.2 718.2h3M1634.2 718.2h3M1640.2 718.2h3M1425.1 720.5h3M1434.1 720.5h3M1475.9 720.5h6M1401.2 724.9h3M1407.2 724.9h6M1416.1 724.9h11.9M1437 724.9h3M1443 724.9h14.9M1463.9 724.9h6M1484.8 724.9h3M1574.4 727.1h3M1583.4 727.1h11.9M1598.3 727.1h6M1610.3 727.1h3M1431.1 729.3h3M1574.4 731.5h9M1586.4 731.5h3M1553.5 740.4h3M1478.9 742.6h3M1487.8 742.6h3M1493.8 742.6h9M1505.7 742.6h3M1514.7 742.6h3M1526.7 742.6h3M1535.6 742.6h3M1544.6 742.6h9M1559.5 742.6h6M1595.4 742.6h3M1601.3 742.6h3M1607.3 742.6h3M1613.3 742.6h14.9M1631.2 742.6h6M1640.2 742.6h9M1652.1 742.6h6M1425.1 744.8h6M1437 744.8h3M1443 744.8h3M1452 744.8h14.9M1475.9 744.8h9M1538.6 747h3M1460.9 751.4h3M1449 755.8h3M1401.2 764.7h6M1589.4 764.7h6M1487.8 766.9h3M1401.2 769.1h11.9M1416.1 769.1h11.9M1431.1 769.1h3M1446 769.1h9M1458 769.1h9M1469.9 769.1h6M1478.9 769.1h6M1601.3 769.1h3M1607.3 769.1h3M1655.1 769.1h9"/>
<path stroke="#f5ae8d" d="M1463.9 632h14.9M1484.8 632h6M1511.7 632h3M1520.7 632h3M1407.2 634.2h9M1425.1 634.2h3M1437 634.2h3M1446 634.2h3M1658.1 634.2h6M1670 634.2h6M1437 636.4h6M1568.5 638.6h9M1404.2 640.9h3M1416.1 640.9h3M1425.1 640.9h6M1443 640.9h3M1460.9 640.9h3M1478.9 640.9h3M1577.4 645.3h3M1583.4 645.3h3M1613.3 645.3h3M1631.2 645.3h3M1404.2 647.5h11.9M1419.1 647.5h3M1425.1 647.5h6M1440 647.5h3M1437 649.7h3M1443 649.7h3M1449 649.7h3M1469.9 649.7h14.9M1577.4 649.7h20.9M1613.3 649.7h3M1619.2 649.7h3M1628.2 649.7h3M1667 649.7h9M1460.9 651.9h9M1475.9 651.9h3M1481.8 651.9h6M1631.2 651.9h3M1643.1 651.9h6M1661.1 651.9h3M1667 651.9h3M1481.8 654.1h3M1511.7 654.1h6M1520.7 654.1h9M1532.6 654.1h3M1541.6 654.1h3M1401.2 656.3h11.9M1440 656.3h3M1446 656.3h3M1452 656.3h6M1434.1 658.5h3M1425.1 660.8h3M1520.7 660.8h3M1440 663h11.9M1458 663h3M1463.9 663h3M1469.9 663h3M1514.7 663h6M1401.2 665.2h6M1431.1 665.2h3M1443 665.2h9M1463.9 665.2h14.9M1481.8 665.2h6M1625.2 667.4h3M1431.1 676.2h6M1443 680.6h14.9M1550.5 682.9h3M1446 685.1h14.9M1478.9 685.1h3M1401.2 689.5h11.9M1422.1 689.5h3M1428.1 689.5h6M1437 689.5h3M1446 689.5h6M1455 689.5h23.9M1481.8 689.5h3M1401.2 698.3h3M1407.2 698.3h11.9M1434.1 698.3h9M1449 698.3h3M1455 698.3h3M1460.9 698.3h11.9M1428.1 700.5h3M1455 700.5h6M1416.1 707.2h3M1628.2 707.2h6M1646.1 707.2h6M1401.2 709.4h6M1410.2 709.4h6M1419.1 709.4h3M1437 709.4h17.9M1472.9 709.4h6M1481.8 709.4h3M1619.2 709.4h3M1625.2 709.4h6M1634.2 709.4h3M1401.2 718.2h6M1460.9 718.2h6M1616.3 718.2h6M1625.2 718.2h3M1631.2 718.2h3M1637.2 718.2h3M1643.1 718.2h3M1649.1 718.2h3M1404.2 724.9h3M1428.1 724.9h6M1440 724.9h3M1469.9 724.9h11.9M1571.5 727.1h3M1577.4 727.1h3M1595.4 727.1h3M1604.3 727.1h3M1425.1 729.3h6M1553.5 731.5h9M1571.5 731.5h3M1583.4 731.5h3M1475.9 742.6h3M1484.8 742.6h3M1517.7 742.6h9M1529.6 742.6h6M1538.6 742.6h6M1553.5 742.6h6M1568.5 742.6h3M1583.4 742.6h3M1589.4 742.6h3M1598.3 742.6h3M1604.3 742.6h3M1610.3 742.6h3M1637.2 742.6h3M1649.1 742.6h3M1661.1 742.6h6M1670 742.6h6M1466.9 744.8h9M1496.8 744.8h3M1520.7 744.8h20.9M1520.7 749.2h3M1449 762.5h6M1466.9 762.5h6M1595.4 764.7h6M1466.9 766.9h6M1604.3 766.9h6M1640.2 766.9h6M1413.1 769.1h3M1455 769.1h3M1610.3 769.1h9M1628.2 769.1h26.9M1664.1 769.1h11.9"/>
<path stroke="#e98c6e" d="M1455 632h3M1478.9 632h6M1514.7 632h6M1550.5 632h9M1416.1 634.2h9M1428.1 634.2h9M1419.1 636.4h3M1455 636.4h6M1422.1 638.6h3M1655.1 638.6h6M1431.1 640.9h6M1481.8 640.9h3M1419.1 645.3h11.9M1469.9 645.3h6M1589.4 645.3h14.9M1416.1 647.5h3M1422.1 647.5h3M1431.1 647.5h9M1466.9 647.5h9M1434.1 649.7h3M1440 649.7h3M1419.1 651.9h3M1443 651.9h3M1458 651.9h3M1469.9 651.9h6M1478.9 651.9h3M1649.1 651.9h11.9M1670 651.9h6M1517.7 654.1h3M1544.6 654.1h3M1640.2 654.1h3M1667 654.1h3M1428.1 656.3h11.9M1449 656.3h3M1452 663h6M1460.9 663h3M1466.9 663h3M1440 665.2h3M1401.2 667.4h9M1425.1 676.2h6M1670 676.2h3M1458 680.6h3M1637.2 687.3h9M1413.1 689.5h9M1425.1 689.5h3M1434.1 689.5h3M1589.4 691.7h3M1404.2 698.3h3M1419.1 698.3h6M1428.1 698.3h6M1458 698.3h3M1472.9 698.3h14.9M1401.2 700.5h3M1419.1 700.5h9M1431.1 700.5h6M1440 700.5h3M1449 700.5h6M1404.2 707.2h11.9M1440 707.2h14.9M1583.4 707.2h3M1589.4 707.2h3M1622.2 707.2h6M1634.2 707.2h11.9M1652.1 707.2h6M1670 707.2h3M1466.9 709.4h6M1478.9 709.4h3M1622.2 709.4h3M1410.2 718.2h3M1419.1 718.2h9M1458 718.2h3M1469.9 718.2h6M1646.1 718.2h3M1434.1 724.9h3M1562.5 731.5h9M1493.8 733.7h3M1443 735.9h6M1452 735.9h3M1481.8 742.6h3M1565.5 742.6h3M1571.5 742.6h6M1586.4 742.6h3M1592.4 742.6h3M1658.1 742.6h3M1667 742.6h3M1499.8 744.8h3M1511.7 744.8h3M1517.7 744.8h3M1640.2 744.8h3M1499.8 749.2h9M1517.7 749.2h3M1523.7 749.2h3M1431.1 751.4h3M1419.1 762.5h11.9M1437 762.5h3M1443 762.5h6M1455 762.5h11.9M1472.9 766.9h3M1601.3 766.9h3M1637.2 766.9h3M1664.1 766.9h3M1619.2 769.1h3M1625.2 769.1h3"/>
<path stroke="#d96753" d="M1437 632h3M1449 632h3M1458 632h3M1544.6 632h6M1598.3 632h3M1673 632h3M1410.2 636.4h3M1416.1 636.4h3M1422.1 636.4h3M1428.1 636.4h3M1434.1 636.4h3M1443 636.4h3M1449 636.4h3M1419.1 638.6h3M1425.1 638.6h9M1469.9 638.6h3M1610.3 638.6h3M1661.1 638.6h3M1595.4 643.1h14.9M1401.2 645.3h3M1407.2 645.3h3M1431.1 645.3h6M1440 645.3h3M1449 645.3h3M1466.9 645.3h3M1586.4 645.3h3M1413.1 651.9h6M1422.1 651.9h3M1446 651.9h3M1643.1 654.1h3M1649.1 654.1h3M1655.1 654.1h3M1661.1 654.1h3M1673 654.1h3M1673 660.8h3M1434.1 665.2h6M1410.2 667.4h3M1416.1 667.4h3M1595.4 667.4h3M1622.2 669.6h6M1404.2 676.2h6M1413.1 676.2h3M1419.1 676.2h6M1544.6 676.2h3M1664.1 676.2h3M1673 676.2h3M1616.3 687.3h6M1625.2 687.3h11.9M1646.1 687.3h3M1565.5 691.7h3M1577.4 691.7h3M1583.4 691.7h6M1592.4 691.7h3M1670 691.7h6M1425.1 698.3h3M1404.2 700.5h6M1413.1 700.5h6M1437 700.5h3M1443 700.5h6M1401.2 707.2h3M1437 707.2h3M1455 707.2h3M1586.4 707.2h3M1595.4 707.2h9M1616.3 707.2h6M1673 707.2h3M1407.2 718.2h3M1413.1 718.2h6M1428.1 718.2h11.9M1443 718.2h6M1452 718.2h6M1449 735.9h3M1455 735.9h6M1565.5 740.4h3M1434.1 742.6h3M1452 742.6h3M1577.4 742.6h6M1502.8 744.8h9M1514.7 744.8h3M1586.4 744.8h11.9M1643.1 744.8h6M1508.7 749.2h9M1526.7 749.2h3M1431.1 762.5h6M1440 762.5h3M1425.1 766.9h11.9M1440 766.9h3M1475.9 766.9h11.9M1610.3 766.9h3M1631.2 766.9h6M1646.1 766.9h3M1652.1 766.9h11.9M1667 766.9h9M1622.2 769.1h3"/>
<path stroke="#c7423f" d="M1404.2 632h9M1440 632h9M1452 632h3M1523.7 632h20.9M1559.5 632h6M1568.5 632h3M1592.4 632h6M1601.3 632h14.9M1670 632h3M1574.4 634.2h3M1401.2 636.4h9M1413.1 636.4h3M1425.1 636.4h3M1431.1 636.4h3M1446 636.4h3M1452 636.4h3M1407.2 638.6h3M1472.9 638.6h3M1613.3 638.6h3M1625.2 638.6h6M1634.2 638.6h11.9M1664.1 638.6h6M1625.2 643.1h3M1404.2 645.3h3M1410.2 645.3h9M1437 645.3h3M1443 645.3h6M1452 645.3h9M1463.9 645.3h3M1401.2 651.9h3M1407.2 651.9h6M1425.1 651.9h3M1437 651.9h6M1449 651.9h9M1646.1 654.1h3M1652.1 654.1h3M1658.1 654.1h3M1664.1 654.1h3M1670 654.1h3M1553.5 660.8h3M1670 660.8h3M1616.3 663h3M1622.2 663h11.9M1649.1 663h3M1661.1 663h9M1460.9 665.2h3M1413.1 667.4h3M1571.5 667.4h6M1592.4 667.4h3M1598.3 667.4h3M1628.2 669.6h6M1401.2 676.2h3M1410.2 676.2h3M1416.1 676.2h3M1541.6 676.2h3M1547.6 676.2h6M1589.4 676.2h11.9M1625.2 676.2h11.9M1658.1 676.2h6M1667 676.2h3M1428.1 685.1h3M1622.2 687.3h3M1649.1 687.3h3M1568.5 691.7h9M1580.4 691.7h3M1410.2 700.5h3M1592.4 707.2h3M1658.1 707.2h3M1667 707.2h3M1440 718.2h3M1449 718.2h3M1589.4 731.5h6M1511.7 733.7h3M1559.5 740.4h6M1568.5 740.4h3M1574.4 740.4h3M1580.4 740.4h3M1425.1 742.6h3M1431.1 742.6h3M1437 742.6h14.9M1550.5 744.8h6M1559.5 744.8h3M1565.5 744.8h3M1574.4 744.8h3M1580.4 744.8h6M1598.3 744.8h6M1634.2 744.8h3M1649.1 744.8h3M1670 744.8h6M1413.1 751.4h3M1422.1 751.4h9M1434.1 751.4h6M1437 766.9h3M1613.3 766.9h3M1622.2 766.9h9M1649.1 766.9h3"/>
<path stroke="#b41c2d" d="M1401.2 632h3M1428.1 632h3M1565.5 632h3M1571.5 632h20.9M1616.3 632h3M1628.2 632h9M1640.2 632h3M1646.1 632h23.9M1571.5 634.2h3M1577.4 634.2h6M1586.4 634.2h9M1410.2 638.6h9M1434.1 638.6h3M1440 638.6h11.9M1463.9 638.6h3M1616.3 638.6h9M1631.2 638.6h3M1670 638.6h3M1401.2 643.1h6M1422.1 643.1h3M1449 643.1h6M1458 643.1h9M1619.2 643.1h6M1628.2 643.1h6M1652.1 643.1h9M1673 643.1h3M1460.9 645.3h3M1460.9 647.5h3M1431.1 651.9h6M1571.5 651.9h3M1550.5 660.8h3M1556.5 660.8h6M1577.4 660.8h6M1607.3 660.8h9M1598.3 663h17.9M1619.2 663h3M1634.2 663h14.9M1652.1 663h9M1670 663h6M1458 665.2h3M1577.4 667.4h3M1589.4 667.4h3M1601.3 676.2h3M1622.2 676.2h3M1637.2 676.2h9M1416.1 685.1h11.9M1652.1 687.3h3M1604.3 707.2h6M1661.1 707.2h6M1496.8 733.7h9M1508.7 733.7h3M1514.7 733.7h6M1571.5 740.4h3M1577.4 740.4h3M1407.2 742.6h3M1428.1 742.6h3M1455 742.6h6M1472.9 742.6h3M1416.1 744.8h9M1541.6 744.8h9M1556.5 744.8h3M1562.5 744.8h3M1568.5 744.8h6M1577.4 744.8h3M1604.3 744.8h6M1616.3 744.8h17.9M1637.2 744.8h3M1652.1 744.8h6M1667 744.8h3M1416.1 751.4h6M1443 751.4h6M1404.2 766.9h3M1616.3 766.9h6"/>
<path stroke="#8e0d25" d="M1419.1 632h3M1425.1 632h3M1431.1 632h6M1619.2 632h9M1637.2 632h3M1643.1 632h3M1583.4 634.2h3M1401.2 638.6h6M1437 638.6h3M1452 638.6h11.9M1466.9 638.6h3M1652.1 638.6h3M1673 638.6h3M1407.2 643.1h6M1419.1 643.1h3M1425.1 643.1h17.9M1455 643.1h3M1610.3 643.1h9M1634.2 643.1h9M1646.1 643.1h6M1661.1 643.1h3M1670 643.1h3M1544.6 645.3h3M1562.5 645.3h3M1568.5 645.3h3M1446 647.5h3M1452 647.5h6M1404.2 651.9h3M1428.1 651.9h3M1568.5 651.9h3M1586.4 651.9h3M1443 660.8h9M1562.5 660.8h14.9M1583.4 660.8h23.9M1616.3 660.8h3M1622.2 660.8h3M1637.2 660.8h3M1643.1 660.8h6M1667 660.8h3M1577.4 663h9M1589.4 663h6M1580.4 667.4h3M1586.4 667.4h3M1565.5 676.2h3M1580.4 676.2h9M1646.1 676.2h9M1634.2 682.9h3M1401.2 685.1h3M1407.2 685.1h6M1655.1 687.3h3M1466.9 693.9h9M1610.3 707.2h6M1505.7 733.7h3M1520.7 733.7h3M1404.2 742.6h3M1410.2 742.6h6M1460.9 742.6h11.9M1401.2 744.8h9M1413.1 744.8h3M1610.3 744.8h6M1661.1 744.8h3M1440 751.4h3M1407.2 766.9h3M1458 766.9h9"/>
<path stroke="#67001f" d="M1413.1 632h6M1422.1 632h3M1646.1 638.6h6M1413.1 643.1h6M1443 643.1h6M1643.1 643.1h3M1664.1 643.1h6M1547.6 645.3h14.9M1565.5 645.3h3M1443 647.5h3M1449 647.5h3M1458 647.5h3M1463.9 647.5h3M1562.5 651.9h6M1574.4 651.9h11.9M1452 660.8h14.9M1619.2 660.8h3M1625.2 660.8h11.9M1640.2 660.8h3M1649.1 660.8h17.9M1401.2 663h35.8M1586.4 663h3M1595.4 663h3M1583.4 667.4h3M1553.5 676.2h11.9M1568.5 676.2h11.9M1604.3 676.2h17.9M1655.1 676.2h3M1637.2 682.9h3M1404.2 685.1h3M1413.1 685.1h3M1463.9 693.9h3M1475.9 693.9h9M1443 727.1h23.9M1401.2 742.6h3M1416.1 742.6h9M1410.2 744.8h3M1658.1 744.8h3M1664.1 744.8h3M1401.2 766.9h3M1410.2 766.9h14.9M1443 766.9h14.9"/>
</g>
<path d="M1419.4 633.1l3 2.2 0 0 3 2.2 0 0 2.6 2.2 0 .1 2.5 2.2 0 0 2.5 2.2 0 0 2.9 2.2 0 0 3 2.2 0 0 2.8 2.2 0 0 2.7 2.2 0 0 2.6 2.2 0 0 2.7 2.2 0 0 1.3 2.2 0 0 .7 2.2 0 .1.6 2.2 0 0 .7 2.2 0 0 .7 2.2 0 0 .6 2.2 0 0 .7 2.2 0 0 .6 2.2 0 0 .9 2.2 0 0 .8 2.2 0 .1.9 2.2 0 0 .9 2.2 0 0 .9 2.2 0 0 .9 2.2 0 0 .9 2.2 0 0 .8 2.2 0 0 .7 2.2 0 0 .6 2.2 0 0 .6 2.2 0 0 .6 2.2 0 .1.6 2.2 0 0 .6 2.2 0 0 .6 2.2 0 0 .7 2.2 0 0 .6 2.2 0 0 1.1 2.2 0 0 1.1 2.2 0 0 1.2 2.2 0 .1 1.1 2.2 0 0 .8 2.2 0 0 .4 2.2 0 0 .4 2.2 0 0 .3 2.2 0 0 .4 2.2 0 0 .4 2.2 0 0 .3 2.2 0 0 .4 2.2 0 0 .4 2.2 0 .1.3 2.2 0 0 .6 2.2 0 0 .6 2.2 0 0 .7 2.2 0 0 .6 2.2 0 0 .6 2.2 0 0 .7 2.2 0 0 .7 2.2 0 .1.7 2.2 0 0 .6 2.2 0 0 .7 2.2 0 0 .7 2.2 0 0" stroke="#111" stroke-width="1" fill="none" stroke-linejoin="round"/>
<path d="M1492.7 477L1492.7 619.3" stroke="#111" stroke-width="1.5" fill="none"/>
<path d="M1492.7 630.9L1492.7 770.2" stroke="#111" stroke-width="1.5" fill="none"/>
<text x="1391.6" y="549.2" text-anchor="middle" font-size="24" textLength="64.4" lengthAdjust="spacingAndGlyphs" transform="rotate(-90 1391.6 549.2)">Water</text>
<text x="1392" y="700.4" text-anchor="middle" fill="#e4202a" font-size="24" textLength="52.2" lengthAdjust="spacingAndGlyphs" transform="rotate(-90 1392 700.4)">NaCl</text>
<rect x="1405.4" y="779.3" width="30.3" height="4.2" fill="#000"/>
<text x="1403.6" y="808.7" font-size="23" textLength="32.1" lengthAdjust="spacingAndGlyphs">5 s</text>
<defs><linearGradient id="cb" x1="0" x2="1" y1="0" y2="0"><stop offset="0" stop-color="#053061"/><stop offset=".1" stop-color="#2166ac"/><stop offset=".2" stop-color="#4393c3"/><stop offset=".3" stop-color="#92c5de"/><stop offset=".4" stop-color="#d1e5f0"/><stop offset=".5" stop-color="#f7f7f7"/><stop offset=".6" stop-color="#fddbc7"/><stop offset=".7" stop-color="#f4a582"/><stop offset=".8" stop-color="#d6604d"/><stop offset=".9" stop-color="#b2182b"/><stop offset="1" stop-color="#67001f"/></linearGradient></defs>
<rect x="1546.8" y="782.2" width="129.2" height="16.1" fill="url(#cb)"/>
<text x="1552.7" y="821.6" font-size="23" textLength="116" lengthAdjust="spacingAndGlyphs">±5% Δ<tspan font-style="italic">F</tspan>/<tspan font-style="italic">F</tspan><tspan font-size="14" dy="5">0</tspan></text>
<text x="1836" y="458.7" font-size="23" textLength="283.2" lengthAdjust="spacingAndGlyphs">End of each drinking bout</text>
<path d="M1928.5 463L1936.9 463L1932.7 478.5Z" fill="#000"/>
<path d="M1843.6 513.5l1.2 5.5 1.2 2.8 1.2 4.6 1.2-.2 1.3 1.7 1.2.7 1.2 2.3 1.2 1.2 1.3 1.5 1.2 1.2 1.2 4.4 1.2 2.2 1.2.5 1.3-.9 1.2-1 1.2 1.3 1.2 2 1.3.5 1.2-2.6 1.2-4.1 1.2.6 1.2 3.1 1.3 2.7 1.2 1.8 1.2-4.7 1.2-8.1 1.3-2 1.2-3.1 1.2-.9 1.2 2.7 1.3 1.3 1.2 1.7 1.2 3.1 1.2.6 1.2 1.4 1.3 4.3 1.2 4.4 1.2.5 1.2 1.4 1.3 2.2 1.2 1.7 1.2-2.7 1.2-1.2 1.2 2.7 1.3 7.5 1.2 7.5 1.2 6.4 1.2 1.3 1.3-1.7 1.2-1 1.2 2.7 1.2 2.6 1.2 1.1 1.3.7 1.2.7 1.2 2.1 1.2 5 1.3 4.2 1.2-.3 1.2.6 1.2 4.7 1.3 3.2 1.2 2.4 1.2 2 1.2-1.3 1.2-3.6 1.3.3 1.2 3.4 1.2 4 1.2 3.4 1.3 1.6 1.2.7 1.2 1.1 1.2 2.9 1.2 3.2 1.3 1.4 1.2-.3 1.2-.2 1.2 1.6 1.3 2.6 1.2-.6 1.2-4.9 1.2 1 1.2-.2 1.3-.8 1.2.7 1.2.9 1.2-.7 1.3.9 1.2.7 1.2 1 1.2 2.7 1.3 2.6 1.2 2.6 1.2-4.2 1.2-6.1 1.2-2.4 1.3-2.6 1.2-1.1 1.2-.4 1.2 2 1.3-.5 1.2-2.8 1.2-2.4 1.2-3.7 1.2-5.5 1.3-.2 1.2 5.5 1.2 2.4 1.2-4.3 1.3-3.9 1.2-4 1.2-1 1.2.6 1.2-2.3 1.3-7 1.2-1.4 1.2.2 1.2-2.5 1.3-5.1 1.2-2.4 1.2-1.2 1.2 1.3 1.3.4 1.2-1.7 1.2 1.7 1.2 2.6 1.2-.8 1.3 1.4 1.2 1 1.2-2.8 1.2 6.9 1.3 1.8 1.2.4 1.2 1.6 1.2-2 1.2-6.3 1.3-2.3 1.2-.4 1.2-.4 1.2-.4 1.3.6 1.2-1 1.2-4.6 1.2-1.6 1.2.1 1.3-4.5 1.2-1.1 1.2 2.1 1.2.1 1.3-1 1.2 1.4 1.2 1.9 1.2-1.9 1.3-2.8 1.2-.2 1.2 3.2 1.2 2.3 1.2 1.1 1.3.6 1.2 3.6 1.2 2.2 1.2 1.5 1.3.8 1.2.6 1.2 2.2 1.2 1.9 1.2.9 1.3-1.4 1.2-1.4 1.2-2.5 1.2-1.7 1.3 6.7 1.2 8.3 1.2 2.2 1.2-2.4 1.3-5.5 1.2-4.6 1.2 2.6 1.2.3 1.2-1 1.3-.1 1.2 3.8 1.2 5.7 1.2 1 1.3-2.1 1.2-1.7 1.2-2.2 1.2 2 1.2 1.4 1.3 2 1.2-.9 1.2-4.1 1.2-.9 1.3.5 1.2-1.8 1.2-4.2 1.2 1.2 1.2-.9 1.3-4.4 1.2-.6 1.2-3.3 1.2-2.1 1.3.1 1.2 1.4 1.2.2 1.2-.2 1.3-1 1.2-3 1.2-1.5 1.2 5.3 1.2 3.8 1.3 3 1.2 3.7 1.2.1 1.2-.3 1.3 3.1 1.2 2.4 1.2-1.7 0-71.4-1.2 1-1.2 1.7-1.3-1-1.2-3-1.2-1.7-1.2 1.1-1.3.3-1.2-2-1.2-5.3-1.2-4.3-1.2 6.6-1.3-.1-1.2-1.2-1.2 4.6-1.2-1.3-1.3-.2-1.2 1.8-1.2-2.4-1.2-.2-1.3-1.8-1.2 1.5-1.2 8.2-1.2 8.8-1.2 3.8-1.3-.6-1.2-5-1.2.4-1.2 7.2-1.3 1.3-1.2-6.3-1.2-6.1-1.2 2.1-1.2 2.6-1.3-.9-1.2-.6-1.2.8-1.2 1-1.3-.5-1.2-3.2-1.2-2.6-1.2 1.5-1.2 6.4-1.3-1.3-1.2-2.3-1.2-1.9-1.2 1.7-1.3-12.1-1.2-6.1-1.2 4-1.2 10.5-1.3 7-1.2-.1-1.2-1.9-1.2-12.1-1.2-4-1.3 5.7-1.2 6-1.2-3.6-1.2-.8-1.3-5.5-1.2-4.2-1.2 2.6-1.2-6.2-1.2-5-1.3 6.6-1.2 6.2-1.2 1.7-1.2-2.6-1.3-4-1.2-.6-1.2 2.3-1.2 3.5-1.3-1.4-1.2-4.6-1.2 6.2-1.2 7.5-1.2-2.6-1.3-2.6-1.2 7.5-1.2.8-1.2 1.7-1.3 2.6-1.2 6.3-1.2 2.4-1.2-3.1-1.2.3-1.3-10.1-1.2-2.2-1.2 7-1.2.5-1.3-3.3-1.2-2.5-1.2 4.5-1.2-8.5-1.2.4-1.3 1.5-1.2 2.4-1.2 2.8-1.2-1.4-1.3 2.2-1.2 3-1.2-2.3-1.2-2-1.3 4.8-1.2 15.5-1.2-2.3-1.2 8.7-1.2 8-1.3.7-1.2-4-1.2.8-1.2 2.2-1.3-5.9-1.2-2.7-1.2 7.4-1.2 10.1-1.2 8.7-1.3-.9-1.2-4.7-1.2 8.1-1.2-3.8-1.3-.2-1.2 10-1.2 9.9-1.2 5.2-1.2-4.6-1.3-6.8-1.2-2.9-1.2 2.5-1.2 2.8-1.3 2.6-1.2 5.7-1.2-1.8-1.2-5.8-1.3 8.8-1.2-10.2-1.2-.8-1.2 2.8-1.2-.1-1.3-1.2-1.2 3.4-1.2 4.3-1.2 2.7-1.3 1.1-1.2-.8-1.2-8.3-1.2-10.6-1.2-1.1-1.3 6.7-1.2-1.7-1.2-1.4-1.2-2.3-1.3 1.9-1.2 4.8-1.2-.2-1.2-1.1-1.2-3.7-1.3-9.4-1.2-1.2-1.2-2.5-1.2-4.2-1.3-3.5-1.2-4.4-1.2-.1-1.2 4.2-1.3.1-1.2-5.3-1.2-3.9-1.2-2.4-1.2 3.9-1.3 5.3-1.2-6.2-1.2-12.5-1.2 1.5-1.3-16.1-1.2-6.8-1.2 14-1.2-.8-1.2 2.6-1.3-3.3-1.2-4.2-1.2-3-1.2-2.8-1.3-.5-1.2-5-1.2-9-1.2-.6-1.2 8.2-1.3-9.8-1.2-5.7-1.2 11.2-1.2-3-1.3-.4-1.2 2.1-1.2 2.5-1.2 6.4-1.3 1.9-1.2-4.4-1.2-4.5-1.2-3.6-1.2-1.8-1.3 2.3-1.2 5.6-1.2 8.2-1.2.6-1.3-1.1-1.2-2-1.2 1.3-1.2-7.5-1.2 3.3-1.3-3.6-1.2.8-1.2-6.3-1.2-6.4-1.3-5.3-1.2-4.3-1.2-4.7-1.2.9-1.2 2Z" fill="#cfcfcf" fill-opacity="0.85"/>
<path d="M1843.6 586.8l1.2 2.6 1.2 1.4 1.2.2 1.2 4 1.3-2.4 1.2-2.9 1.2 1.3 1.2-.1 1.3-4.2 1.2-1.3 1.2-.3 1.2-2 1.2-4 1.3-5.5 1.2.1 1.2 1.5 1.2 1.5 1.3-3.4 1.2-5.1 1.2 4 1.2 4.2 1.2 4.9 1.3 4 1.2.4 1.2-1 1.2.7 1.3.6 1.2 3 1.2 3.2 1.2-5.6 1.3-.9 1.2-3.5 1.2-3 1.2-1.5 1.2-3.4 1.3-4.5 1.2-2.9 1.2.3 1.2 1.2 1.3 5.1 1.2.8 1.2-3.6 1.2 10.4 1.2 8.4 1.3 1.1 1.2-1.1 1.2-1.1 1.2-2.8 1.3.3 1.2 3.1 1.2 1.5 1.2-1.1 1.2-1.9 1.3-.9 1.2 3.9 1.2 7 1.2 4.2 1.3-4.3 1.2-6.4 1.2-4.1 1.2 2.8 1.3-1.9 1.2-8.3 1.2-2.5 1.2 7.7 1.2 9.3 1.3 7.3 1.2 2 1.2-2.2 1.2-1.3 1.3-2.5 1.2 2.4 1.2 4.9 1.2 6.8 1.2 3.4 1.3 10.5 1.2 5.6 1.2 3.2 1.2 5.6 1.3.3 1.2 11.5 1.2 4.2 1.2-4.7 1.2-1 1.3-2.5 1.2-.5 1.2 3.5 1.2 3.4 1.3-.6 1.2.5 1.2 6.6 1.2 2.5 1.3 4.2 1.2.5 1.2 3.5 1.2-4.2 1.2-5.8 1.3 2.2 1.2 3.4 1.2-.8 1.2-8.5 1.3-5.4 1.2 3.2 1.2 2.9 1.2-3 1.2 6.7 1.3-1.7 1.2-5.2 1.2-4.6 1.2-5.6 1.3-2.1 1.2 3.2 1.2-.8 1.2-5.4 1.2-.2 1.3.6 1.2-5.4 1.2-4.5 1.2 1.5 1.3 3.6 1.2 1.5 1.2 1.7 1.2-1.4 1.3 1 1.2 4.2 1.2.4 1.2-5.6 1.2-5.1 1.3-6.7 1.2-2.2 1.2-1 1.2-1.2 1.3-5.9 1.2-7.2 1.2.6 1.2 5.7 1.2 1.8 1.3-1.6 1.2.6 1.2-.1 1.2-2.2 1.3 3.7 1.2-1.9 1.2.4 1.2 4.4 1.2-.2 1.3-.6 1.2.8 1.2 7.3 1.2 2 1.3-6.3 1.2.9 1.2-2 1.2-.3 1.3.2 1.2 5.6 1.2 4.4 1.2-3.5 1.2-3.7 1.3.7 1.2 1.2 1.2-2.6 1.2-1.2 1.3-.9 1.2.9 1.2 5.4 1.2.7 1.2-2.5 1.3-2.1 1.2-1.4 1.2-2.8 1.2-2.9 1.3 1 1.2-.7 1.2 2.6 1.2 2 1.3 1.1 1.2-2.3 1.2-8.3 1.2 2.5 1.2.7 1.3.2 1.2.4 1.2-.4 1.2-.7 1.3-2.8 1.2 3.7 1.2-.1 1.2-3.1 1.2-4.8 1.3-1.8 1.2 2.7 1.2 1.8 1.2-.8 1.3.9 1.2.8 1.2 2.7 1.2 3.5 1.2 1.7 1.3-.7 1.2-.2 1.2 1.4 1.2.2 1.3-2.4 1.2-.7 1.2 6.2 1.2 1.8 1.3-1.7 1.2 1.5 1.2-.6 1.2-4 1.2.5 1.3 0 1.2-6 1.2-3.1 1.2 2.1 1.3 8.5 1.2 2.2 1.2-5 0-43.4-1.2-3.8-1.2-2.8-1.3-1.6-1.2-1.5-1.2-.2-1.2 2-1.3 6.4-1.2 3.8-1.2 1.1-1.2 2.5-1.2.6-1.3-3.1-1.2-3.5-1.2-.3-1.2-.8-1.3-3-1.2-2.3-1.2.5-1.2 1.4-1.3 3.3-1.2-.8-1.2-2.5-1.2-1.3-1.2-.4-1.3-1.4-1.2-3-1.2-2.4-1.2 1.8-1.3 1.4-1.2 4.7-1.2-2.7-1.2.4-1.2 3.6-1.3.3-1.2.4-1.2 3-1.2.8-1.3-2-1.2-1.6-1.2-2.4-1.2 1.4-1.2 2.1-1.3-3.2-1.2-.6-1.2-.1-1.2 5.8-1.3-.9-1.2-3.1-1.2 3.4-1.2 6.1-1.3 3-1.2-.4-1.2-3.9-1.2-7.7-1.2.3-1.3 8.8-1.2 1.8-1.2 4.5-1.2-5.9-1.3-5.8-1.2 1-1.2 5.9-1.2 2.1-1.2-3.5-1.3-2.8-1.2-1.8-1.2.6-1.2 5.9-1.3-10.8-1.2-1.6-1.2 5.6-1.2-4.8-1.3-5.7-1.2 2-1.2 1.6-1.2.5-1.2 2-1.3.6-1.2 1-1.2-.5-1.2-3.9-1.3-1-1.2.7-1.2-2.2-1.2-1.7-1.2 4-1.3 5.8-1.2 5.5-1.2 4.4-1.2-.5-1.3-.2-1.2 7.4-1.2 8.4-1.2 2-1.2-1.7-1.3-3-1.2-2.6-1.2-3.7-1.2-6.5-1.3-3.9-1.2 4.8-1.2 3.8-1.2.9-1.3 4.3-1.2 4.4-1.2 2.1-1.2 1.1-1.2 2.1-1.3 4-1.2.5-1.2.7-1.2 1.9-1.3 7.1-1.2 1.4-1.2 1.5-1.2-1-1.2-.2-1.3-4-1.2 6.2-1.2 8.9-1.2-3.9-1.3-4.6-1.2 6.9-1.2 8.6-1.2-.1-1.2-.7-1.3-2.4-1.2-1.8-1.2-7.7-1.2-5.7-1.3-1-1.2 3.3-1.2.8-1.2.4-1.3 1.4-1.2 1.8-1.2 1.9-1.2-1.9-1.2-3.9-1.3-6-1.2-1.2-1.2-4.2-1.2-3.6-1.3-7.8-1.2-3.9-1.2-9.8-1.2-11.8-1.2 2.2-1.3 8.9-1.2 2.1-1.2-4-1.2-10.5-1.3-9.4-1.2-6.4-1.2-1.9-1.2 6.5-1.2 4.4-1.3-2.9-1.2 2.3-1.2 7.8-1.2 5-1.3 3.9-1.2-3.7-1.2-6.4-1.2-.9-1.3-1.3-1.2-4-1.2-2.7-1.2 2-1.2-2.5-1.3 3.6-1.2 6.8-1.2-2.4-1.2-.9-1.3-3.8-1.2-11.6-1.2-7.4-1.2-.1-1.2-.4-1.3 1-1.2.6-1.2-5.1-1.2 1.1-1.3 4.5-1.2 6.5-1.2 3.3-1.2-3.1-1.2.4-1.3 3.4-1.2 2.3-1.2 2-1.2-3-1.3-2.6-1.2 3.4-1.2 4.3-1.2-.2-1.3-5.3-1.2-5.9-1.2-4.9-1.2-3.5-1.2.1-1.3 6.5-1.2-4.4-1.2-5.9-1.2 2.1-1.3 9-1.2 7.7-1.2 1.3-1.2 1.8-1.2-7.1-1.3-6.3-1.2 5-1.2 7.5-1.2 3.2-1.3 2.9-1.2-1.9-1.2-4-1.2-2-1.2-6.5Z" fill="#f6b0b2" fill-opacity="0.6"/>
<path d="M1843.6 506.9l1.2 4.1 1.2 4.3 1.2 3.2 1.2 1.4 1.3.3 1.2 1.6 1.2 2.8 1.2 1.5 1.3.6 1.2 1.5 1.2 2.7 1.2 2.8 1.2.9 1.3-.1 1.2-.2 1.2.8 1.2.7 1.3-.7 1.2-1.8 1.2-1.8 1.2.7 1.2 2.7 1.3 1.3 1.2-1.6 1.2-3.5 1.2-4 1.3-3.7 1.2-3.2 1.2-1.5 1.2 2.6 1.3 3.4 1.2 1.6 1.2.5 1.2.9 1.2 3.8 1.3 4.2 1.2 2.9 1.2 1.9 1.2 2.4 1.3 2.2 1.2.2 1.2-2 1.2-1.1 1.2 3.4 1.3 6.8 1.2 7.1 1.2 5.4 1.2 2.4 1.3-.9 1.2-1.4 1.2 1.4 1.2 3.3 1.2 2.2 1.3.7 1.2.4 1.2 1.8 1.2 3.2 1.3 1.9 1.2 1.2 1.2 3.2 1.2 4.2 1.3 3.2 1.2 2.6 1.2 1.9 1.2-.9 1.2-3.4 1.3-1.4 1.2 3 1.2 5.7 1.2 2.9 1.3-.6 1.2-.2 1.2 2.2 1.2 3.7 1.2 3.9 1.3 2 1.2 0 1.2-1.2 1.2-1.9 1.3-1 1.2.8 1.2.4 1.2-.9 1.2-.4 1.3.4 1.2 1.2 1.2.6 1.2-.8 1.3-.5 1.2.3 1.2.4 1.2.5 1.3 1.2 1.2.7 1.2-2.2 1.2-4.2 1.2-4.4 1.3-2.9 1.2-1.5 1.2-.7 1.2.5 1.3.6 1.2-2.3 1.2-4.5 1.2-4.4 1.2-3.8 1.3-2.3 1.2.9 1.2 2 1.2 0 1.3-2.9 1.2-4.4 1.2-3.7 1.2-2.4 1.2-2.4 1.3-3.4 1.2-3.3 1.2-1.8 1.2-1.7 1.3-2.7 1.2-2.7 1.2-1.4 1.2-.2 1.3.2 1.2-.4 1.2.5 1.2 1.3 1.2.7 1.3-.5 1.2-.3 1.2 1.1 1.2 3.3 1.3 1.9 1.2.9 1.2 1.1 1.2-1.6 1.2-3.8 1.3-3.8 1.2-1.6 1.2-.7 1.2-1.4 1.3-1 1.2-1.1 1.2-1.5 1.2-1.2 1.2-1.6 1.3-1.9 1.2-.2 1.2 1.3 1.2.4 1.3-.7 1.2-.3 1.2.1 1.2-1.3 1.3-1.2 1.2.5 1.2 1.6 1.2 1.4 1.2 1.5 1.3 2.1 1.2 2.8 1.2 1.3 1.2-.1 1.3-.7 1.2 1.8 1.2 4 1.2 2.9 1.2.9 1.3-3 1.2-4.5 1.2-2.5 1.2 0 1.3 5.1 1.2 5.9 1.2 3.3 1.2.1 1.3-4 1.2-3 1.2-1.2 1.2.1 1.2 1.5 1.3 1.5 1.2 1.5 1.2 1.5 1.2 1 1.3.7 1.2 0 1.2 0 1.2 1.1 1.2 1.3 1.3.3 1.2-1.9 1.2-1.3 1.2.3 1.3.2 1.2-2.3 1.2-3.3 1.2-1.8 1.2-.4 1.3-1.4 1.2-2.5 1.2-2.2 1.2-1.6 1.3-.5 1.2 1.1 1.2 1.3 1.2-.6 1.3-2.8 1.2-2.7 1.2.3 1.2 3.1 1.2 2.7 1.3.9 1.2 1 1.2 2.4 1.2 3.1 1.3 3 1.2 1.6 1.2-1.3" stroke="#000" stroke-width="2" fill="none" stroke-linejoin="round"/>
<path d="M1843.6 572.6l1.2 2.8 1.2 2.2 1.2 2.9 1.2 2.3 1.3-1.5 1.2-3.8 1.2-3.6 1.2-1.3 1.3 1.3 1.2 1.5 1.2-.4 1.2-2.4 1.2-4.1 1.3-4.4 1.2-1.5 1.2 1.1 1.2-.8 1.3-4.2 1.2-.6 1.2 2.8 1.2 5.5 1.2 5.9 1.3 3.9 1.2-.6 1.2-3.6 1.2.1 1.3 3.4 1.2 3.2 1.2.8 1.2-1.5 1.3-3.1 1.2-3.4 1.2-2.9 1.2-2.2 1.2-1.9 1.3-2.7 1.2-2.6 1.2-.3 1.2 1.5 1.3.2 1.2-.2 1.2 2.5 1.2 5.7 1.2 6.6 1.3 5 1.2 2.3 1.2-1.1 1.2-4.1 1.3-3.6 1.2-.8 1.2.9 1.2 2.2 1.2 2 1.3 1.8 1.2 3.1 1.2 3.8 1.2 1.8 1.3-3.1 1.2-3.7 1.2-1.9 1.2-.6 1.3-3 1.2-5.9 1.2-1.5 1.2 4.9 1.2 7.6 1.3 5.9 1.2 3.3 1.2 2.3 1.2.4 1.3-1.7 1.2 1.1 1.2 5.5 1.2 5.4 1.2 5.3 1.3 5.3 1.2 4.7 1.2 4.5 1.2 3.5 1.3 4.1 1.2 6.2 1.2 5.1 1.2-2 1.2-3.5 1.3-2.5 1.2 0 1.2 1.2 1.2-.6 1.3.3 1.2 3.2 1.2 5.3 1.2 4.4 1.3 2.9 1.2 1.3 1.2-1.5 1.2-2.8 1.2-2.8 1.3.9 1.2-.5 1.2-3.9 1.2-6 1.3-.5 1.2 1.6 1.2 1.1 1.2-.6 1.2-3 1.3-3 1.2-.7 1.2-.1 1.2-3 1.3-4.1 1.2-3 1.2-2 1.2-1.9 1.2-2.5 1.3-3.3 1.2-3.7 1.2-2.3 1.2 1.4 1.3 5.7 1.2 4.6 1.2 1.7 1.2-.3 1.3.8 1.2 1.8 1.2-1.6 1.2-4.9 1.2-5.1 1.3-3 1.2-2.2 1.2-2.5 1.2-3.8 1.3-4.5 1.2-4 1.2-.3 1.2 1.4 1.2.9 1.3.6 1.2.2 1.2.7 1.2 1.3 1.3-1.3 1.2-3.3 1.2-.2 1.2 2 1.2 2.6 1.3 2.9 1.2 3.1 1.2 3.6 1.2 1.2 1.3-.7 1.2-1.3 1.2-2.1 1.2-.9 1.3 2.1 1.2 3 1.2 1.8 1.2-1.2 1.2-.9 1.3 1.4 1.2.6 1.2-2.2 1.2-3 1.3-2 1.2.5 1.2 2.9 1.2 1.1 1.2-.6 1.3-3 1.2-3.8 1.2-1.7 1.2 1.4 1.3 2.1 1.2 0 1.2.2 1.2-.1 1.3-1.5 1.2-3.1 1.2-2.3 1.2 1.3 1.2 2.7 1.3.4 1.2-.9 1.2-1.3 1.2-1 1.3-.2 1.2.5 1.2-.7 1.2-2.5 1.2-3 1.3-.9 1.2 2 1.2 1 1.2.4 1.3 0 1.2-.1 1.2 1.4 1.2 2.9 1.2 1.7 1.3-.7 1.2-.7 1.2.3 1.2.1 1.3-.3 1.2.5 1.2 2.4 1.2 3.2 1.3 1.7 1.2.4 1.2-1.9 1.2-2.7 1.2-3 1.3-3.4 1.2-3.6 1.2-.3 1.2 3.9 1.3 2.9 1.2 1.7 1.2 1.2" stroke="#ec1c24" stroke-width="2" fill="none" stroke-linejoin="round"/>
<path d="M1836.9 479.7L1836.9 666.5" stroke="#262626" stroke-width="1.3" fill="none"/>
<path d="M1820.5 479.7L1836.9 479.7" stroke="#262626" stroke-width="1.3" fill="none"/>
<text x="1813" y="487" text-anchor="end" font-size="24.2" textLength="13.1" lengthAdjust="spacingAndGlyphs">2</text>
<path d="M1820.5 541.8L1836.9 541.8" stroke="#262626" stroke-width="1.3" fill="none"/>
<text x="1813" y="549.1" text-anchor="end" font-size="24.2" textLength="13.1" lengthAdjust="spacingAndGlyphs">1</text>
<path d="M1820.5 604L1836.9 604" stroke="#262626" stroke-width="1.3" fill="none"/>
<text x="1813" y="611.3" text-anchor="end" font-size="24.2" textLength="13.1" lengthAdjust="spacingAndGlyphs">0</text>
<path d="M1820.5 666.5L1836.9 666.5" stroke="#262626" stroke-width="1.3" fill="none"/>
<text x="1813" y="673.8" text-anchor="end" font-size="24.2" textLength="26.1" lengthAdjust="spacingAndGlyphs">–1</text>
<text x="1846.7" y="641.6" font-size="20" textLength="48.2" lengthAdjust="spacingAndGlyphs">Water</text>
<text x="1846.7" y="666.2" fill="#e4202a" font-size="20" textLength="41.6" lengthAdjust="spacingAndGlyphs">NaCl</text>
<text x="1762.3" y="573.2" font-size="25" text-anchor="middle" transform="rotate(-90 1762.3 573.2)" textLength="102.4" lengthAdjust="spacingAndGlyphs">Δ<tspan font-style="italic">F</tspan>/<tspan font-style="italic">F</tspan><tspan font-size="15.5" dy="6">0</tspan><tspan dy="-6"> (%)</tspan></text>
<path d="M1843.6 741.1l1.4-.5 1.5-.6 1.5-.5 1.5-.5 1.5-.6 1.5-.5 1.5-.6 1.4-.5 1.5-.5 1.5-.4 1.5-.5 1.5-.5 1.5-.4 1.5-.5 1.5-.5 1.5-.5 1.4-.5 1.5-.5 1.5-.6 1.5-.5 1.5-.5 1.5-.6 1.5-.5 1.4-.6 1.5-.6 1.5-.7 1.5-.7 1.5-.7 1.5-.6 1.5-.7 1.5-.7 1.5-.6 1.4-.4 1.5-.3 1.5-.3 1.5-.4 1.5-.3 1.5-.4 1.5-.3 1.4-.3 1.5-.5 1.5-.5 1.5-.4 1.5-.5 1.5-.5 1.5-.5 1.5-.4 1.5-.5 1.4-.7 1.5-.6 1.5-.7 1.5-.7 1.5-.7 1.5-.6 1.5-.7 1.4-.7 1.5-.8 1.5-.8 1.5 18.8 1.5 18.9 1.5-.7 1.5-.7 1.5-.6 1.5-.7 1.4-.3 1.5-.3 1.5-.2 1.5-.3 1.5-.1 1.5-.2 1.5-.1 1.4-.1 1.5-.2 1.5-.1 1.5-.1 1.5-.2 1.5.8 1.5.8 1.5.8 1.5.9 1.4 0 1.5 0 1.5 0 1.5 0 1.5 0 1.5 0 1.5 0 1.4 0 1.5-.3 1.5-.3 1.5-.3 1.5-.2 1.5-.3 1.5-.3 1.5-.2 1.5-.3 1.4-.1 1.5-.1 1.5-.1 1.5-.1 1.5 0 1.5-.1 1.5-.1 1.4-.1 1.5-.1 1.5-.1 1.5-.1 1.5-.1 1.5.2 1.5.2 1.5.2 1.5.1 1.4.2 1.5.2 1.5.7 1.5.6 1.5.7 1.5.7 1.5-.4 1.4-.3 1.5-.4 1.5-.3 1.5-.4 1.5-.4 1.5 0 1.5-.1 1.5-.1 1.5-.1 1.4-.1 1.5-.1 1.5-.1 1.5-.1 1.5-.1 1.5-.1 1.5 0 1.4-.1 1.5.1 1.5.1 1.5.2 1.5.1 1.5.1 1.5.2 1.5.1 1.5.1 1.4.1 1.5 0 1.5.1 1.5 0 1.5.1 1.5 0 1.5.1 1.4 0 1.5 0 1.5.1 1.5 0 1.5.1 1.5-.1 1.5-.1 1.5-.1 1.5-.1 1.4-.1 1.5-.1 1.5 0 1.5-.1 1.5-.1 1.5-.1 1.5-.1 1.4-.1 1.5 0 1.5.1 1.5 0 1.5.1 1.5 0 1.5.1 1.5 0 1.5.1 1.4 0 1.5.1 1.5 0 1.5 0 0-3.7-1.5-.1-1.5 0-1.5-.1-1.4 0-1.5 0-1.5-.1-1.5 0-1.5-.1-1.5 0-1.5-.1-1.5 0-1.5-.1-1.4.1-1.5.1-1.5.1-1.5.1-1.5.1-1.5.1-1.5.1-1.4.1-1.5 0-1.5.1-1.5.1-1.5.1-1.5 0-1.5-.1-1.5 0-1.5-.1-1.4 0-1.5-.1-1.5 0-1.5 0-1.5-.1-1.5 0-1.5-.1-1.4 0-1.5-.2-1.5-.1-1.5-.1-1.5-.2-1.5-.1-1.5-.1-1.5-.2-1.5-.1-1.4.1-1.5.1-1.5.1-1.5.1-1.5 0-1.5.1-1.5.1-1.4.1-1.5.1-1.5.1-1.5.1-1.5.1-1.5.3-1.5.4-1.5.4-1.5.3-1.4.4-1.5.3-1.5-.6-1.5-.7-1.5-.7-1.5-.7-1.5-.1-1.4-.2-1.5-.2-1.5-.2-1.5-.2-1.5-.1-1.5.1-1.5 0-1.5.1-1.5.1-1.4.1-1.5.1-1.5.1-1.5.1-1.5.1-1.5.1-1.5 0-1.4.1-1.5.3-1.5.3-1.5.2-1.5.3-1.5.3-1.5.3-1.5.2-1.5.3-1.4 0-1.5 0-1.5 0-1.5 0-1.5 0-1.5 0-1.5 0-1.4 0-1.5-.8-1.5-.8-1.5-.8-1.5-.8-1.5.1-1.5.1-1.5.2-1.5.1-1.4.1-1.5.2-1.5.1-1.5.1-1.5.3-1.5.3-1.5.2-1.4.3-1.5.7-1.5.7-1.5.6-1.5.7-1.5-18.8-1.5-18.9-1.5.8-1.5.9-1.4.6-1.5.7-1.5.7-1.5.6-1.5.7-1.5.7-1.5.7-1.4.6-1.5.5-1.5.5-1.5.4-1.5.5-1.5.5-1.5.5-1.5.4-1.5.5-1.4.3-1.5.4-1.5.3-1.5.3-1.5.4-1.5.3-1.5.4-1.4.3-1.5.7-1.5.6-1.5.7-1.5.7-1.5.7-1.5.6-1.5.7-1.5.7-1.4.5-1.5.5-1.5.6-1.5.5-1.5.6-1.5.5-1.5.5-1.4.6-1.5.4-1.5.5-1.5.5-1.5.5-1.5.4-1.5.5-1.5.5-1.5.4-1.4.6-1.5.5-1.5.6-1.5.5-1.5.5-1.5.6-1.5.5-1.4.5Z" fill="#cfcfcf"/>
<path d="M1843.6 740.8l1.4-.2 1.5-.2 1.5-.2 1.5-.2 1.5-.2 1.5-.2 1.5-.2 1.4-.2 1.5 1.4 1.5 1.3 1.5-.1 1.5-.1 1.5-.1 1.5-.1 1.5-.1 1.5-.1 1.4-.1 1.5-.1 1.5-.1 1.5-.2 1.5-.4 1.5-.5 1.5-.4 1.4-.4 1.5-.5 1.5-.4 1.5-.5 1.5-.4 1.5-.5 1.5-.4 1.5-.5 1.5-.4 1.4-.7 1.5-.7 1.5-.7 1.5-.6 1.5-.7 1.5-.7 1.5-.6 1.4-.7 1.5-.8 1.5-.8 1.5-.8 1.5-.8 1.5-.9 1.5-.8 1.5-.8 1.5-.8 1.4-1.6 1.5-1.6 1.5-1.6 1.5-1.6 1.5-1.6 1.5-1.7 1.5-1.2 1.4-1.2 1.5-1.2 1.5-1.2 1.5 19.6 1.5 19.7 1.5-.6 1.5-.5 1.5-.5 1.5-.6 1.4-.6 1.5-.7 1.5-.7 1.5-.7 1.5-.8 1.5-.8 1.5-.8 1.4-.8 1.5-.8 1.5-.8 1.5-.8 1.5-.8 1.5.5 1.5.6 1.5.5 1.5.5 1.4.1 1.5.1 1.5 0 1.5.1 1.5.1 1.5 0 1.5.1 1.4.1 1.5 0 1.5 0 1.5 0 1.5 0 1.5 0 1.5 0 1.5 0 1.5 0 1.4.1 1.5.1 1.5.2 1.5.1 1.5.1 1.5.2 1.5.1 1.4.1 1.5.3 1.5.3 1.5.3 1.5.2 1.5.3 1.5.3 1.5-.8 1.5-.9 1.4-.8 1.5-.8 1.5 0 1.5 0 1.5 0 1.5 0 1.5 0 1.4 0 1.5.4 1.5.3 1.5.3 1.5.4 1.5.3 1.5.3 1.5.4 1.5.3 1.4 0 1.5 0 1.5 0 1.5 0 1.5 0 1.5 0 1.5 0 1.4 0 1.5.2 1.5.2 1.5.2 1.5.2 1.5.2 1.5.2 1.5.2 1.5.2 1.4.2 1.5.2 1.5.2 1.5.2 1.5.2 1.5.2 1.5.2 1.4.2 1.5 0 1.5-.1 1.5-.1 1.5-.1 1.5-.1 1.5-.1 1.5-.1 1.5-.1 1.4-.1 1.5 0 1.5-.1 1.5-.1 1.5-.3 1.5-.3 1.5-.2 1.4-.3 1.5-.3 1.5-.2 1.5-.3 1.5-.3 1.5.1 1.5.1 1.5 0 1.5.1 1.4.1 1.5 0 1.5.1 1.5.1 0-3.3-1.5 0-1.5-.1-1.5-.1-1.4 0-1.5-.1-1.5-.1-1.5 0-1.5-.1-1.5.3-1.5.2-1.5.3-1.5.3-1.4.2-1.5.3-1.5.3-1.5.2-1.5.1-1.5.1-1.5.1-1.4.1-1.5.1-1.5.1-1.5.1-1.5.1-1.5.1-1.5 0-1.5.1-1.5.1-1.4-.2-1.5-.2-1.5-.2-1.5-.2-1.5-.2-1.5-.2-1.5-.2-1.4-.2-1.5-.2-1.5-.2-1.5-.2-1.5-.2-1.5-.2-1.5-.2-1.5-.2-1.5-.2-1.4 0-1.5 0-1.5 0-1.5 0-1.5 0-1.5 0-1.5 0-1.4 0-1.5-.3-1.5-.4-1.5-.3-1.5-.4-1.5-.3-1.5-.3-1.5-.4-1.5-.3-1.4 0-1.5 0-1.5 0-1.5 0-1.5 0-1.5 0-1.5.8-1.4.8-1.5.8-1.5.8-1.5-.2-1.5-.3-1.5-.3-1.5-.2-1.5-.3-1.5-.3-1.4-.1-1.5-.2-1.5-.1-1.5-.1-1.5-.2-1.5-.1-1.5-.1-1.4-.2-1.5 0-1.5 0-1.5 0-1.5 0-1.5 0-1.5 0-1.5 0-1.5 0-1.4 0-1.5-.1-1.5-.1-1.5 0-1.5-.1-1.5-.1-1.5 0-1.4-.1-1.5-.5-1.5-.6-1.5-.5-1.5-.6-1.5.9-1.5.8-1.5.8-1.5.8-1.4.8-1.5.8-1.5.8-1.5.8-1.5.7-1.5.7-1.5.6-1.4.7-1.5.5-1.5.6-1.5.5-1.5.5-1.5-19.6-1.5-19.6-1.5 1.2-1.5 1.2-1.4 1.2-1.5 1.2-1.5 1.6-1.5 1.6-1.5 1.7-1.5 1.6-1.5 1.6-1.4 1.6-1.5.8-1.5.8-1.5.8-1.5.8-1.5.8-1.5.8-1.5.8-1.5.9-1.4.6-1.5.7-1.5.7-1.5.6-1.5.7-1.5.7-1.5.7-1.4.6-1.5.5-1.5.4-1.5.5-1.5.4-1.5.5-1.5.4-1.5.5-1.5.4-1.4.5-1.5.4-1.5.5-1.5.4-1.5.1-1.5.1-1.5.1-1.4.1-1.5.2-1.5.1-1.5.1-1.5.1-1.5.1-1.5.1-1.5-1.4-1.5-1.3-1.4.2-1.5.2-1.5.2-1.5.2-1.5.2-1.5.2-1.5.2-1.4.2Z" fill="#f6b0b2" fill-opacity="0.6"/>
<path d="M1843.6 739.2l1.4-.5 1.5-.5 1.5-.6 1.5-.5 1.5-.6 1.5-.5 1.5-.5 1.4-.6 1.5-.4 1.5-.5 1.5-.5 1.5-.5 1.5-.4 1.5-.5 1.5-.5 1.5-.4 1.4-.6 1.5-.5 1.5-.6 1.5-.5 1.5-.5 1.5-.6 1.5-.5 1.4-.5 1.5-.7 1.5-.7 1.5-.7 1.5-.6 1.5-.7 1.5-.7 1.5-.7 1.5-.6 1.4-.4 1.5-.3 1.5-.3 1.5-.4 1.5-.3 1.5-.3 1.5-.4 1.4-.3 1.5-.5 1.5-.5 1.5-.4 1.5-.5 1.5-.5 1.5-.4 1.5-.5 1.5-.5 1.4-.7 1.5-.6 1.5-.7 1.5-.7 1.5-.6 1.5-.7 1.5-.7 1.4-.7 1.5-.8 1.5-.8 1.5 18.9 1.5 18.8 1.5-.7 1.5-.7 1.5-.6 1.5-.7 1.4-.3 1.5-.2 1.5-.3 1.5-.3 1.5-.1 1.5-.1 1.5-.2 1.4-.1 1.5-.2 1.5-.1 1.5-.1 1.5-.2 1.5.9 1.5.8 1.5.8 1.5.8 1.4 0 1.5 0 1.5 0 1.5 0 1.5 0 1.5 0 1.5 0 1.4 0 1.5-.3 1.5-.3 1.5-.2 1.5-.3 1.5-.3 1.5-.2 1.5-.3 1.5-.3 1.4-.1 1.5-.1 1.5 0 1.5-.1 1.5-.1 1.5-.1 1.5-.1 1.4-.1 1.5-.1 1.5-.1 1.5-.1 1.5-.1 1.5.2 1.5.2 1.5.2 1.5.2 1.4.1 1.5.2 1.5.7 1.5.7 1.5.6 1.5.7 1.5-.3 1.4-.4 1.5-.4 1.5-.3 1.5-.4 1.5-.3 1.5-.1 1.5-.1 1.5-.1 1.5-.1 1.4-.1 1.5-.1 1.5-.1 1.5-.1 1.5 0 1.5-.1 1.5-.1 1.4-.1 1.5.1 1.5.2 1.5.1 1.5.1 1.5.2 1.5.1 1.5.1 1.5.2 1.4 0 1.5 0 1.5.1 1.5 0 1.5.1 1.5 0 1.5.1 1.4 0 1.5.1 1.5 0 1.5.1 1.5 0 1.5-.1 1.5-.1 1.5-.1 1.5-.1 1.4-.1 1.5 0 1.5-.1 1.5-.1 1.5-.1 1.5-.1 1.5-.1 1.4-.1 1.5.1 1.5 0 1.5.1 1.5 0 1.5 0 1.5.1 1.5 0 1.5.1 1.4 0 1.5.1 1.5 0 1.5.1" stroke="#000" stroke-width="2" fill="none" stroke-linejoin="round"/>
<path d="M1843.6 739.2l1.4-.2 1.5-.2 1.5-.2 1.5-.2 1.5-.2 1.5-.2 1.5-.2 1.4-.2 1.5 1.4 1.5 1.3 1.5-.1 1.5-.1 1.5-.1 1.5-.1 1.5-.1 1.5-.1 1.4-.1 1.5-.2 1.5-.1 1.5-.1 1.5-.4 1.5-.5 1.5-.4 1.4-.5 1.5-.4 1.5-.5 1.5-.4 1.5-.5 1.5-.4 1.5-.5 1.5-.4 1.5-.5 1.4-.6 1.5-.7 1.5-.7 1.5-.6 1.5-.7 1.5-.7 1.5-.7 1.4-.6 1.5-.8 1.5-.8 1.5-.9 1.5-.8 1.5-.8 1.5-.8 1.5-.8 1.5-.8 1.4-1.6 1.5-1.6 1.5-1.6 1.5-1.6 1.5-1.7 1.5-1.6 1.5-1.2 1.4-1.2 1.5-1.2 1.5-1.2 1.5 19.6 1.5 19.7 1.5-.6 1.5-.5 1.5-.6 1.5-.5 1.4-.7 1.5-.6 1.5-.7 1.5-.7 1.5-.8 1.5-.8 1.5-.8 1.4-.8 1.5-.8 1.5-.8 1.5-.8 1.5-.8 1.5.5 1.5.5 1.5.6 1.5.5 1.4.1 1.5.1 1.5 0 1.5.1 1.5.1 1.5 0 1.5.1 1.4.1 1.5 0 1.5 0 1.5 0 1.5 0 1.5 0 1.5 0 1.5 0 1.5 0 1.4.1 1.5.1 1.5.2 1.5.1 1.5.1 1.5.2 1.5.1 1.4.1 1.5.3 1.5.3 1.5.2 1.5.3 1.5.3 1.5.2 1.5-.8 1.5-.8 1.4-.8 1.5-.8 1.5 0 1.5 0 1.5 0 1.5 0 1.5 0 1.4 0 1.5.4 1.5.3 1.5.3 1.5.4 1.5.3 1.5.3 1.5.4 1.5.3 1.4 0 1.5 0 1.5 0 1.5 0 1.5 0 1.5 0 1.5 0 1.4 0 1.5.2 1.5.2 1.5.2 1.5.2 1.5.2 1.5.2 1.5.2 1.5.2 1.4.2 1.5.2 1.5.2 1.5.2 1.5.2 1.5.2 1.5.2 1.4.2 1.5-.1 1.5 0 1.5-.1 1.5-.1 1.5-.1 1.5-.1 1.5-.1 1.5-.1 1.4-.1 1.5-.1 1.5-.1 1.5 0 1.5-.3 1.5-.3 1.5-.2 1.4-.3 1.5-.3 1.5-.3 1.5-.2 1.5-.3 1.5.1 1.5 0 1.5.1 1.5.1 1.4 0 1.5.1 1.5.1 1.5 0" stroke="#e3222a" stroke-width="2" fill="none" stroke-linejoin="round"/>
<path d="M1836.9 693.5L1836.9 747.3" stroke="#262626" stroke-width="1.3" fill="none"/>
<path d="M1820.5 693.5L1836.9 693.5" stroke="#262626" stroke-width="1.3" fill="none"/>
<text x="1813" y="700.8" text-anchor="end" font-size="24.2" textLength="26.1" lengthAdjust="spacingAndGlyphs">10</text>
<path d="M1820.5 747.3L1836.9 747.3" stroke="#262626" stroke-width="1.3" fill="none"/>
<text x="1813" y="754.6" text-anchor="end" font-size="24.2" textLength="13.1" lengthAdjust="spacingAndGlyphs">0</text>
<path d="M1843.5 754.5L2111.3 754.5" stroke="#262626" stroke-width="1.3" fill="none"/>
<path d="M1843.5 754.5L1843.5 770.6" stroke="#262626" stroke-width="1.3" fill="none"/>
<text x="1843.5" y="794.7" text-anchor="middle" font-size="24.2" textLength="39.2" lengthAdjust="spacingAndGlyphs">–15</text>
<path d="M1932.8 754.5L1932.8 770.6" stroke="#262626" stroke-width="1.3" fill="none"/>
<text x="1932.8" y="794.7" text-anchor="middle" font-size="24.2" textLength="13.1" lengthAdjust="spacingAndGlyphs">0</text>
<path d="M2022 754.5L2022 770.6" stroke="#262626" stroke-width="1.3" fill="none"/>
<text x="2022" y="794.7" text-anchor="middle" font-size="24.2" textLength="26.1" lengthAdjust="spacingAndGlyphs">15</text>
<path d="M2111.3 754.5L2111.3 770.6" stroke="#262626" stroke-width="1.3" fill="none"/>
<text x="2111.3" y="794.7" text-anchor="middle" font-size="24.2" textLength="26.1" lengthAdjust="spacingAndGlyphs">30</text>
<text x="1977.5" y="821" text-anchor="middle" font-size="24.5" textLength="85" lengthAdjust="spacingAndGlyphs">Time (s)</text>
<text x="1730.2" y="721" text-anchor="middle" font-size="24.5" textLength="88" lengthAdjust="spacingAndGlyphs" transform="rotate(-90 1730.2 721)">Drinking</text>
<text x="1759.5" y="721" font-size="24.5" text-anchor="middle" transform="rotate(-90 1759.5 721)" textLength="97.7" lengthAdjust="spacingAndGlyphs">(licks s<tspan font-size="15.2" dy="-8">−1</tspan><tspan dy="8">)</tspan></text></svg></body></html>
